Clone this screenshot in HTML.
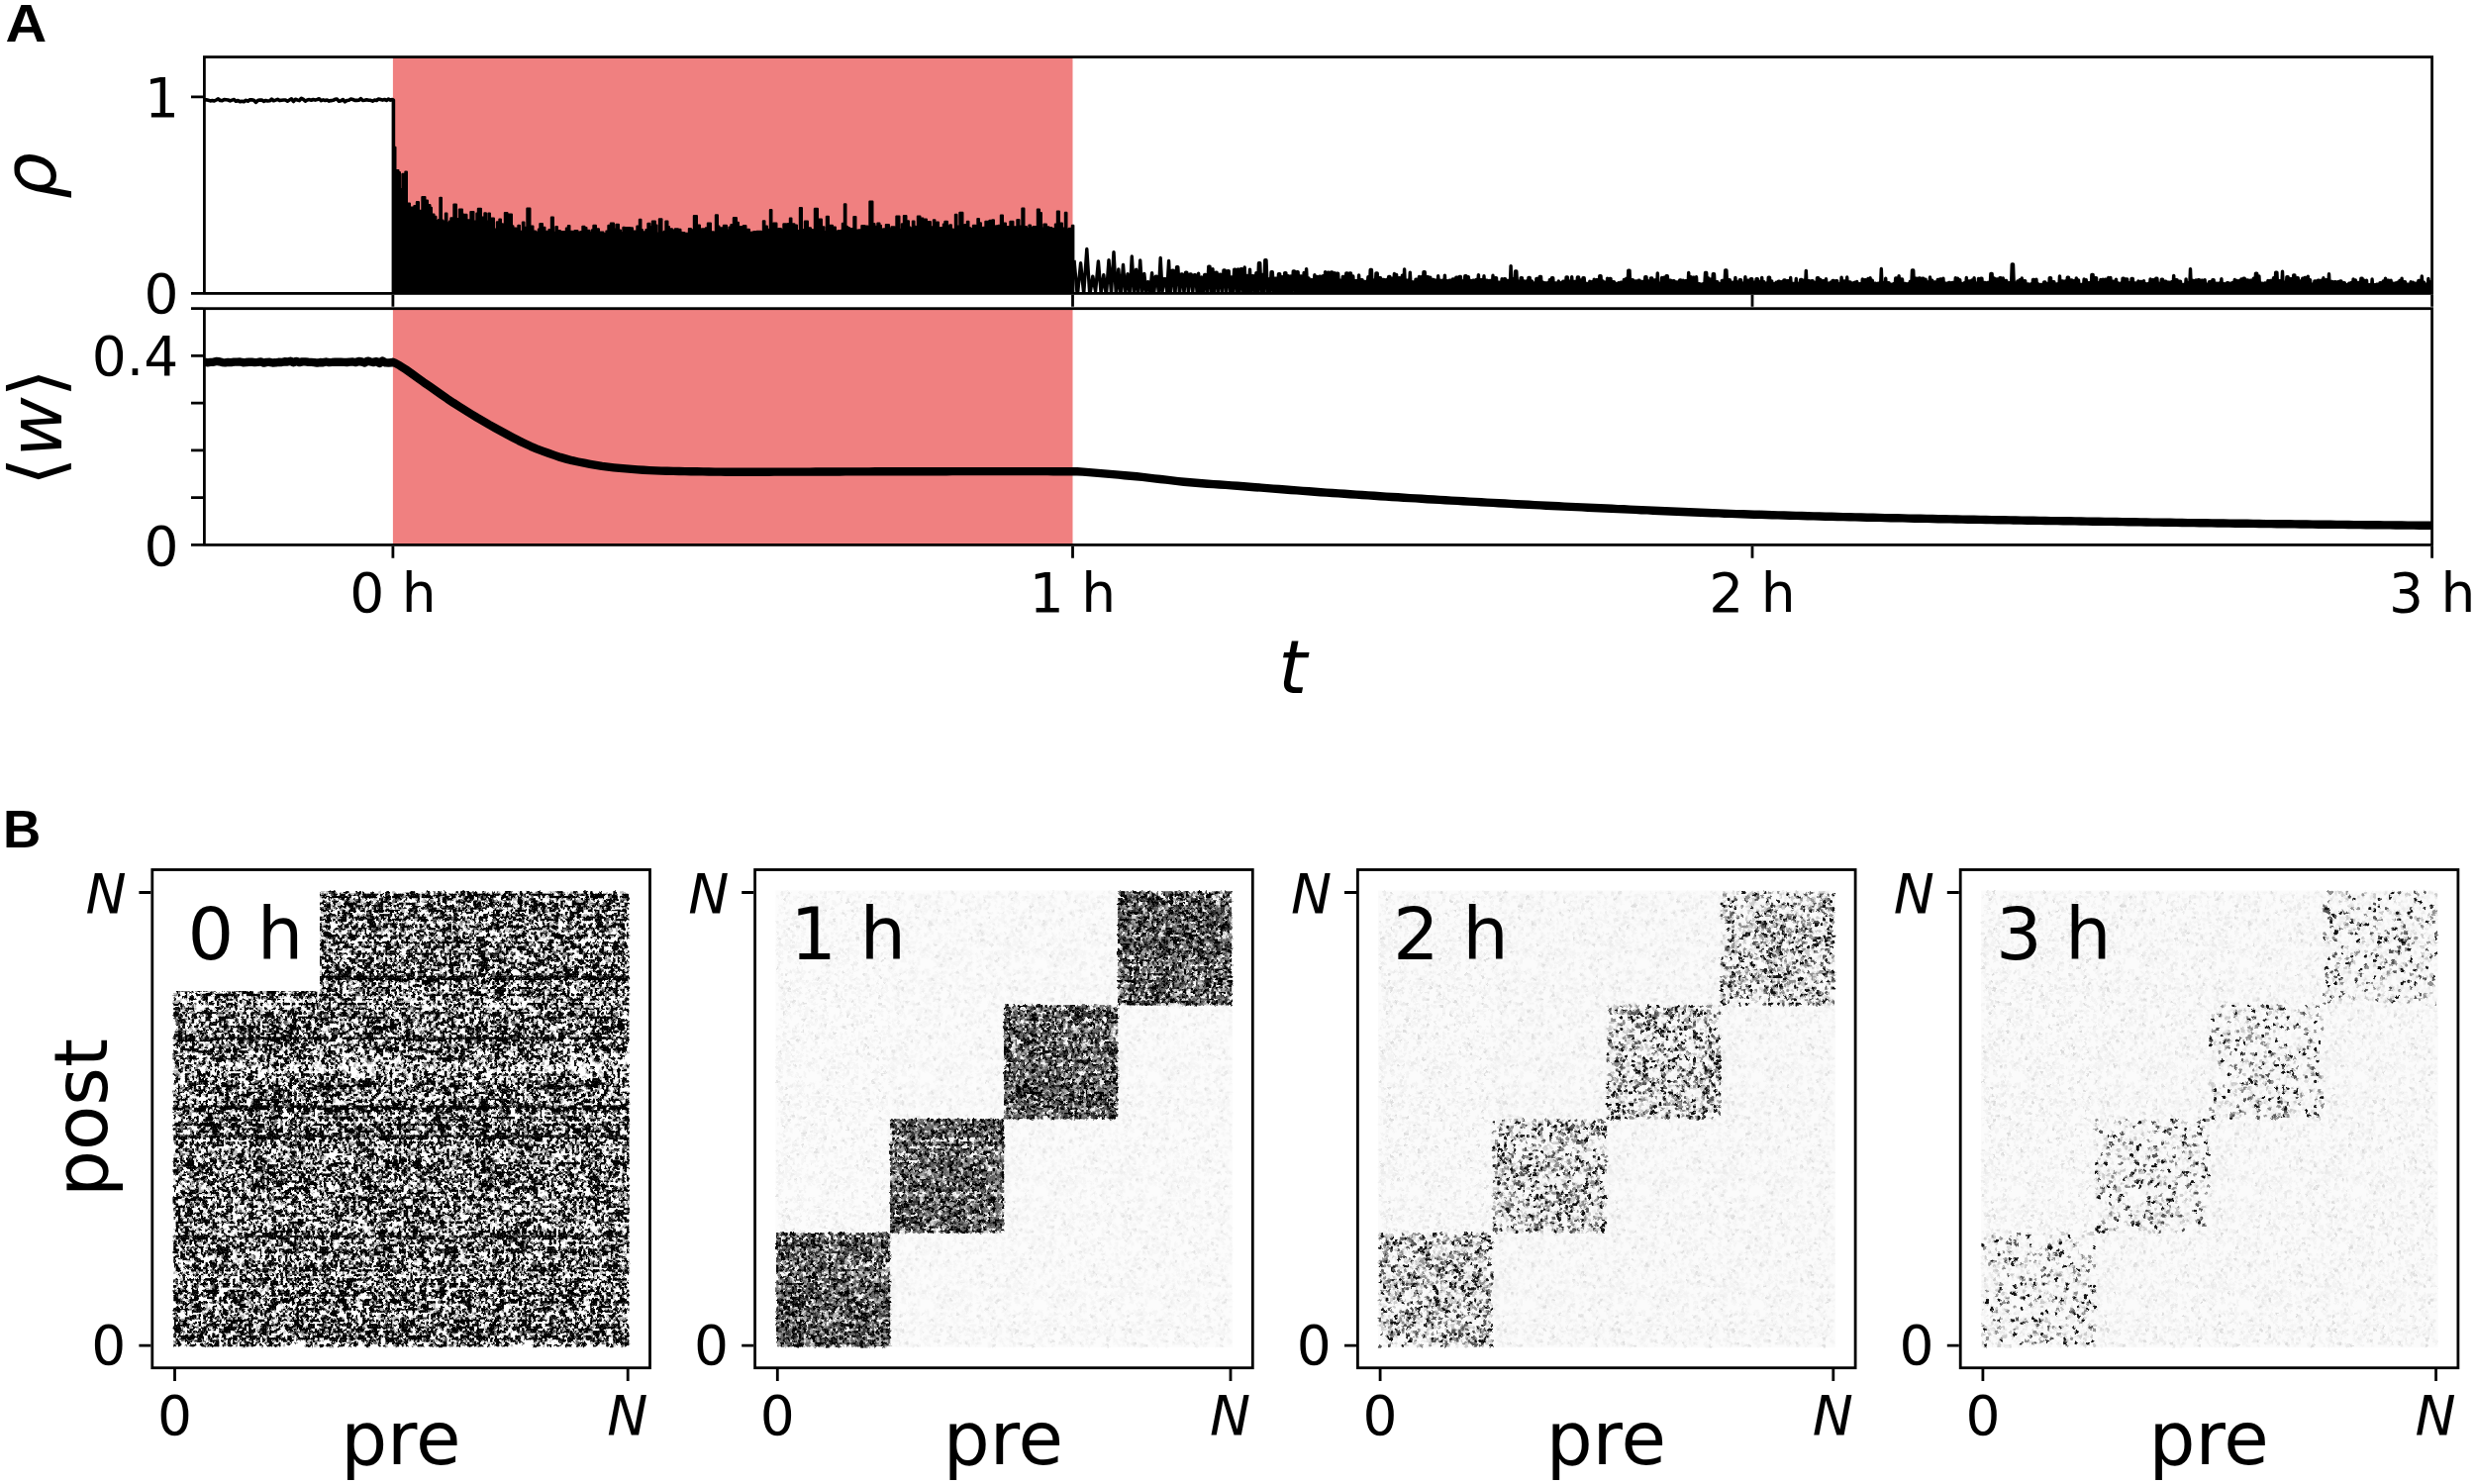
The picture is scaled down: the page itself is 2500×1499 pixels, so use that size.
<!DOCTYPE html><html><head><meta charset="utf-8"><title>Figure</title><style>html,body{margin:0;padding:0;background:#fff}svg{display:block}</style></head><body><svg width="2500" height="1499" viewBox="0 0 2500 1499" font-family="'DejaVu Sans','Liberation Sans',sans-serif" fill="#000">
<rect width="2500" height="1499" fill="#fff"/>
<rect x="396.9" y="57.6" width="686.6" height="238.8" fill="#f08080"/>
<rect x="396.9" y="311.7" width="686.6" height="238.7" fill="#f08080"/>
<clipPath id="c1"><rect x="206.4" y="57.6" width="2250.2" height="238.8"/></clipPath>
<g fill="none" stroke="#000" stroke-linejoin="round" stroke-linecap="butt">
<g clip-path="url(#c1)">
<polyline stroke-width="3.6" points="206.4,101.1 208.4,100.8 210.4,101.3 212.4,101.9 214.4,101.5 216.4,102 218.4,101 220.4,99.9 222.4,101.5 224.4,101.6 226.4,100.6 228.4,100.8 230.4,101 232.4,101.9 234.4,101.1 236.4,100.5 238.4,102.3 240.4,101.5 242.4,102.8 244.4,102.2 246.4,102.7 248.4,101.3 250.4,102.2 252.4,100.8 254.4,100.9 256.4,101.2 258.4,103.3 260.4,101.6 262.4,101.1 264.4,101 266.4,102.4 268.4,101.5 270.4,102 272.4,101.8 274.4,100.1 276.4,101.8 278.4,101.1 280.4,100.3 282.4,101.6 284.4,101.2 286.4,101 288.4,101 290.4,102.2 292.4,101 294.4,99.9 296.4,102.5 298.4,100.3 300.4,101 302.4,101.6 304.4,99.3 306.4,100.4 308.4,102.1 310.4,101 312.4,100.6 314.4,101.2 316.4,100.5 318.4,101.1 320.4,100.5 322.4,99.8 324.4,101.7 326.4,100.9 328.4,101.5 330.4,101 332.4,102.1 334.4,101.6 336.4,101.3 338.4,100.3 340.4,100.1 342.4,102.3 344.4,101.8 346.4,100.5 348.4,102.9 350.4,101.5 352.4,101.2 354.4,100 356.4,100.5 358.4,101.4 360.4,101.4 362.4,101.3 364.4,99.7 366.4,101.5 368.4,101.3 370.4,100.8 372.4,101.2 374.4,101.3 376.4,102.1 378.4,101.1 380.4,101.5 382.4,100 384.4,100.5 386.4,101.1 388.4,100.5 390.4,101.4 392.4,100.1 394.4,101.1 396.4,100.6 397.4,101.1 397.4,296.4"/>
<polygon fill="#000" stroke-width="2.2" points="397.4,296.4 397.4,148.8 399.4,148.8 399.4,172 402.4,172 402.4,174.2 403.9,174.2 403.9,191.2 406.4,191.2 406.4,175.9 409.4,175.9 409.4,173.6 410.9,173.6 410.9,205.6 413.9,205.6 413.9,209.5 416.9,209.5 416.9,210 418.4,210 418.4,208.1 420.9,208.1 420.9,204.2 422.9,204.2 422.9,212.9 424.9,212.9 424.9,213.7 426.4,213.7 426.4,199.1 429.4,199.1 429.4,202.6 431.9,202.6 431.9,207.2 434.4,207.2 434.4,209.8 435.9,209.8 435.9,216.6 438.4,216.6 438.4,218.9 440.4,218.9 440.4,223.2 442.9,223.2 442.9,222.2 444.4,222.2 444.4,199.8 445.9,199.8 445.9,222.7 447.4,222.7 447.4,223.8 449.9,223.8 449.9,215.7 451.4,215.7 451.4,225.4 453.9,225.4 453.9,223.7 455.4,223.7 455.4,220.4 458.4,220.4 458.4,206.6 460.9,206.6 460.9,221.1 463.9,221.1 463.9,211.5 466.9,211.5 466.9,216.6 468.4,216.6 468.4,223.5 469.9,223.5 469.9,216.9 471.4,216.9 471.4,224 472.9,224 472.9,222.4 475.4,222.4 475.4,214 478.4,214 478.4,223.7 481.4,223.7 481.4,215.7 482.9,215.7 482.9,210.8 485.9,210.8 485.9,219.5 487.9,219.5 487.9,222.7 489.4,222.7 489.4,215.4 490.9,215.4 490.9,223.5 493.4,223.5 493.4,215.6 494.9,215.6 494.9,229.9 496.4,229.9 496.4,220.7 498.9,220.7 498.9,231.7 501.9,231.7 501.9,224.4 504.4,224.4 504.4,221.6 505.9,221.6 505.9,226.3 507.9,226.3 507.9,229 509.9,229 509.9,215 512.4,215 512.4,232.9 513.9,232.9 513.9,216.5 516.9,216.5 516.9,228.4 518.4,228.4 518.4,230.5 521.4,230.5 521.4,230.9 523.4,230.9 523.4,227.8 524.9,227.8 524.9,233.9 527.9,233.9 527.9,224.5 529.4,224.5 529.4,229.9 532.4,229.9 532.4,210.7 535.4,210.7 535.4,228.5 538.4,228.5 538.4,233.6 540.9,233.6 540.9,234.6 543.9,234.6 543.9,231.7 545.4,231.7 545.4,226.1 547.9,226.1 547.9,229.8 550.4,229.8 550.4,233.8 552.4,233.8 552.4,234 554.4,234 554.4,232.1 556.9,232.1 556.9,219.7 558.9,219.7 558.9,234.9 561.4,234.9 561.4,229.2 562.9,229.2 562.9,233.2 565.9,233.2 565.9,234.2 568.9,234.2 568.9,234.2 571.9,234.2 571.9,230.7 573.9,230.7 573.9,228 575.4,228 575.4,233.9 578.4,233.9 578.4,235.7 580.4,235.7 580.4,233.2 583.4,233.2 583.4,234.7 586.4,234.7 586.4,234.1 588.4,234.1 588.4,228.8 590.4,228.8 590.4,230 592.4,230 592.4,232.9 595.4,232.9 595.4,235 597.9,235 597.9,232.4 599.4,232.4 599.4,227.9 601.9,227.9 601.9,231.4 604.9,231.4 604.9,234.5 606.9,234.5 606.9,234.5 609.4,234.5 609.4,236 612.4,236 612.4,233.5 614.4,233.5 614.4,227.9 616.9,227.9 616.9,225.5 619.9,225.5 619.9,231.6 622.4,231.6 622.4,226.9 624.9,226.9 624.9,232.6 626.9,232.6 626.9,235.2 629.4,235.2 629.4,229.9 630.9,229.9 630.9,230 633.9,230 633.9,230.1 636.4,230.1 636.4,230.4 638.9,230.4 638.9,233.6 641.9,233.6 641.9,234.6 643.4,234.6 643.4,228.5 645.9,228.5 645.9,221.8 647.4,221.8 647.4,232.2 648.9,232.2 648.9,234.4 650.9,234.4 650.9,235.3 652.4,235.3 652.4,232 654.4,232 654.4,225.9 656.4,225.9 656.4,229 658.9,229 658.9,223.6 661.9,223.6 661.9,227.6 663.4,227.6 663.4,235.5 665.9,235.5 665.9,221.3 668.4,221.3 668.4,234.5 670.9,234.5 670.9,233.8 672.4,233.8 672.4,223.5 674.4,223.5 674.4,229.1 675.9,229.1 675.9,231.3 678.9,231.3 678.9,232.6 681.9,232.6 681.9,231.4 684.9,231.4 684.9,231.8 687.4,231.8 687.4,234.9 688.9,234.9 688.9,235.2 691.4,235.2 691.4,235.8 692.9,235.8 692.9,235.8 695.9,235.8 695.9,231 697.9,231 697.9,232.4 700.9,232.4 700.9,218.1 703.9,218.1 703.9,227.5 706.9,227.5 706.9,231.8 708.9,231.8 708.9,231.4 711.4,231.4 711.4,232.6 712.9,232.6 712.9,230.4 714.9,230.4 714.9,225.6 717.9,225.6 717.9,234.4 720.9,234.4 720.9,234.8 722.9,234.8 722.9,217.3 724.9,217.3 724.9,228.6 726.4,228.6 726.4,231.5 727.9,231.5 727.9,230.3 730.9,230.3 730.9,227.9 733.9,227.9 733.9,232.6 736.4,232.6 736.4,229.5 738.4,229.5 738.4,227.1 740.9,227.1 740.9,220.2 743.9,220.2 743.9,224.9 745.9,224.9 745.9,234.9 747.9,234.9 747.9,229.1 750.9,229.1 750.9,228.2 753.4,228.2 753.4,234.5 754.9,234.5 754.9,231.9 756.9,231.9 756.9,234.9 759.9,234.9 759.9,234.6 761.4,234.6 761.4,234.2 764.4,234.2 764.4,233.8 767.4,233.8 767.4,233.8 768.9,233.8 768.9,234.7 770.9,234.7 770.9,223.3 772.4,223.3 772.4,228.5 774.9,228.5 774.9,232.9 776.4,232.9 776.4,231.9 777.9,231.9 777.9,212.2 779.4,212.2 779.4,232.5 781.4,232.5 781.4,225.7 784.4,225.7 784.4,233.3 786.4,233.3 786.4,231.2 788.9,231.2 788.9,232.4 791.4,232.4 791.4,226.4 794.4,226.4 794.4,229.1 795.9,229.1 795.9,226.1 797.9,226.1 797.9,220.6 799.4,220.6 799.4,226.4 802.4,226.4 802.4,227.6 804.9,227.6 804.9,233.1 807.9,233.1 807.9,210 809.9,210 809.9,232.2 812.9,232.2 812.9,223.7 815.9,223.7 815.9,230.4 818.9,230.4 818.9,232.2 820.9,232.2 820.9,232.4 822.9,232.4 822.9,210.9 825.9,210.9 825.9,232.3 827.4,232.3 827.4,221.7 829.9,221.7 829.9,229.3 832.4,229.3 832.4,234.1 834.9,234.1 834.9,218.8 836.9,218.8 836.9,230.4 838.4,230.4 838.4,227.8 840.9,227.8 840.9,229.7 843.9,229.7 843.9,233.8 846.4,233.8 846.4,233.1 849.4,233.1 849.4,232.9 850.9,232.9 850.9,225.8 852.9,225.8 852.9,206.3 854.4,206.3 854.4,228.8 855.9,228.8 855.9,230.2 857.9,230.2 857.9,231.1 859.9,231.1 859.9,231.2 862.4,231.2 862.4,219.1 864.4,219.1 864.4,232.6 867.4,232.6 867.4,232.3 870.4,232.3 870.4,228.1 873.4,228.1 873.4,228.5 876.4,228.5 876.4,231.2 878.4,231.2 878.4,203.7 881.4,203.7 881.4,226.2 883.4,226.2 883.4,228.9 886.4,228.9 886.4,225.5 888.4,225.5 888.4,227.9 889.9,227.9 889.9,231.5 892.4,231.5 892.4,231.4 894.9,231.4 894.9,227 897.9,227 897.9,231.3 900.4,231.3 900.4,229.4 903.4,229.4 903.4,231.1 905.4,231.1 905.4,218.5 908.4,218.5 908.4,231.8 910.9,231.8 910.9,226.4 912.9,226.4 912.9,218.2 915.4,218.2 915.4,223.4 917.9,223.4 917.9,229.5 919.4,229.5 919.4,230.6 921.9,230.6 921.9,223.6 923.4,223.6 923.4,228.8 924.9,228.8 924.9,231 926.9,231 926.9,218.6 929.4,218.6 929.4,220.7 932.4,220.7 932.4,226.1 934.4,226.1 934.4,221.6 935.9,221.6 935.9,224.4 937.4,224.4 937.4,224.2 939.9,224.2 939.9,229.3 942.9,229.3 942.9,222.4 944.4,222.4 944.4,225.3 946.4,225.3 946.4,224.6 947.9,224.6 947.9,232.2 949.9,232.2 949.9,230.1 952.9,230.1 952.9,226.5 954.4,226.5 954.4,223.8 956.9,223.8 956.9,228.5 959.4,228.5 959.4,227.3 960.9,227.3 960.9,231.7 962.4,231.7 962.4,231.9 964.9,231.9 964.9,216.8 966.4,216.8 966.4,228.6 969.4,228.6 969.4,214.9 972.4,214.9 972.4,228.5 974.4,228.5 974.4,227.1 976.9,227.1 976.9,223.8 978.4,223.8 978.4,230.1 979.9,230.1 979.9,231 982.9,231 982.9,227.9 985.4,227.9 985.4,229.6 987.4,229.6 987.4,221 988.9,221 988.9,225.4 990.9,225.4 990.9,231.8 992.9,231.8 992.9,229.8 995.4,229.8 995.4,223.8 997.4,223.8 997.4,230.7 999.4,230.7 999.4,222.8 1002.4,222.8 1002.4,222.4 1003.9,222.4 1003.9,231.4 1005.9,231.4 1005.9,228.3 1008.4,228.3 1008.4,227.9 1010.9,227.9 1010.9,217.6 1012.9,217.6 1012.9,229.3 1014.4,229.3 1014.4,225.5 1015.9,225.5 1015.9,231.7 1017.4,231.7 1017.4,229.2 1020.4,229.2 1020.4,223.9 1023.4,223.9 1023.4,230.9 1024.9,230.9 1024.9,229.3 1027.4,229.3 1027.4,222 1029.4,222 1029.4,228.7 1032.4,228.7 1032.4,210.7 1034.4,210.7 1034.4,229.2 1036.9,229.2 1036.9,231 1039.4,231 1039.4,227.6 1040.9,227.6 1040.9,230.1 1043.4,230.1 1043.4,229.2 1046.4,229.2 1046.4,231.8 1047.9,231.8 1047.9,211.6 1049.9,211.6 1049.9,215.2 1051.9,215.2 1051.9,230.5 1054.4,230.5 1054.4,226.7 1056.9,226.7 1056.9,229.3 1059.4,229.3 1059.4,230.2 1062.4,230.2 1062.4,231.2 1064.4,231.2 1064.4,231.8 1065.9,231.8 1065.9,226.5 1067.9,226.5 1067.9,213.5 1069.9,213.5 1069.9,225.6 1072.9,225.6 1072.9,230.7 1075.9,230.7 1075.9,214.9 1077.4,214.9 1077.4,231.6 1079.9,231.6 1079.9,230.8 1082.9,230.8 1082.9,227.8 1083.5,227.8 1084.3,227.8 1084.3,296.4"/>
<polyline stroke-width="3.4" points="1085,262.8 1088.3,298.8 1091.6,265.8 1094.7,296.6 1097.8,251.5 1100.8,298.4 1103.8,279.1 1106.6,294.4 1109.4,263.9 1112.1,295.9 1114.8,277.8 1117.4,298.9 1120,262.7 1122.5,296.5 1125,254.6 1127.4,298.6 1129.8,272 1132.1,298.6 1134.5,267.5 1136.7,296.3 1139,276.6 1141.2,298 1143.3,259 1145.5,296.4 1147.6,272.2 1149.7,297.4 1151.7,262.9 1153.8,295.3 1155.8,276.5 1157.7,294.4 1159.7,284.6 1161.6,296.2 1163.6,275.7 1165.5,298.4 1167.3,279.3 1168.5,279.3 1170.4,295.6 1172.2,260.5 1174,295 1175.8,281.8 1177,281.8 1178.8,294.8 1180.6,263.5 1182.3,297.8 1184,273.2 1185.2,273.2 1186.9,298.1 1188.6,269.6 1189.8,269.6 1191.5,298.6 1193.1,276.9 1194.3,276.9 1196,296.1 1197.6,275.1 1198.8,275.1 1200.4,295.8 1202,277 1203.2,277 1204.8,294.8 1206.3,277.7 1207.5,277.7 1209.1,294.9 1210.6,276.1 1212.1,295.8 1213.7,279.9 1215.2,298.4 1216.7,277.5 1217.9,277.5 1219.4,297.9 1220.8,269.2 1222,269.2 1223.5,298.1 1225,271.8 1226.4,298 1227.9,275.1 1229.1,275.1 1230.5,295.1 1231.9,277.1 1233.1,277.1 1234.6,296.3 1236,272.9 1237.2,272.9 1238.6,294.7 1240,273.6 1241.2,273.6 1242.6,295.5 1243.9,280 1245.3,296.5 1246.7,272.2 1247.9,272.2 1249.3,297.4 1250.6,271.9 1252,296.9 1253.3,271.8 1254.5,271.8 1255.8,294.8 1257.2,270 1258.5,297.7 1259.8,278.4 1261.2,295.5 1262.5,272.2 1263.8,298.3 1265.1,278.6 1266.3,278.6 1267.6,295.3 1268.9,275.6 1270.2,297.3 1271.5,265.6 1272.7,265.6 1274,297.8 1275.3,277.4 1276.6,295.8 1277.8,262.8 1279,262.8 1280.3,295.7 1281.6,282 1282.9,295.3 1284.1,274.8 1285.3,274.8 1286.6,295.9 1287.8,281.1 1289,281.1 1290.3,296.4 1291.5,276.7 1292.7,276.7 1294,297.6 1295.2,279.6 1296.5,296.6 1297.7,275.6 1298.9,275.6 1300.1,298 1301.4,278.7 1302.6,298.1 1303.8,279 1305,296.4 1306.3,273.9 1307.5,273.9 1308.7,296.3 1309.9,274.7 1311.1,274.7 1312.3,295.7 1313.5,278.9 1314.7,278.9 1315.9,297.8 1317.1,275.5 1318.4,296.4 1319.6,271.6 1320.8,295.6 1322,280.9 1323.2,296.8 1324.3,282.7 1325.5,282.7 1326.7,297 1327.9,277.7 1329.1,297.7 1330.3,279.4 1331.5,297.9 1332.7,279.1 1333.9,279.1 1335.1,297.4 1336.3,278.7 1337.4,297.9 1338.6,274.6 1339.8,295.6 1341,275.2 1342.2,275.2 1343.3,297 1344.5,275 1345.7,275 1346.9,296.2 1348.1,275.6 1349.2,295.7 1350.4,276.3 1351.6,276.3 1352.8,296.1 1353.9,283.2 1355.1,296.6 1356.3,279.5 1357.5,279.5 1358.6,295.4 1359.8,275.9 1361,275.9 1362.1,297.7 1363.3,276 1364.5,276 1365.7,295.7 1366.8,279 1368,297.9 1369.1,283.8 1370.3,283.8 1371.5,296.8 1372.6,277.9 1373.8,297.9 1374.9,282.6 1376.1,282.6 1377.3,296.7 1378.4,284.4 1379.6,284.4 1380.8,297 1381.9,279.8 1383.1,296.2 1384.2,272.5 1385.4,272.5 1386.5,296.1 1387.7,283.3 1388.8,296.5 1390,275.9 1391.2,275.9 1392.3,296.3 1393.4,280.8 1394.6,280.8 1395.8,296.8 1396.9,282.5 1398.1,282.5 1399.3,296.9 1400.4,282.4 1401.5,297.2 1402.7,279.5 1403.9,279.5 1405,296.7 1406.1,281.2 1407.3,297.6 1408.4,276.5 1409.5,296.5 1410.6,277.4 1411.8,297.4 1412.9,280.7 1414.1,280.7 1415.2,297.8 1416.4,278.2 1417.5,297.2 1418.6,271.9 1419.7,296.9 1420.9,283.3 1422.1,283.3 1423.2,296.3 1424.3,275.1 1425.5,296 1426.6,284.9 1427.8,284.9 1428.9,296.4 1430,282.1 1431.2,282.1 1432.3,296.8 1433.5,279.4 1434.6,297.1 1435.7,279.6 1436.8,296.9 1438,274.7 1439.2,274.7 1440.3,297.7 1441.4,279.8 1442.6,279.8 1443.7,297.7 1444.8,280.2 1446,297.6 1447.1,282.5 1448.3,282.5 1449.4,297.2 1450.5,283.2 1451.6,297.1 1452.7,278.8 1453.9,297 1455,283.2 1456.1,297.6 1457.2,283.2 1458.3,296.6 1459.4,278.2 1460.6,296.6 1461.7,283.8 1462.8,296 1463.9,283.2 1465.1,283.2 1466.2,296.5 1467.3,282 1468.5,282 1469.7,296.6 1470.8,280.1 1472,280.1 1473.1,297.1 1474.2,279.5 1475.4,279.5 1476.5,296.9 1477.6,283.9 1478.7,296 1479.8,278.8 1481,278.8 1482.2,296.3 1483.3,279.8 1484.4,296.3 1485.5,283.4 1486.6,297.2 1487.7,283.2 1488.9,283.2 1490,297.1 1491.1,282.4 1492.2,296.6 1493.4,277.7 1494.5,297.6 1495.6,282.7 1496.8,282.7 1497.9,296.4 1499,278.8 1500.1,297 1501.2,283.1 1502.4,283.1 1503.5,297.2 1504.6,283.5 1505.8,283.5 1506.9,297.4 1508,278.3 1509.2,296.3 1510.3,280.7 1511.5,280.7 1512.6,297.6 1513.7,285.2 1514.9,285.2 1516,296.2 1517.1,281.7 1518.2,297.5 1519.3,281.6 1520.5,281.6 1521.6,296.2 1522.7,283.4 1523.9,283.4 1525,296.7 1526.1,268.6 1527.2,296.9 1528.4,281.8 1529.5,296.1 1530.6,274 1531.8,274 1532.9,297.4 1534,284.2 1535.1,296.4 1536.2,280.6 1537.4,280.6 1538.5,297 1539.6,283.9 1540.7,297.6 1541.8,284 1542.9,296.7 1544,280.4 1545.2,280.4 1546.3,297.2 1547.4,284 1548.5,296.7 1549.6,286 1550.7,296.3 1551.9,281.5 1553.1,281.5 1554.2,296.7 1555.3,279.4 1556.5,279.4 1557.6,297.7 1558.7,285.3 1559.8,296.2 1560.9,285.8 1562,296.7 1563.1,285.8 1564.2,296.7 1565.3,282.8 1566.4,297 1567.5,280.7 1568.7,280.7 1569.8,297.3 1570.9,285.9 1572.1,285.9 1573.2,297.1 1574.3,283.9 1575.4,297.6 1576.5,285.6 1577.6,297 1578.7,284.3 1579.9,284.3 1581,296.5 1582.1,279.9 1583.3,279.9 1584.4,296.4 1585.5,284.1 1586.6,296.6 1587.7,279.7 1588.9,297 1590,284.4 1591.2,284.4 1592.3,296.6 1593.4,280 1594.6,280 1595.7,297.1 1596.8,282.9 1597.9,296.4 1599,280.8 1600.2,280.8 1601.3,297.1 1602.4,286.5 1603.6,286.5 1604.7,297.5 1605.8,284.1 1606.9,297.6 1608,284.8 1609.1,296.8 1610.2,282.2 1611.3,296.6 1612.4,282.6 1613.6,282.6 1614.7,297.1 1615.8,278.7 1617,278.7 1618.1,297.1 1619.2,284 1620.3,297 1621.4,285.1 1622.5,297 1623.6,281.1 1624.7,296.6 1625.8,281.4 1627,281.4 1628.1,296.7 1629.2,284.7 1630.4,284.7 1631.5,297.1 1632.6,286.5 1633.7,296.7 1634.8,285.7 1635.9,297.5 1637,285.2 1638.2,285.2 1639.3,297.4 1640.4,282.5 1641.5,297 1642.6,281.4 1643.7,296.7 1644.8,273.1 1646,273.1 1647.1,297.1 1648.2,282.7 1649.4,282.7 1650.5,297.3 1651.6,283.9 1652.8,283.9 1653.9,297.5 1655,283.3 1656.2,283.3 1657.3,296.5 1658.4,284.5 1659.6,284.5 1660.7,297.5 1661.8,279.8 1663,279.8 1664.1,297.1 1665.2,283.9 1666.3,296.7 1667.5,281 1668.7,281 1669.8,297.3 1670.9,282.9 1672.1,282.9 1673.2,297.1 1674.3,275.9 1675.4,297.3 1676.5,286.5 1677.6,297.4 1678.7,280.4 1679.8,297.4 1680.9,280.1 1682,296.7 1683.1,278.8 1684.3,278.8 1685.4,296.7 1686.5,283.3 1687.7,283.3 1688.8,297.1 1689.9,283.8 1691.1,283.8 1692.2,297.3 1693.3,285 1694.5,285 1695.6,297.3 1696.7,282.9 1697.9,282.9 1699,297.2 1700.1,283.1 1701.2,296.7 1702.3,283.6 1703.5,283.6 1704.6,297.3 1705.7,275.4 1706.8,297.2 1707.9,279.8 1709,297.4 1710.1,280.2 1711.3,280.2 1712.4,296.7 1713.5,279.8 1714.6,297.3 1715.7,286.7 1716.9,286.7 1718,296.6 1719.1,286.9 1720.3,286.9 1721.4,297.5 1722.5,275.5 1723.7,275.5 1724.8,296.7 1725.9,280.9 1727,296.6 1728.1,282.3 1729.2,296.6 1730.3,276.8 1731.5,276.8 1732.6,297 1733.7,284.7 1734.9,284.7 1736,297.3 1737.1,286.7 1738.2,297.3 1739.3,283.5 1740.5,283.5 1741.6,297.2 1742.7,273 1743.9,273 1745,297 1746.1,282.8 1747.3,282.8 1748.4,297.2 1749.5,285.2 1750.7,285.2 1751.8,296.7 1752.9,280.4 1754,297.1 1755.1,284.9 1756.2,297.2 1757.3,282.7 1758.5,282.7 1759.6,296.8 1760.7,286.2 1761.8,296.8 1762.9,279.7 1764,297.2 1765.1,283.1 1766.3,283.1 1767.4,297.1 1768.5,281.7 1769.7,281.7 1770.8,296.7 1771.9,285.2 1773,296.7 1774.1,281.6 1775.3,281.6 1776.4,296.8 1777.5,284.4 1778.6,297.1 1779.7,280.4 1780.8,297 1781.9,284.6 1783,297 1784.1,286.3 1785.2,297.4 1786.3,280.1 1787.5,280.1 1788.6,296.8 1789.7,283.9 1790.8,297 1791.9,286.7 1793,296.8 1794.1,285.1 1795.2,297.2 1796.3,284.1 1797.5,284.1 1798.6,297.3 1799.7,284.7 1800.8,297.1 1801.9,282.9 1803.1,282.9 1804.2,296.9 1805.3,283.6 1806.5,283.6 1807.6,297 1808.7,280.5 1809.8,296.9 1810.9,286.5 1812.1,286.5 1813.2,297.3 1814.3,281.5 1815.4,296.8 1816.5,286.5 1817.6,296.8 1818.7,282.4 1819.9,282.4 1821,297 1822.1,283.1 1823.2,296.9 1824.3,273.4 1825.4,297.2 1826.5,283.7 1827.7,283.7 1828.8,297.2 1829.9,283.6 1831.1,283.6 1832.2,296.9 1833.3,285.4 1834.4,297 1835.5,280.7 1836.7,280.7 1837.8,296.9 1838.9,282.5 1840,296.8 1841.1,283.7 1842.3,283.7 1843.4,297.3 1844.5,281.6 1845.6,297.1 1846.7,286.1 1847.8,297.3 1848.9,285.3 1850,296.9 1851.1,283.5 1852.3,283.5 1853.4,297.3 1854.5,283.6 1855.7,283.6 1856.8,297.2 1857.9,286.8 1859,297 1860.1,280.1 1861.2,296.8 1862.3,284 1863.5,284 1864.6,297.1 1865.7,280 1866.8,296.9 1867.9,284.9 1869.1,284.9 1870.2,297.3 1871.3,285.9 1872.4,297.4 1873.5,285.1 1874.6,296.9 1875.7,284.4 1876.8,297.3 1877.9,286.8 1879.1,286.8 1880.2,296.8 1881.3,281.9 1882.4,297 1883.5,282.7 1884.7,282.7 1885.8,297.3 1886.9,281.5 1888,297.4 1889.1,280.7 1890.2,297 1891.3,283.3 1892.4,297 1893.5,286.1 1894.7,286.1 1895.8,297.3 1896.9,286.3 1898.1,286.3 1899.2,297 1900.3,271.5 1901.4,297.3 1902.5,285.8 1903.6,297.4 1904.7,281.2 1905.8,297.2 1906.9,285.6 1908.1,285.6 1909.2,296.9 1910.3,287.3 1911.4,297.4 1912.5,286.8 1913.6,297.2 1914.7,281 1915.9,281 1917,297.3 1918.1,278.7 1919.2,297 1920.3,282 1921.5,282 1922.6,297 1923.7,286.5 1924.9,286.5 1926,297.3 1927.1,286.6 1928.2,297.2 1929.3,284.5 1930.4,297.1 1931.5,273 1932.7,273 1933.8,297 1934.9,281.3 1936.1,281.3 1937.2,297.1 1938.3,281 1939.5,281 1940.6,297.3 1941.7,281.2 1942.9,281.2 1944,297 1945.1,282.3 1946.2,297 1947.3,284.9 1948.4,297 1949.5,280 1950.6,297 1951.7,283.2 1952.8,297 1953.9,285 1955.1,285 1956.2,297 1957.3,282.4 1958.4,297 1959.5,281.9 1960.7,281.9 1961.8,297.1 1962.9,281.1 1964,297.2 1965.1,286.3 1966.3,286.3 1967.4,297.2 1968.5,285.5 1969.7,285.5 1970.8,297.1 1971.9,285.5 1973.1,285.5 1974.2,297.1 1975.3,280.7 1976.4,297.2 1977.5,281.3 1978.6,296.9 1979.7,282.6 1980.8,297 1981.9,286.5 1983,297.3 1984.1,285.6 1985.2,297.3 1986.3,280.5 1987.4,297 1988.5,283.9 1989.7,283.9 1990.8,297.3 1991.9,282.9 1993,297.2 1994.1,280.7 1995.2,296.9 1996.3,286.3 1997.4,297 1998.5,281.4 1999.6,297.2 2000.7,281.2 2001.9,281.2 2003,297 2004.1,285.4 2005.3,285.4 2006.4,297.1 2007.5,285.4 2008.7,285.4 2009.8,297.2 2010.9,276.4 2012.1,276.4 2013.2,297.2 2014.3,280.9 2015.4,297.3 2016.5,281.9 2017.7,281.9 2018.8,297.1 2019.9,280.8 2021.1,280.8 2022.2,297.3 2023.3,281 2024.4,297.2 2025.5,283.5 2026.7,283.5 2027.8,297.2 2028.9,285.7 2030.1,285.7 2031.2,297.2 2032.3,267 2033.5,267 2034.6,297.1 2035.7,285.9 2036.8,297 2037.9,283.9 2039,297.1 2040.1,282.6 2041.2,297.1 2042.3,281 2043.4,297.3 2044.5,283.7 2045.7,283.7 2046.8,297 2047.9,287 2049.1,287 2050.2,297 2051.3,286.9 2052.4,297.1 2053.5,282.4 2054.7,282.4 2055.8,297.1 2056.9,282.1 2058,297.3 2059.1,286.9 2060.2,297.2 2061.3,287.4 2062.5,287.4 2063.6,297.1 2064.7,285 2065.9,285 2067,297.1 2068.1,286.8 2069.2,297.2 2070.3,280.6 2071.5,280.6 2072.6,297 2073.7,284.8 2074.9,284.8 2076,297 2077.1,287 2078.3,287 2079.4,297.2 2080.5,278.9 2081.6,297.2 2082.7,283.9 2083.9,283.9 2085,297 2086.1,283.9 2087.2,297 2088.3,280.3 2089.5,280.3 2090.6,297 2091.7,283 2092.9,283 2094,297.1 2095.1,283.7 2096.2,297 2097.3,280.9 2098.4,297.2 2099.5,282.9 2100.6,297.3 2101.7,287.4 2102.9,287.4 2104,297.1 2105.1,282 2106.2,297 2107.3,282.8 2108.4,297.3 2109.5,285.6 2110.7,285.6 2111.8,297.2 2112.9,277.4 2114.1,277.4 2115.2,297.2 2116.3,280.6 2117.5,280.6 2118.6,297.3 2119.7,285.6 2120.8,297.3 2121.9,282.5 2123,297.2 2124.1,282.1 2125.2,297.1 2126.3,282.2 2127.5,282.2 2128.6,297 2129.7,280.5 2130.8,297 2131.9,280.5 2133,297.2 2134.1,284.2 2135.3,284.2 2136.4,297.3 2137.5,282.1 2138.6,297.2 2139.7,285.9 2140.8,297.2 2141.9,286.1 2143,297 2144.1,281.2 2145.3,281.2 2146.4,297 2147.5,282 2148.7,282 2149.8,297.2 2150.9,285.8 2152,297.2 2153.1,281.4 2154.3,281.4 2155.4,297.1 2156.5,286 2157.7,286 2158.8,297.2 2159.9,283.9 2161,297.2 2162.1,284.4 2163.3,284.4 2164.4,297.2 2165.5,283.6 2166.6,297.1 2167.7,286.7 2168.8,297.1 2169.9,286.4 2171,297.1 2172.1,281.9 2173.2,297.1 2174.3,282.8 2175.5,282.8 2176.6,297 2177.7,281.3 2178.9,281.3 2180,297.1 2181.1,286.4 2182.2,297.2 2183.3,282.3 2184.5,282.3 2185.6,297.1 2186.7,284.2 2187.9,284.2 2189,297.1 2190.1,285.2 2191.3,285.2 2192.4,297.1 2193.5,284.8 2194.6,297.1 2195.7,278.4 2196.8,297.1 2197.9,282.6 2199.1,282.6 2200.2,297.2 2201.3,284.1 2202.5,284.1 2203.6,297.2 2204.7,287.4 2205.9,287.4 2207,297.1 2208.1,281.9 2209.2,297.1 2210.3,285.8 2211.4,297.1 2212.5,271.6 2213.6,297.1 2214.7,283.4 2215.9,283.4 2217,297.2 2218.1,282.9 2219.2,297.2 2220.3,282.6 2221.5,282.6 2222.6,297.1 2223.7,283.2 2224.9,283.2 2226,297.2 2227.1,282.6 2228.2,297.1 2229.3,287.2 2230.4,297.1 2231.5,284.6 2232.7,284.6 2233.8,297.1 2234.9,282.7 2236.1,282.7 2237.2,297.3 2238.3,286.2 2239.5,286.2 2240.6,297.2 2241.7,285.9 2242.8,297.1 2243.9,281.6 2245,297.2 2246.1,286.6 2247.3,286.6 2248.4,297.1 2249.5,285.8 2250.7,285.8 2251.8,297.2 2252.9,286.1 2254,297.1 2255.1,285.4 2256.2,297.1 2257.3,282.5 2258.4,297.2 2259.5,283.4 2260.6,297.2 2261.7,283.7 2262.8,297.2 2263.9,281.9 2265,297.2 2266.1,281.3 2267.3,281.3 2268.4,297.2 2269.5,283 2270.7,283 2271.8,297.2 2272.9,283.1 2274.1,283.1 2275.2,297.2 2276.3,281.1 2277.4,297.1 2278.5,276.1 2279.7,276.1 2280.8,297.1 2281.9,278.9 2283,297.1 2284.1,286.1 2285.3,286.1 2286.4,297.2 2287.5,286 2288.7,286 2289.8,297.1 2290.9,283.5 2292,297.2 2293.1,283.4 2294.3,283.4 2295.4,297.2 2296.5,280.7 2297.6,297.2 2298.7,275.1 2299.9,275.1 2301,297.2 2302.1,283.8 2303.3,283.8 2304.4,297.2 2305.5,274.3 2306.6,297.2 2307.7,285.1 2308.8,297.2 2309.9,279.7 2311.1,279.7 2312.2,297.2 2313.3,281.8 2314.5,281.8 2315.6,297.2 2316.7,278 2317.9,278 2319,297.1 2320.1,280.8 2321.3,280.8 2322.4,297.2 2323.5,284 2324.6,297.1 2325.7,281.3 2326.8,297.2 2327.9,280.5 2329.1,280.5 2330.2,297.2 2331.3,279.2 2332.4,297.1 2333.5,282.6 2334.6,297.1 2335.7,287.1 2336.8,297.2 2337.9,284 2339.1,284 2340.2,297.1 2341.3,283.1 2342.5,283.1 2343.6,297.1 2344.7,283.1 2345.8,297.1 2346.9,280.8 2348,297.2 2349.1,282.7 2350.3,282.7 2351.4,297.2 2352.5,276.6 2353.6,297.2 2354.7,284.4 2355.9,284.4 2357,297.1 2358.1,284.8 2359.3,284.8 2360.4,297.2 2361.5,284.7 2362.6,297.1 2363.7,284 2364.9,284 2366,297.1 2367.1,285.6 2368.3,285.6 2369.4,297.1 2370.5,287.6 2371.6,297.2 2372.7,286.2 2373.8,297.2 2374.9,285.4 2376,297.2 2377.1,281.9 2378.2,297.2 2379.3,283 2380.4,297.2 2381.5,285.5 2382.7,285.5 2383.8,297.1 2384.9,281.2 2386.1,281.2 2387.2,297.1 2388.3,283.1 2389.4,297.2 2390.5,283.2 2391.6,297.2 2392.7,287.6 2393.9,287.6 2395,297.2 2396.1,282 2397.2,297.1 2398.3,287.7 2399.4,297.1 2400.5,287.1 2401.7,287.1 2402.8,297.2 2403.9,285.8 2405.1,285.8 2406.2,297.2 2407.3,283.9 2408.4,297.2 2409.5,281.1 2410.6,297.2 2411.7,283.1 2412.9,283.1 2414,297.2 2415.1,283.3 2416.2,297.2 2417.3,286.2 2418.4,297.1 2419.5,285.9 2420.6,297.2 2421.7,285.1 2422.8,297.2 2423.9,283.4 2425,297.1 2426.1,281.2 2427.2,297.2 2428.3,284.6 2429.5,284.6 2430.6,297.2 2431.7,287.3 2432.9,287.3 2434,297.2 2435.1,284.8 2436.2,297.2 2437.3,285.1 2438.4,297.2 2439.5,286.2 2440.7,286.2 2441.8,297.2 2442.9,283.4 2444.1,283.4 2445.2,297.2 2446.3,279 2447.4,297.2 2448.5,285.3 2449.6,297.1 2450.7,287.3 2451.8,297.2 2452.9,281.4 2454,297.2 2455.1,284.6 2456.2,297.1"/>
</g>
<polyline stroke-width="8.4" points="206.4,365.5 209.4,366.3 212.4,365.9 215.4,365.8 218.4,364.9 221.4,365.2 224.4,366.1 227.4,366.4 230.4,365.9 233.4,366.1 236.4,365.6 239.4,365.6 242.4,365.5 245.4,366.2 248.4,366 251.4,365.7 254.4,365.7 257.4,366.1 260.4,365.9 263.4,365.4 266.4,366.6 269.4,365.9 272.4,365.8 275.4,366.5 278.4,366.3 281.4,365.8 284.4,366 287.4,365.3 290.4,365.5 293.4,364.8 296.4,366.3 299.4,364.9 302.4,366.1 305.4,365.4 308.4,365.4 311.4,365.7 314.4,365.9 317.4,366.1 320.4,366.6 323.4,366 326.4,366.2 329.4,365.5 332.4,366.1 335.4,365.9 338.4,365.6 341.4,365.8 344.4,365.8 347.4,365.9 350.4,366 353.4,365.6 356.4,365.5 359.4,366.1 362.4,365 365.4,365.5 368.4,366.5 371.4,364.6 374.4,365.5 377.4,366.1 380.4,365.1 383.4,367 386.4,364.6 389.4,366.4 392.4,366.5 395.4,366.2 396.9,365.8 399.4,366.9 404,369.4 410,373.3 416,377.5 422,381.9 428,386.2 434,390.3 440,394.5 446,398.7 452,402.9 458,406.9 464,410.7 470,414.5 476,418.2 482,421.9 488,425.4 494,428.9 500,432.2 506,435.5 512,438.8 518,442 524,445.1 530,448 536,450.8 542,453.3 548,455.6 554,457.8 560,459.9 566,461.9 572,463.6 578,465.2 584,466.5 590,467.7 596,468.8 602,469.8 608,470.8 614,471.6 620,472.3 626,472.9 632,473.4 638,473.9 644,474.4 650,474.8 656,475.1 662,475.4 668,475.6 674,475.7 680,475.9 686,476 692,476.1 698,476.2 704,476.3 710,476.4 716,476.5 722,476.6 728,476.6 734,476.7 740,476.7 746,476.7 752,476.7 758,476.7 764,476.7 770,476.7 776,476.7 782,476.6 788,476.6 794,476.6 800,476.6 806,476.6 812,476.6 818,476.6 824,476.5 830,476.5 836,476.5 842,476.5 848,476.5 854,476.4 860,476.4 866,476.4 872,476.4 878,476.4 884,476.3 890,476.3 896,476.3 902,476.3 908,476.3 914,476.3 920,476.2 926,476.2 932,476.2 938,476.2 944,476.2 950,476.2 956,476.2 962,476.1 968,476.1 974,476.1 980,476.1 986,476.1 992,476.1 998,476.1 1004,476.1 1010,476.1 1016,476.1 1022,476.1 1028,476.1 1034,476.1 1040,476.1 1046,476.1 1052,476.1 1058,476.1 1064,476.2 1070,476.2 1076,476.2 1082,476.2 1088,476.3 1094,476.6 1100,477.1 1106,477.6 1112,478.1 1118,478.6 1124,479.1 1130,479.6 1136,480.2 1142,480.7 1148,481.3 1154,481.9 1160,482.6 1166,483.3 1172,484 1178,484.7 1184,485.4 1190,486.1 1196,486.7 1202,487.3 1208,487.8 1214,488.2 1220,488.7 1226,489.1 1232,489.5 1238,489.9 1244,490.4 1250,490.8 1256,491.3 1262,491.7 1268,492.2 1274,492.6 1280,493.1 1286,493.6 1292,494 1298,494.5 1304,495 1310,495.4 1316,495.9 1322,496.3 1328,496.8 1334,497.2 1340,497.6 1346,498 1352,498.4 1358,498.8 1364,499.2 1370,499.6 1376,500 1382,500.4 1388,500.8 1394,501.2 1400,501.6 1406,502 1412,502.3 1418,502.7 1424,503.1 1430,503.4 1436,503.8 1442,504.2 1448,504.5 1454,504.9 1460,505.2 1466,505.6 1472,505.9 1478,506.3 1484,506.6 1490,506.9 1496,507.3 1502,507.6 1508,507.9 1514,508.2 1520,508.5 1526,508.9 1532,509.2 1538,509.5 1544,509.8 1550,510.1 1556,510.4 1562,510.7 1568,511 1574,511.3 1580,511.6 1586,511.9 1592,512.1 1598,512.4 1604,512.7 1610,513 1616,513.3 1622,513.5 1628,513.8 1634,514.1 1640,514.3 1646,514.6 1652,514.9 1658,515.2 1664,515.4 1670,515.7 1676,516 1682,516.2 1688,516.5 1694,516.7 1700,517 1706,517.2 1712,517.5 1718,517.7 1724,518 1730,518.2 1736,518.4 1742,518.7 1748,518.9 1754,519.1 1760,519.3 1766,519.5 1772,519.7 1778,519.8 1784,520 1790,520.2 1796,520.4 1802,520.5 1808,520.7 1814,520.9 1820,521 1826,521.2 1832,521.4 1838,521.5 1844,521.7 1850,521.8 1856,522 1862,522.1 1868,522.2 1874,522.4 1880,522.5 1886,522.7 1892,522.8 1898,522.9 1904,523.1 1910,523.2 1916,523.3 1922,523.4 1928,523.6 1934,523.7 1940,523.8 1946,523.9 1952,524 1958,524.2 1964,524.3 1970,524.4 1976,524.5 1982,524.6 1988,524.7 1994,524.8 2000,524.9 2006,525 2012,525.1 2018,525.2 2024,525.3 2030,525.4 2036,525.5 2042,525.6 2048,525.7 2054,525.8 2060,525.9 2066,526 2072,526.1 2078,526.1 2084,526.2 2090,526.3 2096,526.4 2102,526.5 2108,526.6 2114,526.7 2120,526.8 2126,526.9 2132,526.9 2138,527 2144,527.1 2150,527.2 2156,527.3 2162,527.4 2168,527.5 2174,527.6 2180,527.6 2186,527.7 2192,527.8 2198,527.9 2204,528 2210,528.1 2216,528.1 2222,528.2 2228,528.3 2234,528.4 2240,528.5 2246,528.5 2252,528.6 2258,528.7 2264,528.8 2270,528.8 2276,528.9 2282,529 2288,529.1 2294,529.1 2300,529.2 2306,529.3 2312,529.3 2318,529.4 2324,529.5 2330,529.5 2336,529.6 2342,529.7 2348,529.7 2354,529.8 2360,529.9 2366,529.9 2372,530 2378,530.1 2384,530.1 2390,530.2 2396,530.2 2402,530.3 2408,530.4 2414,530.4 2420,530.5 2426,530.5 2432,530.6 2438,530.6 2444,530.7 2450,530.7 2456,530.8 2456.6,530.8"/>
</g>
<g fill="none" stroke="#000" stroke-width="2.8">
<rect x="206.4" y="57.6" width="2250.2" height="238.8"/>
<rect x="206.4" y="311.7" width="2250.2" height="238.7"/>
<path d="M205 296.4h-12M205 97.9h-12M205 550.4h-12M205 502.6h-12M205 454.9h-12M205 407.1h-12M205 359.4h-12M205 311.6h-12M396.9 297.8v12M396.9 551.8v12M1083.5 297.8v12M1083.5 551.8v12M1770 297.8v12M1770 551.8v12M2456.6 297.8v12M2456.6 551.8v12"/>
</g>
<g font-size="55">
<text x="181" y="118.1" text-anchor="end">1</text>
<text x="180.6" y="316.2" text-anchor="end">0</text>
<text x="180.2" y="379.2" text-anchor="end">0.4</text>
<text x="180.6" y="570.5" text-anchor="end">0</text>
<text x="396.9" y="617.8" text-anchor="middle">0 h</text>
<text x="1083.5" y="617.8" text-anchor="middle">1 h</text>
<text x="1770" y="617.8" text-anchor="middle">2 h</text>
<text x="2456.6" y="617.8" text-anchor="middle">3 h</text>
</g>
<g font-size="74" font-style="oblique">
<text transform="translate(56.3 177.4) rotate(-90)" text-anchor="middle">ρ</text>
<text transform="translate(62.2 431.6) rotate(-90)" text-anchor="middle"><tspan font-style="normal">⟨</tspan>w<tspan font-style="normal">⟩</tspan></text>
<text x="1305.8" y="700" text-anchor="middle">t</text>
</g>
<g font-family="'Liberation Sans',sans-serif" font-weight="bold" font-size="53">
<text transform="translate(5.6 42) scale(1.07 1)" font-size="54">A</text>
<text x="3" y="856">B</text>
</g>
<defs><g id="t0"><path stroke="#bbb" d="M14 0h0m19 0h0m15 0h0m14 0h0m31 0h0M0-1h0m12 0h0m11 0h0m2 0h0m13 0h0m20 0h0m1 0h0m24 0h0m6 0h0M6-2h0m6 0h0m3 0h0m29 0h0m15 0h0m3 0h0m3 0h0m24 0h0M18-3h0M37-4h0m7 0h0m48 0h0M22-5h0m1 0h0m4 0h0m1 0h0m28 0h0m36 0h0M0-6h0m48 0h0m21 0h0m8 0h0m6 0h0M17-7h0m54 0h0m6 0h0m13 0h0M16-8h0m20 0h0m8 0h0m4 0h0M7-9h0m29 0h0m36 0h0m12 0h0M3-10h0m29 0h0m3 0h0m10 0h0m3 0h0m7 0h0m2 0h0m10 0h0m4 0h0m3 0h0m10 0h0m5 0h0m9 0h0M6-11h0m39 0h0m14 0h0m9 0h0m28 0h0M25-12h0m25 0h0m24 0h0m17 0h0m5 0h0m1 0h0m1 0h0M23-13h0m3 0h0m3 0h0m1 0h0m8 0h0m8 0h0m44 0h0M13-14h0m4 0h0m3 0h0m4 0h0m7 0h0m10 0h0m1 0h0m14 0h0M12-15h0m3 0h0m13 0h0m1 0h0m5 0h0m10 0h0m30 0h0M14-16h0m1 0h0m4 0h0m6 0h0m3 0h0m40 0h0m4 0h0m18 0h0m1 0h0M7-17h0m7 0h0m23 0h0m11 0h0m2 0h0m6 0h0m5 0h0m8 0h0m28 0h0M2-18h0m6 0h0m5 0h0m1 0h0m11 0h0m10 0h0m12 0h0m11 0h0m10 0h0m5 0h0m9 0h0m13 0h0M8-19h0m11 0h0m2 0h0m9 0h0m2 0h0m24 0h0m32 0h0M6-20h0m54 0h0m9 0h0m7 0h0m5 0h0m6 0h0m2 0h0m4 0h0M2-21h0m54 0h0m9 0h0m34 0h0M2-22h0m5 0h0m61 0h0m25 0h0M63-23h0m26 0h0M1-24h0m31 0h0m6 0h0m3 0h0m40 0h0M3-25h0m1 0h0m12 0h0m23 0h0m2 0h0m26 0h0m7 0h0m7 0h0m17 0h0M1-26h0m13 0h0m2 0h0m8 0h0m17 0h0m12 0h0m13 0h0m4 0h0m13 0h0m8 0h0m3 0h0M8-27h0m3 0h0m17 0h0m63 0h0m5 0h0M4-28h0m25 0h0m3 0h0m19 0h0m4 0h0m8 0h0m8 0h0m8 0h0m2 0h0m3 0h0m13 0h0M3-29h0m6 0h0m3 0h0m22 0h0m18 0h0m8 0h0m15 0h0m15 0h0m2 0h0M2-30h0m18 0h0m2 0h0m26 0h0m2 0h0m10 0h0m1 0h0m4 0h0m3 0h0m9 0h0m7 0h0m11 0h0m2 0h0M24-31h0m26 0h0m26 0h0m9 0h0M0-32h0m8 0h0m9 0h0m25 0h0m14 0h0m1 0h0m15 0h0m8 0h0m7 0h0M31-33h0m21 0h0m26 0h0m9 0h0M15-34h0m4 0h0m12 0h0m8 0h0m3 0h0m8 0h0m1 0h0m24 0h0m8 0h0M15-35h0m4 0h0m24 0h0m2 0h0m17 0h0m18 0h0M20-36h0m2 0h0m1 0h0m7 0h0m4 0h0m4 0h0m15 0h0m32 0h0m13 0h0M6-37h0m3 0h0m8 0h0m11 0h0m5 0h0m7 0h0m1 0h0m9 0h0m20 0h0m2 0h0m6 0h0M8-38h0m19 0h0m64 0h0m1 0h0m2 0h0M18-39h0m16 0h0m34 0h0m1 0h0m7 0h0m4 0h0m5 0h0m5 0h0M18-40h0m4 0h0m6 0h0m2 0h0m17 0h0m4 0h0m22 0h0m10 0h0m3 0h0m12 0h0M2-41h0m25 0h0m33 0h0m33 0h0M36-42h0m9 0h0m25 0h0m3 0h0m13 0h0m4 0h0m6 0h0M7-43h0m7 0h0m20 0h0m6 0h0m3 0h0m5 0h0m2 0h0m13 0h0m23 0h0M11-44h0m20 0h0m63 0h0M6-45h0m8 0h0m8 0h0m20 0h0m4 0h0m26 0h0m16 0h0m2 0h0m7 0h0M18-46h0m16 0h0m8 0h0m19 0h0m5 0h0m4 0h0m24 0h0m3 0h0M28-47h0m27 0h0m2 0h0m31 0h0m9 0h0M19-48h0M54-49h0M11-50h0m14 0h0m7 0h0m11 0h0m9 0h0m3 0h0m15 0h0m5 0h0m10 0h0m10 0h0M0-51h0m10 0h0m9 0h0m1 0h0m2 0h0m7 0h0m13 0h0m5 0h0m14 0h0m1 0h0m24 0h0m10 0h0M11-52h0m22 0h0m14 0h0m12 0h0M7-53h0m8 0h0m27 0h0m27 0h0m3 0h0m11 0h0m15 0h0M10-54h0m13 0h0m14 0h0m2 0h0m2 0h0M7-55h0m14 0h0m4 0h0m20 0h0m23 0h0m9 0h0m2 0h0M3-56h0m16 0h0m2 0h0m3 0h0m16 0h0m12 0h0m16 0h0m26 0h0M3-57h0m1 0h0m50 0h0m23 0h0m6 0h0M13-58h0m11 0h0m3 0h0M0-59h0m31 0h0m10 0h0m17 0h0m4 0h0m4 0h0M5-60h0m9 0h0m13 0h0m2 0h0m20 0h0m5 0h0m4 0h0m8 0h0m2 0h0m1 0h0m6 0h0m8 0h0M9-61h0m35 0h0m22 0h0m22 0h0m6 0h0M37-62h0m5 0h0m5 0h0m2 0h0m5 0h0m4 0h0m16 0h0m16 0h0m2 0h0M7-63h0m10 0h0m15 0h0m4 0h0m7 0h0m37 0h0m19 0h0M4-64h0m10 0h0m10 0h0m8 0h0m11 0h0m3 0h0m3 0h0m32 0h0M28-65h0m34 0h0m18 0h0m5 0h0M18-66h0m30 0h0m5 0h0m5 0h0m14 0h0m3 0h0m1 0h0m7 0h0m3 0h0m9 0h0m3 0h0M2-67h0m8 0h0m5 0h0m13 0h0m5 0h0m2 0h0m11 0h0m15 0h0m18 0h0m14 0h0m3 0h0m2 0h0M11-68h0m1 0h0m4 0h0m3 0h0m12 0h0m23 0h0m11 0h0m7 0h0M11-69h0m4 0h0m7 0h0m8 0h0m3 0h0m3 0h0m4 0h0m4 0h0m51 0h0M3-70h0m3 0h0m1 0h0m4 0h0m4 0h0m17 0h0m9 0h0m13 0h0m5 0h0m11 0h0m11 0h0m15 0h0M8-71h0m25 0h0m23 0h0m20 0h0m9 0h0m12 0h0m2 0h0M31-72h0m2 0h0m2 0h0m38 0h0m8 0h0m10 0h0m4 0h0M0-73h0m44 0h0m21 0h0m2 0h0m3 0h0M37-74h0m3 0h0m5 0h0m3 0h0m5 0h0m8 0h0m26 0h0M3-75h0m9 0h0m10 0h0m5 0h0m11 0h0m2 0h0m15 0h0m7 0h0m14 0h0m4 0h0M39-76h0m45 0h0m2 0h0m4 0h0m7 0h0M10-77h0m10 0h0m2 0h0m30 0h0m30 0h0m10 0h0m5 0h0M22-78h0m29 0h0m9 0h0m6 0h0M1-79h0m21 0h0m1 0h0m14 0h0m20 0h0m1 0h0m2 0h0m29 0h0m2 0h0m1 0h0M13-80h0m24 0h0m15 0h0m13 0h0m3 0h0M23-81h0m3 0h0m16 0h0m5 0h0m2 0h0m13 0h0m19 0h0m2 0h0m4 0h0m11 0h0M9-82h0m3 0h0m1 0h0m6 0h0m30 0h0m6 0h0m3 0h0m1 0h0m6 0h0M2-83h0m20 0h0m3 0h0m6 0h0m15 0h0m20 0h0m26 0h0M0-84h0m3 0h0m2 0h0m1 0h0m12 0h0m8 0h0m1 0h0m23 0h0m14 0h0m11 0h0m4 0h0m12 0h0m6 0h0M3-85h0m7 0h0m5 0h0m2 0h0m7 0h0m2 0h0m1 0h0m5 0h0m1 0h0m1 0h0m13 0h0m3 0h0m5 0h0m3 0h0m3 0h0m1 0h0m2 0h0m12 0h0m8 0h0m4 0h0M11-86h0m11 0h0m1 0h0m1 0h0m8 0h0m7 0h0m23 0h0m11 0h0M19-87h0m6 0h0m5 0h0m16 0h0m1 0h0m3 0h0m23 0h0m1 0h0m7 0h0m7 0h0m3 0h0m8 0h0M22-88h0m9 0h0M18-89h0m11 0h0m8 0h0m16 0h0m12 0h0m4 0h0m8 0h0m1 0h0m7 0h0M0-90h0m17 0h0m6 0h0m14 0h0m7 0h0m5 0h0m26 0h0M6-91h0m12 0h0m38 0h0m26 0h0m1 0h0M12-92h0m11 0h0m63 0h0M5-93h0m7 0h0m11 0h0m24 0h0m10 0h0m40 0h0M16-94h0m37 0h0m8 0h0m2 0h0m26 0h0M11-95h0m21 0h0m7 0h0m4 0h0m6 0h0m2 0h0m34 0h0m7 0h0M14-96h0m16 0h0m29 0h0M21-97h0m19 0h0m34 0h0m22 0h0M0-98h0m13 0h0m58 0h0m13 0h0m6 0h0M19-99h0m73 0h0m3 0h0m1 0h0m1 0h0M3-100h0m14 0h0m5 0h0m17 0h0m27 0h0m3 0h0m15 0h0m8 0h0m1 0h0M7-101h0m6 0h0m4 0h0m2 0h0m8 0h0m16 0h0m1 0h0m13 0h0m6 0h0m10 0h0m2 0h0m4 0h0M2-102h0m33 0h0m3 0h0m6 0h0m9 0h0m6 0h0m6 0h0m21 0h0M25-103h0m10 0h0m6 0h0m19 0h0m20 0h0m18 0h0M30-104h0m13 0h0m19 0h0M48-105h0m19 0h0m5 0h0m27 0h0M7-106h0m42 0h0m7 0h0m18 0h0m15 0h0m4 0h0M10-107h0m60 0h0m5 0h0m1 0h0M7-108h0m15 0h0m4 0h0m24 0h0m20 0h0m19 0h0M16-109h0m4 0h0m2 0h0m34 0h0m9 0h0m14 0h0m6 0h0m8 0h0m1 0h0m2 0h0M9-110h0m4 0h0m51 0h0m3 0h0m25 0h0M0-111h0m1 0h0m16 0h0m7 0h0m40 0h0m14 0h0M8-112h0m53 0h0m12 0h0m2 0h0m11 0h0M4-113h0m4 0h0m24 0h0m3 0h0m43 0h0m8 0h0m1 0h0M16-114h0m18 0h0m26 0h0M66-115h0m5 0h0m3 0h0m1 0h0m1 0h0m18 0h0M6-116h0m9 0h0m1 0h0m4 0h0m6 0h0m16 0h0m4 0h0m3 0h0m6 0h0m2 0h0m16 0h0m4 0h0M35-117h0m18 0h0m3 0h0m31 0h0m8 0h0M2-118h0m7 0h0m18 0h0m8 0h0m12 0h0m33 0h0m4 0h0m4 0h0m10 0h0M2-119h0m6 0h0m36 0h0m6 0h0m22 0h0m16 0h0M0-120h0m1 0h0m5 0h0m35 0h0m8 0h0m17 0h0m4 0h0m2 0h0m2 0h0m1 0h0m6 0h0m6 0h0m3 0h0M9-121h0m5 0h0m16 0h0m8 0h0m3 0h0m19 0h0m3 0h0m11 0h0m10 0h0m3 0h0m6 0h0M0-122h0m4 0h0m23 0h0m25 0h0m14 0h0m15 0h0m16 0h0m2 0h0M11-123h0m3 0h0m9 0h0m14 0h0m19 0h0m5 0h0m3 0h0m9 0h0m6 0h0m13 0h0m3 0h0M0-124h0m33 0h0m9 0h0m1 0h0m11 0h0m1 0h0m7 0h0m18 0h0m5 0h0m1 0h0m2 0h0m10 0h0M2-125h0m12 0h0m10 0h0m2 0h0m58 0h0M14-126h0m19 0h0m10 0h0m32 0h0m9 0h0M16-127h0m3 0h0m4 0h0m9 0h0m2 0h0m16 0h0m33 0h0M2-128h0m9 0h0m3 0h0m9 0h0m2 0h0m28 0h0m10 0h0m2 0h0m4 0h0m10 0h0m4 0h0m7 0h0m5 0h0m3 0h0M43-129h0m5 0h0m17 0h0m13 0h0M12-130h0m33 0h0m2 0h0m2 0h0m14 0h0m1 0h0M12-131h0m15 0h0m5 0h0m5 0h0m9 0h0m6 0h0m3 0h0m7 0h0m10 0h0M14-132h0m1 0h0m6 0h0m1 0h0m2 0h0m4 0h0m2 0h0m8 0h0m24 0h0m4 0h0m24 0h0M6-133h0m33 0h0m24 0h0m15 0h0M0-134h0m55 0h0m30 0h0M13-136h0m2 0h0m2 0h0m2 0h0m48 0h0M1-137h0m7 0h0m24 0h0m5 0h0m45 0h0M9-138h0m4 0h0m17 0h0m5 0h0m17 0h0m11 0h0m2 0h0m1 0h0m3 0h0m10 0h0m10 0h0m6 0h0M7-139h0m3 0h0m22 0h0m3 0h0m6 0h0m27 0h0m6 0h0M62-140h0m6 0h0m31 0h0M13-141h0m23 0h0m5 0h0m3 0h0m10 0h0m3 0h0m24 0h0m3 0h0m9 0h0M7-142h0m35 0h0m8 0h0m8 0h0m8 0h0m7 0h0m4 0h0M7-143h0m4 0h0m1 0h0m7 0h0m16 0h0m3 0h0m36 0h0m17 0h0M1-144h0m4 0h0m42 0h0m16 0h0m10 0h0m20 0h0M14-145h0m5 0h0m1 0h0m1 0h0m30 0h0m10 0h0m33 0h0m5 0h0M8-146h0m21 0h0m20 0h0m10 0h0m23 0h0M4-147h0m8 0h0m3 0h0m7 0h0m3 0h0m13 0h0m1 0h0m2 0h0m5 0h0m7 0h0m3 0h0m20 0h0m7 0h0m1 0h0m7 0h0m2 0h0M4-148h0m5 0h0m28 0h0m1 0h0m13 0h0m2 0h0m5 0h0m6 0h0m5 0h0m10 0h0m18 0h0M20-149h0m6 0h0m2 0h0m5 0h0m11 0h0m13 0h0m5 0h0m9 0h0m6 0h0m1 0h0m3 0h0m1 0h0m14 0h0M15-150h0m26 0h0M0-151h0m1 0h0m1 0h0m18 0h0m8 0h0m2 0h0m22 0h0m14 0h0m7 0h0m1 0h0m2 0h0m7 0h0m2 0h0M3-152h0m2 0h0m21 0h0m8 0h0m3 0h0m3 0h0m11 0h0m5 0h0m3 0h0m1 0h0M24-153h0m14 0h0m26 0h0m1 0h0m13 0h0m4 0h0m1 0h0m15 0h0M1-154h0m55 0h0M15-155h0m14 0h0m8 0h0m2 0h0m1 0h0m8 0h0m4 0h0m9 0h0m31 0h0M62-156h0m3 0h0m27 0h0M15-157h0m12 0h0m42 0h0m1 0h0m14 0h0m3 0h0m1 0h0m7 0h0m1 0h0m1 0h0M36-158h0m7 0h0m34 0h0m4 0h0m5 0h0M1-159h0m19 0h0m2 0h0m2 0h0m4 0h0m6 0h0m3 0h0m15 0h0m40 0h0M54-160h0m10 0h0m11 0h0m2 0h0m3 0h0m5 0h0M20-162h0m37 0h0M9-163h0m36 0h0m12 0h0m5 0h0m7 0h0m26 0h0M3-164h0m14 0h0m6 0h0m10 0h0m2 0h0m20 0h0m1 0h0m5 0h0m3 0h0m14 0h0m1 0h0M17-165h0m8 0h0m5 0h0m39 0h0m30 0h0M10-166h0m1 0h0m3 0h0m5 0h0m15 0h0m4 0h0m6 0h0m29 0h0m14 0h0m11 0h0M43-167h0m27 0h0m28 0h0M15-168h0m14 0h0m11 0h0m11 0h0m48 0h0M3-169h0m13 0h0m11 0h0m7 0h0m12 0h0m10 0h0m34 0h0M3-170h0m5 0h0m1 0h0m1 0h0m51 0h0m13 0h0m16 0h0m6 0h0M0-171h0m12 0h0m25 0h0m6 0h0m2 0h0m3 0h0m37 0h0m9 0h0M43-172h0m20 0h0m8 0h0m15 0h0M37-173h0m8 0h0m2 0h0m14 0h0m5 0h0m1 0h0m22 0h0M11-174h0m5 0h0m4 0h0m4 0h0m3 0h0m9 0h0m33 0h0m1 0h0m5 0h0m8 0h0m15 0h0M6-175h0m44 0h0m18 0h0m13 0h0M28-176h0m1 0h0m17 0h0m37 0h0M23-177h0m8 0h0m14 0h0m18 0h0M4-178h0m1 0h0m9 0h0m3 0h0m3 0h0m2 0h0m18 0h0m9 0h0m26 0h0M1-179h0m3 0h0m12 0h0m14 0h0m30 0h0m2 0h0M1-180h0m9 0h0m34 0h0m18 0h0m33 0h0m1 0h0M3-181h0m1 0h0m17 0h0m4 0h0m20 0h0m7 0h0m3 0h0m9 0h0m9 0h0m5 0h0m3 0h0m10 0h0M1-182h0m13 0h0m11 0h0m27 0h0m9 0h0m5 0h0m17 0h0m8 0h0m3 0h0m2 0h0M1-183h0m1 0h0m26 0h0m12 0h0m6 0h0m16 0h0m1 0h0m12 0h0m16 0h0m3 0h0M29-184h0m6 0h0m10 0h0m13 0h0m16 0h0M2-185h0m16 0h0m5 0h0m1 0h0m2 0h0m8 0h0m14 0h0m17 0h0m1 0h0m2 0h0M1-186h0m92 0h0m1 0h0M6-187h0m10 0h0m12 0h0m1 0h0m17 0h0m2 0h0M57-188h0m15 0h0m27 0h0M6-189h0m5 0h0m34 0h0m31 0h0m4 0h0m1 0h0M2-190h0m2 0h0m20 0h0m8 0h0m11 0h0m16 0h0m6 0h0m1 0h0M0-191h0m47 0h0m13 0h0m16 0h0m16 0h0M12-192h0m17 0h0m14 0h0m13 0h0m26 0h0m3 0h0m13 0h0M69-193h0m10 0h0m13 0h0m2 0h0M1-194h0m14 0h0m13 0h0m7 0h0m9 0h0m5 0h0m8 0h0m14 0h0m1 0h0m9 0h0m11 0h0m4 0h0M9-195h0m12 0h0m12 0h0m14 0h0m6 0h0m15 0h0m10 0h0m1 0h0m3 0h0M6-196h0m7 0h0m11 0h0m3 0h0m22 0h0m1 0h0m3 0h0m12 0h0m5 0h0m8 0h0m10 0h0m4 0h0m4 0h0M2-197h0m6 0h0m9 0h0m1 0h0m46 0h0M1-198h0m7 0h0m31 0h0m4 0h0m8 0h0m31 0h0M28-199h0m31 0h0m6 0h0m2 0h0m23 0h0m6 0h0m1 0h0"/><path stroke="#666" d="M5 0h0m17 0h0m5 0h0m70 0h0M31-1h0m22 0h0m20 0h0m3 0h0m1 0h0m11 0h0m5 0h0M0-2h0m9 0h0m19 0h0m49 0h0m8 0h0m13 0h0M10-3h0m9 0h0m68 0h0M47-4h0m5 0h0m6 0h0m18 0h0m4 0h0m15 0h0M34-5h0m27 0h0m11 0h0M4-6h0m7 0h0m27 0h0m3 0h0m11 0h0m2 0h0m1 0h0m1 0h0m11 0h0m15 0h0M21-7h0m16 0h0m56 0h0m2 0h0m1 0h0M10-8h0m28 0h0m3 0h0m24 0h0m18 0h0m11 0h0M8-9h0m36 0h0m6 0h0m16 0h0m26 0h0M16-10h0m27 0h0m50 0h0M13-11h0m53 0h0m5 0h0m5 0h0m4 0h0m13 0h0M1-12h0m9 0h0m9 0h0m5 0h0m20 0h0m43 0h0M49-13h0m4 0h0m2 0h0m10 0h0M32-14h0m7 0h0m47 0h0M37-15h0M7-16h0m2 0h0M24-17h0m34 0h0m7 0h0M27-18h0m7 0h0m28 0h0m1 0h0m6 0h0m1 0h0m18 0h0m5 0h0M16-19h0m17 0h0m14 0h0M3-20h0m14 0h0m11 0h0m11 0h0m1 0h0m5 0h0M13-21h0m20 0h0m57 0h0M25-22h0m60 0h0m12 0h0M7-23h0m28 0h0m58 0h0M47-24h0m23 0h0M10-26h0m7 0h0m27 0h0m43 0h0M29-27h0m6 0h0m3 0h0m8 0h0m26 0h0m13 0h0M1-28h0m10 0h0m10 0h0m15 0h0m2 0h0m21 0h0m36 0h0M0-29h0m36 0h0m20 0h0m27 0h0M9-31h0m14 0h0m3 0h0m30 0h0m26 0h0M10-32h0m17 0h0M16-33h0m1 0h0m10 0h0m11 0h0m26 0h0m18 0h0m15 0h0M23-34h0m17 0h0m12 0h0m44 0h0m2 0h0M21-35h0m10 0h0m10 0h0m23 0h0m12 0h0m20 0h0M26-36h0m31 0h0m1 0h0m20 0h0m5 0h0M23-37h0m61 0h0M34-38h0m31 0h0m11 0h0m10 0h0M21-39h0m14 0h0m30 0h0m22 0h0m9 0h0M1-40h0m41 0h0m6 0h0m18 0h0m21 0h0M15-41h0m1 0h0m2 0h0m7 0h0m21 0h0m8 0h0m43 0h0M27-42h0m62 0h0M32-43h0m22 0h0m18 0h0m3 0h0m16 0h0M3-44h0m84 0h0M27-45h0m27 0h0m6 0h0m19 0h0M0-46h0m10 0h0m2 0h0m23 0h0m13 0h0m7 0h0M2-47h0m21 0h0m8 0h0m9 0h0m28 0h0m15 0h0m7 0h0M0-48h0m7 0h0m14 0h0m1 0h0m7 0h0m6 0h0m1 0h0m13 0h0m1 0h0m23 0h0m5 0h0m3 0h0m5 0h0m8 0h0M10-49h0m3 0h0m3 0h0m35 0h0m7 0h0m21 0h0M63-50h0m20 0h0M8-51h0m9 0h0m61 0h0M32-52h0m34 0h0m5 0h0m26 0h0M51-53h0m14 0h0m9 0h0M89-54h0m2 0h0M8-55h0m4 0h0m29 0h0m37 0h0m6 0h0m3 0h0M15-56h0m57 0h0m20 0h0M36-57h0m10 0h0m32 0h0m14 0h0M42-58h0M29-59h0m8 0h0m1 0h0m5 0h0m41 0h0m15 0h0M4-60h0m11 0h0m42 0h0m21 0h0M27-61h0m5 0h0m10 0h0m19 0h0m15 0h0m5 0h0m18 0h0M8-62h0m4 0h0m12 0h0m42 0h0m29 0h0m2 0h0m2 0h0M24-63h0m4 0h0m6 0h0m4 0h0m44 0h0m15 0h0M1-64h0m9 0h0m19 0h0m37 0h0m1 0h0m2 0h0M5-65h0m32 0h0m5 0h0m9 0h0m12 0h0m27 0h0m4 0h0m1 0h0m4 0h0M26-67h0m62 0h0M4-68h0m35 0h0m24 0h0m26 0h0m8 0h0M5-69h0m38 0h0m23 0h0m7 0h0M8-70h0m70 0h0M3-71h0m9 0h0m41 0h0m37 0h0M5-72h0m3 0h0m2 0h0m4 0h0m18 0h0m7 0h0m9 0h0m3 0h0m8 0h0m17 0h0M11-73h0m14 0h0m4 0h0m34 0h0m15 0h0m12 0h0m6 0h0M2-74h0m7 0h0m38 0h0m43 0h0M0-75h0m7 0h0m14 0h0m3 0h0M6-76h0m2 0h0m11 0h0m18 0h0m11 0h0m25 0h0m6 0h0M2-77h0m10 0h0m27 0h0m1 0h0M2-78h0m9 0h0m13 0h0m15 0h0m6 0h0m27 0h0m4 0h0m10 0h0M90-79h0M29-80h0m53 0h0M20-81h0m21 0h0m10 0h0m1 0h0m5 0h0m16 0h0m11 0h0M30-82h0m10 0h0m21 0h0m26 0h0M47-83h0m5 0h0m6 0h0m7 0h0M4-84h0m33 0h0m19 0h0M16-85h0m47 0h0m14 0h0m14 0h0M64-86h0m6 0h0m12 0h0M5-87h0m92 0h0m1 0h0M49-88h0m7 0h0m1 0h0m17 0h0m4 0h0m14 0h0M0-89h0m25 0h0m22 0h0m51 0h0M40-90h0m16 0h0M29-91h0m58 0h0m8 0h0M13-92h0m14 0h0m8 0h0m14 0h0m1 0h0m22 0h0m10 0h0M14-93h0m5 0h0m50 0h0m14 0h0m6 0h0M7-94h0m3 0h0m13 0h0m31 0h0m1 0h0M3-95h0m3 0h0m1 0h0m31 0h0m32 0h0m2 0h0m15 0h0M3-96h0m51 0h0m3 0h0m22 0h0m6 0h0M3-97h0m5 0h0m14 0h0m22 0h0m3 0h0m4 0h0m7 0h0m31 0h0M6-98h0m1 0h0m2 0h0m22 0h0m13 0h0m3 0h0m32 0h0m10 0h0M7-99h0m13 0h0m12 0h0m1 0h0m11 0h0m1 0h0m43 0h0M57-100h0m1 0h0m10 0h0m4 0h0m11 0h0M31-101h0m25 0h0m11 0h0m4 0h0m1 0h0m11 0h0M1-102h0m6 0h0m17 0h0m12 0h0m27 0h0m16 0h0M8-103h0m35 0h0m51 0h0M5-104h0m1 0h0m1 0h0m53 0h0m19 0h0m5 0h0M20-105h0m8 0h0m15 0h0m7 0h0m15 0h0m3 0h0M34-106h0m16 0h0M19-107h0m7 0h0m8 0h0m14 0h0m12 0h0m5 0h0m18 0h0m8 0h0M1-108h0m23 0h0m10 0h0m23 0h0m39 0h0m3 0h0M30-109h0m3 0h0m15 0h0m49 0h0M2-110h0m46 0h0m7 0h0m20 0h0m8 0h0M7-111h0m30 0h0m44 0h0M41-112h0m12 0h0m16 0h0m2 0h0m8 0h0m12 0h0M3-113h0m3 0h0m20 0h0m11 0h0m8 0h0m18 0h0m18 0h0m13 0h0M35-114h0m36 0h0m9 0h0m18 0h0M0-115h0m6 0h0m6 0h0m28 0h0m15 0h0m8 0h0m9 0h0m7 0h0M24-116h0m12 0h0m8 0h0m16 0h0m14 0h0M21-117h0m34 0h0m4 0h0M6-118h0m17 0h0m64 0h0M1-119h0m53 0h0m11 0h0m3 0h0m9 0h0m15 0h0m6 0h0M55-120h0M1-122h0M10-123h0m23 0h0m1 0h0m64 0h0M31-124h0m4 0h0m35 0h0m21 0h0M28-125h0m57 0h0m2 0h0M6-126h0m16 0h0m7 0h0m10 0h0M0-127h0m27 0h0m9 0h0m3 0h0M4-128h0m56 0h0M6-129h0m2 0h0m1 0h0m10 0h0m3 0h0m71 0h0m1 0h0m5 0h0M15-130h0m14 0h0m4 0h0m51 0h0m2 0h0m1 0h0M18-131h0m4 0h0m48 0h0m9 0h0M4-132h0m14 0h0m5 0h0M32-133h0m8 0h0m14 0h0m22 0h0m16 0h0M26-134h0m5 0h0m1 0h0m4 0h0m24 0h0m7 0h0m27 0h0M4-135h0m2 0h0m6 0h0m1 0h0m2 0h0m20 0h0m14 0h0m1 0h0m5 0h0m3 0h0m23 0h0M31-136h0m34 0h0m12 0h0m2 0h0m5 0h0m14 0h0M4-137h0m5 0h0m40 0h0m22 0h0m5 0h0M4-138h0m4 0h0m24 0h0m11 0h0m15 0h0m13 0h0m12 0h0M2-139h0m13 0h0m8 0h0m5 0h0M7-140h0m7 0h0m6 0h0m4 0h0m16 0h0M2-141h0m44 0h0m3 0h0M1-142h0m4 0h0m18 0h0m25 0h0m1 0h0m29 0h0m4 0h0M1-143h0m4 0h0m32 0h0m9 0h0m23 0h0m12 0h0m11 0h0M8-144h0m60 0h0m8 0h0M2-145h0m10 0h0m12 0h0m3 0h0m9 0h0m2 0h0m28 0h0m1 0h0m5 0h0m12 0h0m4 0h0M7-146h0m2 0h0m10 0h0m1 0h0m26 0h0m14 0h0m3 0h0m14 0h0m6 0h0m11 0h0M1-147h0m7 0h0m15 0h0M3-148h0m2 0h0m68 0h0m4 0h0m14 0h0M4-149h0m4 0h0m76 0h0M9-150h0m5 0h0m17 0h0m35 0h0m29 0h0M71-151h0m17 0h0m10 0h0M12-152h0m50 0h0m11 0h0M69-153h0M0-154h0m12 0h0m15 0h0m15 0h0m38 0h0m1 0h0m11 0h0M17-155h0M3-156h0m13 0h0m37 0h0m11 0h0m13 0h0m4 0h0m1 0h0m6 0h0M13-157h0m16 0h0m7 0h0m45 0h0M3-158h0m8 0h0m2 0h0m34 0h0M3-159h0m56 0h0m2 0h0m4 0h0m2 0h0m11 0h0m13 0h0M6-160h0m23 0h0M9-161h0m20 0h0m3 0h0m14 0h0m6 0h0m22 0h0m2 0h0M31-162h0m9 0h0m6 0h0m16 0h0m23 0h0m2 0h0M7-163h0m1 0h0m7 0h0m3 0h0m22 0h0m1 0h0m22 0h0m8 0h0M88-165h0M3-166h0m14 0h0m13 0h0m40 0h0m5 0h0M0-167h0m10 0h0m20 0h0m12 0h0m3 0h0m1 0h0m2 0h0m10 0h0m6 0h0m8 0h0M1-168h0m32 0h0m51 0h0M5-169h0m1 0h0m85 0h0M25-170h0m21 0h0m6 0h0M9-171h0m8 0h0m10 0h0m14 0h0m21 0h0m9 0h0M8-172h0m22 0h0m44 0h0m5 0h0m8 0h0m10 0h0M2-173h0m16 0h0m24 0h0m35 0h0m15 0h0M26-174h0m16 0h0m6 0h0m18 0h0M0-175h0m19 0h0m35 0h0M7-176h0m4 0h0m5 0h0m27 0h0m11 0h0m3 0h0m31 0h0m8 0h0M33-177h0m2 0h0m7 0h0m14 0h0m41 0h0M18-178h0m28 0h0m2 0h0m16 0h0m7 0h0M8-179h0m1 0h0m32 0h0m6 0h0M58-180h0m7 0h0m33 0h0M1-181h0m21 0h0m2 0h0m26 0h0m26 0h0m12 0h0M20-182h0m14 0h0m13 0h0m16 0h0m9 0h0m18 0h0M4-183h0m4 0h0m2 0h0m6 0h0m15 0h0m1 0h0m40 0h0m16 0h0m4 0h0m7 0h0M40-184h0m25 0h0m25 0h0m5 0h0M10-185h0m23 0h0m4 0h0m17 0h0m36 0h0M26-186h0m3 0h0M0-187h0m14 0h0m8 0h0m18 0h0m13 0h0m25 0h0m12 0h0M6-188h0m16 0h0m43 0h0m4 0h0m2 0h0m8 0h0m6 0h0M3-189h0m10 0h0m70 0h0M85-190h0M5-191h0m6 0h0m13 0h0m39 0h0M0-192h0m10 0h0m25 0h0m11 0h0m34 0h0m7 0h0M24-193h0m2 0h0m50 0h0M6-194h0m19 0h0m58 0h0m1 0h0m4 0h0m1 0h0M10-195h0m3 0h0m21 0h0m3 0h0m4 0h0m14 0h0m22 0h0m19 0h0M40-196h0m33 0h0m9 0h0m15 0h0m1 0h0M0-197h0m1 0h0m24 0h0m2 0h0m7 0h0m2 0h0m18 0h0m3 0h0m34 0h0M53-198h0m16 0h0m9 0h0m2 0h0m14 0h0M14-199h0m17 0h0m11 0h0m6 0h0"/><path stroke="#000" d="M0 0h0m2 0h0m5 0h0m1 0h0m1 0h0m3 0h0m1 0h0m2 0h0m1 0h0m1 0h0m1 0h0m1 0h0m2 0h0m3 0h0m1 0h0m4 0h0m1 0h0m1 0h0m1 0h0m2 0h0m1 0h0m3 0h0m3 0h0m1 0h0m2 0h0m1 0h0m1 0h0m12 0h0m1 0h0m1 0h0m4 0h0m1 0h0m2 0h0m1 0h0m1 0h0m3 0h0m1 0h0m1 0h0m3 0h0m2 0h0m1 0h0m4 0h0m1 0h0m5 0h0m2 0h0m6 0h0M1-1h0m1 0h0m4 0h0m8 0h0m4 0h0m1 0h0m3 0h0m2 0h0m2 0h0m1 0h0m2 0h0m3 0h0m1 0h0m1 0h0m2 0h0m4 0h0m2 0h0m1 0h0m3 0h0m4 0h0m10 0h0m2 0h0m8 0h0m8 0h0m1 0h0m1 0h0m5 0h0m1 0h0m4 0h0m4 0h0m2 0h0m1 0h0m1 0h0m1 0h0M1-2h0m1 0h0m3 0h0m2 0h0m3 0h0m1 0h0m2 0h0m3 0h0m1 0h0m1 0h0m1 0h0m2 0h0m3 0h0m2 0h0m4 0h0m1 0h0m3 0h0m3 0h0m2 0h0m2 0h0m1 0h0m3 0h0m3 0h0m1 0h0m2 0h0m1 0h0m6 0h0m3 0h0m2 0h0m6 0h0m1 0h0m1 0h0m2 0h0m1 0h0m1 0h0m8 0h0m1 0h0m2 0h0m1 0h0m1 0h0m2 0h0m3 0h0m1 0h0m1 0h0m1 0h0m3 0h0M1-3h0m2 0h0m1 0h0m1 0h0m1 0h0m1 0h0m1 0h0m3 0h0m1 0h0m3 0h0m1 0h0m6 0h0m1 0h0m1 0h0m1 0h0m1 0h0m1 0h0m2 0h0m1 0h0m1 0h0m2 0h0m1 0h0m1 0h0m1 0h0m1 0h0m2 0h0m2 0h0m1 0h0m1 0h0m1 0h0m1 0h0m1 0h0m1 0h0m1 0h0m2 0h0m1 0h0m3 0h0m1 0h0m1 0h0m1 0h0m1 0h0m1 0h0m1 0h0m1 0h0m2 0h0m3 0h0m1 0h0m1 0h0m1 0h0m1 0h0m1 0h0m2 0h0m1 0h0m1 0h0m2 0h0m1 0h0m1 0h0m2 0h0m1 0h0m1 0h0m1 0h0m2 0h0m3 0h0m1 0h0m3 0h0m1 0h0m1 0h0m1 0h0m1 0h0m1 0h0M0-4h0m2 0h0m1 0h0m1 0h0m1 0h0m1 0h0m1 0h0m1 0h0m1 0h0m1 0h0m1 0h0m1 0h0m3 0h0m2 0h0m1 0h0m1 0h0m2 0h0m1 0h0m4 0h0m1 0h0m1 0h0m1 0h0m3 0h0m1 0h0m1 0h0m1 0h0m1 0h0m2 0h0m3 0h0m4 0h0m1 0h0m4 0h0m1 0h0m3 0h0m3 0h0m2 0h0m2 0h0m1 0h0m1 0h0m1 0h0m1 0h0m1 0h0m1 0h0m1 0h0m3 0h0m1 0h0m2 0h0m1 0h0m2 0h0m1 0h0m3 0h0m1 0h0m1 0h0m2 0h0m1 0h0m2 0h0m2 0h0m1 0h0m2 0h0m3 0h0m2 0h0m1 0h0M0-5h0m2 0h0m6 0h0m3 0h0m1 0h0m2 0h0m3 0h0m4 0h0m8 0h0m1 0h0m1 0h0m2 0h0m5 0h0m1 0h0m1 0h0m2 0h0m5 0h0m6 0h0m1 0h0m5 0h0m4 0h0m1 0h0m1 0h0m3 0h0m1 0h0m5 0h0m1 0h0m2 0h0m2 0h0m5 0h0m1 0h0m1 0h0m2 0h0m1 0h0m4 0h0m1 0h0m2 0h0m1 0h0m2 0h0M1-6h0m1 0h0m1 0h0m3 0h0m1 0h0m2 0h0m1 0h0m2 0h0m1 0h0m1 0h0m6 0h0m1 0h0m1 0h0m1 0h0m1 0h0m3 0h0m1 0h0m1 0h0m1 0h0m2 0h0m1 0h0m1 0h0m1 0h0m2 0h0m2 0h0m1 0h0m2 0h0m1 0h0m1 0h0m1 0h0m6 0h0m2 0h0m4 0h0m1 0h0m2 0h0m1 0h0m1 0h0m1 0h0m2 0h0m1 0h0m2 0h0m2 0h0m1 0h0m1 0h0m1 0h0m1 0h0m2 0h0m2 0h0m2 0h0m1 0h0m3 0h0m1 0h0m1 0h0m1 0h0m1 0h0m1 0h0m3 0h0m1 0h0m1 0h0m1 0h0m1 0h0m2 0h0M0-7h0m1 0h0m1 0h0m1 0h0m4 0h0m1 0h0m3 0h0m2 0h0m2 0h0m3 0h0m2 0h0m2 0h0m1 0h0m1 0h0m1 0h0m1 0h0m2 0h0m2 0h0m1 0h0m2 0h0m1 0h0m1 0h0m3 0h0m1 0h0m1 0h0m2 0h0m3 0h0m1 0h0m3 0h0m1 0h0m1 0h0m2 0h0m2 0h0m1 0h0m1 0h0m1 0h0m1 0h0m3 0h0m2 0h0m1 0h0m1 0h0m2 0h0m2 0h0m2 0h0m1 0h0m2 0h0m3 0h0m1 0h0m1 0h0m1 0h0m1 0h0m1 0h0m4 0h0m1 0h0m10 0h0M0-8h0m1 0h0m1 0h0m2 0h0m2 0h0m2 0h0m1 0h0m3 0h0m1 0h0m1 0h0m3 0h0m1 0h0m4 0h0m1 0h0m1 0h0m1 0h0m1 0h0m1 0h0m1 0h0m1 0h0m1 0h0m1 0h0m2 0h0m6 0h0m1 0h0m2 0h0m4 0h0m3 0h0m1 0h0m1 0h0m1 0h0m2 0h0m1 0h0m1 0h0m2 0h0m1 0h0m1 0h0m1 0h0m5 0h0m1 0h0m1 0h0m1 0h0m2 0h0m1 0h0m4 0h0m1 0h0m2 0h0m2 0h0m1 0h0m3 0h0m1 0h0m1 0h0m1 0h0m1 0h0m1 0h0m1 0h0m1 0h0m1 0h0m2 0h0m1 0h0m3 0h0M0-9h0m1 0h0m1 0h0m1 0h0m1 0h0m1 0h0m1 0h0m5 0h0m3 0h0m1 0h0m1 0h0m1 0h0m1 0h0m1 0h0m2 0h0m1 0h0m2 0h0m1 0h0m3 0h0m1 0h0m2 0h0m1 0h0m1 0h0m1 0h0m4 0h0m1 0h0m1 0h0m1 0h0m1 0h0m1 0h0m2 0h0m2 0h0m2 0h0m3 0h0m1 0h0m1 0h0m1 0h0m1 0h0m3 0h0m1 0h0m1 0h0m2 0h0m1 0h0m1 0h0m4 0h0m2 0h0m2 0h0m1 0h0m1 0h0m1 0h0m1 0h0m3 0h0m2 0h0m3 0h0m1 0h0m1 0h0m1 0h0m1 0h0m1 0h0m3 0h0m1 0h0m1 0h0m2 0h0m2 0h0M0-10h0m2 0h0m2 0h0m1 0h0m4 0h0m2 0h0m2 0h0m4 0h0m1 0h0m2 0h0m3 0h0m2 0h0m1 0h0m1 0h0m2 0h0m4 0h0m3 0h0m4 0h0m1 0h0m5 0h0m7 0h0m1 0h0m2 0h0m9 0h0m1 0h0m2 0h0m2 0h0m2 0h0m4 0h0m1 0h0m2 0h0m1 0h0m3 0h0m3 0h0m4 0h0m5 0h0M0-11h0m1 0h0m2 0h0m1 0h0m1 0h0m2 0h0m7 0h0m2 0h0m3 0h0m1 0h0m3 0h0m1 0h0m1 0h0m1 0h0m1 0h0m1 0h0m1 0h0m1 0h0m1 0h0m1 0h0m1 0h0m1 0h0m3 0h0m1 0h0m1 0h0m2 0h0m1 0h0m4 0h0m1 0h0m1 0h0m1 0h0m2 0h0m1 0h0m1 0h0m1 0h0m1 0h0m1 0h0m2 0h0m2 0h0m1 0h0m1 0h0m1 0h0m2 0h0m4 0h0m1 0h0m2 0h0m1 0h0m1 0h0m4 0h0m1 0h0m4 0h0m1 0h0m1 0h0m1 0h0m1 0h0m2 0h0m2 0h0m3 0h0m1 0h0m2 0h0m1 0h0M0-12h0m2 0h0m3 0h0m1 0h0m1 0h0m1 0h0m1 0h0m2 0h0m2 0h0m2 0h0m1 0h0m2 0h0m3 0h0m1 0h0m4 0h0m2 0h0m1 0h0m3 0h0m2 0h0m1 0h0m1 0h0m5 0h0m1 0h0m1 0h0m3 0h0m6 0h0m2 0h0m2 0h0m2 0h0m3 0h0m4 0h0m1 0h0m1 0h0m1 0h0m4 0h0m1 0h0m3 0h0m1 0h0m1 0h0m2 0h0m3 0h0m2 0h0m7 0h0m2 0h0M1-13h0m6 0h0m1 0h0m1 0h0m2 0h0m2 0h0m1 0h0m2 0h0m1 0h0m2 0h0m2 0h0m4 0h0m2 0h0m6 0h0m1 0h0m6 0h0m2 0h0m3 0h0m2 0h0m1 0h0m3 0h0m3 0h0m2 0h0m1 0h0m1 0h0m1 0h0m1 0h0m2 0h0m4 0h0m1 0h0m3 0h0m1 0h0m5 0h0m2 0h0m2 0h0m2 0h0m1 0h0m3 0h0m1 0h0m1 0h0m3 0h0m1 0h0m1 0h0m2 0h0m1 0h0M0-14h0m5 0h0m9 0h0m1 0h0m1 0h0m5 0h0m1 0h0m1 0h0m5 0h0m8 0h0m2 0h0m2 0h0m5 0h0m3 0h0m3 0h0m2 0h0m1 0h0m3 0h0m6 0h0m6 0h0m1 0h0m1 0h0m5 0h0m1 0h0m5 0h0m2 0h0m9 0h0m5 0h0M2-15h0m3 0h0m3 0h0m1 0h0m1 0h0m1 0h0m5 0h0m1 0h0m3 0h0m2 0h0m1 0h0m2 0h0m2 0h0m3 0h0m3 0h0m2 0h0m1 0h0m2 0h0m2 0h0m1 0h0m1 0h0m5 0h0m2 0h0m3 0h0m2 0h0m1 0h0m1 0h0m2 0h0m2 0h0m2 0h0m1 0h0m4 0h0m2 0h0m1 0h0m1 0h0m1 0h0m3 0h0m6 0h0m2 0h0m1 0h0m2 0h0m1 0h0m1 0h0m1 0h0m1 0h0m1 0h0m1 0h0m2 0h0m1 0h0m2 0h0m1 0h0M0-16h0m1 0h0m1 0h0m1 0h0m1 0h0m1 0h0m1 0h0m4 0h0m1 0h0m1 0h0m1 0h0m4 0h0m5 0h0m2 0h0m3 0h0m2 0h0m1 0h0m3 0h0m2 0h0m1 0h0m1 0h0m2 0h0m2 0h0m1 0h0m1 0h0m1 0h0m4 0h0m2 0h0m1 0h0m2 0h0m1 0h0m2 0h0m2 0h0m1 0h0m1 0h0m1 0h0m1 0h0m1 0h0m1 0h0m1 0h0m1 0h0m4 0h0m4 0h0m1 0h0m1 0h0m1 0h0m2 0h0m4 0h0m1 0h0m2 0h0m1 0h0m6 0h0m1 0h0m2 0h0m2 0h0m1 0h0M1-17h0m2 0h0m2 0h0m3 0h0m1 0h0m1 0h0m1 0h0m6 0h0m1 0h0m3 0h0m4 0h0m4 0h0m1 0h0m1 0h0m1 0h0m2 0h0m2 0h0m2 0h0m4 0h0m1 0h0m1 0h0m5 0h0m5 0h0m8 0h0m2 0h0m4 0h0m3 0h0m1 0h0m3 0h0m1 0h0m2 0h0m1 0h0m1 0h0m3 0h0m3 0h0m1 0h0m1 0h0m1 0h0m1 0h0m1 0h0m3 0h0M4-18h0m1 0h0m1 0h0m3 0h0m1 0h0m1 0h0m9 0h0m8 0h0m1 0h0m1 0h0m1 0h0m7 0h0m2 0h0m1 0h0m1 0h0m1 0h0m1 0h0m1 0h0m7 0h0m2 0h0m1 0h0m1 0h0m1 0h0m2 0h0m2 0h0m5 0h0m5 0h0m3 0h0m1 0h0m1 0h0m2 0h0m5 0h0m1 0h0m1 0h0m2 0h0m4 0h0m3 0h0m3 0h0m2 0h0M1-19h0m1 0h0m1 0h0m1 0h0m1 0h0m2 0h0m4 0h0m1 0h0m1 0h0m1 0h0m3 0h0m1 0h0m2 0h0m2 0h0m1 0h0m2 0h0m1 0h0m1 0h0m1 0h0m1 0h0m6 0h0m2 0h0m3 0h0m3 0h0m1 0h0m1 0h0m1 0h0m2 0h0m1 0h0m1 0h0m2 0h0m2 0h0m1 0h0m2 0h0m1 0h0m3 0h0m1 0h0m1 0h0m1 0h0m1 0h0m1 0h0m1 0h0m1 0h0m2 0h0m1 0h0m1 0h0m1 0h0m1 0h0m1 0h0m2 0h0m2 0h0m4 0h0m1 0h0m1 0h0m2 0h0m2 0h0m1 0h0m1 0h0m2 0h0m1 0h0m1 0h0m1 0h0m1 0h0m1 0h0m1 0h0M0-20h0m1 0h0m1 0h0m5 0h0m1 0h0m1 0h0m1 0h0m10 0h0m1 0h0m1 0h0m4 0h0m1 0h0m2 0h0m1 0h0m2 0h0m2 0h0m3 0h0m4 0h0m2 0h0m1 0h0m3 0h0m1 0h0m1 0h0m1 0h0m1 0h0m1 0h0m3 0h0m3 0h0m1 0h0m2 0h0m2 0h0m2 0h0m1 0h0m2 0h0m4 0h0m1 0h0m1 0h0m1 0h0m3 0h0m1 0h0m3 0h0m2 0h0m1 0h0m1 0h0m2 0h0m2 0h0m1 0h0m4 0h0m1 0h0m1 0h0m1 0h0M0-21h0m1 0h0m3 0h0m1 0h0m2 0h0m2 0h0m1 0h0m5 0h0m1 0h0m1 0h0m3 0h0m2 0h0m2 0h0m1 0h0m1 0h0m1 0h0m2 0h0m1 0h0m1 0h0m3 0h0m1 0h0m2 0h0m1 0h0m2 0h0m7 0h0m4 0h0m1 0h0m1 0h0m1 0h0m10 0h0m2 0h0m5 0h0m1 0h0m2 0h0m5 0h0m8 0h0m1 0h0m4 0h0m4 0h0M0-22h0m1 0h0m4 0h0m4 0h0m1 0h0m1 0h0m1 0h0m1 0h0m1 0h0m1 0h0m2 0h0m1 0h0m4 0h0m1 0h0m1 0h0m2 0h0m2 0h0m1 0h0m1 0h0m2 0h0m2 0h0m1 0h0m1 0h0m1 0h0m2 0h0m3 0h0m1 0h0m1 0h0m1 0h0m2 0h0m2 0h0m1 0h0m1 0h0m2 0h0m2 0h0m1 0h0m2 0h0m2 0h0m1 0h0m2 0h0m1 0h0m1 0h0m1 0h0m3 0h0m1 0h0m1 0h0m1 0h0m1 0h0m1 0h0m1 0h0m1 0h0m1 0h0m1 0h0m1 0h0m1 0h0m7 0h0m1 0h0m2 0h0m1 0h0m1 0h0m3 0h0m1 0h0m3 0h0M0-23h0m1 0h0m1 0h0m1 0h0m3 0h0m2 0h0m1 0h0m1 0h0m2 0h0m3 0h0m1 0h0m1 0h0m1 0h0m1 0h0m3 0h0m1 0h0m2 0h0m1 0h0m2 0h0m2 0h0m2 0h0m1 0h0m1 0h0m2 0h0m1 0h0m3 0h0m1 0h0m2 0h0m1 0h0m2 0h0m1 0h0m1 0h0m1 0h0m1 0h0m2 0h0m2 0h0m1 0h0m1 0h0m1 0h0m1 0h0m1 0h0m1 0h0m1 0h0m1 0h0m3 0h0m1 0h0m1 0h0m1 0h0m1 0h0m1 0h0m3 0h0m1 0h0m1 0h0m1 0h0m3 0h0m1 0h0m1 0h0m1 0h0m3 0h0m1 0h0m1 0h0m3 0h0m1 0h0m3 0h0m1 0h0m2 0h0m1 0h0M0-24h0m2 0h0m1 0h0m1 0h0m1 0h0m3 0h0m1 0h0m1 0h0m3 0h0m1 0h0m1 0h0m1 0h0m1 0h0m1 0h0m1 0h0m5 0h0m1 0h0m1 0h0m1 0h0m1 0h0m1 0h0m1 0h0m1 0h0m4 0h0m1 0h0m7 0h0m1 0h0m2 0h0m2 0h0m1 0h0m1 0h0m4 0h0m1 0h0m2 0h0m1 0h0m1 0h0m5 0h0m3 0h0m2 0h0m3 0h0m1 0h0m1 0h0m1 0h0m3 0h0m1 0h0m1 0h0m2 0h0m1 0h0m1 0h0m2 0h0m2 0h0m1 0h0m3 0h0m5 0h0m2 0h0M2-25h0m3 0h0m3 0h0m2 0h0m7 0h0m1 0h0m15 0h0m9 0h0m1 0h0m9 0h0m4 0h0m1 0h0m2 0h0m2 0h0m2 0h0m2 0h0m1 0h0m3 0h0m3 0h0m3 0h0m1 0h0m2 0h0m5 0h0m2 0h0m1 0h0m2 0h0m2 0h0m2 0h0m4 0h0m1 0h0M0-26h0m4 0h0m1 0h0m3 0h0m1 0h0m4 0h0m5 0h0m1 0h0m2 0h0m1 0h0m1 0h0m3 0h0m1 0h0m1 0h0m1 0h0m3 0h0m2 0h0m1 0h0m1 0h0m1 0h0m2 0h0m4 0h0m5 0h0m1 0h0m3 0h0m2 0h0m4 0h0m5 0h0m5 0h0m3 0h0m1 0h0m1 0h0m1 0h0m2 0h0m1 0h0m2 0h0m1 0h0m2 0h0m4 0h0m7 0h0m2 0h0m1 0h0m2 0h0M1-27h0m2 0h0m2 0h0m4 0h0m1 0h0m2 0h0m1 0h0m1 0h0m2 0h0m1 0h0m2 0h0m2 0h0m1 0h0m1 0h0m1 0h0m2 0h0m1 0h0m6 0h0m1 0h0m3 0h0m2 0h0m1 0h0m2 0h0m1 0h0m1 0h0m1 0h0m2 0h0m2 0h0m2 0h0m1 0h0m1 0h0m2 0h0m1 0h0m2 0h0m1 0h0m1 0h0m2 0h0m2 0h0m1 0h0m2 0h0m1 0h0m1 0h0m1 0h0m4 0h0m2 0h0m1 0h0m2 0h0m8 0h0m2 0h0m3 0h0m2 0h0m1 0h0m2 0h0m1 0h0M0-28h0m3 0h0m2 0h0m2 0h0m3 0h0m3 0h0m3 0h0m1 0h0m1 0h0m2 0h0m3 0h0m3 0h0m4 0h0m1 0h0m2 0h0m2 0h0m4 0h0m1 0h0m3 0h0m1 0h0m1 0h0m2 0h0m3 0h0m2 0h0m2 0h0m6 0h0m5 0h0m1 0h0m1 0h0m5 0h0m1 0h0m1 0h0m1 0h0m1 0h0m1 0h0m1 0h0m5 0h0m5 0h0m1 0h0m1 0h0m1 0h0m5 0h0m3 0h0M1-29h0m3 0h0m2 0h0m1 0h0m1 0h0m2 0h0m1 0h0m2 0h0m1 0h0m1 0h0m1 0h0m1 0h0m1 0h0m4 0h0m1 0h0m3 0h0m3 0h0m1 0h0m1 0h0m1 0h0m1 0h0m2 0h0m2 0h0m1 0h0m1 0h0m1 0h0m1 0h0m1 0h0m2 0h0m3 0h0m2 0h0m1 0h0m1 0h0m2 0h0m1 0h0m1 0h0m2 0h0m2 0h0m2 0h0m1 0h0m1 0h0m2 0h0m2 0h0m1 0h0m1 0h0m1 0h0m2 0h0m2 0h0m2 0h0m1 0h0m1 0h0m1 0h0m1 0h0m1 0h0m1 0h0m2 0h0m1 0h0m2 0h0m4 0h0m2 0h0m1 0h0m1 0h0m1 0h0m1 0h0m1 0h0M4-30h0m7 0h0m8 0h0m5 0h0m5 0h0m2 0h0m4 0h0m3 0h0m3 0h0m4 0h0m2 0h0m2 0h0m7 0h0m1 0h0m1 0h0m1 0h0m7 0h0m3 0h0m17 0h0m4 0h0m1 0h0m2 0h0M2-31h0m2 0h0m2 0h0m2 0h0m2 0h0m2 0h0m3 0h0m2 0h0m3 0h0m2 0h0m3 0h0m2 0h0m3 0h0m1 0h0m3 0h0m3 0h0m1 0h0m2 0h0m1 0h0m2 0h0m2 0h0m2 0h0m2 0h0m2 0h0m2 0h0m2 0h0m3 0h0m1 0h0m2 0h0m1 0h0m2 0h0m1 0h0m1 0h0m1 0h0m4 0h0m3 0h0m5 0h0m1 0h0m1 0h0m3 0h0m4 0h0m1 0h0m3 0h0m1 0h0m1 0h0m1 0h0m2 0h0M3-32h0m2 0h0m1 0h0m7 0h0m1 0h0m2 0h0m2 0h0m1 0h0m2 0h0m8 0h0m3 0h0m1 0h0m3 0h0m4 0h0m6 0h0m1 0h0m2 0h0m1 0h0m2 0h0m2 0h0m7 0h0m1 0h0m2 0h0m2 0h0m2 0h0m3 0h0m5 0h0m2 0h0m1 0h0m5 0h0m10 0h0m3 0h0m1 0h0m1 0h0M1-33h0m1 0h0m6 0h0m1 0h0m2 0h0m1 0h0m2 0h0m4 0h0m1 0h0m1 0h0m1 0h0m2 0h0m1 0h0m2 0h0m3 0h0m1 0h0m4 0h0m1 0h0m1 0h0m1 0h0m2 0h0m1 0h0m1 0h0m1 0h0m1 0h0m1 0h0m2 0h0m2 0h0m1 0h0m2 0h0m2 0h0m2 0h0m1 0h0m1 0h0m1 0h0m1 0h0m1 0h0m1 0h0m1 0h0m1 0h0m2 0h0m1 0h0m1 0h0m1 0h0m1 0h0m1 0h0m3 0h0m1 0h0m1 0h0m1 0h0m5 0h0m2 0h0m1 0h0m1 0h0m1 0h0m2 0h0m1 0h0m1 0h0m1 0h0m1 0h0m1 0h0m2 0h0m1 0h0m2 0h0m1 0h0M1-34h0m1 0h0m2 0h0m2 0h0m1 0h0m2 0h0m1 0h0m1 0h0m2 0h0m1 0h0m3 0h0m3 0h0m1 0h0m3 0h0m2 0h0m2 0h0m4 0h0m1 0h0m3 0h0m8 0h0m4 0h0m1 0h0m4 0h0m2 0h0m1 0h0m2 0h0m1 0h0m2 0h0m1 0h0m3 0h0m2 0h0m1 0h0m3 0h0m2 0h0m1 0h0m3 0h0m1 0h0m1 0h0m1 0h0m11 0h0m2 0h0m1 0h0m5 0h0M0-35h0m1 0h0m4 0h0m1 0h0m2 0h0m1 0h0m1 0h0m4 0h0m2 0h0m1 0h0m1 0h0m2 0h0m2 0h0m1 0h0m2 0h0m1 0h0m1 0h0m1 0h0m2 0h0m2 0h0m2 0h0m1 0h0m1 0h0m3 0h0m1 0h0m2 0h0m4 0h0m1 0h0m2 0h0m1 0h0m1 0h0m2 0h0m4 0h0m1 0h0m1 0h0m1 0h0m1 0h0m4 0h0m1 0h0m1 0h0m2 0h0m1 0h0m1 0h0m2 0h0m2 0h0m4 0h0m2 0h0m1 0h0m2 0h0m1 0h0m1 0h0m2 0h0m1 0h0m1 0h0m1 0h0m1 0h0m1 0h0m1 0h0m1 0h0m3 0h0M0-36h0m2 0h0m2 0h0m5 0h0m2 0h0m3 0h0m2 0h0m1 0h0m1 0h0m3 0h0m10 0h0m1 0h0m1 0h0m4 0h0m2 0h0m2 0h0m1 0h0m1 0h0m1 0h0m1 0h0m3 0h0m2 0h0m1 0h0m4 0h0m5 0h0m1 0h0m1 0h0m3 0h0m1 0h0m2 0h0m1 0h0m2 0h0m2 0h0m1 0h0m3 0h0m3 0h0m1 0h0m1 0h0m2 0h0m2 0h0m3 0h0m1 0h0m3 0h0m1 0h0m5 0h0M0-37h0m10 0h0m1 0h0m1 0h0m4 0h0m2 0h0m3 0h0m1 0h0m2 0h0m1 0h0m6 0h0m1 0h0m2 0h0m1 0h0m2 0h0m5 0h0m1 0h0m3 0h0m3 0h0m3 0h0m6 0h0m2 0h0m6 0h0m3 0h0m2 0h0m2 0h0m1 0h0m3 0h0m5 0h0m5 0h0m3 0h0m1 0h0m1 0h0m2 0h0m1 0h0m2 0h0m1 0h0m1 0h0M0-38h0m2 0h0m2 0h0m1 0h0m1 0h0m3 0h0m1 0h0m1 0h0m7 0h0m4 0h0m1 0h0m10 0h0m7 0h0m3 0h0m1 0h0m2 0h0m3 0h0m2 0h0m2 0h0m1 0h0m1 0h0m2 0h0m2 0h0m3 0h0m2 0h0m2 0h0m4 0h0m2 0h0m2 0h0m1 0h0m3 0h0m1 0h0m3 0h0m5 0h0m3 0h0m3 0h0m5 0h0M0-39h0m1 0h0m2 0h0m1 0h0m3 0h0m1 0h0m1 0h0m4 0h0m6 0h0m3 0h0m1 0h0m1 0h0m4 0h0m1 0h0m2 0h0m1 0h0m6 0h0m2 0h0m1 0h0m2 0h0m3 0h0m3 0h0m2 0h0m3 0h0m4 0h0m1 0h0m3 0h0m1 0h0m1 0h0m6 0h0m1 0h0m1 0h0m6 0h0m1 0h0m2 0h0m3 0h0m2 0h0m6 0h0m2 0h0m1 0h0m2 0h0M3-40h0m1 0h0m2 0h0m2 0h0m1 0h0m3 0h0m1 0h0m2 0h0m1 0h0m3 0h0m1 0h0m1 0h0m2 0h0m2 0h0m7 0h0m1 0h0m5 0h0m3 0h0m8 0h0m4 0h0m4 0h0m5 0h0m3 0h0m2 0h0m3 0h0m1 0h0m4 0h0m1 0h0m2 0h0m1 0h0m1 0h0m2 0h0m2 0h0m1 0h0m3 0h0m1 0h0m1 0h0m2 0h0m2 0h0M0-41h0m1 0h0m2 0h0m2 0h0m2 0h0m1 0h0m1 0h0m1 0h0m2 0h0m2 0h0m3 0h0m2 0h0m1 0h0m1 0h0m1 0h0m1 0h0m1 0h0m4 0h0m2 0h0m1 0h0m7 0h0m2 0h0m1 0h0m1 0h0m1 0h0m1 0h0m4 0h0m1 0h0m1 0h0m1 0h0m1 0h0m1 0h0m2 0h0m1 0h0m7 0h0m1 0h0m1 0h0m1 0h0m1 0h0m1 0h0m2 0h0m2 0h0m1 0h0m1 0h0m1 0h0m1 0h0m1 0h0m1 0h0m2 0h0m2 0h0m1 0h0m1 0h0m2 0h0m2 0h0m1 0h0m1 0h0m1 0h0m1 0h0m3 0h0m1 0h0m3 0h0M0-42h0m1 0h0m3 0h0m2 0h0m1 0h0m2 0h0m3 0h0m3 0h0m1 0h0m1 0h0m1 0h0m1 0h0m1 0h0m1 0h0m1 0h0m1 0h0m1 0h0m5 0h0m1 0h0m1 0h0m2 0h0m1 0h0m1 0h0m2 0h0m1 0h0m2 0h0m1 0h0m1 0h0m2 0h0m2 0h0m1 0h0m1 0h0m1 0h0m1 0h0m1 0h0m2 0h0m1 0h0m3 0h0m1 0h0m1 0h0m1 0h0m1 0h0m1 0h0m2 0h0m1 0h0m1 0h0m1 0h0m2 0h0m2 0h0m1 0h0m2 0h0m1 0h0m1 0h0m2 0h0m2 0h0m2 0h0m1 0h0m1 0h0m1 0h0m2 0h0m1 0h0m4 0h0m1 0h0m1 0h0m1 0h0m4 0h0M0-43h0m3 0h0m1 0h0m2 0h0m2 0h0m2 0h0m1 0h0m1 0h0m3 0h0m4 0h0m1 0h0m1 0h0m1 0h0m1 0h0m1 0h0m2 0h0m1 0h0m1 0h0m1 0h0m2 0h0m2 0h0m2 0h0m1 0h0m5 0h0m3 0h0m8 0h0m1 0h0m2 0h0m1 0h0m1 0h0m3 0h0m2 0h0m2 0h0m1 0h0m1 0h0m1 0h0m2 0h0m4 0h0m5 0h0m1 0h0m2 0h0m7 0h0m1 0h0m3 0h0m1 0h0m1 0h0m1 0h0M0-44h0m1 0h0m8 0h0m1 0h0m5 0h0m4 0h0m1 0h0m3 0h0m3 0h0m2 0h0m1 0h0m1 0h0m4 0h0m2 0h0m1 0h0m2 0h0m4 0h0m2 0h0m1 0h0m1 0h0m4 0h0m1 0h0m1 0h0m2 0h0m3 0h0m3 0h0m1 0h0m7 0h0m5 0h0m2 0h0m8 0h0m2 0h0m3 0h0m1 0h0m1 0h0m1 0h0m1 0h0m2 0h0m1 0h0m1 0h0m2 0h0M0-45h0m2 0h0m2 0h0m1 0h0m2 0h0m2 0h0m4 0h0m3 0h0m1 0h0m1 0h0m3 0h0m3 0h0m1 0h0m4 0h0m1 0h0m1 0h0m2 0h0m3 0h0m2 0h0m1 0h0m1 0h0m5 0h0m2 0h0m3 0h0m1 0h0m1 0h0m1 0h0m2 0h0m2 0h0m2 0h0m2 0h0m4 0h0m2 0h0m2 0h0m4 0h0m1 0h0m1 0h0m1 0h0m2 0h0m2 0h0m1 0h0m1 0h0m1 0h0m4 0h0m7 0h0m4 0h0m1 0h0M2-46h0m2 0h0m3 0h0m1 0h0m1 0h0m2 0h0m3 0h0m3 0h0m2 0h0m1 0h0m1 0h0m1 0h0m1 0h0m3 0h0m6 0h0m5 0h0m2 0h0m2 0h0m4 0h0m2 0h0m2 0h0m1 0h0m3 0h0m3 0h0m9 0h0m2 0h0m2 0h0m9 0h0m5 0h0m5 0h0m3 0h0m1 0h0m3 0h0m1 0h0M1-47h0m2 0h0m1 0h0m1 0h0m1 0h0m2 0h0m1 0h0m1 0h0m1 0h0m1 0h0m1 0h0m1 0h0m2 0h0m1 0h0m1 0h0m2 0h0m4 0h0m2 0h0m3 0h0m1 0h0m2 0h0m2 0h0m2 0h0m1 0h0m5 0h0m1 0h0m1 0h0m2 0h0m1 0h0m1 0h0m1 0h0m1 0h0m3 0h0m1 0h0m2 0h0m2 0h0m2 0h0m2 0h0m1 0h0m1 0h0m1 0h0m1 0h0m3 0h0m1 0h0m1 0h0m1 0h0m3 0h0m1 0h0m1 0h0m1 0h0m1 0h0m2 0h0m1 0h0m3 0h0m1 0h0m3 0h0m2 0h0m1 0h0m2 0h0m4 0h0m1 0h0M1-48h0m1 0h0m1 0h0m1 0h0m1 0h0m1 0h0m2 0h0m1 0h0m1 0h0m1 0h0m1 0h0m1 0h0m1 0h0m1 0h0m2 0h0m1 0h0m5 0h0m1 0h0m1 0h0m1 0h0m1 0h0m1 0h0m2 0h0m1 0h0m1 0h0m1 0h0m1 0h0m3 0h0m1 0h0m1 0h0m1 0h0m1 0h0m1 0h0m1 0h0m1 0h0m1 0h0m1 0h0m1 0h0m1 0h0m3 0h0m1 0h0m1 0h0m1 0h0m1 0h0m2 0h0m1 0h0m1 0h0m1 0h0m1 0h0m1 0h0m1 0h0m1 0h0m1 0h0m1 0h0m1 0h0m2 0h0m1 0h0m1 0h0m1 0h0m2 0h0m1 0h0m1 0h0m1 0h0m2 0h0m1 0h0m3 0h0m1 0h0m1 0h0m2 0h0m1 0h0m2 0h0m1 0h0m1 0h0m1 0h0m2 0h0m1 0h0m1 0h0m1 0h0m1 0h0M2-49h0m3 0h0m1 0h0m2 0h0m4 0h0m3 0h0m7 0h0m6 0h0m1 0h0m2 0h0m1 0h0m1 0h0m1 0h0m1 0h0m4 0h0m1 0h0m1 0h0m1 0h0m1 0h0m1 0h0m1 0h0m2 0h0m2 0h0m1 0h0m3 0h0m3 0h0m1 0h0m2 0h0m2 0h0m2 0h0m2 0h0m2 0h0m2 0h0m1 0h0m1 0h0m1 0h0m1 0h0m3 0h0m1 0h0m1 0h0m3 0h0m3 0h0m4 0h0m1 0h0m1 0h0m1 0h0m1 0h0m2 0h0m1 0h0m1 0h0m2 0h0m1 0h0M1-50h0m3 0h0m1 0h0m1 0h0m1 0h0m1 0h0m1 0h0m7 0h0m2 0h0m1 0h0m2 0h0m3 0h0m10 0h0m1 0h0m1 0h0m1 0h0m1 0h0m2 0h0m2 0h0m2 0h0m1 0h0m1 0h0m1 0h0m1 0h0m1 0h0m1 0h0m1 0h0m2 0h0m1 0h0m2 0h0m2 0h0m1 0h0m2 0h0m3 0h0m1 0h0m1 0h0m1 0h0m2 0h0m2 0h0m2 0h0m1 0h0m5 0h0m3 0h0m5 0h0m2 0h0m1 0h0m1 0h0m1 0h0m1 0h0m3 0h0m3 0h0M1-51h0m2 0h0m2 0h0m1 0h0m5 0h0m3 0h0m1 0h0m6 0h0m4 0h0m3 0h0m2 0h0m1 0h0m1 0h0m3 0h0m3 0h0m2 0h0m3 0h0m1 0h0m4 0h0m2 0h0m1 0h0m2 0h0m1 0h0m4 0h0m2 0h0m4 0h0m3 0h0m4 0h0m3 0h0m1 0h0m6 0h0m1 0h0m5 0h0m4 0h0m2 0h0m6 0h0M1-52h0m1 0h0m2 0h0m1 0h0m1 0h0m1 0h0m5 0h0m4 0h0m1 0h0m1 0h0m1 0h0m5 0h0m1 0h0m1 0h0m1 0h0m3 0h0m5 0h0m2 0h0m1 0h0m2 0h0m4 0h0m2 0h0m2 0h0m2 0h0m2 0h0m1 0h0m2 0h0m3 0h0m2 0h0m1 0h0m8 0h0m3 0h0m3 0h0m2 0h0m2 0h0m9 0h0m2 0h0m2 0h0m6 0h0m1 0h0M1-53h0m2 0h0m6 0h0m5 0h0m3 0h0m1 0h0m3 0h0m7 0h0m5 0h0m2 0h0m3 0h0m5 0h0m2 0h0m1 0h0m3 0h0m1 0h0m2 0h0m2 0h0m1 0h0m1 0h0m4 0h0m8 0h0m2 0h0m8 0h0m4 0h0m3 0h0m2 0h0m2 0h0m2 0h0m1 0h0m1 0h0m2 0h0M1-54h0m1 0h0m1 0h0m1 0h0m1 0h0m2 0h0m2 0h0m2 0h0m1 0h0m1 0h0m1 0h0m1 0h0m2 0h0m1 0h0m1 0h0m2 0h0m1 0h0m2 0h0m1 0h0m1 0h0m2 0h0m2 0h0m1 0h0m3 0h0m2 0h0m8 0h0m2 0h0m5 0h0m1 0h0m1 0h0m1 0h0m1 0h0m1 0h0m1 0h0m7 0h0m1 0h0m1 0h0m1 0h0m2 0h0m2 0h0m1 0h0m4 0h0m2 0h0m1 0h0m1 0h0m5 0h0m1 0h0m1 0h0m3 0h0M2-55h0m1 0h0m3 0h0m3 0h0m1 0h0m1 0h0m2 0h0m1 0h0m1 0h0m2 0h0m6 0h0m5 0h0m1 0h0m1 0h0m2 0h0m1 0h0m6 0h0m1 0h0m3 0h0m1 0h0m4 0h0m2 0h0m5 0h0m1 0h0m2 0h0m1 0h0m2 0h0m1 0h0m1 0h0m1 0h0m6 0h0m2 0h0m1 0h0m1 0h0m1 0h0m1 0h0m10 0h0m2 0h0m3 0h0m1 0h0m1 0h0m1 0h0m1 0h0m1 0h0m2 0h0m1 0h0M0-56h0m2 0h0m3 0h0m3 0h0m1 0h0m3 0h0m1 0h0m3 0h0m6 0h0m1 0h0m2 0h0m5 0h0m3 0h0m1 0h0m1 0h0m1 0h0m1 0h0m6 0h0m1 0h0m7 0h0m7 0h0m5 0h0m1 0h0m1 0h0m2 0h0m4 0h0m2 0h0m7 0h0m3 0h0m1 0h0m4 0h0m3 0h0m4 0h0m2 0h0m1 0h0M1-57h0m1 0h0m3 0h0m1 0h0m1 0h0m3 0h0m2 0h0m3 0h0m1 0h0m1 0h0m1 0h0m2 0h0m1 0h0m1 0h0m3 0h0m6 0h0m2 0h0m1 0h0m4 0h0m4 0h0m2 0h0m3 0h0m1 0h0m2 0h0m2 0h0m1 0h0m3 0h0m5 0h0m1 0h0m7 0h0m2 0h0m1 0h0m1 0h0m1 0h0m1 0h0m4 0h0m2 0h0m3 0h0m2 0h0m2 0h0m2 0h0m4 0h0m1 0h0m1 0h0M1-58h0m1 0h0m3 0h0m1 0h0m1 0h0m1 0h0m1 0h0m1 0h0m1 0h0m1 0h0m4 0h0m2 0h0m1 0h0m1 0h0m2 0h0m1 0h0m5 0h0m1 0h0m1 0h0m2 0h0m1 0h0m1 0h0m1 0h0m4 0h0m1 0h0m3 0h0m2 0h0m1 0h0m1 0h0m2 0h0m1 0h0m1 0h0m1 0h0m1 0h0m1 0h0m1 0h0m1 0h0m2 0h0m1 0h0m1 0h0m1 0h0m1 0h0m2 0h0m2 0h0m1 0h0m1 0h0m1 0h0m2 0h0m2 0h0m1 0h0m2 0h0m3 0h0m1 0h0m1 0h0m1 0h0m3 0h0m1 0h0m2 0h0m1 0h0m2 0h0m1 0h0m1 0h0m1 0h0m1 0h0m1 0h0m1 0h0m1 0h0m1 0h0M1-59h0m1 0h0m2 0h0m2 0h0m1 0h0m1 0h0m3 0h0m1 0h0m3 0h0m1 0h0m5 0h0m2 0h0m1 0h0m1 0h0m2 0h0m7 0h0m2 0h0m3 0h0m1 0h0m4 0h0m1 0h0m1 0h0m1 0h0m2 0h0m4 0h0m4 0h0m3 0h0m5 0h0m2 0h0m2 0h0m1 0h0m1 0h0m4 0h0m1 0h0m2 0h0m2 0h0m2 0h0m3 0h0m1 0h0m1 0h0m7 0h0m1 0h0m1 0h0m1 0h0M0-60h0m2 0h0m4 0h0m1 0h0m4 0h0m6 0h0m6 0h0m2 0h0m6 0h0m3 0h0m4 0h0m3 0h0m1 0h0m1 0h0m5 0h0m7 0h0m4 0h0m2 0h0m9 0h0m2 0h0m2 0h0m2 0h0m3 0h0m5 0h0m1 0h0m3 0h0m2 0h0m8 0h0m1 0h0M1-61h0m1 0h0m1 0h0m1 0h0m2 0h0m2 0h0m5 0h0m1 0h0m2 0h0m1 0h0m2 0h0m1 0h0m1 0h0m2 0h0m1 0h0m1 0h0m8 0h0m1 0h0m1 0h0m1 0h0m3 0h0m4 0h0m6 0h0m4 0h0m2 0h0m2 0h0m1 0h0m4 0h0m1 0h0m1 0h0m1 0h0m2 0h0m4 0h0m1 0h0m3 0h0m3 0h0m1 0h0m3 0h0m2 0h0m1 0h0m5 0h0m1 0h0m1 0h0m1 0h0m2 0h0m1 0h0m1 0h0M0-62h0m1 0h0m4 0h0m2 0h0m3 0h0m3 0h0m1 0h0m3 0h0m2 0h0m1 0h0m3 0h0m4 0h0m2 0h0m1 0h0m2 0h0m1 0h0m1 0h0m6 0h0m10 0h0m1 0h0m1 0h0m3 0h0m6 0h0m4 0h0m5 0h0m1 0h0m4 0h0m1 0h0m3 0h0m2 0h0m2 0h0m2 0h0m1 0h0m3 0h0m2 0h0m2 0h0m1 0h0M0-63h0m5 0h0m1 0h0m3 0h0m2 0h0m2 0h0m1 0h0m4 0h0m2 0h0m3 0h0m2 0h0m5 0h0m9 0h0m3 0h0m3 0h0m2 0h0m1 0h0m3 0h0m1 0h0m1 0h0m1 0h0m1 0h0m3 0h0m1 0h0m1 0h0m2 0h0m7 0h0m1 0h0m2 0h0m2 0h0m2 0h0m2 0h0m1 0h0m2 0h0m4 0h0m1 0h0m1 0h0m1 0h0m1 0h0m1 0h0m1 0h0m1 0h0m4 0h0M0-64h0m5 0h0m1 0h0m1 0h0m1 0h0m1 0h0m2 0h0m1 0h0m1 0h0m3 0h0m4 0h0m2 0h0m3 0h0m5 0h0m1 0h0m2 0h0m1 0h0m2 0h0m1 0h0m1 0h0m1 0h0m2 0h0m1 0h0m2 0h0m3 0h0m5 0h0m1 0h0m4 0h0m3 0h0m1 0h0m1 0h0m2 0h0m7 0h0m2 0h0m1 0h0m1 0h0m2 0h0m2 0h0m3 0h0m1 0h0m1 0h0m1 0h0m1 0h0m4 0h0m1 0h0m5 0h0m1 0h0m1 0h0m1 0h0M0-65h0m1 0h0m1 0h0m1 0h0m5 0h0m1 0h0m1 0h0m1 0h0m2 0h0m1 0h0m1 0h0m1 0h0m1 0h0m2 0h0m3 0h0m1 0h0m1 0h0m1 0h0m2 0h0m2 0h0m1 0h0m1 0h0m1 0h0m2 0h0m1 0h0m3 0h0m3 0h0m3 0h0m1 0h0m1 0h0m1 0h0m1 0h0m1 0h0m1 0h0m3 0h0m1 0h0m4 0h0m1 0h0m1 0h0m5 0h0m3 0h0m1 0h0m2 0h0m1 0h0m1 0h0m2 0h0m1 0h0m1 0h0m1 0h0m1 0h0m2 0h0m1 0h0m1 0h0m1 0h0m2 0h0m1 0h0m1 0h0m3 0h0m2 0h0m4 0h0M1-66h0m3 0h0m2 0h0m1 0h0m3 0h0m9 0h0m2 0h0m2 0h0m1 0h0m4 0h0m2 0h0m1 0h0m4 0h0m1 0h0m5 0h0m2 0h0m6 0h0m3 0h0m5 0h0m2 0h0m6 0h0m2 0h0m2 0h0m4 0h0m5 0h0m2 0h0m5 0h0m4 0h0m1 0h0m3 0h0m3 0h0m3 0h0M3-67h0m1 0h0m1 0h0m1 0h0m1 0h0m1 0h0m1 0h0m2 0h0m1 0h0m1 0h0m1 0h0m2 0h0m1 0h0m1 0h0m1 0h0m5 0h0m3 0h0m4 0h0m6 0h0m1 0h0m4 0h0m2 0h0m3 0h0m1 0h0m1 0h0m1 0h0m1 0h0m3 0h0m2 0h0m2 0h0m1 0h0m5 0h0m1 0h0m2 0h0m1 0h0m1 0h0m1 0h0m7 0h0m1 0h0m6 0h0m2 0h0m1 0h0m3 0h0m1 0h0m1 0h0m3 0h0m2 0h0M0-68h0m3 0h0m4 0h0m1 0h0m1 0h0m1 0h0m3 0h0m4 0h0m1 0h0m3 0h0m1 0h0m1 0h0m1 0h0m2 0h0m1 0h0m2 0h0m1 0h0m4 0h0m1 0h0m2 0h0m4 0h0m1 0h0m4 0h0m3 0h0m1 0h0m1 0h0m2 0h0m2 0h0m2 0h0m1 0h0m1 0h0m5 0h0m2 0h0m1 0h0m4 0h0m2 0h0m1 0h0m6 0h0m3 0h0m2 0h0m1 0h0m2 0h0m2 0h0m1 0h0m1 0h0m1 0h0m1 0h0m1 0h0m1 0h0m2 0h0m1 0h0M0-69h0m6 0h0m4 0h0m7 0h0m2 0h0m1 0h0m1 0h0m2 0h0m3 0h0m1 0h0m1 0h0m4 0h0m2 0h0m1 0h0m2 0h0m1 0h0m1 0h0m2 0h0m1 0h0m5 0h0m3 0h0m1 0h0m1 0h0m1 0h0m1 0h0m1 0h0m1 0h0m1 0h0m1 0h0m1 0h0m2 0h0m1 0h0m5 0h0m7 0h0m2 0h0m1 0h0m2 0h0m4 0h0m1 0h0m1 0h0m1 0h0m2 0h0m1 0h0m4 0h0m1 0h0m2 0h0m2 0h0M0-70h0m4 0h0m6 0h0m4 0h0m2 0h0m3 0h0m3 0h0m3 0h0m5 0h0m3 0h0m2 0h0m1 0h0m1 0h0m1 0h0m1 0h0m1 0h0m4 0h0m1 0h0m1 0h0m1 0h0m6 0h0m3 0h0m2 0h0m4 0h0m2 0h0m2 0h0m7 0h0m2 0h0m1 0h0m3 0h0m3 0h0m2 0h0m1 0h0m1 0h0m1 0h0m1 0h0m1 0h0m1 0h0m2 0h0m1 0h0m4 0h0m2 0h0M1-71h0m6 0h0m3 0h0m5 0h0m1 0h0m1 0h0m4 0h0m1 0h0m4 0h0m1 0h0m3 0h0m4 0h0m1 0h0m1 0h0m1 0h0m2 0h0m2 0h0m2 0h0m2 0h0m1 0h0m1 0h0m1 0h0m1 0h0m9 0h0m1 0h0m1 0h0m1 0h0m1 0h0m2 0h0m2 0h0m3 0h0m1 0h0m2 0h0m1 0h0m1 0h0m1 0h0m4 0h0m3 0h0m1 0h0m3 0h0m2 0h0M1-72h0m1 0h0m4 0h0m3 0h0m4 0h0m2 0h0m1 0h0m1 0h0m1 0h0m1 0h0m1 0h0m3 0h0m1 0h0m1 0h0m1 0h0m2 0h0m2 0h0m4 0h0m2 0h0m1 0h0m1 0h0m3 0h0m2 0h0m1 0h0m1 0h0m1 0h0m1 0h0m2 0h0m1 0h0m2 0h0m1 0h0m1 0h0m1 0h0m2 0h0m1 0h0m2 0h0m1 0h0m3 0h0m2 0h0m1 0h0m2 0h0m2 0h0m1 0h0m3 0h0m3 0h0m2 0h0m2 0h0m1 0h0m2 0h0m1 0h0m1 0h0m2 0h0m1 0h0m2 0h0m2 0h0m3 0h0M2-73h0m1 0h0m1 0h0m4 0h0m1 0h0m1 0h0m2 0h0m1 0h0m2 0h0m2 0h0m1 0h0m2 0h0m1 0h0m1 0h0m4 0h0m4 0h0m1 0h0m3 0h0m2 0h0m2 0h0m1 0h0m1 0h0m1 0h0m1 0h0m3 0h0m2 0h0m1 0h0m1 0h0m2 0h0m4 0h0m2 0h0m1 0h0m1 0h0m3 0h0m4 0h0m2 0h0m3 0h0m3 0h0m2 0h0m1 0h0m2 0h0m4 0h0m1 0h0m1 0h0m1 0h0m5 0h0m4 0h0m2 0h0m2 0h0M3-74h0m4 0h0m1 0h0m4 0h0m1 0h0m1 0h0m5 0h0m2 0h0m2 0h0m1 0h0m2 0h0m2 0h0m4 0h0m1 0h0m1 0h0m4 0h0m1 0h0m2 0h0m2 0h0m1 0h0m6 0h0m1 0h0m4 0h0m1 0h0m1 0h0m2 0h0m3 0h0m1 0h0m4 0h0m3 0h0m2 0h0m2 0h0m1 0h0m2 0h0m4 0h0m1 0h0m1 0h0m1 0h0m1 0h0m1 0h0m3 0h0m2 0h0m1 0h0m1 0h0m4 0h0m2 0h0M1-75h0m3 0h0m2 0h0m3 0h0m1 0h0m5 0h0m1 0h0m2 0h0m1 0h0m6 0h0m1 0h0m2 0h0m1 0h0m1 0h0m2 0h0m1 0h0m6 0h0m3 0h0m1 0h0m1 0h0m2 0h0m1 0h0m1 0h0m2 0h0m1 0h0m2 0h0m1 0h0m2 0h0m1 0h0m4 0h0m2 0h0m1 0h0m1 0h0m1 0h0m1 0h0m1 0h0m1 0h0m2 0h0m2 0h0m1 0h0m1 0h0m2 0h0m5 0h0m2 0h0m1 0h0m2 0h0m4 0h0m2 0h0m1 0h0m3 0h0m1 0h0M0-76h0m1 0h0m1 0h0m3 0h0m4 0h0m1 0h0m1 0h0m1 0h0m1 0h0m1 0h0m2 0h0m1 0h0m4 0h0m2 0h0m4 0h0m5 0h0m2 0h0m1 0h0m1 0h0m2 0h0m2 0h0m1 0h0m1 0h0m1 0h0m1 0h0m1 0h0m1 0h0m1 0h0m2 0h0m3 0h0m1 0h0m2 0h0m1 0h0m2 0h0m1 0h0m1 0h0m2 0h0m7 0h0m1 0h0m2 0h0m2 0h0m4 0h0m2 0h0m2 0h0m1 0h0m4 0h0m1 0h0m1 0h0m2 0h0m1 0h0m2 0h0m1 0h0M0-77h0m1 0h0m2 0h0m4 0h0m1 0h0m3 0h0m3 0h0m1 0h0m1 0h0m11 0h0m1 0h0m2 0h0m2 0h0m3 0h0m1 0h0m1 0h0m1 0h0m3 0h0m3 0h0m2 0h0m4 0h0m1 0h0m3 0h0m4 0h0m2 0h0m1 0h0m1 0h0m3 0h0m1 0h0m2 0h0m3 0h0m2 0h0m6 0h0m1 0h0m3 0h0m2 0h0m1 0h0m1 0h0m3 0h0m1 0h0m2 0h0m5 0h0M1-78h0m2 0h0m3 0h0m1 0h0m1 0h0m1 0h0m1 0h0m2 0h0m1 0h0m2 0h0m1 0h0m2 0h0m1 0h0m1 0h0m3 0h0m2 0h0m1 0h0m3 0h0m1 0h0m1 0h0m1 0h0m1 0h0m3 0h0m1 0h0m1 0h0m3 0h0m1 0h0m1 0h0m4 0h0m1 0h0m1 0h0m3 0h0m1 0h0m1 0h0m1 0h0m2 0h0m2 0h0m2 0h0m2 0h0m4 0h0m1 0h0m5 0h0m1 0h0m4 0h0m1 0h0m1 0h0m2 0h0m2 0h0m3 0h0m2 0h0m2 0h0m2 0h0m1 0h0m1 0h0m2 0h0m1 0h0m1 0h0M0-79h0m2 0h0m2 0h0m1 0h0m1 0h0m1 0h0m1 0h0m3 0h0m1 0h0m1 0h0m1 0h0m2 0h0m2 0h0m3 0h0m3 0h0m5 0h0m1 0h0m3 0h0m2 0h0m1 0h0m3 0h0m2 0h0m1 0h0m1 0h0m1 0h0m1 0h0m2 0h0m2 0h0m1 0h0m1 0h0m1 0h0m3 0h0m10 0h0m3 0h0m1 0h0m1 0h0m1 0h0m4 0h0m1 0h0m3 0h0m1 0h0m1 0h0m1 0h0m3 0h0m2 0h0m6 0h0m1 0h0m2 0h0m1 0h0m1 0h0M0-80h0m3 0h0m2 0h0m1 0h0m1 0h0m1 0h0m3 0h0m3 0h0m1 0h0m2 0h0m1 0h0m3 0h0m1 0h0m2 0h0m1 0h0m2 0h0m1 0h0m3 0h0m4 0h0m1 0h0m2 0h0m2 0h0m7 0h0m1 0h0m3 0h0m2 0h0m1 0h0m1 0h0m1 0h0m2 0h0m1 0h0m2 0h0m1 0h0m1 0h0m1 0h0m3 0h0m2 0h0m1 0h0m1 0h0m1 0h0m1 0h0m1 0h0m1 0h0m1 0h0m1 0h0m2 0h0m4 0h0m2 0h0m2 0h0m1 0h0m1 0h0m4 0h0m1 0h0m1 0h0m1 0h0m1 0h0m1 0h0m1 0h0M0-81h0m1 0h0m2 0h0m1 0h0m2 0h0m1 0h0m1 0h0m2 0h0m3 0h0m3 0h0m1 0h0m1 0h0m3 0h0m1 0h0m5 0h0m1 0h0m1 0h0m1 0h0m2 0h0m1 0h0m2 0h0m1 0h0m2 0h0m1 0h0m1 0h0m5 0h0m1 0h0m4 0h0m3 0h0m2 0h0m1 0h0m5 0h0m3 0h0m3 0h0m3 0h0m6 0h0m3 0h0m1 0h0m2 0h0m7 0h0m3 0h0m1 0h0m1 0h0m1 0h0m2 0h0m2 0h0M0-82h0m1 0h0m2 0h0m3 0h0m1 0h0m1 0h0m8 0h0m1 0h0m3 0h0m4 0h0m1 0h0m1 0h0m3 0h0m2 0h0m3 0h0m2 0h0m1 0h0m1 0h0m1 0h0m5 0h0m2 0h0m1 0h0m5 0h0m8 0h0m2 0h0m6 0h0m4 0h0m3 0h0m4 0h0m2 0h0m2 0h0m2 0h0m1 0h0m3 0h0m2 0h0m3 0h0m2 0h0m1 0h0m2 0h0M3-83h0m3 0h0m2 0h0m1 0h0m3 0h0m2 0h0m4 0h0m2 0h0m4 0h0m3 0h0m1 0h0m1 0h0m1 0h0m3 0h0m2 0h0m2 0h0m1 0h0m5 0h0m8 0h0m2 0h0m1 0h0m2 0h0m1 0h0m3 0h0m2 0h0m2 0h0m7 0h0m1 0h0m1 0h0m7 0h0m2 0h0m2 0h0m1 0h0m1 0h0m1 0h0m2 0h0m1 0h0m1 0h0m3 0h0m2 0h0m1 0h0m2 0h0M2-84h0m5 0h0m6 0h0m1 0h0m1 0h0m1 0h0m3 0h0m1 0h0m2 0h0m1 0h0m2 0h0m3 0h0m1 0h0m1 0h0m3 0h0m2 0h0m4 0h0m1 0h0m4 0h0m2 0h0m2 0h0m4 0h0m1 0h0m5 0h0m1 0h0m1 0h0m1 0h0m2 0h0m2 0h0m11 0h0m1 0h0m3 0h0m1 0h0m4 0h0m1 0h0m1 0h0m1 0h0m6 0h0m5 0h0M1-85h0m1 0h0m5 0h0m1 0h0m3 0h0m3 0h0m4 0h0m2 0h0m2 0h0m1 0h0m2 0h0m5 0h0m5 0h0m1 0h0m2 0h0m2 0h0m1 0h0m1 0h0m6 0h0m1 0h0m2 0h0m1 0h0m1 0h0m3 0h0m9 0h0m1 0h0m1 0h0m2 0h0m3 0h0m1 0h0m2 0h0m4 0h0m2 0h0m1 0h0m1 0h0m2 0h0m2 0h0m5 0h0m5 0h0m1 0h0M1-86h0m3 0h0m1 0h0m1 0h0m2 0h0m2 0h0m4 0h0m6 0h0m5 0h0m1 0h0m4 0h0m3 0h0m3 0h0m1 0h0m5 0h0m3 0h0m2 0h0m8 0h0m1 0h0m1 0h0m2 0h0m2 0h0m2 0h0m4 0h0m5 0h0m3 0h0m2 0h0m2 0h0m4 0h0m1 0h0m1 0h0m1 0h0m1 0h0m3 0h0m3 0h0m1 0h0m1 0h0m2 0h0m2 0h0M2-87h0m1 0h0m4 0h0m3 0h0m2 0h0m1 0h0m1 0h0m3 0h0m10 0h0m4 0h0m2 0h0m1 0h0m5 0h0m2 0h0m2 0h0m1 0h0m7 0h0m1 0h0m2 0h0m1 0h0m1 0h0m1 0h0m2 0h0m2 0h0m1 0h0m2 0h0m1 0h0m1 0h0m2 0h0m2 0h0m1 0h0m4 0h0m2 0h0m3 0h0m2 0h0m2 0h0M1-88h0m1 0h0m1 0h0m4 0h0m2 0h0m1 0h0m1 0h0m2 0h0m2 0h0m2 0h0m1 0h0m1 0h0m1 0h0m1 0h0m3 0h0m1 0h0m4 0h0m4 0h0m1 0h0m1 0h0m1 0h0m1 0h0m1 0h0m2 0h0m3 0h0m1 0h0m1 0h0m3 0h0m2 0h0m1 0h0m1 0h0m1 0h0m1 0h0m1 0h0m3 0h0m1 0h0m1 0h0m2 0h0m2 0h0m2 0h0m1 0h0m3 0h0m1 0h0m4 0h0m2 0h0m4 0h0m1 0h0m1 0h0m2 0h0m1 0h0m2 0h0m2 0h0m4 0h0m3 0h0m1 0h0m1 0h0M1-89h0m2 0h0m1 0h0m1 0h0m2 0h0m1 0h0m2 0h0m2 0h0m1 0h0m2 0h0m1 0h0m1 0h0m2 0h0m2 0h0m2 0h0m1 0h0m2 0h0m2 0h0m2 0h0m1 0h0m2 0h0m1 0h0m2 0h0m2 0h0m2 0h0m2 0h0m2 0h0m4 0h0m1 0h0m2 0h0m3 0h0m1 0h0m3 0h0m6 0h0m4 0h0m3 0h0m1 0h0m2 0h0m2 0h0m3 0h0m1 0h0m1 0h0m1 0h0m1 0h0m3 0h0m1 0h0m1 0h0m5 0h0m2 0h0m1 0h0m3 0h0M1-90h0m3 0h0m4 0h0m8 0h0m3 0h0m1 0h0m1 0h0m12 0h0m2 0h0m1 0h0m2 0h0m1 0h0m4 0h0m4 0h0m1 0h0m4 0h0m1 0h0m6 0h0m1 0h0m1 0h0m3 0h0m1 0h0m3 0h0m2 0h0m1 0h0m2 0h0m3 0h0m5 0h0m5 0h0m3 0h0m4 0h0m1 0h0m5 0h0M0-91h0m2 0h0m1 0h0m1 0h0m1 0h0m2 0h0m1 0h0m1 0h0m1 0h0m1 0h0m2 0h0m3 0h0m1 0h0m2 0h0m4 0h0m1 0h0m2 0h0m1 0h0m3 0h0m1 0h0m3 0h0m2 0h0m1 0h0m1 0h0m1 0h0m1 0h0m1 0h0m1 0h0m1 0h0m1 0h0m1 0h0m1 0h0m3 0h0m1 0h0m1 0h0m2 0h0m2 0h0m2 0h0m1 0h0m1 0h0m1 0h0m1 0h0m4 0h0m1 0h0m2 0h0m1 0h0m3 0h0m1 0h0m1 0h0m1 0h0m1 0h0m1 0h0m2 0h0m1 0h0m1 0h0m3 0h0m1 0h0m5 0h0m1 0h0m1 0h0m1 0h0m1 0h0m2 0h0m1 0h0m1 0h0m1 0h0M0-92h0m1 0h0m1 0h0m1 0h0m1 0h0m1 0h0m1 0h0m1 0h0m1 0h0m1 0h0m1 0h0m1 0h0m3 0h0m1 0h0m1 0h0m1 0h0m1 0h0m1 0h0m1 0h0m1 0h0m1 0h0m2 0h0m1 0h0m1 0h0m2 0h0m1 0h0m1 0h0m1 0h0m1 0h0m1 0h0m1 0h0m2 0h0m1 0h0m1 0h0m1 0h0m1 0h0m1 0h0m1 0h0m1 0h0m1 0h0m1 0h0m1 0h0m1 0h0m1 0h0m3 0h0m1 0h0m1 0h0m1 0h0m1 0h0m1 0h0m1 0h0m1 0h0m1 0h0m1 0h0m1 0h0m1 0h0m1 0h0m1 0h0m1 0h0m1 0h0m1 0h0m1 0h0m1 0h0m1 0h0m1 0h0m2 0h0m2 0h0m1 0h0m2 0h0m1 0h0m1 0h0m1 0h0m2 0h0m2 0h0m2 0h0m1 0h0m1 0h0m1 0h0m1 0h0m1 0h0m1 0h0m1 0h0m1 0h0m1 0h0m1 0h0m1 0h0M1-93h0m7 0h0m2 0h0m1 0h0m6 0h0m1 0h0m2 0h0m1 0h0m3 0h0m1 0h0m2 0h0m1 0h0m1 0h0m2 0h0m3 0h0m1 0h0m1 0h0m5 0h0m1 0h0m1 0h0m1 0h0m1 0h0m3 0h0m1 0h0m1 0h0m1 0h0m2 0h0m2 0h0m3 0h0m1 0h0m1 0h0m1 0h0m2 0h0m1 0h0m1 0h0m5 0h0m1 0h0m1 0h0m1 0h0m4 0h0m1 0h0m2 0h0m1 0h0m4 0h0m3 0h0m3 0h0m1 0h0m2 0h0m1 0h0m4 0h0M1-94h0m1 0h0m1 0h0m5 0h0m3 0h0m1 0h0m1 0h0m1 0h0m1 0h0m2 0h0m1 0h0m1 0h0m8 0h0m1 0h0m2 0h0m2 0h0m3 0h0m1 0h0m1 0h0m1 0h0m2 0h0m2 0h0m1 0h0m2 0h0m1 0h0m1 0h0m3 0h0m1 0h0m5 0h0m2 0h0m1 0h0m3 0h0m2 0h0m1 0h0m2 0h0m5 0h0m1 0h0m2 0h0m1 0h0m1 0h0m1 0h0m1 0h0m2 0h0m1 0h0m1 0h0m1 0h0m1 0h0m1 0h0m1 0h0m3 0h0m1 0h0m1 0h0m1 0h0m1 0h0m1 0h0m4 0h0M0-95h0m2 0h0m2 0h0m1 0h0m7 0h0m1 0h0m3 0h0m1 0h0m1 0h0m2 0h0m1 0h0m4 0h0m1 0h0m2 0h0m2 0h0m1 0h0m2 0h0m1 0h0m1 0h0m2 0h0m4 0h0m1 0h0m2 0h0m1 0h0m1 0h0m1 0h0m3 0h0m2 0h0m1 0h0m2 0h0m2 0h0m1 0h0m2 0h0m1 0h0m1 0h0m2 0h0m2 0h0m2 0h0m1 0h0m4 0h0m2 0h0m1 0h0m1 0h0m1 0h0m2 0h0m1 0h0m1 0h0m2 0h0m2 0h0m3 0h0m1 0h0m1 0h0m4 0h0m1 0h0m2 0h0m1 0h0M1-96h0m4 0h0m5 0h0m1 0h0m2 0h0m3 0h0m1 0h0m1 0h0m1 0h0m1 0h0m1 0h0m3 0h0m1 0h0m1 0h0m1 0h0m1 0h0m1 0h0m7 0h0m1 0h0m1 0h0m1 0h0m3 0h0m2 0h0m3 0h0m4 0h0m2 0h0m2 0h0m3 0h0m2 0h0m4 0h0m2 0h0m1 0h0m6 0h0m1 0h0m1 0h0m5 0h0m1 0h0m1 0h0m1 0h0m5 0h0m1 0h0m1 0h0m2 0h0m2 0h0m1 0h0m3 0h0m1 0h0M0-97h0m1 0h0m1 0h0m2 0h0m1 0h0m1 0h0m1 0h0m2 0h0m1 0h0m1 0h0m1 0h0m1 0h0m1 0h0m1 0h0m1 0h0m1 0h0m1 0h0m1 0h0m1 0h0m3 0h0m2 0h0m1 0h0m1 0h0m1 0h0m1 0h0m2 0h0m2 0h0m1 0h0m1 0h0m1 0h0m1 0h0m1 0h0m1 0h0m2 0h0m2 0h0m2 0h0m4 0h0m1 0h0m2 0h0m1 0h0m2 0h0m4 0h0m2 0h0m1 0h0m1 0h0m1 0h0m1 0h0m1 0h0m1 0h0m1 0h0m1 0h0m2 0h0m1 0h0m1 0h0m2 0h0m1 0h0m2 0h0m1 0h0m2 0h0m1 0h0m2 0h0m2 0h0m1 0h0m1 0h0m2 0h0m1 0h0m2 0h0m1 0h0m1 0h0m2 0h0m1 0h0m1 0h0M2-98h0m1 0h0m7 0h0m2 0h0m2 0h0m2 0h0m1 0h0m3 0h0m4 0h0m3 0h0m3 0h0m2 0h0m1 0h0m1 0h0m2 0h0m5 0h0m2 0h0m6 0h0m2 0h0m2 0h0m2 0h0m1 0h0m1 0h0m5 0h0m6 0h0m2 0h0m2 0h0m16 0h0m3 0h0m5 0h0m1 0h0m2 0h0M3-99h0m5 0h0m2 0h0m3 0h0m1 0h0m1 0h0m1 0h0m5 0h0m1 0h0m1 0h0m1 0h0m1 0h0m1 0h0m1 0h0m1 0h0m1 0h0m2 0h0m3 0h0m1 0h0m1 0h0m1 0h0m2 0h0m3 0h0m5 0h0m4 0h0m1 0h0m1 0h0m3 0h0m2 0h0m2 0h0m1 0h0m3 0h0m2 0h0m1 0h0m4 0h0m2 0h0m1 0h0m2 0h0m1 0h0m1 0h0m2 0h0m3 0h0m1 0h0m2 0h0m7 0h0m1 0h0m4 0h0m1 0h0M0-100h0m4 0h0m2 0h0m1 0h0m2 0h0m1 0h0m4 0h0m1 0h0m1 0h0m2 0h0m1 0h0m2 0h0m2 0h0m2 0h0m1 0h0m1 0h0m2 0h0m2 0h0m4 0h0m2 0h0m3 0h0m1 0h0m1 0h0m1 0h0m1 0h0m1 0h0m1 0h0m1 0h0m1 0h0m1 0h0m3 0h0m2 0h0m1 0h0m1 0h0m3 0h0m4 0h0m1 0h0m1 0h0m2 0h0m3 0h0m1 0h0m2 0h0m1 0h0m1 0h0m1 0h0m1 0h0m2 0h0m1 0h0m2 0h0m3 0h0m1 0h0m1 0h0m4 0h0m3 0h0m1 0h0m2 0h0m1 0h0m1 0h0M0-101h0m2 0h0m1 0h0m2 0h0m7 0h0m3 0h0m1 0h0m6 0h0m2 0h0m2 0h0m2 0h0m5 0h0m1 0h0m2 0h0m1 0h0m1 0h0m4 0h0m3 0h0m1 0h0m7 0h0m1 0h0m7 0h0m9 0h0m6 0h0m2 0h0m7 0h0m4 0h0m4 0h0M3-102h0m1 0h0m2 0h0m5 0h0m3 0h0m1 0h0m1 0h0m1 0h0m1 0h0m1 0h0m1 0h0m1 0h0m2 0h0m7 0h0m2 0h0m1 0h0m1 0h0m6 0h0m3 0h0m3 0h0m1 0h0m3 0h0m2 0h0m2 0h0m2 0h0m1 0h0m1 0h0m3 0h0m3 0h0m2 0h0m1 0h0m1 0h0m1 0h0m2 0h0m2 0h0m2 0h0m1 0h0m2 0h0m3 0h0m2 0h0m2 0h0m4 0h0m1 0h0m2 0h0m3 0h0m1 0h0m3 0h0M0-103h0m4 0h0m1 0h0m1 0h0m3 0h0m1 0h0m1 0h0m1 0h0m1 0h0m2 0h0m2 0h0m2 0h0m1 0h0m1 0h0m1 0h0m5 0h0m2 0h0m1 0h0m3 0h0m1 0h0m2 0h0m1 0h0m7 0h0m1 0h0m1 0h0m1 0h0m3 0h0m1 0h0m1 0h0m3 0h0m2 0h0m1 0h0m1 0h0m2 0h0m5 0h0m1 0h0m1 0h0m1 0h0m1 0h0m1 0h0m1 0h0m1 0h0m2 0h0m1 0h0m5 0h0m1 0h0m1 0h0m1 0h0m1 0h0m1 0h0m2 0h0m1 0h0m1 0h0m1 0h0m2 0h0m2 0h0m4 0h0M0-104h0m1 0h0m1 0h0m1 0h0m1 0h0m5 0h0m1 0h0m1 0h0m1 0h0m1 0h0m2 0h0m1 0h0m2 0h0m2 0h0m1 0h0m1 0h0m1 0h0m1 0h0m1 0h0m1 0h0m1 0h0m1 0h0m1 0h0m2 0h0m1 0h0m1 0h0m1 0h0m1 0h0m1 0h0m1 0h0m1 0h0m1 0h0m1 0h0m1 0h0m3 0h0m2 0h0m1 0h0m3 0h0m1 0h0m1 0h0m2 0h0m1 0h0m2 0h0m1 0h0m1 0h0m2 0h0m2 0h0m1 0h0m1 0h0m1 0h0m1 0h0m1 0h0m1 0h0m2 0h0m1 0h0m1 0h0m1 0h0m1 0h0m1 0h0m1 0h0m1 0h0m2 0h0m1 0h0m1 0h0m1 0h0m3 0h0m1 0h0m1 0h0m1 0h0m2 0h0m1 0h0m1 0h0m1 0h0m1 0h0m1 0h0m1 0h0m1 0h0m1 0h0M0-105h0m1 0h0m3 0h0m1 0h0m1 0h0m2 0h0m3 0h0m1 0h0m1 0h0m1 0h0m1 0h0m1 0h0m1 0h0m1 0h0m1 0h0m2 0h0m1 0h0m1 0h0m1 0h0m1 0h0m1 0h0m1 0h0m2 0h0m1 0h0m1 0h0m1 0h0m2 0h0m1 0h0m1 0h0m1 0h0m1 0h0m1 0h0m1 0h0m1 0h0m1 0h0m2 0h0m1 0h0m1 0h0m1 0h0m2 0h0m2 0h0m1 0h0m1 0h0m1 0h0m1 0h0m1 0h0m1 0h0m1 0h0m2 0h0m1 0h0m1 0h0m1 0h0m1 0h0m2 0h0m3 0h0m1 0h0m1 0h0m2 0h0m1 0h0m1 0h0m1 0h0m3 0h0m1 0h0m1 0h0m1 0h0m1 0h0m1 0h0m1 0h0m1 0h0m1 0h0m1 0h0m1 0h0m1 0h0m1 0h0m1 0h0m1 0h0m1 0h0m1 0h0m1 0h0m1 0h0m1 0h0M1-106h0m1 0h0m2 0h0m4 0h0m1 0h0m3 0h0m2 0h0m3 0h0m1 0h0m5 0h0m2 0h0m1 0h0m2 0h0m7 0h0m1 0h0m1 0h0m1 0h0m3 0h0m1 0h0m2 0h0m1 0h0m3 0h0m3 0h0m1 0h0m2 0h0m1 0h0m2 0h0m2 0h0m1 0h0m2 0h0m4 0h0m10 0h0m1 0h0m1 0h0m1 0h0m7 0h0m1 0h0m4 0h0m5 0h0m1 0h0m1 0h0m1 0h0M0-107h0m1 0h0m1 0h0m3 0h0m4 0h0m2 0h0m2 0h0m1 0h0m4 0h0m3 0h0m1 0h0m1 0h0m2 0h0m2 0h0m2 0h0m1 0h0m1 0h0m4 0h0m1 0h0m1 0h0m4 0h0m2 0h0m1 0h0m1 0h0m1 0h0m1 0h0m2 0h0m1 0h0m1 0h0m3 0h0m4 0h0m3 0h0m1 0h0m1 0h0m3 0h0m1 0h0m1 0h0m1 0h0m10 0h0m1 0h0m1 0h0m1 0h0m2 0h0m2 0h0m4 0h0m3 0h0m3 0h0m2 0h0m1 0h0M2-108h0m1 0h0m1 0h0m1 0h0m3 0h0m1 0h0m6 0h0m1 0h0m2 0h0m3 0h0m2 0h0m4 0h0m3 0h0m1 0h0m4 0h0m1 0h0m1 0h0m1 0h0m1 0h0m1 0h0m1 0h0m1 0h0m1 0h0m1 0h0m1 0h0m3 0h0m1 0h0m2 0h0m2 0h0m2 0h0m3 0h0m1 0h0m6 0h0m2 0h0m2 0h0m4 0h0m1 0h0m2 0h0m1 0h0m3 0h0m1 0h0m1 0h0m2 0h0m2 0h0m1 0h0m4 0h0m1 0h0m1 0h0m1 0h0m1 0h0m3 0h0M1-109h0m2 0h0m2 0h0m1 0h0m12 0h0m5 0h0m1 0h0m2 0h0m1 0h0m1 0h0m4 0h0m3 0h0m2 0h0m1 0h0m2 0h0m3 0h0m1 0h0m2 0h0m1 0h0m3 0h0m3 0h0m5 0h0m1 0h0m2 0h0m1 0h0m5 0h0m2 0h0m3 0h0m6 0h0m9 0h0m1 0h0m4 0h0M0-110h0m5 0h0m5 0h0m1 0h0m3 0h0m6 0h0m1 0h0m2 0h0m5 0h0m1 0h0m1 0h0m1 0h0m1 0h0m1 0h0m5 0h0m1 0h0m2 0h0m1 0h0m2 0h0m2 0h0m1 0h0m3 0h0m1 0h0m1 0h0m1 0h0m4 0h0m2 0h0m1 0h0m5 0h0m1 0h0m2 0h0m1 0h0m1 0h0m1 0h0m1 0h0m1 0h0m3 0h0m3 0h0m1 0h0m2 0h0m2 0h0m4 0h0m1 0h0m6 0h0m1 0h0m3 0h0M2-111h0m1 0h0m5 0h0m3 0h0m1 0h0m3 0h0m1 0h0m2 0h0m1 0h0m1 0h0m1 0h0m2 0h0m2 0h0m2 0h0m3 0h0m2 0h0m1 0h0m1 0h0m1 0h0m1 0h0m2 0h0m1 0h0m1 0h0m4 0h0m1 0h0m1 0h0m2 0h0m2 0h0m1 0h0m2 0h0m3 0h0m1 0h0m1 0h0m2 0h0m3 0h0m2 0h0m1 0h0m1 0h0m4 0h0m1 0h0m1 0h0m2 0h0m1 0h0m1 0h0m5 0h0m2 0h0m2 0h0m3 0h0m1 0h0m3 0h0m1 0h0m1 0h0m2 0h0m1 0h0m1 0h0M0-112h0m2 0h0m2 0h0m1 0h0m1 0h0m3 0h0m1 0h0m1 0h0m1 0h0m1 0h0m3 0h0m1 0h0m2 0h0m1 0h0m3 0h0m1 0h0m8 0h0m5 0h0m2 0h0m1 0h0m3 0h0m1 0h0m1 0h0m1 0h0m1 0h0m1 0h0m1 0h0m1 0h0m5 0h0m2 0h0m2 0h0m4 0h0m1 0h0m3 0h0m1 0h0m6 0h0m3 0h0m1 0h0m5 0h0m2 0h0m4 0h0m1 0h0m3 0h0m2 0h0M1-113h0m1 0h0m3 0h0m2 0h0m2 0h0m2 0h0m2 0h0m2 0h0m2 0h0m1 0h0m1 0h0m1 0h0m3 0h0m1 0h0m1 0h0m2 0h0m1 0h0m2 0h0m1 0h0m2 0h0m3 0h0m2 0h0m4 0h0m1 0h0m3 0h0m1 0h0m2 0h0m2 0h0m3 0h0m1 0h0m1 0h0m2 0h0m1 0h0m1 0h0m1 0h0m1 0h0m2 0h0m1 0h0m1 0h0m1 0h0m1 0h0m1 0h0m1 0h0m1 0h0m2 0h0m1 0h0m1 0h0m2 0h0m5 0h0m1 0h0m5 0h0m2 0h0m5 0h0M2-114h0m2 0h0m2 0h0m1 0h0m1 0h0m1 0h0m5 0h0m4 0h0m1 0h0m2 0h0m1 0h0m1 0h0m1 0h0m1 0h0m1 0h0m1 0h0m3 0h0m7 0h0m1 0h0m1 0h0m3 0h0m1 0h0m1 0h0m1 0h0m1 0h0m2 0h0m3 0h0m4 0h0m1 0h0m1 0h0m4 0h0m1 0h0m1 0h0m1 0h0m1 0h0m1 0h0m1 0h0m1 0h0m1 0h0m3 0h0m1 0h0m1 0h0m1 0h0m1 0h0m1 0h0m1 0h0m1 0h0m2 0h0m1 0h0m1 0h0m1 0h0m1 0h0m1 0h0m2 0h0m2 0h0m1 0h0m2 0h0m1 0h0m1 0h0m2 0h0m2 0h0M7-115h0m1 0h0m1 0h0m1 0h0m1 0h0m2 0h0m1 0h0m2 0h0m1 0h0m4 0h0m1 0h0m1 0h0m2 0h0m2 0h0m1 0h0m2 0h0m3 0h0m1 0h0m1 0h0m1 0h0m2 0h0m3 0h0m2 0h0m2 0h0m5 0h0m1 0h0m1 0h0m1 0h0m4 0h0m2 0h0m1 0h0m4 0h0m1 0h0m2 0h0m1 0h0m5 0h0m7 0h0m1 0h0m2 0h0m1 0h0m1 0h0m1 0h0m1 0h0m1 0h0m1 0h0m2 0h0m1 0h0m3 0h0m2 0h0M0-116h0m1 0h0m4 0h0m2 0h0m2 0h0m2 0h0m1 0h0m1 0h0m1 0h0m3 0h0m1 0h0m5 0h0m2 0h0m3 0h0m5 0h0m4 0h0m1 0h0m3 0h0m4 0h0m3 0h0m3 0h0m2 0h0m1 0h0m2 0h0m2 0h0m1 0h0m2 0h0m3 0h0m2 0h0m2 0h0m1 0h0m1 0h0m2 0h0m4 0h0m2 0h0m1 0h0m2 0h0m1 0h0m1 0h0m1 0h0m1 0h0m1 0h0m1 0h0m3 0h0m2 0h0m3 0h0m2 0h0m1 0h0m1 0h0M1-117h0m1 0h0m3 0h0m1 0h0m2 0h0m3 0h0m1 0h0m2 0h0m4 0h0m2 0h0m2 0h0m5 0h0m5 0h0m1 0h0m1 0h0m5 0h0m2 0h0m4 0h0m2 0h0m4 0h0m1 0h0m2 0h0m8 0h0m2 0h0m1 0h0m2 0h0m2 0h0m1 0h0m2 0h0m1 0h0m5 0h0m4 0h0m2 0h0m1 0h0m1 0h0m3 0h0m1 0h0m2 0h0m1 0h0m4 0h0m1 0h0M1-118h0m4 0h0m3 0h0m2 0h0m1 0h0m2 0h0m3 0h0m1 0h0m1 0h0m1 0h0m2 0h0m1 0h0m3 0h0m1 0h0m2 0h0m2 0h0m2 0h0m1 0h0m1 0h0m2 0h0m4 0h0m2 0h0m8 0h0m2 0h0m4 0h0m1 0h0m3 0h0m2 0h0m2 0h0m1 0h0m4 0h0m1 0h0m1 0h0m4 0h0m1 0h0m1 0h0m12 0h0m1 0h0m1 0h0m2 0h0m2 0h0M0-119h0m5 0h0m1 0h0m4 0h0m1 0h0m1 0h0m1 0h0m1 0h0m1 0h0m4 0h0m2 0h0m3 0h0m1 0h0m1 0h0m1 0h0m1 0h0m3 0h0m2 0h0m1 0h0m6 0h0m1 0h0m2 0h0m2 0h0m1 0h0m2 0h0m1 0h0m2 0h0m2 0h0m3 0h0m1 0h0m1 0h0m1 0h0m2 0h0m2 0h0m1 0h0m2 0h0m1 0h0m3 0h0m1 0h0m2 0h0m1 0h0m2 0h0m8 0h0m1 0h0m4 0h0m1 0h0m3 0h0m2 0h0m4 0h0M3-120h0m5 0h0m2 0h0m1 0h0m3 0h0m1 0h0m4 0h0m3 0h0m8 0h0m4 0h0m1 0h0m1 0h0m14 0h0m2 0h0m4 0h0m11 0h0m4 0h0m2 0h0m9 0h0m2 0h0m5 0h0m3 0h0m3 0h0M2-121h0m1 0h0m2 0h0m2 0h0m3 0h0m6 0h0m2 0h0m3 0h0m2 0h0m2 0h0m2 0h0m1 0h0m1 0h0m7 0h0m8 0h0m1 0h0m2 0h0m8 0h0m2 0h0m1 0h0m3 0h0m11 0h0m5 0h0m4 0h0m10 0h0m1 0h0m3 0h0m2 0h0m1 0h0M3-122h0m2 0h0m1 0h0m3 0h0m6 0h0m6 0h0m1 0h0m3 0h0m6 0h0m2 0h0m3 0h0m3 0h0m1 0h0m1 0h0m3 0h0m3 0h0m3 0h0m5 0h0m3 0h0m3 0h0m6 0h0m2 0h0m2 0h0m6 0h0m6 0h0m1 0h0m4 0h0m2 0h0m2 0h0M1-123h0m4 0h0m1 0h0m1 0h0m5 0h0m4 0h0m2 0h0m1 0h0m3 0h0m4 0h0m6 0h0m7 0h0m2 0h0m2 0h0m1 0h0m1 0h0m2 0h0m1 0h0m10 0h0m9 0h0m4 0h0m5 0h0m14 0h0m6 0h0m3 0h0M1-124h0m2 0h0m1 0h0m5 0h0m2 0h0m1 0h0m1 0h0m2 0h0m1 0h0m3 0h0m7 0h0m4 0h0m2 0h0m2 0h0m3 0h0m4 0h0m3 0h0m1 0h0m2 0h0m2 0h0m1 0h0m3 0h0m3 0h0m1 0h0m2 0h0m1 0h0m5 0h0m1 0h0m1 0h0m2 0h0m3 0h0m4 0h0m6 0h0m7 0h0m4 0h0m1 0h0M1-125h0m3 0h0m3 0h0m6 0h0m5 0h0m1 0h0m1 0h0m1 0h0m1 0h0m3 0h0m2 0h0m5 0h0m6 0h0m1 0h0m2 0h0m4 0h0m4 0h0m2 0h0m4 0h0m6 0h0m4 0h0m3 0h0m3 0h0m2 0h0m3 0h0m3 0h0m2 0h0m5 0h0m4 0h0M0-126h0m3 0h0m1 0h0m1 0h0m2 0h0m1 0h0m1 0h0m1 0h0m3 0h0m3 0h0m1 0h0m1 0h0m1 0h0m1 0h0m1 0h0m2 0h0m1 0h0m1 0h0m1 0h0m1 0h0m3 0h0m1 0h0m3 0h0m3 0h0m1 0h0m3 0h0m1 0h0m4 0h0m2 0h0m1 0h0m1 0h0m2 0h0m2 0h0m1 0h0m1 0h0m1 0h0m2 0h0m1 0h0m1 0h0m2 0h0m2 0h0m1 0h0m3 0h0m1 0h0m3 0h0m4 0h0m1 0h0m1 0h0m2 0h0m4 0h0m1 0h0m6 0h0m1 0h0m2 0h0m1 0h0M1-127h0m1 0h0m1 0h0m3 0h0m1 0h0m1 0h0m1 0h0m8 0h0m3 0h0m1 0h0m1 0h0m3 0h0m1 0h0m2 0h0m1 0h0m2 0h0m4 0h0m3 0h0m3 0h0m1 0h0m2 0h0m1 0h0m1 0h0m1 0h0m4 0h0m2 0h0m1 0h0m1 0h0m2 0h0m1 0h0m1 0h0m1 0h0m2 0h0m1 0h0m3 0h0m1 0h0m1 0h0m3 0h0m1 0h0m1 0h0m9 0h0m3 0h0m1 0h0m2 0h0m3 0h0m5 0h0m1 0h0M0-128h0m13 0h0m2 0h0m1 0h0m2 0h0m1 0h0m2 0h0m5 0h0m1 0h0m3 0h0m11 0h0m1 0h0m2 0h0m5 0h0m2 0h0m1 0h0m2 0h0m1 0h0m2 0h0m9 0h0m1 0h0m1 0h0m2 0h0m2 0h0m8 0h0m1 0h0m3 0h0m4 0h0m3 0h0m5 0h0M0-129h0m1 0h0m2 0h0m7 0h0m1 0h0m1 0h0m1 0h0m1 0h0m1 0h0m1 0h0m1 0h0m3 0h0m3 0h0m1 0h0m2 0h0m1 0h0m2 0h0m1 0h0m1 0h0m1 0h0m4 0h0m3 0h0m1 0h0m2 0h0m2 0h0m1 0h0m4 0h0m3 0h0m1 0h0m2 0h0m1 0h0m3 0h0m4 0h0m3 0h0m2 0h0m1 0h0m1 0h0m3 0h0m2 0h0m1 0h0m1 0h0m2 0h0m5 0h0m1 0h0m4 0h0m1 0h0m1 0h0m4 0h0m2 0h0M3-130h0m1 0h0m1 0h0m1 0h0m1 0h0m1 0h0m1 0h0m1 0h0m6 0h0m1 0h0m3 0h0m1 0h0m2 0h0m1 0h0m2 0h0m1 0h0m1 0h0m7 0h0m1 0h0m2 0h0m2 0h0m1 0h0m1 0h0m1 0h0m1 0h0m2 0h0m5 0h0m1 0h0m1 0h0m1 0h0m3 0h0m1 0h0m1 0h0m1 0h0m1 0h0m5 0h0m2 0h0m5 0h0m3 0h0m1 0h0m1 0h0m2 0h0m8 0h0m1 0h0m1 0h0m1 0h0m2 0h0m1 0h0m1 0h0m1 0h0m1 0h0m1 0h0M1-131h0m2 0h0m1 0h0m3 0h0m1 0h0m3 0h0m3 0h0m3 0h0m2 0h0m1 0h0m1 0h0m3 0h0m2 0h0m3 0h0m1 0h0m1 0h0m3 0h0m2 0h0m3 0h0m1 0h0m2 0h0m3 0h0m2 0h0m4 0h0m2 0h0m1 0h0m2 0h0m1 0h0m7 0h0m2 0h0m2 0h0m3 0h0m5 0h0m2 0h0m5 0h0m1 0h0m1 0h0m2 0h0m1 0h0m1 0h0m1 0h0m2 0h0m2 0h0m1 0h0m2 0h0m1 0h0M0-132h0m1 0h0m1 0h0m3 0h0m3 0h0m1 0h0m2 0h0m1 0h0m5 0h0m3 0h0m5 0h0m1 0h0m3 0h0m2 0h0m2 0h0m3 0h0m1 0h0m2 0h0m1 0h0m1 0h0m1 0h0m1 0h0m4 0h0m2 0h0m2 0h0m1 0h0m4 0h0m1 0h0m1 0h0m3 0h0m4 0h0m4 0h0m1 0h0m1 0h0m1 0h0m1 0h0m2 0h0m1 0h0m1 0h0m2 0h0m1 0h0m1 0h0m2 0h0m1 0h0m2 0h0m2 0h0m1 0h0m2 0h0m1 0h0m1 0h0m2 0h0m1 0h0m1 0h0M1-133h0m2 0h0m5 0h0m2 0h0m6 0h0m3 0h0m2 0h0m3 0h0m4 0h0m1 0h0m1 0h0m3 0h0m1 0h0m2 0h0m5 0h0m3 0h0m1 0h0m1 0h0m1 0h0m2 0h0m1 0h0m2 0h0m1 0h0m2 0h0m2 0h0m2 0h0m1 0h0m2 0h0m2 0h0m3 0h0m7 0h0m7 0h0m2 0h0m2 0h0m1 0h0m2 0h0m5 0h0m1 0h0m3 0h0m1 0h0M1-134h0m1 0h0m1 0h0m1 0h0m1 0h0m1 0h0m1 0h0m1 0h0m1 0h0m2 0h0m1 0h0m1 0h0m1 0h0m1 0h0m1 0h0m1 0h0m1 0h0m1 0h0m2 0h0m2 0h0m2 0h0m3 0h0m1 0h0m1 0h0m3 0h0m1 0h0m1 0h0m4 0h0m2 0h0m1 0h0m1 0h0m1 0h0m1 0h0m1 0h0m2 0h0m1 0h0m1 0h0m1 0h0m2 0h0m1 0h0m3 0h0m1 0h0m4 0h0m1 0h0m1 0h0m2 0h0m2 0h0m1 0h0m1 0h0m6 0h0m1 0h0m4 0h0m1 0h0m1 0h0m3 0h0m1 0h0m6 0h0m4 0h0m2 0h0M0-135h0m2 0h0m1 0h0m2 0h0m2 0h0m1 0h0m1 0h0m2 0h0m3 0h0m2 0h0m1 0h0m1 0h0m1 0h0m1 0h0m1 0h0m1 0h0m1 0h0m1 0h0m1 0h0m1 0h0m1 0h0m1 0h0m1 0h0m1 0h0m1 0h0m1 0h0m1 0h0m1 0h0m2 0h0m1 0h0m1 0h0m1 0h0m1 0h0m1 0h0m1 0h0m1 0h0m1 0h0m1 0h0m1 0h0m1 0h0m1 0h0m3 0h0m1 0h0m1 0h0m1 0h0m2 0h0m1 0h0m2 0h0m1 0h0m1 0h0m1 0h0m1 0h0m1 0h0m1 0h0m1 0h0m1 0h0m2 0h0m1 0h0m1 0h0m3 0h0m1 0h0m1 0h0m1 0h0m1 0h0m1 0h0m1 0h0m2 0h0m1 0h0m1 0h0m1 0h0m1 0h0m1 0h0m1 0h0m1 0h0m1 0h0m1 0h0m1 0h0m2 0h0m1 0h0m1 0h0m1 0h0m1 0h0m1 0h0M0-136h0m1 0h0m1 0h0m1 0h0m2 0h0m1 0h0m1 0h0m1 0h0m2 0h0m2 0h0m2 0h0m4 0h0m3 0h0m3 0h0m1 0h0m1 0h0m2 0h0m2 0h0m3 0h0m1 0h0m2 0h0m1 0h0m4 0h0m1 0h0m2 0h0m3 0h0m1 0h0m1 0h0m1 0h0m1 0h0m2 0h0m2 0h0m4 0h0m2 0h0m2 0h0m1 0h0m2 0h0m3 0h0m1 0h0m1 0h0m2 0h0m8 0h0m1 0h0m3 0h0m1 0h0m1 0h0m4 0h0m2 0h0M2-137h0m1 0h0m2 0h0m6 0h0m1 0h0m1 0h0m4 0h0m1 0h0m4 0h0m1 0h0m1 0h0m5 0h0m1 0h0m1 0h0m2 0h0m2 0h0m3 0h0m1 0h0m4 0h0m1 0h0m1 0h0m1 0h0m1 0h0m3 0h0m1 0h0m1 0h0m2 0h0m3 0h0m1 0h0m1 0h0m2 0h0m1 0h0m4 0h0m3 0h0m1 0h0m2 0h0m1 0h0m1 0h0m1 0h0m4 0h0m1 0h0m1 0h0m2 0h0m1 0h0m1 0h0m1 0h0m1 0h0m1 0h0m1 0h0m1 0h0m2 0h0m4 0h0m1 0h0m2 0h0M1-138h0m1 0h0m1 0h0m2 0h0m5 0h0m1 0h0m1 0h0m2 0h0m3 0h0m1 0h0m1 0h0m1 0h0m1 0h0m3 0h0m1 0h0m3 0h0m1 0h0m2 0h0m2 0h0m1 0h0m3 0h0m2 0h0m1 0h0m1 0h0m1 0h0m2 0h0m1 0h0m3 0h0m1 0h0m1 0h0m1 0h0m3 0h0m2 0h0m4 0h0m1 0h0m1 0h0m2 0h0m4 0h0m2 0h0m2 0h0m2 0h0m1 0h0m1 0h0m8 0h0m2 0h0m2 0h0m2 0h0m1 0h0m2 0h0m1 0h0m2 0h0m2 0h0M3-139h0m10 0h0m3 0h0m3 0h0m3 0h0m3 0h0m4 0h0m1 0h0m1 0h0m2 0h0m1 0h0m2 0h0m1 0h0m5 0h0m1 0h0m2 0h0m1 0h0m1 0h0m2 0h0m2 0h0m1 0h0m1 0h0m1 0h0m1 0h0m3 0h0m1 0h0m3 0h0m1 0h0m6 0h0m1 0h0m1 0h0m2 0h0m4 0h0m1 0h0m2 0h0m4 0h0m3 0h0m1 0h0m1 0h0m1 0h0m1 0h0m1 0h0m1 0h0m2 0h0m1 0h0m1 0h0m2 0h0M2-140h0m2 0h0m2 0h0m3 0h0m1 0h0m2 0h0m3 0h0m6 0h0m1 0h0m1 0h0m2 0h0m1 0h0m1 0h0m1 0h0m1 0h0m1 0h0m2 0h0m1 0h0m1 0h0m1 0h0m1 0h0m1 0h0m2 0h0m2 0h0m2 0h0m1 0h0m1 0h0m1 0h0m4 0h0m1 0h0m1 0h0m1 0h0m2 0h0m2 0h0m1 0h0m1 0h0m1 0h0m4 0h0m9 0h0m1 0h0m3 0h0m2 0h0m1 0h0m1 0h0m2 0h0m1 0h0m1 0h0m1 0h0m2 0h0m1 0h0m1 0h0m2 0h0m1 0h0m1 0h0m1 0h0m1 0h0m1 0h0M1-141h0m3 0h0m3 0h0m3 0h0m2 0h0m3 0h0m1 0h0m1 0h0m1 0h0m2 0h0m2 0h0m1 0h0m5 0h0m3 0h0m2 0h0m2 0h0m2 0h0m5 0h0m1 0h0m7 0h0m1 0h0m2 0h0m5 0h0m1 0h0m4 0h0m1 0h0m2 0h0m1 0h0m6 0h0m1 0h0m2 0h0m1 0h0m2 0h0m3 0h0m3 0h0m2 0h0m5 0h0m3 0h0m1 0h0m1 0h0m1 0h0m1 0h0M2-142h0m1 0h0m1 0h0m4 0h0m3 0h0m1 0h0m1 0h0m3 0h0m1 0h0m1 0h0m1 0h0m1 0h0m2 0h0m4 0h0m1 0h0m3 0h0m1 0h0m3 0h0m1 0h0m2 0h0m2 0h0m1 0h0m1 0h0m2 0h0m2 0h0m1 0h0m6 0h0m1 0h0m3 0h0m1 0h0m2 0h0m3 0h0m3 0h0m2 0h0m1 0h0m1 0h0m1 0h0m1 0h0m10 0h0m4 0h0m1 0h0m1 0h0m1 0h0m1 0h0m1 0h0m3 0h0m2 0h0m1 0h0m3 0h0M2-143h0m1 0h0m1 0h0m4 0h0m6 0h0m1 0h0m3 0h0m2 0h0m1 0h0m1 0h0m5 0h0m3 0h0m1 0h0m3 0h0m6 0h0m2 0h0m2 0h0m1 0h0m3 0h0m1 0h0m3 0h0m1 0h0m1 0h0m1 0h0m2 0h0m5 0h0m1 0h0m1 0h0m1 0h0m1 0h0m1 0h0m6 0h0m2 0h0m2 0h0m6 0h0m2 0h0m2 0h0m2 0h0m1 0h0m3 0h0m2 0h0m1 0h0m1 0h0m1 0h0M0-144h0m2 0h0m1 0h0m3 0h0m3 0h0m2 0h0m3 0h0m1 0h0m1 0h0m4 0h0m1 0h0m1 0h0m1 0h0m1 0h0m1 0h0m1 0h0m4 0h0m2 0h0m2 0h0m1 0h0m3 0h0m2 0h0m3 0h0m2 0h0m1 0h0m3 0h0m2 0h0m2 0h0m2 0h0m1 0h0m1 0h0m1 0h0m1 0h0m1 0h0m1 0h0m1 0h0m2 0h0m1 0h0m1 0h0m1 0h0m2 0h0m1 0h0m1 0h0m6 0h0m1 0h0m1 0h0m2 0h0m2 0h0m1 0h0m1 0h0m1 0h0m1 0h0m1 0h0m1 0h0m1 0h0m1 0h0m1 0h0m2 0h0M0-145h0m1 0h0m2 0h0m2 0h0m3 0h0m1 0h0m6 0h0m1 0h0m7 0h0m2 0h0m1 0h0m2 0h0m4 0h0m2 0h0m5 0h0m1 0h0m1 0h0m1 0h0m1 0h0m2 0h0m2 0h0m3 0h0m2 0h0m1 0h0m6 0h0m1 0h0m3 0h0m1 0h0m5 0h0m1 0h0m3 0h0m1 0h0m1 0h0m1 0h0m2 0h0m1 0h0m1 0h0m2 0h0m1 0h0m3 0h0m6 0h0m1 0h0m3 0h0M0-146h0m1 0h0m3 0h0m2 0h0m4 0h0m1 0h0m1 0h0m1 0h0m1 0h0m1 0h0m1 0h0m1 0h0m1 0h0m3 0h0m1 0h0m2 0h0m2 0h0m2 0h0m2 0h0m1 0h0m3 0h0m1 0h0m1 0h0m1 0h0m3 0h0m1 0h0m1 0h0m1 0h0m5 0h0m2 0h0m1 0h0m1 0h0m1 0h0m1 0h0m1 0h0m2 0h0m4 0h0m3 0h0m1 0h0m1 0h0m1 0h0m2 0h0m1 0h0m3 0h0m1 0h0m1 0h0m4 0h0m1 0h0m1 0h0m3 0h0m2 0h0m2 0h0m2 0h0m1 0h0m1 0h0m4 0h0m3 0h0M2-147h0m3 0h0m8 0h0m1 0h0m2 0h0m3 0h0m2 0h0m10 0h0m4 0h0m2 0h0m5 0h0m5 0h0m1 0h0m1 0h0m2 0h0m1 0h0m3 0h0m6 0h0m7 0h0m1 0h0m5 0h0m1 0h0m3 0h0m3 0h0m5 0h0m1 0h0m5 0h0m5 0h0m2 0h0M0-148h0m1 0h0m1 0h0m4 0h0m1 0h0m1 0h0m6 0h0m1 0h0m3 0h0m1 0h0m1 0h0m2 0h0m2 0h0m3 0h0m2 0h0m2 0h0m1 0h0m1 0h0m1 0h0m2 0h0m4 0h0m3 0h0m1 0h0m2 0h0m1 0h0m5 0h0m2 0h0m1 0h0m4 0h0m2 0h0m2 0h0m3 0h0m1 0h0m1 0h0m2 0h0m1 0h0m1 0h0m2 0h0m2 0h0m2 0h0m2 0h0m1 0h0m1 0h0m1 0h0m1 0h0m1 0h0m1 0h0m2 0h0m2 0h0m2 0h0m1 0h0m1 0h0m2 0h0m2 0h0M3-149h0m18 0h0m2 0h0m2 0h0m2 0h0m4 0h0m4 0h0m11 0h0m12 0h0m2 0h0m1 0h0m2 0h0m2 0h0m3 0h0m4 0h0m3 0h0m4 0h0m9 0h0m4 0h0m3 0h0M0-150h0m1 0h0m1 0h0m1 0h0m3 0h0m1 0h0m5 0h0m4 0h0m1 0h0m2 0h0m4 0h0m1 0h0m1 0h0m1 0h0m1 0h0m5 0h0m1 0h0m2 0h0m1 0h0m2 0h0m5 0h0m2 0h0m1 0h0m2 0h0m1 0h0m1 0h0m2 0h0m3 0h0m1 0h0m1 0h0m1 0h0m1 0h0m1 0h0m1 0h0m1 0h0m1 0h0m4 0h0m1 0h0m4 0h0m1 0h0m1 0h0m1 0h0m1 0h0m1 0h0m1 0h0m1 0h0m2 0h0m1 0h0m1 0h0m1 0h0m2 0h0m3 0h0m2 0h0m3 0h0m3 0h0m1 0h0m1 0h0M11-151h0m3 0h0m2 0h0m3 0h0m2 0h0m1 0h0m7 0h0m3 0h0m1 0h0m2 0h0m5 0h0m4 0h0m4 0h0m10 0h0m4 0h0m2 0h0m4 0h0m2 0h0m5 0h0m3 0h0m11 0h0m4 0h0m2 0h0m2 0h0M0-152h0m7 0h0m1 0h0m1 0h0m4 0h0m1 0h0m4 0h0m2 0h0m3 0h0m1 0h0m1 0h0m2 0h0m3 0h0m1 0h0m2 0h0m2 0h0m6 0h0m1 0h0m1 0h0m1 0h0m2 0h0m2 0h0m6 0h0m10 0h0m1 0h0m1 0h0m2 0h0m1 0h0m1 0h0m4 0h0m1 0h0m1 0h0m1 0h0m1 0h0m1 0h0m4 0h0m1 0h0m1 0h0m1 0h0m2 0h0m2 0h0m1 0h0m7 0h0m1 0h0M4-153h0m1 0h0m2 0h0m1 0h0m4 0h0m1 0h0m1 0h0m4 0h0m1 0h0m3 0h0m1 0h0m3 0h0m1 0h0m8 0h0m2 0h0m2 0h0m1 0h0m2 0h0m1 0h0m2 0h0m8 0h0m2 0h0m1 0h0m2 0h0m1 0h0m1 0h0m2 0h0m4 0h0m1 0h0m5 0h0m1 0h0m6 0h0m5 0h0m6 0h0m4 0h0m2 0h0M2-154h0m3 0h0m5 0h0m1 0h0m2 0h0m1 0h0m1 0h0m1 0h0m2 0h0m1 0h0m1 0h0m1 0h0m1 0h0m1 0h0m1 0h0m1 0h0m1 0h0m2 0h0m2 0h0m2 0h0m1 0h0m1 0h0m1 0h0m1 0h0m1 0h0m4 0h0m2 0h0m1 0h0m2 0h0m1 0h0m1 0h0m1 0h0m2 0h0m1 0h0m1 0h0m1 0h0m1 0h0m2 0h0m2 0h0m1 0h0m1 0h0m1 0h0m2 0h0m1 0h0m1 0h0m1 0h0m1 0h0m2 0h0m1 0h0m1 0h0m1 0h0m2 0h0m2 0h0m1 0h0m1 0h0m4 0h0m2 0h0m1 0h0m1 0h0m1 0h0m1 0h0m2 0h0m3 0h0m1 0h0m2 0h0m2 0h0M1-155h0m4 0h0m2 0h0m9 0h0m8 0h0m2 0h0m4 0h0m1 0h0m1 0h0m1 0h0m1 0h0m4 0h0m3 0h0m1 0h0m1 0h0m1 0h0m3 0h0m6 0h0m2 0h0m1 0h0m1 0h0m1 0h0m2 0h0m2 0h0m3 0h0m6 0h0m2 0h0m7 0h0m1 0h0m2 0h0m2 0h0m2 0h0m1 0h0m2 0h0m3 0h0m1 0h0m3 0h0M1-156h0m1 0h0m2 0h0m2 0h0m2 0h0m2 0h0m1 0h0m2 0h0m1 0h0m4 0h0m3 0h0m1 0h0m1 0h0m2 0h0m2 0h0m1 0h0m1 0h0m1 0h0m1 0h0m2 0h0m5 0h0m3 0h0m1 0h0m1 0h0m1 0h0m1 0h0m2 0h0m1 0h0m2 0h0m1 0h0m3 0h0m2 0h0m2 0h0m1 0h0m1 0h0m1 0h0m6 0h0m1 0h0m1 0h0m1 0h0m1 0h0m2 0h0m6 0h0m4 0h0m2 0h0m4 0h0m2 0h0m2 0h0m1 0h0m2 0h0m1 0h0m2 0h0M3-157h0m1 0h0m6 0h0m1 0h0m3 0h0m2 0h0m5 0h0m4 0h0m5 0h0m1 0h0m2 0h0m1 0h0m3 0h0m2 0h0m1 0h0m2 0h0m1 0h0m1 0h0m5 0h0m2 0h0m1 0h0m1 0h0m1 0h0m1 0h0m1 0h0m1 0h0m2 0h0m3 0h0m1 0h0m2 0h0m1 0h0m1 0h0m1 0h0m3 0h0m2 0h0m3 0h0m2 0h0m2 0h0m2 0h0m3 0h0m1 0h0m3 0h0m1 0h0m1 0h0m1 0h0m1 0h0m1 0h0m4 0h0m1 0h0M5-158h0m1 0h0m1 0h0m1 0h0m4 0h0m4 0h0m5 0h0m2 0h0m1 0h0m2 0h0m3 0h0m3 0h0m3 0h0m5 0h0m1 0h0m3 0h0m1 0h0m6 0h0m4 0h0m5 0h0m5 0h0m3 0h0m1 0h0m4 0h0m3 0h0m7 0h0m1 0h0m3 0h0m3 0h0m4 0h0m1 0h0m4 0h0M9-159h0m1 0h0m1 0h0m1 0h0m2 0h0m2 0h0m1 0h0m1 0h0m1 0h0m2 0h0m4 0h0m4 0h0m2 0h0m2 0h0m2 0h0m1 0h0m2 0h0m2 0h0m2 0h0m3 0h0m1 0h0m2 0h0m6 0h0m1 0h0m2 0h0m3 0h0m2 0h0m2 0h0m6 0h0m2 0h0m1 0h0m1 0h0m5 0h0m4 0h0m2 0h0m2 0h0m1 0h0m2 0h0m4 0h0m3 0h0M0-160h0m1 0h0m1 0h0m1 0h0m4 0h0m2 0h0m1 0h0m1 0h0m1 0h0m1 0h0m1 0h0m1 0h0m1 0h0m3 0h0m2 0h0m3 0h0m1 0h0m1 0h0m5 0h0m2 0h0m2 0h0m1 0h0m1 0h0m1 0h0m3 0h0m1 0h0m2 0h0m1 0h0m2 0h0m2 0h0m3 0h0m4 0h0m1 0h0m1 0h0m3 0h0m2 0h0m2 0h0m4 0h0m1 0h0m2 0h0m4 0h0m6 0h0m2 0h0m2 0h0m1 0h0m4 0h0m1 0h0m2 0h0m1 0h0m2 0h0m1 0h0m1 0h0M0-161h0m1 0h0m1 0h0m1 0h0m1 0h0m1 0h0m1 0h0m1 0h0m1 0h0m3 0h0m1 0h0m1 0h0m1 0h0m1 0h0m1 0h0m1 0h0m1 0h0m1 0h0m1 0h0m1 0h0m1 0h0m1 0h0m1 0h0m1 0h0m1 0h0m1 0h0m1 0h0m2 0h0m1 0h0m2 0h0m3 0h0m2 0h0m1 0h0m1 0h0m1 0h0m1 0h0m1 0h0m1 0h0m1 0h0m2 0h0m1 0h0m2 0h0m1 0h0m2 0h0m1 0h0m1 0h0m1 0h0m1 0h0m1 0h0m1 0h0m1 0h0m1 0h0m1 0h0m1 0h0m1 0h0m1 0h0m2 0h0m1 0h0m1 0h0m2 0h0m1 0h0m1 0h0m2 0h0m2 0h0m1 0h0m1 0h0m1 0h0m1 0h0m1 0h0m1 0h0m1 0h0m1 0h0m1 0h0m1 0h0m1 0h0m1 0h0m1 0h0m1 0h0m2 0h0m1 0h0m1 0h0m1 0h0m1 0h0m1 0h0m1 0h0M0-162h0m2 0h0m1 0h0m1 0h0m1 0h0m2 0h0m1 0h0m1 0h0m1 0h0m1 0h0m1 0h0m1 0h0m1 0h0m2 0h0m1 0h0m1 0h0m1 0h0m2 0h0m1 0h0m1 0h0m1 0h0m1 0h0m1 0h0m1 0h0m1 0h0m1 0h0m1 0h0m2 0h0m1 0h0m1 0h0m1 0h0m1 0h0m3 0h0m2 0h0m1 0h0m1 0h0m1 0h0m1 0h0m2 0h0m1 0h0m1 0h0m1 0h0m1 0h0m1 0h0m1 0h0m1 0h0m1 0h0m1 0h0m2 0h0m1 0h0m1 0h0m1 0h0m2 0h0m1 0h0m1 0h0m1 0h0m1 0h0m1 0h0m1 0h0m1 0h0m1 0h0m1 0h0m1 0h0m1 0h0m1 0h0m1 0h0m1 0h0m2 0h0m1 0h0m1 0h0m1 0h0m1 0h0m1 0h0m2 0h0m2 0h0m1 0h0m1 0h0m1 0h0m1 0h0m1 0h0m1 0h0m1 0h0m1 0h0m1 0h0m1 0h0m1 0h0M1-163h0m1 0h0m1 0h0m1 0h0m1 0h0m5 0h0m3 0h0m3 0h0m3 0h0m3 0h0m4 0h0m1 0h0m3 0h0m2 0h0m2 0h0m1 0h0m1 0h0m2 0h0m1 0h0m3 0h0m1 0h0m3 0h0m2 0h0m6 0h0m1 0h0m3 0h0m1 0h0m1 0h0m1 0h0m4 0h0m1 0h0m2 0h0m4 0h0m1 0h0m1 0h0m1 0h0m1 0h0m1 0h0m3 0h0m1 0h0m1 0h0m1 0h0m3 0h0m1 0h0m2 0h0m1 0h0m2 0h0m1 0h0m4 0h0M0-164h0m1 0h0m3 0h0m1 0h0m2 0h0m1 0h0m1 0h0m1 0h0m3 0h0m6 0h0m2 0h0m1 0h0m2 0h0m2 0h0m2 0h0m1 0h0m1 0h0m2 0h0m2 0h0m3 0h0m3 0h0m2 0h0m2 0h0m1 0h0m1 0h0m1 0h0m5 0h0m1 0h0m1 0h0m5 0h0m3 0h0m4 0h0m1 0h0m1 0h0m1 0h0m1 0h0m2 0h0m1 0h0m2 0h0m1 0h0m1 0h0m4 0h0m2 0h0m2 0h0m1 0h0m1 0h0m2 0h0m2 0h0m1 0h0m2 0h0m3 0h0m1 0h0m1 0h0M1-165h0m3 0h0m4 0h0m2 0h0m1 0h0m2 0h0m1 0h0m1 0h0m1 0h0m5 0h0m1 0h0m2 0h0m10 0h0m1 0h0m2 0h0m1 0h0m6 0h0m2 0h0m1 0h0m4 0h0m1 0h0m3 0h0m1 0h0m1 0h0m1 0h0m5 0h0m4 0h0m4 0h0m1 0h0m1 0h0m1 0h0m2 0h0m1 0h0m2 0h0m5 0h0m3 0h0m5 0h0m1 0h0m2 0h0m1 0h0m1 0h0M2-166h0m3 0h0m2 0h0m1 0h0m1 0h0m3 0h0m4 0h0m5 0h0m1 0h0m3 0h0m3 0h0m3 0h0m2 0h0m2 0h0m1 0h0m1 0h0m2 0h0m1 0h0m2 0h0m1 0h0m5 0h0m1 0h0m1 0h0m3 0h0m1 0h0m2 0h0m2 0h0m2 0h0m5 0h0m1 0h0m1 0h0m1 0h0m3 0h0m1 0h0m4 0h0m1 0h0m1 0h0m1 0h0m2 0h0m1 0h0m1 0h0m1 0h0m1 0h0m1 0h0m3 0h0m1 0h0m1 0h0m1 0h0m2 0h0m1 0h0m4 0h0M1-167h0m2 0h0m5 0h0m4 0h0m2 0h0m1 0h0m1 0h0m1 0h0m1 0h0m1 0h0m1 0h0m1 0h0m1 0h0m1 0h0m1 0h0m1 0h0m2 0h0m4 0h0m1 0h0m1 0h0m1 0h0m1 0h0m1 0h0m1 0h0m1 0h0m2 0h0m9 0h0m2 0h0m1 0h0m1 0h0m1 0h0m3 0h0m2 0h0m1 0h0m2 0h0m1 0h0m2 0h0m2 0h0m2 0h0m2 0h0m3 0h0m2 0h0m5 0h0m1 0h0m2 0h0m1 0h0m1 0h0m2 0h0m1 0h0m1 0h0m2 0h0m1 0h0m1 0h0m2 0h0m1 0h0M0-168h0m2 0h0m3 0h0m2 0h0m1 0h0m1 0h0m2 0h0m3 0h0m2 0h0m1 0h0m1 0h0m1 0h0m2 0h0m1 0h0m1 0h0m1 0h0m1 0h0m2 0h0m7 0h0m1 0h0m1 0h0m1 0h0m6 0h0m1 0h0m1 0h0m2 0h0m1 0h0m1 0h0m3 0h0m3 0h0m1 0h0m1 0h0m1 0h0m1 0h0m1 0h0m1 0h0m1 0h0m2 0h0m6 0h0m2 0h0m3 0h0m3 0h0m1 0h0m1 0h0m3 0h0m2 0h0m1 0h0m4 0h0m2 0h0m1 0h0m3 0h0m2 0h0M1-169h0m1 0h0m2 0h0m3 0h0m2 0h0m1 0h0m2 0h0m1 0h0m2 0h0m4 0h0m2 0h0m4 0h0m1 0h0m3 0h0m2 0h0m1 0h0m1 0h0m3 0h0m1 0h0m1 0h0m2 0h0m1 0h0m1 0h0m1 0h0m1 0h0m1 0h0m5 0h0m5 0h0m5 0h0m1 0h0m1 0h0m2 0h0m2 0h0m1 0h0m1 0h0m1 0h0m4 0h0m4 0h0m1 0h0m1 0h0m2 0h0m1 0h0m1 0h0m1 0h0m2 0h0m1 0h0m6 0h0m2 0h0m2 0h0m2 0h0M0-170h0m2 0h0m3 0h0m1 0h0m5 0h0m2 0h0m2 0h0m3 0h0m1 0h0m2 0h0m1 0h0m2 0h0m5 0h0m6 0h0m1 0h0m1 0h0m2 0h0m3 0h0m1 0h0m2 0h0m3 0h0m5 0h0m6 0h0m4 0h0m1 0h0m1 0h0m1 0h0m2 0h0m1 0h0m2 0h0m2 0h0m3 0h0m1 0h0m3 0h0m5 0h0m1 0h0m1 0h0m2 0h0m4 0h0m2 0h0m2 0h0M3-171h0m1 0h0m1 0h0m5 0h0m1 0h0m3 0h0m1 0h0m4 0h0m2 0h0m2 0h0m1 0h0m1 0h0m4 0h0m1 0h0m4 0h0m1 0h0m1 0h0m3 0h0m1 0h0m2 0h0m14 0h0m2 0h0m1 0h0m1 0h0m4 0h0m1 0h0m2 0h0m1 0h0m5 0h0m7 0h0m1 0h0m2 0h0m3 0h0m3 0h0m2 0h0m6 0h0m2 0h0M2-172h0m1 0h0m1 0h0m2 0h0m1 0h0m2 0h0m1 0h0m1 0h0m1 0h0m1 0h0m1 0h0m3 0h0m2 0h0m1 0h0m1 0h0m2 0h0m2 0h0m1 0h0m1 0h0m1 0h0m1 0h0m2 0h0m1 0h0m1 0h0m1 0h0m1 0h0m1 0h0m2 0h0m1 0h0m1 0h0m1 0h0m1 0h0m2 0h0m1 0h0m1 0h0m2 0h0m1 0h0m5 0h0m1 0h0m1 0h0m1 0h0m1 0h0m1 0h0m3 0h0m4 0h0m1 0h0m3 0h0m2 0h0m1 0h0m2 0h0m3 0h0m2 0h0m1 0h0m1 0h0m1 0h0m1 0h0m1 0h0m3 0h0m1 0h0m1 0h0m1 0h0m2 0h0m1 0h0m1 0h0m1 0h0m2 0h0M3-173h0m2 0h0m1 0h0m2 0h0m3 0h0m2 0h0m4 0h0m4 0h0m2 0h0m1 0h0m4 0h0m3 0h0m3 0h0m1 0h0m1 0h0m7 0h0m1 0h0m2 0h0m6 0h0m3 0h0m1 0h0m1 0h0m3 0h0m2 0h0m3 0h0m3 0h0m1 0h0m2 0h0m7 0h0m1 0h0m2 0h0m3 0h0m3 0h0m1 0h0m2 0h0m3 0h0m2 0h0m1 0h0m1 0h0m2 0h0M3-174h0m1 0h0m2 0h0m2 0h0m5 0h0m1 0h0m4 0h0m3 0h0m1 0h0m7 0h0m3 0h0m1 0h0m1 0h0m3 0h0m4 0h0m2 0h0m3 0h0m1 0h0m4 0h0m1 0h0m1 0h0m1 0h0m1 0h0m2 0h0m3 0h0m2 0h0m1 0h0m1 0h0m1 0h0m3 0h0m3 0h0m1 0h0m1 0h0m5 0h0m1 0h0m8 0h0m1 0h0m5 0h0m1 0h0m3 0h0M5-175h0m2 0h0m3 0h0m1 0h0m1 0h0m2 0h0m1 0h0m1 0h0m1 0h0m1 0h0m4 0h0m1 0h0m1 0h0m1 0h0m3 0h0m1 0h0m1 0h0m1 0h0m2 0h0m1 0h0m1 0h0m1 0h0m3 0h0m1 0h0m2 0h0m1 0h0m2 0h0m1 0h0m1 0h0m1 0h0m1 0h0m2 0h0m1 0h0m1 0h0m3 0h0m5 0h0m2 0h0m2 0h0m1 0h0m6 0h0m2 0h0m1 0h0m1 0h0m1 0h0m1 0h0m2 0h0m3 0h0m1 0h0m1 0h0m1 0h0m2 0h0m4 0h0m1 0h0m1 0h0m1 0h0m1 0h0m2 0h0m1 0h0M2-176h0m4 0h0m3 0h0m1 0h0m2 0h0m3 0h0m3 0h0m2 0h0m4 0h0m1 0h0m8 0h0m2 0h0m1 0h0m1 0h0m2 0h0m3 0h0m3 0h0m3 0h0m7 0h0m3 0h0m3 0h0m3 0h0m1 0h0m4 0h0m1 0h0m1 0h0m4 0h0m1 0h0m2 0h0m3 0h0m1 0h0m3 0h0m4 0h0m1 0h0m3 0h0m1 0h0m3 0h0m1 0h0M0-177h0m1 0h0m1 0h0m1 0h0m1 0h0m1 0h0m1 0h0m1 0h0m2 0h0m1 0h0m1 0h0m1 0h0m1 0h0m1 0h0m2 0h0m1 0h0m1 0h0m1 0h0m1 0h0m1 0h0m1 0h0m2 0h0m1 0h0m1 0h0m1 0h0m1 0h0m1 0h0m1 0h0m2 0h0m2 0h0m2 0h0m1 0h0m1 0h0m1 0h0m2 0h0m2 0h0m1 0h0m3 0h0m2 0h0m1 0h0m1 0h0m1 0h0m1 0h0m1 0h0m1 0h0m3 0h0m2 0h0m1 0h0m1 0h0m3 0h0m1 0h0m2 0h0m2 0h0m1 0h0m1 0h0m1 0h0m1 0h0m1 0h0m6 0h0m1 0h0m2 0h0m2 0h0m2 0h0m1 0h0m1 0h0m1 0h0m1 0h0m1 0h0m1 0h0m1 0h0m3 0h0M0-178h0m2 0h0m6 0h0m5 0h0m2 0h0m4 0h0m4 0h0m1 0h0m2 0h0m4 0h0m3 0h0m1 0h0m1 0h0m1 0h0m8 0h0m1 0h0m5 0h0m4 0h0m5 0h0m6 0h0m1 0h0m4 0h0m3 0h0m5 0h0m7 0h0m3 0h0m7 0h0M2-179h0m1 0h0m4 0h0m5 0h0m2 0h0m5 0h0m1 0h0m1 0h0m2 0h0m1 0h0m1 0h0m2 0h0m1 0h0m1 0h0m2 0h0m2 0h0m1 0h0m1 0h0m1 0h0m3 0h0m1 0h0m6 0h0m2 0h0m2 0h0m1 0h0m2 0h0m3 0h0m3 0h0m8 0h0m1 0h0m1 0h0m1 0h0m2 0h0m1 0h0m1 0h0m2 0h0m1 0h0m1 0h0m1 0h0m4 0h0m3 0h0m1 0h0m3 0h0m1 0h0m4 0h0m1 0h0m1 0h0m2 0h0M0-180h0m3 0h0m1 0h0m2 0h0m2 0h0m1 0h0m4 0h0m2 0h0m3 0h0m2 0h0m1 0h0m3 0h0m3 0h0m3 0h0m2 0h0m5 0h0m1 0h0m2 0h0m3 0h0m2 0h0m2 0h0m1 0h0m1 0h0m1 0h0m1 0h0m1 0h0m1 0h0m1 0h0m5 0h0m2 0h0m2 0h0m3 0h0m1 0h0m1 0h0m1 0h0m1 0h0m1 0h0m3 0h0m1 0h0m2 0h0m1 0h0m1 0h0m1 0h0m1 0h0m3 0h0m1 0h0m1 0h0m2 0h0m1 0h0m1 0h0m1 0h0m1 0h0m1 0h0m4 0h0m2 0h0M6-181h0m1 0h0m3 0h0m2 0h0m1 0h0m1 0h0m4 0h0m1 0h0m4 0h0m4 0h0m1 0h0m3 0h0m2 0h0m5 0h0m5 0h0m10 0h0m1 0h0m3 0h0m1 0h0m3 0h0m1 0h0m1 0h0m3 0h0m1 0h0m1 0h0m9 0h0m3 0h0m4 0h0m2 0h0m10 0h0m1 0h0m2 0h0M0-182h0m6 0h0m1 0h0m1 0h0m1 0h0m6 0h0m1 0h0m1 0h0m1 0h0m1 0h0m2 0h0m3 0h0m7 0h0m6 0h0m1 0h0m4 0h0m3 0h0m4 0h0m4 0h0m2 0h0m10 0h0m5 0h0m3 0h0m4 0h0m3 0h0m1 0h0m3 0h0m3 0h0m1 0h0m1 0h0m6 0h0M0-183h0m3 0h0m9 0h0m1 0h0m1 0h0m3 0h0m1 0h0m1 0h0m1 0h0m1 0h0m2 0h0m1 0h0m1 0h0m1 0h0m3 0h0m4 0h0m2 0h0m1 0h0m1 0h0m1 0h0m1 0h0m2 0h0m1 0h0m6 0h0m2 0h0m1 0h0m3 0h0m2 0h0m1 0h0m1 0h0m1 0h0m1 0h0m1 0h0m3 0h0m3 0h0m1 0h0m3 0h0m2 0h0m1 0h0m4 0h0m1 0h0m2 0h0m1 0h0m1 0h0m1 0h0m2 0h0m3 0h0m1 0h0m7 0h0M0-184h0m1 0h0m1 0h0m1 0h0m1 0h0m2 0h0m2 0h0m1 0h0m2 0h0m1 0h0m3 0h0m1 0h0m2 0h0m2 0h0m1 0h0m2 0h0m2 0h0m3 0h0m2 0h0m1 0h0m1 0h0m1 0h0m1 0h0m4 0h0m1 0h0m2 0h0m1 0h0m1 0h0m1 0h0m2 0h0m1 0h0m1 0h0m1 0h0m1 0h0m1 0h0m1 0h0m1 0h0m4 0h0m3 0h0m2 0h0m1 0h0m1 0h0m2 0h0m1 0h0m1 0h0m4 0h0m1 0h0m2 0h0m1 0h0m2 0h0m1 0h0m1 0h0m2 0h0m1 0h0m2 0h0m1 0h0m1 0h0m1 0h0m1 0h0m2 0h0m1 0h0m1 0h0m3 0h0m1 0h0M0-185h0m1 0h0m4 0h0m3 0h0m4 0h0m3 0h0m5 0h0m1 0h0m14 0h0m4 0h0m1 0h0m1 0h0m1 0h0m3 0h0m2 0h0m4 0h0m4 0h0m4 0h0m3 0h0m2 0h0m10 0h0m2 0h0m1 0h0m3 0h0m3 0h0m3 0h0m1 0h0m1 0h0m4 0h0m1 0h0m1 0h0m1 0h0m1 0h0m1 0h0m2 0h0M10-186h0m4 0h0m9 0h0m5 0h0m4 0h0m2 0h0m6 0h0m2 0h0m1 0h0m1 0h0m3 0h0m1 0h0m5 0h0m3 0h0m1 0h0m5 0h0m5 0h0m1 0h0m3 0h0m2 0h0m4 0h0m1 0h0m7 0h0m1 0h0m1 0h0m3 0h0m6 0h0M1-187h0m1 0h0m2 0h0m3 0h0m1 0h0m1 0h0m1 0h0m1 0h0m2 0h0m2 0h0m3 0h0m1 0h0m1 0h0m1 0h0m2 0h0m1 0h0m1 0h0m2 0h0m4 0h0m1 0h0m2 0h0m1 0h0m2 0h0m4 0h0m1 0h0m3 0h0m4 0h0m1 0h0m1 0h0m1 0h0m3 0h0m2 0h0m2 0h0m2 0h0m1 0h0m1 0h0m1 0h0m1 0h0m1 0h0m1 0h0m1 0h0m2 0h0m2 0h0m1 0h0m1 0h0m1 0h0m5 0h0m1 0h0m1 0h0m1 0h0m2 0h0m1 0h0m1 0h0m2 0h0m3 0h0m2 0h0m1 0h0m1 0h0m1 0h0m1 0h0m1 0h0M1-188h0m1 0h0m1 0h0m2 0h0m2 0h0m1 0h0m1 0h0m1 0h0m4 0h0m1 0h0m1 0h0m1 0h0m1 0h0m2 0h0m1 0h0m2 0h0m1 0h0m2 0h0m1 0h0m2 0h0m1 0h0m2 0h0m2 0h0m1 0h0m1 0h0m1 0h0m3 0h0m1 0h0m2 0h0m1 0h0m1 0h0m1 0h0m1 0h0m1 0h0m1 0h0m4 0h0m2 0h0m3 0h0m1 0h0m2 0h0m2 0h0m1 0h0m3 0h0m1 0h0m5 0h0m1 0h0m1 0h0m2 0h0m1 0h0m2 0h0m1 0h0m1 0h0m1 0h0m1 0h0m2 0h0m1 0h0m1 0h0m1 0h0m2 0h0m1 0h0m2 0h0m3 0h0m1 0h0M0-189h0m4 0h0m1 0h0m2 0h0m2 0h0m3 0h0m5 0h0m1 0h0m1 0h0m2 0h0m2 0h0m1 0h0m8 0h0m4 0h0m1 0h0m2 0h0m1 0h0m1 0h0m1 0h0m2 0h0m2 0h0m2 0h0m2 0h0m1 0h0m1 0h0m1 0h0m1 0h0m6 0h0m1 0h0m2 0h0m3 0h0m1 0h0m1 0h0m1 0h0m1 0h0m2 0h0m2 0h0m1 0h0m2 0h0m1 0h0m7 0h0m1 0h0m1 0h0m3 0h0m1 0h0m1 0h0m1 0h0m1 0h0m1 0h0m2 0h0m2 0h0M0-190h0m3 0h0m3 0h0m7 0h0m2 0h0m2 0h0m1 0h0m5 0h0m3 0h0m3 0h0m1 0h0m3 0h0m5 0h0m2 0h0m2 0h0m4 0h0m3 0h0m2 0h0m5 0h0m2 0h0m2 0h0m2 0h0m6 0h0m4 0h0m2 0h0m1 0h0m1 0h0m1 0h0m9 0h0m3 0h0m6 0h0m3 0h0M3-191h0m1 0h0m2 0h0m2 0h0m4 0h0m1 0h0m1 0h0m1 0h0m1 0h0m1 0h0m2 0h0m2 0h0m2 0h0m2 0h0m1 0h0m2 0h0m2 0h0m1 0h0m3 0h0m1 0h0m5 0h0m1 0h0m1 0h0m1 0h0m1 0h0m4 0h0m2 0h0m1 0h0m1 0h0m1 0h0m1 0h0m2 0h0m1 0h0m1 0h0m1 0h0m3 0h0m3 0h0m1 0h0m1 0h0m2 0h0m5 0h0m3 0h0m1 0h0m1 0h0m3 0h0m1 0h0m2 0h0m1 0h0m2 0h0m1 0h0m1 0h0m1 0h0m2 0h0m1 0h0m1 0h0m1 0h0m1 0h0m1 0h0M1-192h0m3 0h0m1 0h0m1 0h0m3 0h0m2 0h0m2 0h0m1 0h0m4 0h0m1 0h0m1 0h0m1 0h0m1 0h0m1 0h0m2 0h0m2 0h0m1 0h0m2 0h0m1 0h0m1 0h0m1 0h0m1 0h0m2 0h0m1 0h0m4 0h0m8 0h0m2 0h0m1 0h0m5 0h0m1 0h0m1 0h0m2 0h0m1 0h0m2 0h0m1 0h0m2 0h0m1 0h0m3 0h0m2 0h0m4 0h0m1 0h0m1 0h0m2 0h0m2 0h0m5 0h0m2 0h0m1 0h0m8 0h0M0-193h0m5 0h0m1 0h0m1 0h0m3 0h0m1 0h0m1 0h0m1 0h0m4 0h0m2 0h0m1 0h0m1 0h0m1 0h0m6 0h0m1 0h0m3 0h0m1 0h0m1 0h0m1 0h0m2 0h0m1 0h0m1 0h0m1 0h0m2 0h0m1 0h0m2 0h0m1 0h0m1 0h0m1 0h0m4 0h0m2 0h0m2 0h0m1 0h0m1 0h0m1 0h0m1 0h0m2 0h0m1 0h0m3 0h0m1 0h0m1 0h0m2 0h0m2 0h0m1 0h0m1 0h0m1 0h0m2 0h0m1 0h0m2 0h0m1 0h0m1 0h0m2 0h0m1 0h0m2 0h0m1 0h0m1 0h0m1 0h0m1 0h0m2 0h0m2 0h0m2 0h0m1 0h0M0-194h0m2 0h0m1 0h0m1 0h0m1 0h0m6 0h0m1 0h0m2 0h0m2 0h0m3 0h0m8 0h0m5 0h0m1 0h0m1 0h0m2 0h0m2 0h0m1 0h0m2 0h0m2 0h0m2 0h0m1 0h0m1 0h0m4 0h0m1 0h0m2 0h0m1 0h0m3 0h0m1 0h0m1 0h0m1 0h0m1 0h0m2 0h0m1 0h0m2 0h0m1 0h0m2 0h0m5 0h0m1 0h0m1 0h0m1 0h0m1 0h0m1 0h0m5 0h0m1 0h0m4 0h0m1 0h0m3 0h0m1 0h0m3 0h0m1 0h0M1-195h0m6 0h0m4 0h0m5 0h0m2 0h0m1 0h0m5 0h0m1 0h0m1 0h0m1 0h0m1 0h0m1 0h0m1 0h0m2 0h0m7 0h0m1 0h0m2 0h0m3 0h0m6 0h0m1 0h0m2 0h0m3 0h0m1 0h0m1 0h0m6 0h0m1 0h0m4 0h0m1 0h0m4 0h0m1 0h0m4 0h0m1 0h0m5 0h0m3 0h0m2 0h0m1 0h0m1 0h0m4 0h0M2-196h0m5 0h0m5 0h0m4 0h0m2 0h0m1 0h0m1 0h0m1 0h0m1 0h0m6 0h0m2 0h0m1 0h0m2 0h0m2 0h0m1 0h0m2 0h0m1 0h0m5 0h0m2 0h0m1 0h0m1 0h0m3 0h0m1 0h0m4 0h0m1 0h0m1 0h0m3 0h0m7 0h0m6 0h0m2 0h0m3 0h0m2 0h0m3 0h0m6 0h0m1 0h0m2 0h0m1 0h0m5 0h0M3-197h0m1 0h0m1 0h0m1 0h0m1 0h0m2 0h0m1 0h0m1 0h0m1 0h0m1 0h0m2 0h0m1 0h0m3 0h0m1 0h0m2 0h0m1 0h0m5 0h0m1 0h0m1 0h0m1 0h0m2 0h0m2 0h0m2 0h0m2 0h0m1 0h0m4 0h0m1 0h0m1 0h0m2 0h0m1 0h0m2 0h0m1 0h0m3 0h0m5 0h0m2 0h0m3 0h0m1 0h0m1 0h0m1 0h0m1 0h0m1 0h0m1 0h0m1 0h0m1 0h0m1 0h0m1 0h0m1 0h0m1 0h0m4 0h0m2 0h0m1 0h0m1 0h0m1 0h0m1 0h0m1 0h0m4 0h0m1 0h0m1 0h0m2 0h0m1 0h0m1 0h0m1 0h0M0-198h0m2 0h0m1 0h0m1 0h0m1 0h0m1 0h0m1 0h0m2 0h0m1 0h0m1 0h0m1 0h0m2 0h0m1 0h0m1 0h0m1 0h0m1 0h0m1 0h0m2 0h0m1 0h0m1 0h0m2 0h0m1 0h0m1 0h0m2 0h0m1 0h0m2 0h0m1 0h0m1 0h0m1 0h0m1 0h0m1 0h0m1 0h0m2 0h0m1 0h0m1 0h0m3 0h0m2 0h0m1 0h0m1 0h0m1 0h0m2 0h0m2 0h0m2 0h0m1 0h0m1 0h0m1 0h0m1 0h0m1 0h0m1 0h0m1 0h0m1 0h0m1 0h0m1 0h0m4 0h0m1 0h0m2 0h0m1 0h0m3 0h0m2 0h0m2 0h0m2 0h0m1 0h0m1 0h0m1 0h0m1 0h0m1 0h0m1 0h0m2 0h0m2 0h0m4 0h0m1 0h0m1 0h0M4-199h0m1 0h0m6 0h0m5 0h0m3 0h0m5 0h0m2 0h0m1 0h0m2 0h0m1 0h0m2 0h0m4 0h0m4 0h0m5 0h0m1 0h0m1 0h0m5 0h0m3 0h0m1 0h0m4 0h0m1 0h0m7 0h0m1 0h0m1 0h0m5 0h0m1 0h0m4 0h0m1 0h0m2 0h0m4 0h0m6 0h0m1 0h0"/></g></defs>
<clipPath id="c0"><rect x="174.3" y="899.3" width="462.1" height="462.1"/></clipPath>
<filter id="bl" x="-3%" y="-3%" width="106%" height="106%" color-interpolation-filters="sRGB"><feTurbulence type="fractalNoise" baseFrequency="0.3" numOctaves="2" seed="3" result="t"/><feDisplacementMap in="SourceGraphic" in2="t" scale="4" xChannelSelector="R" yChannelSelector="G"/><feGaussianBlur stdDeviation="0.65"/></filter>
<g clip-path="url(#c0)" filter="url(#bl)"><g transform="translate(176.5 1359.2) scale(2.3000)" fill="none" stroke-linecap="round" stroke-width="1.217">
<use href="#t0"/><use href="#t0" x="100"/>
</g></g>
<rect x="170.8" y="890.5" width="152.2" height="110.5" fill="#fff"/>
<rect x="153.8" y="878.5" width="502.7" height="503.2" fill="none" stroke="#000" stroke-width="2.8"/>
<path fill="none" stroke="#000" stroke-width="2.8" d="M176.5 1383.1v12M634.2 1383.1v12M152.4 1359.2h-12M152.4 901.5h-12"/>
<g font-size="55">
<text x="176.5" y="1448.7" text-anchor="middle">0</text>
<text x="633.8" y="1448.7" text-anchor="middle" font-style="oblique">N</text>
<text x="127.2" y="1378.1" text-anchor="end">0</text>
<text x="127.6" y="922.3" text-anchor="end" font-style="oblique">N</text>
</g>
<g font-size="73.5">
<text x="189.5" y="969.4">0 h</text>
<text x="404.8" y="1479.4" text-anchor="middle" font-size="74">pre</text>
<text transform="translate(108.2 1129) rotate(-90)" text-anchor="middle" font-size="74">post</text>
</g>
<defs><g id="tb"><path stroke="#f0f0f0" d="M0 0h0m2 0h0m2 0h0m3 0h0m2 0h0m7 0h0m1 0h0m4 0h0m8 0h0m8 0h0m6 0h0m1 0h0M9-1h0m6 0h0m10 0h0m1 0h0m1 0h0m9 0h0m3 0h0m4 0h0m6 0h0M2-2h0m12 0h0m2 0h0m10 0h0m6 0h0m2 0h0m2 0h0m9 0h0m3 0h0m1 0h0M1-3h0m1 0h0m4 0h0m1 0h0m6 0h0m3 0h0m3 0h0m19 0h0m10 0h0M5-4h0m4 0h0m6 0h0m1 0h0m1 0h0m11 0h0m2 0h0m5 0h0M6-5h0m2 0h0m5 0h0m15 0h0m5 0h0m1 0h0m2 0h0m6 0h0m4 0h0m1 0h0M1-6h0m2 0h0m4 0h0m24 0h0m5 0h0m2 0h0m2 0h0m3 0h0m2 0h0m1 0h0m2 0h0M3-7h0m10 0h0m6 0h0m7 0h0m3 0h0m4 0h0m2 0h0m1 0h0m3 0h0m2 0h0m3 0h0m4 0h0M2-8h0m5 0h0m7 0h0m2 0h0m3 0h0m5 0h0m1 0h0m17 0h0m4 0h0m2 0h0M0-9h0m7 0h0m5 0h0m3 0h0m1 0h0m1 0h0m1 0h0m2 0h0m1 0h0m1 0h0m7 0h0m6 0h0m1 0h0m1 0h0M6-10h0m2 0h0m3 0h0m9 0h0m4 0h0m4 0h0m5 0h0m6 0h0m5 0h0m3 0h0M2-11h0m7 0h0m7 0h0m3 0h0m8 0h0m2 0h0m3 0h0m1 0h0m2 0h0m1 0h0m3 0h0m3 0h0m5 0h0m2 0h0M1-12h0m9 0h0m1 0h0m7 0h0m1 0h0m1 0h0m3 0h0m4 0h0m2 0h0m3 0h0m7 0h0m1 0h0M1-13h0m7 0h0m3 0h0m5 0h0m5 0h0m9 0h0m1 0h0m2 0h0m11 0h0m2 0h0M0-14h0m5 0h0m3 0h0m4 0h0m4 0h0m4 0h0m3 0h0m1 0h0m3 0h0m5 0h0m11 0h0m1 0h0M1-15h0m3 0h0m3 0h0m2 0h0m2 0h0m4 0h0m1 0h0m15 0h0m4 0h0m5 0h0m3 0h0m6 0h0M11-16h0m8 0h0m3 0h0m3 0h0m2 0h0m11 0h0M1-17h0m19 0h0m1 0h0m2 0h0m2 0h0m4 0h0m6 0h0m9 0h0m3 0h0m2 0h0M2-18h0m6 0h0m4 0h0m8 0h0m1 0h0m1 0h0m2 0h0m3 0h0m1 0h0m2 0h0m13 0h0M0-19h0m5 0h0m1 0h0m3 0h0m3 0h0m7 0h0m5 0h0m2 0h0m3 0h0m1 0h0m1 0h0m7 0h0m1 0h0m5 0h0M2-20h0m3 0h0m1 0h0m6 0h0m6 0h0m3 0h0m3 0h0m11 0h0m6 0h0m2 0h0m5 0h0m1 0h0M14-21h0m2 0h0m5 0h0m2 0h0m5 0h0m1 0h0m2 0h0m3 0h0m4 0h0m7 0h0M1-22h0m1 0h0m6 0h0m2 0h0m3 0h0m2 0h0m3 0h0m8 0h0m6 0h0m1 0h0m2 0h0m2 0h0m3 0h0m4 0h0m4 0h0M1-23h0m1 0h0m11 0h0m4 0h0m1 0h0m3 0h0m4 0h0m2 0h0m4 0h0m3 0h0m1 0h0m9 0h0m3 0h0m2 0h0M0-24h0m3 0h0m1 0h0m2 0h0m6 0h0m4 0h0m6 0h0m2 0h0m3 0h0m5 0h0m1 0h0M1-25h0m1 0h0m1 0h0m5 0h0m1 0h0m1 0h0m3 0h0m3 0h0m1 0h0m15 0h0m6 0h0m3 0h0M0-26h0m4 0h0m1 0h0m3 0h0m12 0h0m12 0h0m1 0h0m2 0h0m4 0h0m1 0h0m1 0h0m7 0h0M4-27h0m1 0h0m4 0h0m1 0h0m3 0h0m6 0h0m2 0h0m3 0h0m3 0h0m2 0h0m10 0h0m2 0h0m2 0h0m5 0h0M0-28h0m1 0h0m3 0h0m7 0h0m8 0h0m1 0h0m2 0h0m8 0h0m2 0h0m1 0h0m3 0h0m2 0h0m3 0h0m4 0h0m2 0h0M2-29h0m3 0h0m4 0h0m4 0h0m4 0h0m7 0h0m8 0h0m15 0h0M2-30h0m1 0h0m8 0h0m10 0h0m1 0h0m5 0h0m2 0h0m14 0h0m4 0h0M3-31h0m4 0h0m4 0h0m1 0h0m3 0h0m1 0h0m2 0h0m3 0h0m3 0h0m2 0h0m2 0h0m2 0h0m12 0h0m3 0h0m3 0h0M7-32h0m4 0h0m6 0h0m15 0h0m1 0h0m4 0h0m1 0h0m3 0h0M9-33h0m16 0h0m1 0h0m2 0h0m12 0h0M0-34h0m2 0h0m1 0h0m1 0h0m7 0h0m5 0h0m1 0h0m5 0h0m4 0h0m7 0h0m1 0h0m5 0h0m1 0h0m2 0h0m1 0h0m4 0h0M1-35h0m9 0h0m3 0h0m2 0h0m6 0h0m1 0h0m3 0h0m3 0h0m3 0h0m5 0h0m1 0h0m1 0h0m3 0h0m6 0h0M3-36h0m4 0h0m2 0h0m5 0h0m4 0h0m2 0h0m4 0h0m2 0h0m2 0h0m5 0h0m3 0h0m5 0h0m2 0h0m1 0h0m5 0h0M7-37h0m5 0h0m6 0h0m1 0h0m4 0h0m5 0h0m2 0h0m6 0h0m1 0h0m8 0h0m2 0h0m1 0h0m1 0h0M5-38h0m4 0h0m5 0h0m6 0h0m20 0h0m2 0h0m4 0h0m3 0h0M0-39h0m7 0h0m11 0h0m6 0h0m2 0h0m23 0h0M2-40h0m3 0h0m6 0h0m3 0h0m5 0h0m1 0h0m1 0h0m3 0h0m1 0h0m3 0h0m16 0h0m3 0h0M1-41h0m4 0h0m4 0h0m6 0h0m1 0h0m13 0h0m2 0h0m1 0h0m4 0h0M14-42h0m1 0h0m2 0h0m4 0h0m13 0h0m7 0h0m8 0h0M1-43h0m1 0h0m18 0h0m1 0h0m1 0h0m4 0h0m8 0h0m3 0h0m9 0h0m2 0h0M3-44h0m3 0h0m10 0h0m2 0h0m1 0h0m6 0h0m2 0h0m13 0h0m9 0h0M4-45h0m2 0h0m4 0h0m2 0h0m1 0h0m4 0h0m2 0h0m3 0h0m3 0h0m3 0h0m7 0h0m1 0h0m2 0h0m8 0h0m3 0h0M5-46h0m3 0h0m4 0h0m1 0h0m2 0h0m1 0h0m6 0h0m16 0h0m1 0h0m6 0h0M0-47h0m8 0h0m2 0h0m3 0h0m7 0h0m8 0h0m3 0h0m1 0h0m10 0h0m2 0h0m1 0h0m1 0h0M5-48h0m7 0h0m1 0h0m1 0h0m2 0h0m5 0h0m7 0h0m4 0h0m1 0h0m1 0h0m2 0h0m12 0h0M3-49h0m7 0h0m9 0h0m4 0h0m1 0h0m2 0h0m3 0h0m6 0h0m3 0h0m5 0h0"/><path stroke="#e4e4e4" d="M10 0h0m1 0h0m23 0h0M4-1h0m2 0h0m18 0h0m6 0h0m8 0h0M3-2h0m16 0h0m1 0h0m7 0h0m2 0h0M15-3h0m10 0h0m3 0h0m8 0h0m3 0h0M3-4h0m38 0h0m5 0h0M3-5h0m7 0h0m8 0h0m2 0h0m1 0h0m5 0h0m18 0h0M8-6h0m1 0h0m5 0h0m3 0h0m8 0h0m5 0h0m7 0h0m4 0h0M4-7h0m6 0h0m8 0h0m14 0h0m2 0h0m12 0h0M1-8h0m29 0h0m2 0h0m7 0h0M3-9h0m3 0h0m13 0h0m4 0h0m21 0h0M9-10h0m4 0h0M10-11h0m7 0h0m5 0h0m12 0h0m6 0h0m8 0h0M2-13h0m24 0h0m13 0h0M6-14h0m3 0h0m1 0h0m4 0h0m8 0h0M33-15h0m12 0h0M9-16h0m24 0h0M33-17h0m6 0h0m4 0h0M1-18h0m9 0h0m24 0h0m1 0h0M23-19h0M23-20h0m8 0h0m11 0h0m2 0h0M1-21h0m4 0h0m38 0h0M0-22h0m21 0h0m3 0h0m1 0h0m2 0h0m3 0h0m16 0h0M5-23h0m5 0h0m4 0h0m15 0h0m11 0h0M14-24h0m1 0h0m13 0h0m3 0h0M6-25h0m1 0h0m16 0h0m2 0h0M1-26h0m1 0h0m14 0h0m8 0h0m23 0h0m2 0h0M1-27h0m6 0h0m30 0h0m5 0h0M6-28h0m20 0h0m3 0h0m2 0h0m4 0h0M21-29h0M4-30h0m3 0h0m8 0h0m15 0h0m8 0h0m8 0h0M0-31h0m4 0h0m31 0h0m3 0h0m6 0h0M3-32h0m3 0h0m24 0h0M12-33h0m5 0h0m3 0h0m12 0h0m5 0h0m8 0h0M6-35h0m1 0h0m11 0h0m6 0h0m21 0h0M0-36h0m8 0h0m15 0h0M3-37h0m1 0h0m11 0h0m5 0h0M7-38h0m1 0h0m25 0h0M30-39h0m4 0h0M4-40h0m4 0h0m30 0h0m5 0h0m6 0h0M11-41h0m2 0h0m6 0h0m16 0h0M3-42h0m21 0h0m11 0h0m2 0h0m2 0h0m3 0h0M17-43h0m22 0h0M12-44h0m3 0h0m5 0h0m13 0h0m6 0h0m4 0h0M20-45h0m14 0h0M28-46h0m3 0h0M4-47h0m5 0h0m8 0h0m4 0h0m15 0h0m5 0h0m2 0h0m6 0h0M2-48h0M2-49h0m19 0h0m25 0h0m1 0h0"/><path stroke="#d0d0d0" d="M12 0h0m33 0h0M7-1h0m26 0h0M21-2h0M45-3h0M26-4h0M5-6h0M2-7h0m3 0h0m17 0h0M26-8h0m14 0h0M47-9h0M4-10h0M18-11h0M45-12h0M4-13h0m34 0h0M29-14h0M0-16h0m42 0h0M22-17h0M46-19h0M26-20h0m21 0h0M20-21h0M8-23h0M19-26h0m25 0h0M40-28h0M1-29h0m34 0h0m11 0h0M40-31h0M39-32h0M5-33h0M9-34h0M17-35h0m22 0h0M17-36h0M25-37h0M11-38h0m32 0h0M29-40h0M21-41h0m12 0h0M11-43h0m1 0h0M31-45h0m10 0h0M3-46h0M15-47h0M5-49h0m22 0h0"/></g></defs>
<rect x="783.3" y="899.5" width="461.7" height="461.7" fill="#fcfcfc"/>
<clipPath id="cb1"><rect x="783.1" y="899.3" width="462.1" height="462.1"/></clipPath>
<g clip-path="url(#cb1)" filter="url(#bl)" opacity="0.6"><g transform="translate(785.3 1359.2) scale(2.3000)" fill="none" stroke-linecap="round" stroke-width="1.304">
<use href="#tb" x="0" y="0"/><use href="#tb" x="0" y="-50"/><use href="#tb" x="0" y="-100"/><use href="#tb" x="0" y="-150"/><use href="#tb" x="50" y="0"/><use href="#tb" x="50" y="-50"/><use href="#tb" x="50" y="-100"/><use href="#tb" x="50" y="-150"/><use href="#tb" x="100" y="0"/><use href="#tb" x="100" y="-50"/><use href="#tb" x="100" y="-100"/><use href="#tb" x="100" y="-150"/><use href="#tb" x="150" y="0"/><use href="#tb" x="150" y="-50"/><use href="#tb" x="150" y="-100"/><use href="#tb" x="150" y="-150"/>
</g></g>
<g filter="url(#bl)"><g transform="translate(785.3 1359.2) scale(2.3000)" fill="none" stroke-linecap="round" stroke-width="1.261">
<path stroke="#d0d0d0" d="M15 0h0m6 0h0m4 0h0m4 0h0M3-1h0m4 0h0m8 0h0m24 0h0m6 0h0M11-2h0m17 0h0m4 0h0m16 0h0M27-3h0m4 0h0m10 0h0m1 0h0m3 0h0M0-4h0m4 0h0m40 0h0M9-5h0m19 0h0m11 0h0m4 0h0m2 0h0M8-6h0m11 0h0m17 0h0M10-7h0m3 0h0m20 0h0M5-8h0m29 0h0m6 0h0M45-9h0M15-10h0m23 0h0M2-11h0m10 0h0m34 0h0M9-12h0m2 0h0m35 0h0m2 0h0M2-13h0m4 0h0m15 0h0m1 0h0m3 0h0m4 0h0m4 0h0m9 0h0M1-14h0m18 0h0m2 0h0m5 0h0m9 0h0m13 0h0M20-15h0m8 0h0M8-16h0m1 0h0m2 0h0m15 0h0m15 0h0M2-17h0m10 0h0m24 0h0m5 0h0M19-18h0M3-19h0m21 0h0m20 0h0M5-20h0m20 0h0m10 0h0m1 0h0M20-21h0m12 0h0m13 0h0m1 0h0M34-22h0m15 0h0M45-23h0m4 0h0M17-24h0m2 0h0m1 0h0m4 0h0m1 0h0m9 0h0M1-25h0m40 0h0M3-26h0m18 0h0M35-27h0m14 0h0M7-28h0m37 0h0M1-29h0m18 0h0m13 0h0m11 0h0M28-30h0m2 0h0m5 0h0m6 0h0M4-31h0m9 0h0m2 0h0m18 0h0m11 0h0M11-32h0m4 0h0m7 0h0m10 0h0m5 0h0m5 0h0m4 0h0M3-33h0m4 0h0m9 0h0m33 0h0M13-34h0m3 0h0m15 0h0m16 0h0M25-35h0M0-36h0m22 0h0m14 0h0m6 0h0M18-37h0M10-38h0m8 0h0m3 0h0m12 0h0m4 0h0M10-39h0m21 0h0M13-40h0m8 0h0m11 0h0M3-41h0m4 0h0m13 0h0m17 0h0M0-42h0m6 0h0m9 0h0m30 0h0M8-43h0m1 0h0m11 0h0m1 0h0m17 0h0m11 0h0M21-44h0m1 0h0M5-45h0m4 0h0m5 0h0m3 0h0m2 0h0m6 0h0m1 0h0m6 0h0M2-46h0m21 0h0m9 0h0m17 0h0M3-47h0m3 0h0m33 0h0M2-48h0m3 0h0m5 0h0M9-49h0m35 0h0m5 0h0M91-50h0m1 0h0M55-51h0m7 0h0m7 0h0m18 0h0m6 0h0m1 0h0M66-52h0m19 0h0M54-53h0M50-54h0m15 0h0m3 0h0M64-55h0m4 0h0m2 0h0M65-56h0m4 0h0m20 0h0m3 0h0m7 0h0M92-58h0m4 0h0M69-59h0m2 0h0M74-60h0m5 0h0m10 0h0m10 0h0M59-61h0m1 0h0m1 0h0m28 0h0M68-62h0m7 0h0m8 0h0m8 0h0M70-63h0m9 0h0M59-64h0m4 0h0m3 0h0m3 0h0m7 0h0m8 0h0M50-65h0m7 0h0m6 0h0m6 0h0m9 0h0m3 0h0M51-66h0m13 0h0m6 0h0m7 0h0M57-67h0m28 0h0m3 0h0m8 0h0M63-68h0m6 0h0m16 0h0m12 0h0M83-69h0M52-70h0m1 0h0m4 0h0m22 0h0m20 0h0M51-71h0m7 0h0m35 0h0M85-72h0M50-73h0m3 0h0m2 0h0m6 0h0m1 0h0m9 0h0m2 0h0M52-74h0m8 0h0m3 0h0m14 0h0M52-75h0m10 0h0m18 0h0m1 0h0m6 0h0m2 0h0m5 0h0M53-76h0m12 0h0m1 0h0m1 0h0m4 0h0M60-77h0m3 0h0m23 0h0m11 0h0M53-78h0m5 0h0m17 0h0m5 0h0m6 0h0m2 0h0m7 0h0M51-79h0m18 0h0m23 0h0M85-80h0m6 0h0m1 0h0M55-81h0m2 0h0m9 0h0M52-82h0m20 0h0m10 0h0M84-83h0M73-85h0m4 0h0m20 0h0m1 0h0M68-86h0m18 0h0m2 0h0M61-87h0m10 0h0m2 0h0m2 0h0m16 0h0m7 0h0M76-89h0m4 0h0m6 0h0m4 0h0M57-90h0m1 0h0m13 0h0M56-91h0m42 0h0M52-92h0m2 0h0m10 0h0m17 0h0m16 0h0M73-93h0m2 0h0m2 0h0m19 0h0M87-94h0m4 0h0m3 0h0M51-95h0m3 0h0m16 0h0m17 0h0M53-96h0m23 0h0m6 0h0M53-97h0m4 0h0m31 0h0m8 0h0M68-98h0M83-99h0M113-100h0m6 0h0M103-101h0m21 0h0M102-102h0m7 0h0m3 0h0M103-103h0M122-104h0m2 0h0m14 0h0M101-105h0M130-106h0m5 0h0m11 0h0M113-107h0m13 0h0m23 0h0M125-108h0m14 0h0m9 0h0M118-109h0m7 0h0m15 0h0M104-110h0m6 0h0m39 0h0M102-111h0m22 0h0m7 0h0m2 0h0m2 0h0M102-112h0m1 0h0m1 0h0m15 0h0m12 0h0m2 0h0m2 0h0m2 0h0m3 0h0m6 0h0M103-113h0m13 0h0m21 0h0M107-114h0m6 0h0m18 0h0m2 0h0m9 0h0m7 0h0M125-115h0m7 0h0m15 0h0M111-116h0m1 0h0m16 0h0m4 0h0m1 0h0M102-117h0m6 0h0m24 0h0M133-118h0m12 0h0M125-119h0m19 0h0M122-120h0m10 0h0M103-121h0m6 0h0m6 0h0M117-123h0m19 0h0m13 0h0M118-124h0m3 0h0m17 0h0M117-125h0m9 0h0M116-126h0m9 0h0m3 0h0m7 0h0m11 0h0m1 0h0M107-127h0m31 0h0M128-128h0M104-129h0m3 0h0m6 0h0m1 0h0m2 0h0m21 0h0M102-130h0m2 0h0m12 0h0m7 0h0m5 0h0m6 0h0m2 0h0M103-131h0m1 0h0m1 0h0m8 0h0m13 0h0m8 0h0m8 0h0m5 0h0M115-132h0m8 0h0m11 0h0m2 0h0m3 0h0m4 0h0M108-133h0M103-134h0m18 0h0m8 0h0M119-135h0m1 0h0M104-136h0m6 0h0m26 0h0m13 0h0M132-137h0m16 0h0M124-138h0m7 0h0M138-139h0m9 0h0m1 0h0M133-140h0M111-141h0M116-142h0m23 0h0M108-143h0m33 0h0M102-144h0m7 0h0M116-145h0M100-147h0m3 0h0m1 0h0m2 0h0m6 0h0m1 0h0m29 0h0M147-148h0M131-149h0M170-150h0m2 0h0m1 0h0m1 0h0m2 0h0m13 0h0m7 0h0M164-151h0m21 0h0m3 0h0m2 0h0M162-152h0m31 0h0M156-153h0m43 0h0M161-154h0m14 0h0m1 0h0m5 0h0M150-155h0m36 0h0M151-156h0m23 0h0m1 0h0m5 0h0m12 0h0M178-157h0m5 0h0M196-158h0m1 0h0M186-159h0M177-160h0m16 0h0m3 0h0m1 0h0M191-161h0M159-162h0m8 0h0m13 0h0M151-163h0m24 0h0m8 0h0m8 0h0M153-164h0m14 0h0m24 0h0M153-165h0m1 0h0m23 0h0m3 0h0M165-166h0m19 0h0M164-167h0m8 0h0m16 0h0M151-168h0m10 0h0m7 0h0m11 0h0m8 0h0m6 0h0m6 0h0M192-169h0M154-170h0m25 0h0m2 0h0m2 0h0m8 0h0M159-171h0m29 0h0M157-172h0M164-173h0m4 0h0m14 0h0m13 0h0M151-174h0m15 0h0m13 0h0m1 0h0m8 0h0M159-175h0m15 0h0m4 0h0m18 0h0M190-176h0M183-179h0m3 0h0m1 0h0M158-180h0m4 0h0m6 0h0m2 0h0m19 0h0m1 0h0M169-181h0m14 0h0m13 0h0M181-182h0M157-183h0m13 0h0m6 0h0M155-184h0M174-185h0m5 0h0M151-186h0m13 0h0m16 0h0m4 0h0m3 0h0m12 0h0M174-187h0m18 0h0M156-188h0m1 0h0m7 0h0m4 0h0m7 0h0M156-189h0m2 0h0m1 0h0m1 0h0m2 0h0m4 0h0m7 0h0m23 0h0M161-190h0m6 0h0m3 0h0m1 0h0m18 0h0m8 0h0M161-191h0m1 0h0m3 0h0m19 0h0M168-192h0m12 0h0m3 0h0m15 0h0M183-193h0m1 0h0m10 0h0M175-194h0m1 0h0m11 0h0M194-195h0M170-196h0m11 0h0M152-197h0m7 0h0M181-198h0m2 0h0m14 0h0M156-199h0m28 0h0"/><path stroke="#a0a0a0" d="M1 0h0m2 0h0m1 0h0m12 0h0m8 0h0m9 0h0m8 0h0m1 0h0m2 0h0m4 0h0M0-1h0m1 0h0m7 0h0m4 0h0m4 0h0m6 0h0m5 0h0m2 0h0M9-2h0m4 0h0m5 0h0m9 0h0m8 0h0m3 0h0m7 0h0m2 0h0M9-3h0m3 0h0m1 0h0m2 0h0m2 0h0m1 0h0m14 0h0M1-4h0m8 0h0m11 0h0m3 0h0m1 0h0m1 0h0m4 0h0m10 0h0M1-5h0m5 0h0m6 0h0m3 0h0m8 0h0m6 0h0m2 0h0m15 0h0m1 0h0m1 0h0M0-6h0m2 0h0m1 0h0m12 0h0m5 0h0m3 0h0m6 0h0m14 0h0M5-7h0m10 0h0m2 0h0m2 0h0m4 0h0m9 0h0m5 0h0m7 0h0m1 0h0M6-8h0m5 0h0m2 0h0m8 0h0m4 0h0m1 0h0m21 0h0m1 0h0M0-9h0m4 0h0m3 0h0m1 0h0m29 0h0m9 0h0M5-10h0m3 0h0m12 0h0m1 0h0m2 0h0m1 0h0m5 0h0m2 0h0m2 0h0m4 0h0m5 0h0M0-11h0m1 0h0m18 0h0m5 0h0m2 0h0m1 0h0m1 0h0m9 0h0M5-12h0m5 0h0m2 0h0m7 0h0m6 0h0m6 0h0m9 0h0m4 0h0m5 0h0M15-13h0m9 0h0m2 0h0M8-14h0m1 0h0m3 0h0m2 0h0m8 0h0m3 0h0m8 0h0m3 0h0M0-15h0m4 0h0m7 0h0m4 0h0m2 0h0m5 0h0m5 0h0m4 0h0m8 0h0m7 0h0M6-16h0m11 0h0m16 0h0m1 0h0m12 0h0m1 0h0M0-17h0m14 0h0m1 0h0m8 0h0m6 0h0m4 0h0m10 0h0M17-18h0m1 0h0m10 0h0m4 0h0m15 0h0M16-19h0m7 0h0m4 0h0m2 0h0m14 0h0m2 0h0M6-20h0m5 0h0m5 0h0m12 0h0m11 0h0m4 0h0m2 0h0m1 0h0m3 0h0M0-21h0m3 0h0m1 0h0m19 0h0m1 0h0m6 0h0m3 0h0m7 0h0M0-22h0m1 0h0m7 0h0m16 0h0m3 0h0m5 0h0M9-23h0m6 0h0m8 0h0m1 0h0m8 0h0m3 0h0m1 0h0m3 0h0m1 0h0m6 0h0M11-24h0m18 0h0m11 0h0m1 0h0m7 0h0M4-25h0m20 0h0m3 0h0m3 0h0m9 0h0m7 0h0M0-26h0m9 0h0m18 0h0m5 0h0m2 0h0m14 0h0M12-27h0m15 0h0m4 0h0m6 0h0m3 0h0m2 0h0m4 0h0m2 0h0M1-28h0m12 0h0m12 0h0m6 0h0m12 0h0M6-29h0m6 0h0m1 0h0m21 0h0m10 0h0m4 0h0M4-30h0m28 0h0M0-31h0m7 0h0m3 0h0m4 0h0m4 0h0m4 0h0m4 0h0m5 0h0m3 0h0m3 0h0m1 0h0m1 0h0M1-32h0m2 0h0m5 0h0m6 0h0m11 0h0m6 0h0m3 0h0m5 0h0m1 0h0M5-33h0m16 0h0m1 0h0m15 0h0m8 0h0m3 0h0M49-34h0M8-35h0m3 0h0m3 0h0m15 0h0m3 0h0M3-36h0m4 0h0m3 0h0m7 0h0m8 0h0m5 0h0m1 0h0m7 0h0M3-37h0m2 0h0m2 0h0m1 0h0m4 0h0m8 0h0m5 0h0m5 0h0m4 0h0M4-38h0m2 0h0m8 0h0m2 0h0m1 0h0m18 0h0m10 0h0M12-39h0m3 0h0m12 0h0m2 0h0m4 0h0M9-40h0m7 0h0m2 0h0m8 0h0m14 0h0m2 0h0m6 0h0M8-41h0m4 0h0m7 0h0m13 0h0m12 0h0M8-42h0m1 0h0m2 0h0m5 0h0m9 0h0m4 0h0m11 0h0m2 0h0m4 0h0M17-43h0m8 0h0m5 0h0m6 0h0M15-44h0m5 0h0m13 0h0m11 0h0m4 0h0M23-45h0m12 0h0m7 0h0M0-46h0m12 0h0m2 0h0m12 0h0m5 0h0m5 0h0m3 0h0m4 0h0M17-47h0m2 0h0m1 0h0m13 0h0m9 0h0m4 0h0m3 0h0M3-48h0m4 0h0m1 0h0m17 0h0m14 0h0M1-49h0m25 0h0m21 0h0M57-50h0m12 0h0m8 0h0m8 0h0m11 0h0M52-51h0m2 0h0m12 0h0m6 0h0m3 0h0m9 0h0M53-52h0m9 0h0m2 0h0m10 0h0m7 0h0M67-53h0m2 0h0m4 0h0m17 0h0m7 0h0M67-54h0m2 0h0m14 0h0m1 0h0m3 0h0m1 0h0m2 0h0M51-55h0m3 0h0m25 0h0m2 0h0m6 0h0m8 0h0M56-56h0m32 0h0m2 0h0m1 0h0M63-57h0m3 0h0m17 0h0m2 0h0m2 0h0m7 0h0M57-58h0m9 0h0m6 0h0m27 0h0M65-59h0m33 0h0M56-60h0m4 0h0m10 0h0m3 0h0m5 0h0m5 0h0m9 0h0m5 0h0M52-61h0m12 0h0m17 0h0m1 0h0m1 0h0m3 0h0m5 0h0m3 0h0m4 0h0M53-62h0m23 0h0m1 0h0m9 0h0m2 0h0m11 0h0M51-63h0m30 0h0m9 0h0m7 0h0M53-64h0m2 0h0m15 0h0m7 0h0m11 0h0m8 0h0M60-65h0m4 0h0m3 0h0m6 0h0m14 0h0m3 0h0m7 0h0M58-66h0m1 0h0m7 0h0m9 0h0m7 0h0m8 0h0m5 0h0M66-67h0m13 0h0m1 0h0m11 0h0m6 0h0M53-68h0m2 0h0m9 0h0m3 0h0m12 0h0m3 0h0m7 0h0m3 0h0M53-69h0m4 0h0m3 0h0m1 0h0m2 0h0m4 0h0m2 0h0m4 0h0m21 0h0m2 0h0M54-70h0m11 0h0m2 0h0m10 0h0m6 0h0m1 0h0m2 0h0m2 0h0m6 0h0M52-71h0m17 0h0m12 0h0m15 0h0m1 0h0M51-72h0m8 0h0m4 0h0m10 0h0m8 0h0m8 0h0m2 0h0m5 0h0m1 0h0M51-73h0m3 0h0m6 0h0m9 0h0m3 0h0m7 0h0m4 0h0m15 0h0M51-74h0m7 0h0m7 0h0m11 0h0m4 0h0m8 0h0m3 0h0m2 0h0m3 0h0M58-75h0m2 0h0m3 0h0m1 0h0m2 0h0m2 0h0m2 0h0m5 0h0m10 0h0m10 0h0M56-76h0m3 0h0m2 0h0m3 0h0m24 0h0m7 0h0m2 0h0M53-77h0m3 0h0m1 0h0m8 0h0m10 0h0m5 0h0m3 0h0m13 0h0m2 0h0m1 0h0M61-78h0m6 0h0m11 0h0m14 0h0M52-79h0m25 0h0m2 0h0m3 0h0m1 0h0m1 0h0m10 0h0m1 0h0m1 0h0m2 0h0M60-80h0m6 0h0m4 0h0m3 0h0m5 0h0m4 0h0m14 0h0m2 0h0M65-81h0m2 0h0m2 0h0m2 0h0m14 0h0m3 0h0M58-82h0m4 0h0m8 0h0m19 0h0m4 0h0m2 0h0m1 0h0m1 0h0M50-83h0m10 0h0m4 0h0m1 0h0m8 0h0m20 0h0m6 0h0M72-84h0m4 0h0m13 0h0m8 0h0M53-85h0m31 0h0m5 0h0m5 0h0M50-86h0m4 0h0m1 0h0m8 0h0m11 0h0m1 0h0m5 0h0m9 0h0m1 0h0m1 0h0m1 0h0m1 0h0m5 0h0M55-87h0m9 0h0m28 0h0M55-88h0m11 0h0m3 0h0m18 0h0m11 0h0M50-89h0m1 0h0m6 0h0m5 0h0m7 0h0m6 0h0M51-90h0m2 0h0m1 0h0m7 0h0m1 0h0m7 0h0m18 0h0m1 0h0m2 0h0m2 0h0m4 0h0m1 0h0m2 0h0M70-91h0m18 0h0m6 0h0M56-92h0m5 0h0m12 0h0m4 0h0M50-93h0m5 0h0m3 0h0m3 0h0m2 0h0m4 0h0m17 0h0m8 0h0M60-94h0m6 0h0m1 0h0m4 0h0m5 0h0m8 0h0m5 0h0m3 0h0m1 0h0M55-95h0m2 0h0m2 0h0m31 0h0m4 0h0m2 0h0M54-96h0m3 0h0m5 0h0m7 0h0m1 0h0m2 0h0m7 0h0m1 0h0m4 0h0m1 0h0m8 0h0M54-97h0m6 0h0m6 0h0m2 0h0m10 0h0m12 0h0m1 0h0M50-98h0m11 0h0m12 0h0m2 0h0m9 0h0m5 0h0M62-99h0m2 0h0m1 0h0m4 0h0m25 0h0m2 0h0M109-100h0m11 0h0M100-101h0m7 0h0m2 0h0m6 0h0m5 0h0m8 0h0m4 0h0m3 0h0m10 0h0M104-102h0m4 0h0m8 0h0m4 0h0m14 0h0m7 0h0m3 0h0m4 0h0M100-103h0m2 0h0m12 0h0m1 0h0m24 0h0M109-104h0m3 0h0m1 0h0m4 0h0m1 0h0m17 0h0m5 0h0m7 0h0M102-105h0m1 0h0m6 0h0m2 0h0m4 0h0m7 0h0m6 0h0m3 0h0m2 0h0m2 0h0M108-106h0m26 0h0m7 0h0M111-107h0m6 0h0m1 0h0m12 0h0m5 0h0m6 0h0m6 0h0M102-108h0m3 0h0m3 0h0m3 0h0m16 0h0M108-109h0m14 0h0m15 0h0M120-110h0m5 0h0m1 0h0m5 0h0m9 0h0m6 0h0M122-111h0m4 0h0m18 0h0m3 0h0M100-112h0m1 0h0m14 0h0m3 0h0m8 0h0m1 0h0m12 0h0m5 0h0M112-113h0m3 0h0m8 0h0m6 0h0m1 0h0m4 0h0m13 0h0M104-114h0m2 0h0m5 0h0m3 0h0m5 0h0m11 0h0m8 0h0m2 0h0m1 0h0m3 0h0m1 0h0m3 0h0M103-115h0m2 0h0m2 0h0m4 0h0m12 0h0m1 0h0m3 0h0m13 0h0M100-116h0m2 0h0m2 0h0m3 0h0m1 0h0m16 0h0m3 0h0m19 0h0M103-117h0m13 0h0m5 0h0m5 0h0m5 0h0m2 0h0m3 0h0m11 0h0M105-118h0m4 0h0m1 0h0m1 0h0m14 0h0m2 0h0m3 0h0m1 0h0m8 0h0m1 0h0m1 0h0m2 0h0M101-119h0m11 0h0m24 0h0m7 0h0m3 0h0m1 0h0M110-120h0m4 0h0m15 0h0m2 0h0m18 0h0M105-121h0m11 0h0m6 0h0m4 0h0m6 0h0m2 0h0m1 0h0m3 0h0m6 0h0M107-122h0m3 0h0m2 0h0m3 0h0m2 0h0m4 0h0m6 0h0m6 0h0M103-123h0m15 0h0m2 0h0m14 0h0m9 0h0m3 0h0M122-124h0m2 0h0m2 0h0m6 0h0m8 0h0m1 0h0M109-125h0m1 0h0m6 0h0m25 0h0m1 0h0m1 0h0m5 0h0M109-126h0m4 0h0m19 0h0m7 0h0m1 0h0M109-127h0m5 0h0m5 0h0m18 0h0m3 0h0m4 0h0m5 0h0M106-128h0m2 0h0m10 0h0m15 0h0m4 0h0m7 0h0m1 0h0m4 0h0M103-129h0m3 0h0m3 0h0m1 0h0m18 0h0m3 0h0M109-130h0m2 0h0m1 0h0m14 0h0m7 0h0m6 0h0m1 0h0M124-131h0m11 0h0m4 0h0M112-132h0m2 0h0m17 0h0M123-133h0m1 0h0m10 0h0m1 0h0m2 0h0M104-134h0m11 0h0m4 0h0m27 0h0M100-135h0m12 0h0m2 0h0m2 0h0m6 0h0m7 0h0m6 0h0m7 0h0m4 0h0m1 0h0M103-136h0m26 0h0m9 0h0m4 0h0m2 0h0M110-137h0m5 0h0m10 0h0m5 0h0m1 0h0m14 0h0m2 0h0M102-138h0m12 0h0m18 0h0m3 0h0m1 0h0m6 0h0m3 0h0M105-139h0m1 0h0m1 0h0m22 0h0m3 0h0m3 0h0m1 0h0m7 0h0m6 0h0M126-140h0m5 0h0m15 0h0M105-141h0m1 0h0m8 0h0m9 0h0m3 0h0m7 0h0m8 0h0m5 0h0m2 0h0m1 0h0M106-142h0m12 0h0m9 0h0M104-143h0m2 0h0m9 0h0m8 0h0m24 0h0m2 0h0M106-144h0m4 0h0m16 0h0m2 0h0m7 0h0m7 0h0M103-145h0m5 0h0m2 0h0m12 0h0m1 0h0m6 0h0m1 0h0m9 0h0m7 0h0M108-146h0m3 0h0m1 0h0m2 0h0m6 0h0m9 0h0m11 0h0m3 0h0m5 0h0M101-147h0m8 0h0m5 0h0m3 0h0m8 0h0m3 0h0m7 0h0m13 0h0M103-148h0m1 0h0m1 0h0m5 0h0m5 0h0m3 0h0m3 0h0m3 0h0m6 0h0m7 0h0m5 0h0M111-149h0m10 0h0m1 0h0m18 0h0m5 0h0M153-150h0m25 0h0m4 0h0m6 0h0M184-151h0M154-152h0m3 0h0m7 0h0m18 0h0m3 0h0m11 0h0M150-153h0m8 0h0m7 0h0m9 0h0m1 0h0m8 0h0M174-154h0m13 0h0m4 0h0m7 0h0M151-155h0m7 0h0m26 0h0m5 0h0m1 0h0m9 0h0M153-156h0m10 0h0m4 0h0m20 0h0m8 0h0m1 0h0M162-157h0m24 0h0m3 0h0M153-158h0m1 0h0m6 0h0m3 0h0m16 0h0m7 0h0M176-159h0m11 0h0m11 0h0M162-160h0m14 0h0m3 0h0m2 0h0m4 0h0m1 0h0M151-161h0m24 0h0m4 0h0m1 0h0m5 0h0M164-162h0m5 0h0m2 0h0m6 0h0m2 0h0m2 0h0M150-163h0m27 0h0m2 0h0m8 0h0m1 0h0m4 0h0m4 0h0M150-164h0m18 0h0m10 0h0m5 0h0m6 0h0m5 0h0M152-165h0m4 0h0m6 0h0m2 0h0m1 0h0m10 0h0m21 0h0M151-166h0m30 0h0m17 0h0M154-167h0m8 0h0m6 0h0m3 0h0m8 0h0m6 0h0m6 0h0m3 0h0M164-168h0m2 0h0m7 0h0m5 0h0m3 0h0m1 0h0m4 0h0m9 0h0M173-169h0m11 0h0m6 0h0M174-170h0m3 0h0m3 0h0m5 0h0m12 0h0M163-171h0m2 0h0m6 0h0m2 0h0m18 0h0m3 0h0m4 0h0M152-172h0m2 0h0m6 0h0m1 0h0m5 0h0m9 0h0m2 0h0m7 0h0M152-173h0m5 0h0m3 0h0m1 0h0m1 0h0m1 0h0m10 0h0m2 0h0m3 0h0m11 0h0m3 0h0m4 0h0M156-174h0m5 0h0m4 0h0m4 0h0m23 0h0M155-175h0m1 0h0m11 0h0m5 0h0m1 0h0m7 0h0m8 0h0m3 0h0M161-176h0m3 0h0m8 0h0m1 0h0m11 0h0m7 0h0m4 0h0m3 0h0M159-177h0m1 0h0m13 0h0m5 0h0m1 0h0m4 0h0m5 0h0m1 0h0m7 0h0M163-178h0m5 0h0m13 0h0m13 0h0m5 0h0M154-179h0m13 0h0m1 0h0m4 0h0m8 0h0m17 0h0M153-180h0m1 0h0m20 0h0m3 0h0m9 0h0m2 0h0m9 0h0m2 0h0M153-181h0m7 0h0m6 0h0m32 0h0M151-182h0m4 0h0m14 0h0m11 0h0m7 0h0m6 0h0m4 0h0M167-183h0m10 0h0m4 0h0m6 0h0m5 0h0M154-184h0m9 0h0m5 0h0m1 0h0m3 0h0m9 0h0m1 0h0m10 0h0m1 0h0M157-185h0m1 0h0m6 0h0m9 0h0m2 0h0m1 0h0m5 0h0M156-186h0m1 0h0m16 0h0m6 0h0m17 0h0M158-187h0m1 0h0m5 0h0m4 0h0m10 0h0m16 0h0m5 0h0M167-188h0m18 0h0m2 0h0m1 0h0m2 0h0m2 0h0m4 0h0m3 0h0M152-189h0m13 0h0m18 0h0m2 0h0M179-190h0m6 0h0M167-191h0m10 0h0m5 0h0M154-192h0m17 0h0m7 0h0m9 0h0m4 0h0m6 0h0M150-193h0m2 0h0m1 0h0m2 0h0m6 0h0m2 0h0m8 0h0m2 0h0m6 0h0m3 0h0m5 0h0m6 0h0m4 0h0M155-194h0m27 0h0m7 0h0m3 0h0m4 0h0M150-195h0m9 0h0m18 0h0m12 0h0m9 0h0M156-196h0m18 0h0m1 0h0m5 0h0m10 0h0m7 0h0m2 0h0M166-197h0m11 0h0m2 0h0m14 0h0m6 0h0M153-198h0m3 0h0m1 0h0m3 0h0m4 0h0m7 0h0m8 0h0m5 0h0m9 0h0M153-199h0m11 0h0m1 0h0m11 0h0m2 0h0m13 0h0m4 0h0"/><path stroke="#666" d="M0 0h0m6 0h0m7 0h0m1 0h0m5 0h0m1 0h0m3 0h0m8 0h0m3 0h0m4 0h0m2 0h0m5 0h0m2 0h0m2 0h0M5-1h0m8 0h0m1 0h0m9 0h0m7 0h0m2 0h0m4 0h0m4 0h0m4 0h0m5 0h0M1-2h0m1 0h0m2 0h0m10 0h0m6 0h0m11 0h0m2 0h0m1 0h0m2 0h0m7 0h0m6 0h0M2-3h0m4 0h0m2 0h0m15 0h0m6 0h0m4 0h0m3 0h0m1 0h0m2 0h0m4 0h0m3 0h0M2-4h0m1 0h0m2 0h0m1 0h0m5 0h0m16 0h0m14 0h0m2 0h0m2 0h0m2 0h0m1 0h0M0-5h0m2 0h0m14 0h0m3 0h0m1 0h0m1 0h0m4 0h0m7 0h0m1 0h0m1 0h0m1 0h0m2 0h0M6-6h0m5 0h0m5 0h0m8 0h0m1 0h0m2 0h0m14 0h0m4 0h0m2 0h0M1-7h0m1 0h0m1 0h0m3 0h0m5 0h0m7 0h0m16 0h0m5 0h0m3 0h0M2-8h0m1 0h0m6 0h0m9 0h0m4 0h0m5 0h0m1 0h0m10 0h0m4 0h0m1 0h0M9-9h0m7 0h0m2 0h0m1 0h0m2 0h0m2 0h0m1 0h0m3 0h0m7 0h0m6 0h0m2 0h0M1-10h0m2 0h0m3 0h0m12 0h0m17 0h0m1 0h0m4 0h0m1 0h0m3 0h0M6-11h0m10 0h0m6 0h0m9 0h0m16 0h0m2 0h0M3-12h0m4 0h0m1 0h0m5 0h0m20 0h0m8 0h0m4 0h0M1-13h0m3 0h0m1 0h0m4 0h0m3 0h0m4 0h0m2 0h0m1 0h0m4 0h0m7 0h0m2 0h0m4 0h0m9 0h0M0-14h0m3 0h0m10 0h0m4 0h0m1 0h0m11 0h0m1 0h0m1 0h0m3 0h0m7 0h0m5 0h0m1 0h0M6-15h0m7 0h0m3 0h0m14 0h0m7 0h0m1 0h0m3 0h0m4 0h0m3 0h0m1 0h0M1-16h0m1 0h0m5 0h0m12 0h0m16 0h0m5 0h0m4 0h0m1 0h0M1-17h0m19 0h0m2 0h0m2 0h0m3 0h0m3 0h0m10 0h0m5 0h0M6-18h0m9 0h0m5 0h0m5 0h0m1 0h0m1 0h0m12 0h0m2 0h0m3 0h0m2 0h0m2 0h0M10-19h0m7 0h0m1 0h0m1 0h0m2 0h0m4 0h0m8 0h0m1 0h0m7 0h0M3-20h0m9 0h0m2 0h0m4 0h0m3 0h0m2 0h0m1 0h0m6 0h0m8 0h0m6 0h0m3 0h0M2-21h0m19 0h0m7 0h0m1 0h0m2 0h0m10 0h0m1 0h0m1 0h0m5 0h0M2-22h0m3 0h0m12 0h0m4 0h0m1 0h0m17 0h0m1 0h0m2 0h0m2 0h0m2 0h0M1-23h0m3 0h0m9 0h0m5 0h0m1 0h0m3 0h0m4 0h0m3 0h0m13 0h0M0-24h0m1 0h0m4 0h0m1 0h0m2 0h0m5 0h0m1 0h0m12 0h0m6 0h0m4 0h0m1 0h0M0-25h0m2 0h0m4 0h0m7 0h0m3 0h0m10 0h0m2 0h0m5 0h0m4 0h0m1 0h0m4 0h0m5 0h0M2-26h0m3 0h0m1 0h0m7 0h0m1 0h0m6 0h0m9 0h0m1 0h0m6 0h0m3 0h0m3 0h0m4 0h0m1 0h0M0-27h0m3 0h0m11 0h0m2 0h0m4 0h0m1 0h0m3 0h0m5 0h0m1 0h0m2 0h0m2 0h0M2-28h0m2 0h0m2 0h0m5 0h0m1 0h0m5 0h0m17 0h0m1 0h0m3 0h0m4 0h0m3 0h0m2 0h0m1 0h0M2-29h0m3 0h0m13 0h0m3 0h0m1 0h0m7 0h0m10 0h0m1 0h0m5 0h0m4 0h0M1-30h0m9 0h0m2 0h0m7 0h0m2 0h0m4 0h0m1 0h0m8 0h0m2 0h0m1 0h0m1 0h0m8 0h0m2 0h0m1 0h0M8-31h0m3 0h0m9 0h0m3 0h0m1 0h0m4 0h0m8 0h0M9-32h0m1 0h0m8 0h0m26 0h0M13-33h0m2 0h0m2 0h0m7 0h0m1 0h0m1 0h0m6 0h0m4 0h0m2 0h0m3 0h0m1 0h0m2 0h0m2 0h0m1 0h0M1-34h0m1 0h0m8 0h0m1 0h0m4 0h0m4 0h0m2 0h0m1 0h0m4 0h0m3 0h0m3 0h0m4 0h0m1 0h0m1 0h0m2 0h0m1 0h0m1 0h0M18-35h0m8 0h0m11 0h0M1-36h0m12 0h0m1 0h0m5 0h0m7 0h0m1 0h0m6 0h0m1 0h0m11 0h0M1-37h0m9 0h0m7 0h0M13-38h0m7 0h0m5 0h0m11 0h0m3 0h0m4 0h0M6-39h0m7 0h0m3 0h0m1 0h0m7 0h0m4 0h0m16 0h0m3 0h0m2 0h0M0-40h0m6 0h0m13 0h0m1 0h0m3 0h0m12 0h0m1 0h0m8 0h0m1 0h0M2-41h0m9 0h0m10 0h0m2 0h0m5 0h0m2 0h0m1 0h0m3 0h0m1 0h0m11 0h0m1 0h0M1-42h0m3 0h0m10 0h0m4 0h0m10 0h0m5 0h0m11 0h0M2-43h0m3 0h0m8 0h0m1 0h0m1 0h0m13 0h0m4 0h0m2 0h0m8 0h0m1 0h0m2 0h0M2-44h0m6 0h0m4 0h0m12 0h0m1 0h0m1 0h0m5 0h0m5 0h0m1 0h0m1 0h0m5 0h0m2 0h0M3-45h0m3 0h0m12 0h0m12 0h0m3 0h0m3 0h0m7 0h0m1 0h0m1 0h0m2 0h0m2 0h0M17-46h0m2 0h0m1 0h0m4 0h0m3 0h0m1 0h0m2 0h0m3 0h0m11 0h0m3 0h0m1 0h0M8-47h0m19 0h0m14 0h0m2 0h0M13-48h0m6 0h0m1 0h0m1 0h0m6 0h0m6 0h0m7 0h0m1 0h0m6 0h0m1 0h0M11-49h0m3 0h0m10 0h0m6 0h0m7 0h0m4 0h0m2 0h0M52-50h0m4 0h0m4 0h0m1 0h0m1 0h0m1 0h0m21 0h0m6 0h0m8 0h0M50-51h0m11 0h0m2 0h0m18 0h0m1 0h0m10 0h0m5 0h0M58-52h0m2 0h0m1 0h0m19 0h0m6 0h0m2 0h0m1 0h0m3 0h0m1 0h0m1 0h0m1 0h0m1 0h0M51-53h0m1 0h0m1 0h0m2 0h0m6 0h0m10 0h0m6 0h0m2 0h0m3 0h0m1 0h0m4 0h0m5 0h0m1 0h0m2 0h0m4 0h0M58-54h0m5 0h0m1 0h0m2 0h0m5 0h0m1 0h0m3 0h0m1 0h0m3 0h0m1 0h0m1 0h0m1 0h0m4 0h0m6 0h0m6 0h0m1 0h0M50-55h0m3 0h0m7 0h0m1 0h0m11 0h0m3 0h0m1 0h0m2 0h0m16 0h0M58-56h0m4 0h0m4 0h0m2 0h0m3 0h0m3 0h0m3 0h0m18 0h0m1 0h0m1 0h0M50-57h0m6 0h0m2 0h0m6 0h0m1 0h0m2 0h0m1 0h0m3 0h0m2 0h0m3 0h0m12 0h0m1 0h0m1 0h0m6 0h0m1 0h0M58-58h0m5 0h0m2 0h0m2 0h0m2 0h0m4 0h0m1 0h0m1 0h0m7 0h0m1 0h0m1 0h0m10 0h0m3 0h0M51-59h0m2 0h0m2 0h0m1 0h0m1 0h0m9 0h0m1 0h0m7 0h0m4 0h0m3 0h0m3 0h0m7 0h0m1 0h0m1 0h0m3 0h0m1 0h0M53-60h0m9 0h0m15 0h0m7 0h0m2 0h0m2 0h0m3 0h0m3 0h0m2 0h0m2 0h0M51-61h0m7 0h0m4 0h0m3 0h0m1 0h0m2 0h0m1 0h0m1 0h0m6 0h0m1 0h0m2 0h0m5 0h0m3 0h0m1 0h0m8 0h0m1 0h0M58-62h0m3 0h0m2 0h0m2 0h0m5 0h0m4 0h0m4 0h0m9 0h0m5 0h0m4 0h0m1 0h0m1 0h0M50-63h0m5 0h0m10 0h0m3 0h0m1 0h0m2 0h0m4 0h0m1 0h0m9 0h0m1 0h0m6 0h0M50-64h0m6 0h0m4 0h0m2 0h0m11 0h0m5 0h0m4 0h0m8 0h0M53-65h0m2 0h0m1 0h0m2 0h0m12 0h0m2 0h0m4 0h0m12 0h0m4 0h0m1 0h0m3 0h0M52-66h0m4 0h0m6 0h0m3 0h0m7 0h0m2 0h0m7 0h0m11 0h0m2 0h0m3 0h0m1 0h0M53-67h0m5 0h0m1 0h0m3 0h0M51-68h0m6 0h0m2 0h0m3 0h0m3 0h0m1 0h0m12 0h0m6 0h0m6 0h0m3 0h0m5 0h0m1 0h0M50-69h0m1 0h0m5 0h0m3 0h0m7 0h0m4 0h0m4 0h0m2 0h0m3 0h0m3 0h0m5 0h0m1 0h0m1 0h0m2 0h0m6 0h0m2 0h0M68-70h0m1 0h0m3 0h0m9 0h0m8 0h0m6 0h0m1 0h0m2 0h0M60-71h0m2 0h0m6 0h0m4 0h0m1 0h0m7 0h0m2 0h0M50-72h0m7 0h0m1 0h0m3 0h0m5 0h0m6 0h0m4 0h0m1 0h0m1 0h0m10 0h0m5 0h0M52-73h0m16 0h0m2 0h0m5 0h0m1 0h0m4 0h0m6 0h0m1 0h0m5 0h0m1 0h0m1 0h0m1 0h0m2 0h0m2 0h0M66-74h0m3 0h0m1 0h0m1 0h0m11 0h0m3 0h0m7 0h0m2 0h0m1 0h0m2 0h0M51-75h0m14 0h0m4 0h0m2 0h0m2 0h0m1 0h0m3 0h0m7 0h0m6 0h0m1 0h0m2 0h0m4 0h0M52-76h0m2 0h0m3 0h0m1 0h0m2 0h0m8 0h0m1 0h0m4 0h0m1 0h0m1 0h0m2 0h0m5 0h0m2 0h0m1 0h0m6 0h0m1 0h0m1 0h0m3 0h0M54-77h0m10 0h0m2 0h0m7 0h0m1 0h0m8 0h0M50-78h0m2 0h0m2 0h0m5 0h0m1 0h0m2 0h0m6 0h0m1 0h0m5 0h0m3 0h0m2 0h0m2 0h0M50-79h0m5 0h0m7 0h0m6 0h0m6 0h0m15 0h0M50-80h0m12 0h0m2 0h0m1 0h0m3 0h0m6 0h0m6 0h0m3 0h0m1 0h0m15 0h0M63-81h0m7 0h0m5 0h0m3 0h0m1 0h0m3 0h0m2 0h0m2 0h0m5 0h0m3 0h0m3 0h0m2 0h0M54-82h0m6 0h0m4 0h0m1 0h0m10 0h0m4 0h0m1 0h0m1 0h0m3 0h0m1 0h0m1 0h0m12 0h0m1 0h0M53-83h0m10 0h0m11 0h0m1 0h0m3 0h0m10 0h0m8 0h0m2 0h0M56-84h0m3 0h0m5 0h0m4 0h0m13 0h0m2 0h0m1 0h0m11 0h0M52-85h0m2 0h0m7 0h0m5 0h0m4 0h0m1 0h0m5 0h0m5 0h0m2 0h0m5 0h0M51-86h0m2 0h0m5 0h0m2 0h0m4 0h0m1 0h0m5 0h0m8 0h0m17 0h0m2 0h0m2 0h0M52-87h0m4 0h0m7 0h0m9 0h0m7 0h0m1 0h0m8 0h0M52-88h0m1 0h0m1 0h0m4 0h0m2 0h0m2 0h0m1 0h0m5 0h0m4 0h0m1 0h0m3 0h0m6 0h0m3 0h0m3 0h0m3 0h0m4 0h0m2 0h0M54-89h0m4 0h0m1 0h0m5 0h0m1 0h0m5 0h0m1 0h0m1 0h0m2 0h0m3 0h0m1 0h0m3 0h0m6 0h0m10 0h0M52-90h0m8 0h0m18 0h0m6 0h0m5 0h0M57-91h0m1 0h0m5 0h0m27 0h0m6 0h0m1 0h0M58-92h0m7 0h0m11 0h0m4 0h0m3 0h0m4 0h0m8 0h0m1 0h0m2 0h0M52-93h0m5 0h0m8 0h0m1 0h0m4 0h0m6 0h0m2 0h0m1 0h0m2 0h0m1 0h0m8 0h0M55-94h0m4 0h0m2 0h0m1 0h0m2 0h0m8 0h0m3 0h0m2 0h0m3 0h0m1 0h0m4 0h0m5 0h0m5 0h0m4 0h0M58-95h0m2 0h0m2 0h0m3 0h0m1 0h0m1 0h0m6 0h0m1 0h0m19 0h0m2 0h0M65-96h0m1 0h0m1 0h0m1 0h0m6 0h0m3 0h0m1 0h0m9 0h0m2 0h0m3 0h0m4 0h0M64-97h0m3 0h0m2 0h0m1 0h0m1 0h0m2 0h0m2 0h0m4 0h0m2 0h0m3 0h0m3 0h0m5 0h0m3 0h0m2 0h0m2 0h0M53-98h0m3 0h0m6 0h0m1 0h0m3 0h0m1 0h0m11 0h0m2 0h0m1 0h0m2 0h0m4 0h0m5 0h0m1 0h0m1 0h0m2 0h0M53-99h0m1 0h0m1 0h0m3 0h0m2 0h0m3 0h0m12 0h0m3 0h0m2 0h0m2 0h0m10 0h0m6 0h0M100-100h0m1 0h0m2 0h0m2 0h0m3 0h0m7 0h0m7 0h0m1 0h0m2 0h0m4 0h0m5 0h0m1 0h0m1 0h0m2 0h0m7 0h0M102-101h0m2 0h0m1 0h0m1 0h0m10 0h0m1 0h0m5 0h0m1 0h0m2 0h0m9 0h0m9 0h0M100-102h0m5 0h0m1 0h0m4 0h0m1 0h0m11 0h0m2 0h0m2 0h0m7 0h0m12 0h0m2 0h0M110-103h0m1 0h0m5 0h0m1 0h0m1 0h0m7 0h0m1 0h0m1 0h0m10 0h0m3 0h0m1 0h0m4 0h0m1 0h0M106-104h0m13 0h0m7 0h0m4 0h0m2 0h0m1 0h0m9 0h0m2 0h0M104-105h0m1 0h0m2 0h0m7 0h0m18 0h0m6 0h0m1 0h0m5 0h0m2 0h0M105-106h0m2 0h0m3 0h0m1 0h0m1 0h0m9 0h0m1 0h0m6 0h0m1 0h0m9 0h0m5 0h0m6 0h0M101-107h0m1 0h0m4 0h0m9 0h0m5 0h0m1 0h0m2 0h0m9 0h0m6 0h0m1 0h0m3 0h0m4 0h0M106-108h0m1 0h0m5 0h0m5 0h0m16 0h0m1 0h0m1 0h0M100-109h0m1 0h0m2 0h0m13 0h0m5 0h0m5 0h0m1 0h0m1 0h0m1 0h0m15 0h0M100-110h0m1 0h0m12 0h0m4 0h0m1 0h0m16 0h0m7 0h0m4 0h0m3 0h0M101-111h0m4 0h0m3 0h0m11 0h0m1 0h0m3 0h0m2 0h0m7 0h0m13 0h0m3 0h0M113-112h0m4 0h0m4 0h0m1 0h0m3 0h0m5 0h0m2 0h0m6 0h0m4 0h0m1 0h0m2 0h0m3 0h0M102-113h0m2 0h0m5 0h0m9 0h0m1 0h0m2 0h0m3 0h0m2 0h0m5 0h0m5 0h0m5 0h0m1 0h0m3 0h0m1 0h0M100-114h0m1 0h0m15 0h0m4 0h0m8 0h0m4 0h0m5 0h0m6 0h0m3 0h0m1 0h0M106-115h0m7 0h0m2 0h0m2 0h0m4 0h0m20 0h0M105-116h0m11 0h0m5 0h0m2 0h0m3 0h0m13 0h0M106-117h0m1 0h0m5 0h0m3 0h0m7 0h0m12 0h0m3 0h0m3 0h0m1 0h0m3 0h0M114-118h0m3 0h0m3 0h0m3 0h0m5 0h0m8 0h0m2 0h0m4 0h0m5 0h0m1 0h0M107-119h0m4 0h0m4 0h0m1 0h0m7 0h0m3 0h0m2 0h0m2 0h0m5 0h0m6 0h0M104-120h0m5 0h0m6 0h0m6 0h0m4 0h0m17 0h0m2 0h0m2 0h0M104-121h0m4 0h0m3 0h0m6 0h0m1 0h0m3 0h0m3 0h0m9 0h0m3 0h0m1 0h0m4 0h0m8 0h0M105-122h0m1 0h0m5 0h0m3 0h0m4 0h0m7 0h0m5 0h0m8 0h0m1 0h0m4 0h0m1 0h0m2 0h0M104-123h0m1 0h0m2 0h0m2 0h0m1 0h0m5 0h0m1 0h0m11 0h0m3 0h0m1 0h0m1 0h0m3 0h0m2 0h0m1 0h0m7 0h0m2 0h0M106-124h0m5 0h0m1 0h0m3 0h0m33 0h0M101-125h0m7 0h0m4 0h0m6 0h0m1 0h0m4 0h0m1 0h0m3 0h0m3 0h0m16 0h0M101-126h0m2 0h0m3 0h0m4 0h0m1 0h0m1 0h0m11 0h0m3 0h0m3 0h0m2 0h0m3 0h0m7 0h0m4 0h0m4 0h0M100-127h0m6 0h0m7 0h0m2 0h0m3 0h0m2 0h0m5 0h0m5 0h0m3 0h0m6 0h0m4 0h0m3 0h0M101-128h0m1 0h0m5 0h0m2 0h0m6 0h0m16 0h0m1 0h0m8 0h0m8 0h0M121-129h0m1 0h0m2 0h0m1 0h0m4 0h0m5 0h0m5 0h0m1 0h0m5 0h0M125-130h0m4 0h0m6 0h0m9 0h0m2 0h0M106-131h0m3 0h0m1 0h0m5 0h0m7 0h0m6 0h0m4 0h0m1 0h0m4 0h0m6 0h0m5 0h0m1 0h0M105-132h0m1 0h0m5 0h0m7 0h0m8 0h0m18 0h0M100-133h0m5 0h0m8 0h0m2 0h0m2 0h0m3 0h0m5 0h0m6 0h0m8 0h0m2 0h0m6 0h0m1 0h0m1 0h0M105-134h0m5 0h0m7 0h0m1 0h0m4 0h0m3 0h0m1 0h0m6 0h0m4 0h0m6 0h0m6 0h0M107-135h0m2 0h0m4 0h0m4 0h0m7 0h0m12 0h0M100-136h0m7 0h0m2 0h0m10 0h0m4 0h0m3 0h0m1 0h0m1 0h0M100-137h0m2 0h0m1 0h0m2 0h0m3 0h0m5 0h0m1 0h0m3 0h0m1 0h0m2 0h0m2 0h0m7 0h0m4 0h0m1 0h0m2 0h0m1 0h0m6 0h0M103-138h0m6 0h0m2 0h0m4 0h0m5 0h0m3 0h0m7 0h0m7 0h0m2 0h0m1 0h0m1 0h0m2 0h0m6 0h0M111-139h0m1 0h0m2 0h0m6 0h0m1 0h0m4 0h0m3 0h0m6 0h0m5 0h0m1 0h0m4 0h0m2 0h0M102-140h0m4 0h0m6 0h0m9 0h0m13 0h0m7 0h0m1 0h0m5 0h0M100-141h0m3 0h0m4 0h0m1 0h0m1 0h0m9 0h0m10 0h0m8 0h0m7 0h0m2 0h0m2 0h0M126-142h0m5 0h0m1 0h0m4 0h0m4 0h0M100-143h0m9 0h0m7 0h0m1 0h0m8 0h0m7 0h0m14 0h0M105-144h0m2 0h0m1 0h0m3 0h0m13 0h0m1 0h0m9 0h0m6 0h0m6 0h0M101-145h0m3 0h0m1 0h0m9 0h0m1 0h0m2 0h0m2 0h0m1 0h0m1 0h0m3 0h0m2 0h0m7 0h0m5 0h0m2 0h0m2 0h0m1 0h0m5 0h0M100-146h0m5 0h0m2 0h0m16 0h0m2 0h0m3 0h0m10 0h0m3 0h0M105-147h0m2 0h0m8 0h0m1 0h0m3 0h0m2 0h0m2 0h0m3 0h0m6 0h0m6 0h0m2 0h0M111-148h0m6 0h0m2 0h0m17 0h0m7 0h0m3 0h0M100-149h0m10 0h0m2 0h0m14 0h0m2 0h0m4 0h0m1 0h0m1 0h0m1 0h0m2 0h0m2 0h0m3 0h0m1 0h0m1 0h0m2 0h0M167-150h0m1 0h0m9 0h0m2 0h0m4 0h0m2 0h0m1 0h0m1 0h0M151-151h0m8 0h0m1 0h0m2 0h0m4 0h0m5 0h0m5 0h0m11 0h0m4 0h0m3 0h0m1 0h0M151-152h0m7 0h0m10 0h0m4 0h0m3 0h0m8 0h0m4 0h0m1 0h0m7 0h0m3 0h0M152-153h0m5 0h0m4 0h0m5 0h0m2 0h0m5 0h0m4 0h0m7 0h0m9 0h0m1 0h0m1 0h0m3 0h0M151-154h0m1 0h0m3 0h0m3 0h0m10 0h0m9 0h0m2 0h0m6 0h0M157-155h0m7 0h0m9 0h0m1 0h0m11 0h0M152-156h0m7 0h0m1 0h0m9 0h0m1 0h0m12 0h0m11 0h0m4 0h0m1 0h0M153-157h0m1 0h0m3 0h0m2 0h0m9 0h0m2 0h0m7 0h0m2 0h0m2 0h0m3 0h0m1 0h0m2 0h0m1 0h0m4 0h0m7 0h0M164-158h0m5 0h0m2 0h0m4 0h0m1 0h0m2 0h0m3 0h0m1 0h0m2 0h0m4 0h0m7 0h0M151-159h0m4 0h0m3 0h0m3 0h0m7 0h0m4 0h0m3 0h0m5 0h0m10 0h0m3 0h0m3 0h0M152-160h0m11 0h0m4 0h0m2 0h0m2 0h0m3 0h0m8 0h0m2 0h0m3 0h0m4 0h0M152-161h0m1 0h0m2 0h0m10 0h0m3 0h0m9 0h0m4 0h0M153-162h0m4 0h0m3 0h0m13 0h0m2 0h0m10 0h0m2 0h0m4 0h0m3 0h0m2 0h0M152-163h0m6 0h0m2 0h0m13 0h0m3 0h0m13 0h0m1 0h0m7 0h0m2 0h0M154-164h0m7 0h0m2 0h0m3 0h0m3 0h0m3 0h0m5 0h0m9 0h0m6 0h0m4 0h0m2 0h0M150-165h0m11 0h0m7 0h0m1 0h0m7 0h0m5 0h0m1 0h0m5 0h0m3 0h0m2 0h0M152-166h0m17 0h0m7 0h0m4 0h0m7 0h0m7 0h0m1 0h0M150-167h0m3 0h0m5 0h0m5 0h0m2 0h0m1 0h0m7 0h0m5 0h0m2 0h0m9 0h0m8 0h0M150-168h0m7 0h0m13 0h0m2 0h0m3 0h0m8 0h0m8 0h0m7 0h0M168-169h0m2 0h0m2 0h0m3 0h0m11 0h0m1 0h0m8 0h0m3 0h0M159-170h0m1 0h0m1 0h0m4 0h0m4 0h0m6 0h0m15 0h0m2 0h0m3 0h0m3 0h0M151-171h0m2 0h0m1 0h0m3 0h0m3 0h0m1 0h0m3 0h0m3 0h0m7 0h0m1 0h0m14 0h0m1 0h0m3 0h0M164-172h0m7 0h0m3 0h0m4 0h0m2 0h0m2 0h0m5 0h0m10 0h0m2 0h0M154-173h0m4 0h0m8 0h0m1 0h0m3 0h0m14 0h0m4 0h0m9 0h0M153-174h0m2 0h0m2 0h0m2 0h0m12 0h0m5 0h0m1 0h0m4 0h0m4 0h0m10 0h0m3 0h0M165-175h0m14 0h0m4 0h0m1 0h0m5 0h0m1 0h0m4 0h0M156-176h0m2 0h0m2 0h0m5 0h0m6 0h0m3 0h0m4 0h0m1 0h0m2 0h0m4 0h0m11 0h0M151-177h0m1 0h0m1 0h0m1 0h0m1 0h0m1 0h0m2 0h0m5 0h0m2 0h0m2 0h0m2 0h0m3 0h0m5 0h0m5 0h0m2 0h0m6 0h0m1 0h0m8 0h0M151-178h0m11 0h0m2 0h0m8 0h0m7 0h0m4 0h0m1 0h0m1 0h0m3 0h0m1 0h0m6 0h0m1 0h0m1 0h0m1 0h0M150-179h0m5 0h0m2 0h0m6 0h0m6 0h0m2 0h0m3 0h0m3 0h0m14 0h0m4 0h0m4 0h0M151-180h0m1 0h0m4 0h0m7 0h0m1 0h0m21 0h0m7 0h0M150-181h0m1 0h0m4 0h0m8 0h0m11 0h0m4 0h0m11 0h0m2 0h0m2 0h0m6 0h0M150-182h0m3 0h0m7 0h0m8 0h0m7 0h0m1 0h0m1 0h0m13 0h0m1 0h0m1 0h0M152-183h0m2 0h0m7 0h0m14 0h0m4 0h0m7 0h0m2 0h0M156-184h0m1 0h0m1 0h0m6 0h0m7 0h0m3 0h0m1 0h0m8 0h0m14 0h0m2 0h0M152-185h0m2 0h0m1 0h0m1 0h0m5 0h0m2 0h0m5 0h0m4 0h0m8 0h0m2 0h0m1 0h0m4 0h0m1 0h0M150-186h0m10 0h0m3 0h0m3 0h0m3 0h0m1 0h0m5 0h0m6 0h0m7 0h0m1 0h0m1 0h0m4 0h0m1 0h0m3 0h0M150-187h0m6 0h0m4 0h0m10 0h0m6 0h0m5 0h0m1 0h0m3 0h0m4 0h0m2 0h0m4 0h0M152-188h0m1 0h0m1 0h0m1 0h0m3 0h0m8 0h0m6 0h0m1 0h0m1 0h0m2 0h0m1 0h0m14 0h0m3 0h0m1 0h0M150-189h0m1 0h0m10 0h0m9 0h0m2 0h0m2 0h0m4 0h0m6 0h0m2 0h0m2 0h0m1 0h0m3 0h0m1 0h0m2 0h0M151-190h0m2 0h0m9 0h0m6 0h0m1 0h0m6 0h0m1 0h0m6 0h0m2 0h0m10 0h0m2 0h0M150-191h0m4 0h0m1 0h0m3 0h0m2 0h0m18 0h0m11 0h0m1 0h0m3 0h0m1 0h0m5 0h0M151-192h0m1 0h0m1 0h0m3 0h0m6 0h0m4 0h0m1 0h0m3 0h0m5 0h0m14 0h0m5 0h0M151-193h0m7 0h0m2 0h0m8 0h0m1 0h0m1 0h0m8 0h0m3 0h0m5 0h0m4 0h0m1 0h0m7 0h0M152-194h0m6 0h0m3 0h0m3 0h0m7 0h0M153-195h0m9 0h0m5 0h0m8 0h0m6 0h0m5 0h0m9 0h0m2 0h0M155-196h0m2 0h0m3 0h0m1 0h0m5 0h0m5 0h0m18 0h0m2 0h0M154-197h0m2 0h0m12 0h0m8 0h0m5 0h0m1 0h0m3 0h0m1 0h0m8 0h0m4 0h0M154-198h0m1 0h0m3 0h0m9 0h0m7 0h0m8 0h0m4 0h0m6 0h0m4 0h0M150-199h0m4 0h0m1 0h0m5 0h0m7 0h0m2 0h0m1 0h0m1 0h0m1 0h0m1 0h0m6 0h0m2 0h0m2 0h0m9 0h0m6 0h0"/><path stroke="#333" d="M17 0h0m9 0h0m1 0h0m8 0h0m1 0h0m3 0h0M4-1h0m2 0h0m3 0h0m2 0h0m17 0h0m5 0h0m2 0h0m3 0h0m10 0h0M8-2h0m9 0h0m2 0h0m3 0h0m3 0h0m1 0h0m4 0h0m9 0h0m2 0h0M3-3h0m1 0h0m6 0h0m10 0h0m1 0h0m5 0h0m9 0h0m13 0h0m1 0h0M8-4h0m10 0h0m8 0h0m2 0h0m7 0h0m1 0h0m6 0h0M4-5h0m1 0h0m6 0h0m2 0h0m25 0h0M1-6h0m3 0h0m1 0h0m5 0h0m3 0h0m15 0h0m3 0h0m2 0h0m4 0h0m1 0h0m1 0h0m10 0h0M9-7h0m5 0h0m6 0h0m2 0h0m5 0h0m2 0h0m9 0h0m9 0h0m2 0h0M0-8h0m1 0h0m6 0h0m5 0h0m2 0h0m1 0h0m2 0h0m6 0h0m1 0h0m5 0h0m6 0h0m6 0h0m5 0h0M3-9h0m9 0h0m2 0h0m12 0h0m9 0h0m4 0h0m8 0h0M7-10h0m9 0h0m9 0h0m1 0h0m1 0h0m12 0h0m4 0h0M14-11h0m7 0h0m12 0h0m2 0h0m7 0h0M1-12h0m15 0h0m2 0h0m3 0h0m11 0h0m11 0h0M3-13h0m14 0h0m11 0h0m10 0h0m2 0h0m3 0h0m3 0h0m1 0h0m1 0h0M16-14h0m8 0h0m3 0h0m5 0h0m8 0h0m5 0h0m4 0h0M5-15h0m2 0h0m2 0h0m9 0h0m29 0h0M0-16h0m12 0h0m1 0h0m1 0h0m1 0h0m5 0h0m1 0h0m2 0h0m1 0h0m6 0h0m1 0h0m8 0h0m4 0h0m5 0h0M7-17h0m3 0h0m9 0h0m2 0h0m11 0h0m2 0h0m1 0h0m3 0h0m10 0h0m1 0h0M1-18h0m3 0h0m8 0h0m12 0h0m7 0h0m14 0h0M2-19h0m6 0h0m20 0h0m8 0h0m1 0h0m1 0h0m9 0h0M1-20h0m12 0h0m6 0h0m3 0h0m10 0h0m8 0h0M1-21h0m8 0h0m2 0h0m1 0h0m7 0h0m6 0h0m1 0h0m9 0h0m3 0h0m6 0h0m3 0h0m2 0h0M14-22h0m19 0h0m10 0h0m4 0h0M2-23h0m5 0h0m4 0h0m1 0h0m5 0h0m21 0h0m3 0h0m2 0h0m1 0h0m3 0h0m1 0h0M4-24h0m12 0h0m5 0h0m1 0h0m1 0h0m4 0h0m6 0h0m2 0h0m7 0h0M3-25h0m5 0h0m3 0h0m4 0h0m8 0h0m8 0h0m3 0h0m1 0h0m1 0h0m7 0h0m2 0h0m3 0h0M4-26h0m11 0h0m2 0h0m6 0h0m1 0h0m2 0h0m23 0h0M7-27h0m1 0h0m5 0h0m2 0h0m3 0h0m10 0h0m8 0h0m5 0h0m4 0h0M0-28h0m5 0h0m16 0h0m1 0h0m2 0h0m2 0h0m1 0h0m1 0h0m8 0h0m3 0h0M8-29h0m1 0h0m2 0h0m9 0h0m3 0h0m3 0h0m4 0h0m1 0h0M3-30h0m2 0h0m6 0h0m18 0h0m18 0h0M1-31h0m18 0h0m6 0h0m10 0h0m7 0h0m5 0h0m2 0h0M6-32h0m7 0h0m6 0h0m7 0h0m15 0h0m4 0h0m4 0h0M1-33h0m3 0h0m2 0h0m5 0h0m7 0h0m10 0h0m3 0h0m4 0h0m4 0h0M3-34h0m15 0h0m10 0h0M6-35h0m4 0h0m3 0h0m7 0h0m1 0h0m13 0h0m7 0h0m2 0h0m2 0h0M4-36h0m17 0h0m2 0h0m6 0h0M0-37h0m11 0h0m3 0h0m2 0h0m3 0h0m2 0h0m5 0h0m3 0h0m4 0h0m2 0h0m3 0h0m7 0h0M0-38h0m1 0h0m6 0h0m1 0h0m7 0h0m4 0h0m7 0h0m2 0h0m1 0h0m1 0h0m2 0h0m2 0h0m6 0h0m1 0h0m5 0h0M0-39h0m3 0h0m1 0h0m3 0h0m2 0h0m12 0h0m5 0h0m14 0h0m2 0h0M8-40h0m21 0h0m1 0h0m1 0h0m2 0h0m8 0h0M9-41h0m1 0h0m4 0h0m1 0h0m1 0h0m1 0h0m1 0h0m6 0h0m1 0h0m1 0h0m7 0h0m3 0h0m2 0h0m1 0h0m1 0h0M2-42h0m3 0h0m18 0h0m1 0h0m6 0h0m1 0h0m3 0h0m4 0h0m3 0h0M4-43h0m2 0h0m20 0h0m13 0h0m1 0h0M5-44h0m2 0h0m9 0h0m3 0h0m16 0h0m7 0h0m5 0h0m2 0h0M1-45h0m7 0h0m4 0h0m1 0h0m7 0h0m7 0h0m2 0h0M1-46h0m6 0h0m2 0h0m1 0h0m12 0h0m12 0h0m3 0h0m3 0h0M0-47h0m5 0h0m9 0h0m2 0h0m6 0h0m26 0h0M4-48h0m2 0h0m3 0h0m3 0h0m2 0h0m1 0h0m11 0h0m2 0h0m2 0h0m1 0h0m6 0h0m1 0h0m5 0h0m2 0h0M0-49h0m2 0h0m6 0h0m4 0h0m5 0h0m3 0h0m12 0h0m3 0h0m1 0h0m4 0h0m5 0h0m1 0h0m2 0h0M53-50h0m5 0h0m15 0h0m1 0h0m4 0h0m9 0h0m7 0h0M53-51h0m4 0h0m8 0h0m13 0h0m10 0h0m8 0h0M50-52h0m2 0h0m2 0h0m3 0h0m12 0h0m1 0h0m5 0h0m4 0h0m4 0h0m4 0h0m10 0h0m1 0h0M50-53h0m7 0h0m6 0h0m1 0h0m6 0h0m6 0h0m5 0h0m3 0h0m10 0h0M56-54h0m3 0h0m11 0h0m8 0h0m15 0h0m1 0h0m3 0h0M58-55h0m1 0h0m6 0h0m17 0h0m6 0h0m10 0h0m1 0h0M52-56h0m2 0h0m3 0h0m26 0h0m3 0h0m8 0h0M51-57h0m18 0h0m3 0h0m5 0h0m4 0h0m1 0h0M54-58h0m8 0h0m2 0h0m6 0h0m7 0h0m8 0h0m3 0h0M59-59h0m2 0h0m1 0h0m1 0h0m7 0h0m5 0h0m4 0h0m6 0h0m5 0h0M51-60h0m4 0h0m2 0h0m7 0h0m3 0h0m18 0h0m5 0h0M50-61h0m4 0h0m18 0h0m8 0h0m12 0h0m3 0h0M55-62h0m4 0h0m1 0h0m13 0h0m6 0h0m10 0h0M53-63h0m1 0h0m6 0h0m1 0h0m6 0h0m11 0h0m5 0h0m6 0h0m4 0h0m3 0h0M52-64h0m9 0h0m4 0h0m9 0h0m9 0h0m4 0h0m5 0h0m5 0h0M51-65h0m1 0h0m7 0h0m3 0h0m6 0h0m7 0h0m2 0h0m3 0h0m3 0h0m1 0h0m14 0h0M50-66h0m10 0h0m7 0h0m2 0h0m7 0h0m8 0h0m1 0h0m3 0h0m3 0h0m2 0h0M50-67h0m13 0h0m4 0h0m1 0h0m8 0h0m10 0h0m4 0h0M50-68h0m2 0h0m2 0h0m14 0h0m5 0h0m1 0h0m1 0h0m2 0h0m6 0h0m8 0h0m4 0h0M54-69h0m1 0h0m7 0h0m2 0h0m8 0h0m3 0h0m2 0h0m3 0h0m1 0h0m3 0h0m9 0h0m5 0h0M51-70h0m5 0h0m2 0h0m1 0h0m11 0h0m3 0h0m1 0h0m2 0h0m2 0h0m4 0h0m5 0h0m4 0h0M50-71h0m3 0h0m2 0h0m6 0h0m4 0h0m25 0h0m2 0h0m6 0h0M55-72h0m10 0h0m2 0h0m4 0h0m8 0h0m1 0h0m6 0h0m1 0h0m3 0h0m2 0h0m3 0h0m3 0h0M58-73h0m1 0h0m4 0h0m2 0h0m2 0h0m10 0h0m11 0h0m1 0h0m7 0h0M53-74h0m3 0h0m11 0h0m31 0h0M50-75h0m7 0h0m4 0h0m15 0h0m2 0h0m5 0h0m13 0h0m2 0h0M55-76h0m8 0h0m20 0h0m11 0h0m4 0h0M50-77h0m22 0h0m6 0h0m1 0h0m5 0h0m4 0h0m1 0h0M51-78h0m14 0h0m6 0h0m18 0h0m2 0h0m8 0h0M53-79h0m1 0h0m3 0h0m4 0h0m2 0h0m4 0h0m3 0h0m1 0h0m7 0h0m2 0h0m1 0h0m7 0h0m3 0h0m6 0h0m2 0h0M52-80h0m1 0h0m2 0h0m12 0h0m4 0h0m4 0h0m1 0h0m11 0h0m1 0h0m2 0h0m4 0h0M50-81h0m2 0h0m12 0h0m9 0h0m7 0h0m10 0h0m3 0h0m3 0h0m2 0h0M51-82h0m2 0h0m3 0h0m5 0h0m2 0h0m4 0h0m1 0h0m6 0h0m2 0h0m11 0h0m1 0h0m2 0h0m1 0h0m3 0h0M52-83h0m6 0h0m11 0h0m7 0h0m1 0h0m5 0h0m12 0h0M50-84h0m11 0h0m1 0h0m4 0h0m5 0h0m19 0h0m4 0h0m4 0h0M51-85h0m7 0h0m1 0h0m4 0h0m6 0h0m6 0h0m3 0h0m1 0h0m3 0h0m4 0h0M52-86h0m4 0h0m3 0h0m3 0h0m5 0h0m2 0h0m4 0h0m6 0h0m2 0h0m4 0h0m9 0h0M50-87h0m4 0h0m20 0h0m3 0h0m8 0h0m11 0h0m3 0h0M61-88h0m9 0h0m10 0h0m4 0h0m5 0h0m4 0h0m6 0h0M56-89h0m10 0h0m2 0h0m17 0h0m7 0h0m3 0h0M59-90h0m8 0h0m27 0h0M62-91h0m3 0h0m2 0h0m5 0h0m3 0h0M59-92h0m3 0h0m5 0h0m4 0h0m4 0h0m4 0h0m6 0h0m1 0h0m3 0h0M54-93h0m2 0h0m3 0h0m1 0h0m2 0h0m7 0h0m3 0h0m2 0h0m9 0h0m2 0h0m1 0h0m1 0h0m1 0h0m1 0h0m4 0h0m2 0h0m4 0h0M51-94h0m1 0h0m4 0h0M52-95h0m4 0h0m7 0h0m1 0h0m4 0h0m4 0h0m3 0h0m2 0h0m1 0h0m3 0h0M50-96h0m2 0h0m11 0h0m34 0h0m1 0h0M51-97h0m1 0h0m7 0h0m3 0h0m10 0h0m8 0h0m14 0h0M51-98h0m3 0h0m4 0h0m1 0h0m1 0h0m4 0h0m5 0h0m19 0h0m10 0h0M50-99h0m2 0h0m15 0h0m5 0h0m1 0h0m6 0h0m5 0h0m3 0h0m4 0h0m6 0h0M111-100h0m5 0h0m11 0h0m1 0h0m3 0h0m1 0h0m7 0h0M101-101h0m7 0h0m2 0h0m1 0h0m2 0h0m1 0h0m4 0h0m8 0h0m1 0h0m3 0h0m6 0h0m1 0h0m1 0h0m1 0h0m1 0h0m2 0h0m4 0h0m3 0h0M101-102h0m12 0h0m2 0h0m10 0h0m10 0h0m3 0h0m8 0h0m3 0h0M101-103h0m11 0h0m10 0h0m1 0h0m13 0h0m7 0h0m5 0h0M104-104h0m1 0h0m5 0h0m4 0h0m1 0h0m1 0h0m27 0h0m2 0h0m3 0h0M125-105h0m1 0h0m3 0h0m5 0h0M104-106h0m2 0h0m3 0h0m8 0h0m2 0h0m4 0h0m2 0h0m6 0h0m1 0h0m4 0h0m1 0h0M108-107h0m1 0h0m20 0h0m2 0h0m9 0h0m3 0h0m1 0h0m1 0h0M128-108h0m8 0h0m1 0h0m6 0h0m4 0h0m2 0h0M104-109h0m2 0h0m3 0h0m10 0h0m12 0h0m10 0h0m4 0h0m4 0h0M102-110h0m1 0h0m3 0h0m6 0h0m2 0h0m5 0h0m3 0h0m1 0h0m5 0h0m2 0h0m2 0h0m4 0h0m3 0h0M104-111h0m3 0h0m11 0h0m11 0h0M107-112h0m2 0h0m1 0h0m4 0h0m6 0h0m3 0h0m5 0h0m1 0h0m5 0h0m7 0h0M100-113h0m5 0h0m2 0h0m10 0h0m5 0h0m3 0h0m7 0h0m11 0h0m5 0h0M102-114h0m1 0h0m14 0h0m1 0h0m4 0h0m1 0h0m3 0h0m8 0h0m5 0h0M101-115h0m19 0h0m11 0h0m3 0h0m11 0h0m4 0h0M135-116h0m1 0h0m5 0h0M100-117h0m4 0h0m6 0h0m1 0h0m9 0h0m4 0h0m15 0h0M101-118h0m1 0h0m1 0h0m3 0h0m2 0h0m4 0h0m1 0h0m3 0h0m2 0h0m3 0h0m8 0h0m3 0h0m3 0h0m2 0h0M100-119h0m2 0h0m2 0h0m10 0h0m5 0h0m12 0h0m7 0h0M101-120h0m4 0h0m2 0h0m4 0h0m2 0h0m4 0h0m1 0h0m5 0h0m1 0h0m6 0h0m8 0h0m10 0h0M102-121h0m12 0h0m9 0h0m5 0h0m1 0h0m10 0h0m3 0h0m1 0h0m2 0h0M100-122h0m3 0h0m1 0h0m4 0h0m1 0h0m4 0h0m3 0h0m8 0h0m4 0h0m12 0h0m1 0h0m8 0h0M113-123h0m28 0h0m1 0h0m2 0h0M119-124h0m4 0h0m8 0h0m2 0h0m4 0h0m7 0h0M105-125h0m1 0h0m9 0h0m5 0h0m1 0h0m4 0h0m6 0h0m4 0h0m4 0h0m8 0h0M104-126h0m1 0h0m14 0h0m17 0h0m6 0h0m2 0h0M102-127h0m1 0h0m7 0h0m1 0h0m6 0h0m15 0h0m2 0h0m8 0h0m5 0h0m1 0h0M112-128h0m10 0h0m2 0h0m1 0h0m1 0h0m1 0h0m3 0h0m6 0h0m3 0h0m2 0h0m1 0h0m1 0h0M105-129h0m3 0h0m12 0h0m13 0h0m9 0h0m1 0h0m4 0h0m1 0h0M105-130h0m2 0h0m3 0h0m4 0h0m5 0h0m8 0h0m11 0h0m3 0h0m8 0h0M102-131h0m18 0h0m3 0h0m2 0h0m2 0h0m2 0h0m9 0h0m2 0h0m1 0h0m4 0h0m1 0h0M100-132h0m9 0h0m4 0h0m7 0h0m4 0h0m1 0h0m7 0h0m1 0h0m7 0h0m1 0h0m4 0h0M128-133h0m1 0h0M101-134h0m7 0h0m23 0h0m10 0h0M106-135h0m28 0h0m4 0h0m1 0h0m1 0h0m1 0h0m2 0h0m2 0h0m3 0h0M106-136h0m2 0h0m22 0h0m2 0h0m3 0h0m4 0h0m7 0h0M107-137h0m9 0h0m12 0h0m7 0h0m4 0h0m1 0h0m1 0h0m5 0h0m3 0h0M100-138h0m10 0h0m2 0h0m1 0h0m6 0h0m6 0h0m3 0h0m1 0h0m9 0h0m8 0h0M108-139h0m5 0h0m20 0h0m8 0h0M100-140h0m7 0h0m8 0h0m3 0h0m4 0h0m6 0h0m8 0h0M104-141h0m6 0h0m3 0h0m11 0h0m5 0h0m5 0h0m1 0h0M101-142h0m10 0h0m19 0h0m15 0h0M101-143h0m6 0h0m3 0h0m8 0h0m1 0h0m7 0h0m7 0h0M100-144h0m3 0h0m15 0h0m1 0h0m4 0h0m7 0h0m1 0h0m7 0h0M102-145h0m9 0h0m16 0h0m8 0h0m1 0h0m1 0h0M104-146h0m9 0h0m13 0h0m9 0h0m1 0h0M111-147h0m20 0h0m10 0h0m4 0h0m4 0h0M101-148h0m1 0h0m10 0h0m4 0h0m4 0h0m9 0h0m4 0h0m1 0h0m11 0h0m4 0h0M104-149h0m20 0h0M157-150h0m3 0h0m1 0h0m3 0h0m1 0h0m1 0h0m29 0h0m2 0h0m2 0h0M156-151h0m1 0h0m6 0h0m7 0h0m2 0h0m2 0h0m3 0h0m4 0h0m2 0h0m9 0h0m5 0h0M169-152h0m12 0h0m3 0h0m2 0h0m3 0h0m5 0h0m3 0h0M163-153h0m16 0h0m1 0h0m2 0h0m9 0h0m1 0h0m4 0h0m1 0h0M153-154h0m1 0h0m6 0h0m7 0h0m2 0h0m2 0h0m7 0h0m11 0h0M152-155h0m8 0h0m1 0h0m1 0h0m3 0h0m4 0h0m19 0h0m3 0h0m3 0h0M161-156h0m3 0h0m1 0h0m3 0h0m9 0h0m8 0h0m1 0h0m5 0h0m8 0h0M150-157h0m2 0h0m4 0h0m4 0h0m3 0h0m4 0h0m4 0h0m2 0h0m1 0h0m1 0h0m5 0h0m11 0h0m3 0h0m3 0h0M150-158h0m5 0h0m1 0h0m1 0h0m4 0h0m7 0h0m9 0h0m8 0h0M162-159h0m7 0h0m1 0h0m8 0h0m1 0h0m3 0h0m2 0h0m15 0h0M158-160h0m1 0h0m2 0h0m5 0h0m2 0h0m7 0h0m13 0h0m1 0h0M154-161h0m5 0h0m2 0h0m6 0h0m3 0h0m1 0h0m5 0h0m2 0h0m5 0h0m5 0h0m9 0h0M150-162h0m1 0h0m3 0h0m4 0h0m25 0h0m7 0h0m7 0h0M164-163h0m1 0h0m2 0h0m3 0h0m10 0h0m1 0h0m4 0h0m9 0h0M152-164h0m6 0h0m13 0h0m2 0h0m3 0h0m5 0h0m9 0h0M151-165h0m9 0h0m3 0h0m22 0h0m1 0h0m2 0h0m11 0h0M157-166h0m4 0h0m1 0h0m13 0h0m3 0h0m5 0h0m2 0h0m1 0h0m3 0h0m2 0h0m5 0h0m3 0h0M152-167h0m22 0h0m1 0h0m21 0h0M152-168h0m1 0h0m1 0h0m2 0h0m2 0h0m5 0h0m2 0h0m4 0h0m2 0h0m5 0h0m9 0h0m5 0h0m2 0h0m2 0h0M152-169h0m9 0h0m13 0h0m5 0h0m2 0h0m1 0h0m3 0h0M151-170h0m16 0h0m6 0h0m3 0h0m8 0h0m12 0h0M150-171h0m8 0h0m12 0h0m10 0h0m2 0h0m15 0h0M153-172h0m2 0h0m13 0h0m1 0h0m10 0h0m2 0h0m5 0h0m3 0h0m3 0h0m4 0h0M153-173h0m3 0h0m20 0h0m3 0h0m4 0h0m3 0h0M154-174h0m8 0h0m1 0h0m1 0h0m3 0h0m6 0h0m5 0h0m11 0h0m2 0h0m2 0h0m1 0h0m5 0h0M152-175h0m10 0h0m1 0h0m7 0h0m5 0h0m1 0h0m11 0h0m5 0h0m3 0h0m2 0h0m2 0h0M155-176h0m12 0h0m2 0h0m1 0h0m7 0h0m3 0h0m2 0h0m5 0h0m5 0h0m1 0h0m1 0h0M161-177h0m1 0h0m4 0h0m21 0h0m8 0h0m2 0h0M153-178h0m1 0h0m2 0h0m3 0h0m2 0h0m6 0h0m2 0h0m2 0h0m9 0h0m10 0h0m1 0h0M151-179h0m1 0h0m10 0h0m3 0h0m1 0h0m22 0h0m4 0h0M161-180h0m5 0h0m1 0h0m4 0h0m9 0h0m11 0h0m2 0h0m1 0h0m1 0h0M165-181h0m5 0h0m7 0h0m5 0h0m4 0h0m2 0h0M152-182h0m12 0h0m2 0h0m1 0h0m3 0h0m1 0h0m11 0h0m3 0h0m4 0h0M174-183h0m8 0h0m7 0h0m7 0h0m2 0h0m1 0h0M150-184h0m1 0h0m9 0h0m7 0h0m9 0h0m2 0h0m1 0h0m6 0h0m5 0h0M171-185h0m13 0h0m7 0h0m2 0h0m2 0h0m4 0h0M153-186h0m1 0h0m8 0h0m9 0h0m20 0h0m2 0h0M155-187h0m2 0h0m8 0h0m6 0h0m1 0h0m5 0h0m13 0h0m3 0h0m5 0h0M150-188h0m1 0h0m9 0h0m9 0h0m1 0h0m9 0h0m14 0h0M163-189h0m4 0h0m4 0h0m4 0h0m15 0h0m8 0h0m1 0h0M150-190h0m9 0h0m4 0h0m3 0h0m6 0h0m2 0h0m12 0h0m2 0h0m4 0h0m7 0h0M156-191h0m1 0h0m9 0h0m3 0h0m2 0h0m5 0h0m3 0h0m4 0h0m8 0h0m1 0h0m3 0h0m1 0h0M157-192h0m1 0h0m1 0h0m6 0h0m7 0h0m2 0h0m2 0h0m3 0h0m3 0h0m3 0h0m3 0h0m5 0h0m2 0h0m1 0h0m3 0h0M156-193h0m8 0h0m2 0h0m1 0h0m8 0h0m2 0h0m3 0h0m5 0h0M163-194h0m3 0h0m17 0h0m5 0h0m7 0h0M155-195h0m9 0h0m4 0h0m1 0h0m18 0h0m1 0h0m2 0h0m6 0h0m3 0h0M154-196h0m8 0h0m14 0h0m2 0h0m4 0h0m1 0h0m4 0h0M157-197h0m1 0h0m4 0h0m3 0h0m15 0h0m4 0h0m3 0h0m10 0h0M159-198h0m7 0h0m6 0h0M151-199h0m11 0h0m13 0h0m2 0h0m11 0h0m6 0h0m3 0h0m2 0h0"/><path stroke="#000" d="M2 0h0m3 0h0m2 0h0m1 0h0m1 0h0m1 0h0m1 0h0m7 0h0m4 0h0m15 0h0m6 0h0m3 0h0M2-1h0m8 0h0m7 0h0m1 0h0m1 0h0m1 0h0m1 0h0m3 0h0m1 0h0m1 0h0m5 0h0m3 0h0m3 0h0m4 0h0m1 0h0m1 0h0m3 0h0m1 0h0M0-2h0m3 0h0m2 0h0m2 0h0m3 0h0m6 0h0m5 0h0m2 0h0m1 0h0m5 0h0m8 0h0m3 0h0m2 0h0m4 0h0M0-3h0m1 0h0m4 0h0m2 0h0m4 0h0m3 0h0m2 0h0m3 0h0m3 0h0m2 0h0m1 0h0m3 0h0m2 0h0m8 0h0m6 0h0m3 0h0M7-4h0m3 0h0m3 0h0m2 0h0m1 0h0m1 0h0m2 0h0m12 0h0m2 0h0m1 0h0m3 0h0m9 0h0m3 0h0M3-5h0m4 0h0m1 0h0m2 0h0m4 0h0m4 0h0m4 0h0m2 0h0m6 0h0m6 0h0m4 0h0m1 0h0m1 0h0m2 0h0m5 0h0M7-6h0m2 0h0m3 0h0m2 0h0m3 0h0m1 0h0m3 0h0m1 0h0m4 0h0m4 0h0m2 0h0m2 0h0m1 0h0m5 0h0m2 0h0m2 0h0m2 0h0m2 0h0M0-7h0m4 0h0m3 0h0m1 0h0m4 0h0m9 0h0m4 0h0m3 0h0m8 0h0m4 0h0m6 0h0m2 0h0M4-8h0m4 0h0m2 0h0m6 0h0m3 0h0m1 0h0m10 0h0m2 0h0m1 0h0m3 0h0m1 0h0m2 0h0m6 0h0M2-9h0m3 0h0m5 0h0m1 0h0m4 0h0m2 0h0m8 0h0m3 0h0m1 0h0m1 0h0m1 0h0m1 0h0m1 0h0m3 0h0m2 0h0m6 0h0m4 0h0m1 0h0M0-10h0m2 0h0m2 0h0m5 0h0m1 0h0m2 0h0m7 0h0m9 0h0m4 0h0m14 0h0m1 0h0m2 0h0M4-11h0m1 0h0m3 0h0m2 0h0m1 0h0m2 0h0m4 0h0m12 0h0m9 0h0m1 0h0m1 0h0m3 0h0m5 0h0M0-12h0m2 0h0m12 0h0m3 0h0m3 0h0m3 0h0m1 0h0m3 0h0m3 0h0m4 0h0m1 0h0m1 0h0m1 0h0m1 0h0m1 0h0M0-13h0m7 0h0m1 0h0m2 0h0m1 0h0m2 0h0m1 0h0m6 0h0m11 0h0m3 0h0m1 0h0m2 0h0m2 0h0m2 0h0m3 0h0m5 0h0M2-14h0m2 0h0m1 0h0m1 0h0m1 0h0m3 0h0m5 0h0m5 0h0m3 0h0m5 0h0m9 0h0m1 0h0m1 0h0m3 0h0m1 0h0M1-15h0m1 0h0m6 0h0m2 0h0m4 0h0m10 0h0m1 0h0m4 0h0m3 0h0m1 0h0m1 0h0m2 0h0m6 0h0m1 0h0m1 0h0M3-16h0m1 0h0m1 0h0m5 0h0m6 0h0m2 0h0m4 0h0m3 0h0m3 0h0m4 0h0m4 0h0m13 0h0M3-17h0m1 0h0m1 0h0m3 0h0m1 0h0m2 0h0m2 0h0m3 0h0m1 0h0m1 0h0m7 0h0m1 0h0m2 0h0m3 0h0m6 0h0m2 0h0m3 0h0m2 0h0m2 0h0m1 0h0M2-18h0m1 0h0m4 0h0m1 0h0m1 0h0m1 0h0m1 0h0m10 0h0m1 0h0m1 0h0m7 0h0m5 0h0m1 0h0m1 0h0m3 0h0m3 0h0m6 0h0M0-19h0m1 0h0m3 0h0m1 0h0m1 0h0m1 0h0m4 0h0m1 0h0m2 0h0m12 0h0m5 0h0m1 0h0m3 0h0m5 0h0m2 0h0m4 0h0m2 0h0m1 0h0M0-20h0m2 0h0m2 0h0m3 0h0m1 0h0m1 0h0m1 0h0m7 0h0m3 0h0m6 0h0m1 0h0m2 0h0m2 0h0m2 0h0m1 0h0m3 0h0m11 0h0M6-21h0m1 0h0m1 0h0m2 0h0m3 0h0m2 0h0m1 0h0m1 0h0m1 0h0m4 0h0m12 0h0m5 0h0M3-22h0m1 0h0m2 0h0m4 0h0m1 0h0m2 0h0m2 0h0m3 0h0m1 0h0m4 0h0m5 0h0m1 0h0m1 0h0m1 0h0m10 0h0m4 0h0M0-23h0m3 0h0m2 0h0m1 0h0m2 0h0m6 0h0m2 0h0m4 0h0m1 0h0m4 0h0m2 0h0m1 0h0m2 0h0m1 0h0m2 0h0m4 0h0M2-24h0m5 0h0m2 0h0m1 0h0m2 0h0m3 0h0m3 0h0m12 0h0m1 0h0m8 0h0m4 0h0m1 0h0m1 0h0m1 0h0m1 0h0m2 0h0M7-25h0m7 0h0m3 0h0m2 0h0m6 0h0m15 0h0m9 0h0M8-26h0m2 0h0m2 0h0m6 0h0m4 0h0m3 0h0m6 0h0m6 0h0m1 0h0m2 0h0m1 0h0m2 0h0m1 0h0m1 0h0M1-27h0m1 0h0m2 0h0m1 0h0m1 0h0m3 0h0m1 0h0m1 0h0m6 0h0m2 0h0m6 0h0m1 0h0m7 0h0m5 0h0m5 0h0m1 0h0m3 0h0M3-28h0m11 0h0m2 0h0m13 0h0m1 0h0m7 0h0m3 0h0m1 0h0m8 0h0M4-29h0m6 0h0m4 0h0m3 0h0m7 0h0m1 0h0m2 0h0m1 0h0m9 0h0M2-30h0m6 0h0m5 0h0m1 0h0m1 0h0m1 0h0m1 0h0m6 0h0m8 0h0m2 0h0m6 0h0m3 0h0m3 0h0M5-31h0m1 0h0m3 0h0m7 0h0m5 0h0m8 0h0m1 0h0m2 0h0m9 0h0m2 0h0m2 0h0M0-32h0m7 0h0m9 0h0m1 0h0m6 0h0m7 0h0m5 0h0m3 0h0M0-33h0m2 0h0m7 0h0m1 0h0m2 0h0m2 0h0m5 0h0m1 0h0m3 0h0m4 0h0m2 0h0m1 0h0m3 0h0m1 0h0m6 0h0m3 0h0M0-34h0m5 0h0m2 0h0m5 0h0m2 0h0m3 0h0m3 0h0m3 0h0m2 0h0m14 0h0m4 0h0m2 0h0M0-35h0m2 0h0m10 0h0m4 0h0m3 0h0m4 0h0m1 0h0m7 0h0m16 0h0M5-36h0m3 0h0m1 0h0m6 0h0m3 0h0m2 0h0m4 0h0m4 0h0m7 0h0m8 0h0m3 0h0M6-37h0m3 0h0m6 0h0m13 0h0m11 0h0m1 0h0m1 0h0m3 0h0m2 0h0m2 0h0m1 0h0M2-38h0m1 0h0m2 0h0m4 0h0m3 0h0m10 0h0m1 0h0m4 0h0m11 0h0m6 0h0m4 0h0m1 0h0M2-39h0m3 0h0m6 0h0m3 0h0m4 0h0m2 0h0m3 0h0m7 0h0m4 0h0m1 0h0m1 0h0m3 0h0m2 0h0m4 0h0m1 0h0M1-40h0m1 0h0m2 0h0m1 0h0m2 0h0m4 0h0m1 0h0m3 0h0m2 0h0m10 0h0m10 0h0m1 0h0m1 0h0m8 0h0m2 0h0M1-41h0m3 0h0m1 0h0m17 0h0m5 0h0m2 0h0m12 0h0m2 0h0m5 0h0m1 0h0M3-42h0m4 0h0m3 0h0m2 0h0m7 0h0m1 0h0m12 0h0m3 0h0m2 0h0m2 0h0m9 0h0M0-43h0m7 0h0m4 0h0m1 0h0m4 0h0m3 0h0m3 0h0m9 0h0m2 0h0m2 0h0m2 0h0m7 0h0m2 0h0m1 0h0m1 0h0M0-44h0m1 0h0m2 0h0m1 0h0m2 0h0m3 0h0m1 0h0m1 0h0m2 0h0m1 0h0m3 0h0m1 0h0m9 0h0m1 0h0m1 0h0m1 0h0m2 0h0m2 0h0m7 0h0m5 0h0M0-45h0m4 0h0m3 0h0m3 0h0m1 0h0m4 0h0m1 0h0m5 0h0m1 0h0m2 0h0m4 0h0m3 0h0m3 0h0m3 0h0m1 0h0m1 0h0m1 0h0m1 0h0m5 0h0m2 0h0M3-46h0m1 0h0m4 0h0m5 0h0m2 0h0m1 0h0m2 0h0m3 0h0m4 0h0m4 0h0m6 0h0m3 0h0m3 0h0m5 0h0M1-47h0m3 0h0m3 0h0m3 0h0m1 0h0m7 0h0m6 0h0m6 0h0m2 0h0m2 0h0m1 0h0m1 0h0m2 0h0M0-48h0m11 0h0m5 0h0m8 0h0m10 0h0m10 0h0m2 0h0m3 0h0M3-49h0m1 0h0m2 0h0m1 0h0m6 0h0m2 0h0m1 0h0m2 0h0m1 0h0m4 0h0m4 0h0m1 0h0m1 0h0m9 0h0m4 0h0M50-50h0m1 0h0m13 0h0m2 0h0m1 0h0m1 0h0m4 0h0m3 0h0m4 0h0m1 0h0m1 0h0m1 0h0m1 0h0m3 0h0m2 0h0m1 0h0m6 0h0M51-51h0m7 0h0m2 0h0m4 0h0m3 0h0m7 0h0m2 0h0m1 0h0m2 0h0m1 0h0m3 0h0m3 0h0m3 0h0m2 0h0m8 0h0M51-52h0m4 0h0m4 0h0m4 0h0m4 0h0m1 0h0m4 0h0m5 0h0m1 0h0m4 0h0m2 0h0m7 0h0M56-53h0m2 0h0m4 0h0m3 0h0m7 0h0m2 0h0m6 0h0m6 0h0m2 0h0m1 0h0m7 0h0m2 0h0M51-54h0m1 0h0m1 0h0m1 0h0m1 0h0m5 0h0m1 0h0m1 0h0m11 0h0m4 0h0m8 0h0m4 0h0m2 0h0m4 0h0m1 0h0M52-55h0m3 0h0m1 0h0m1 0h0m6 0h0m3 0h0m1 0h0m6 0h0m1 0h0m6 0h0m4 0h0m1 0h0m4 0h0m1 0h0m1 0h0m2 0h0m3 0h0m1 0h0M50-56h0m1 0h0m2 0h0m2 0h0m4 0h0m1 0h0m1 0h0m2 0h0m4 0h0m3 0h0m2 0h0m1 0h0m2 0h0m1 0h0m3 0h0m1 0h0m2 0h0m11 0h0M55-57h0m7 0h0m8 0h0m5 0h0m3 0h0m1 0h0m12 0h0m8 0h0M51-58h0m2 0h0m6 0h0m1 0h0m16 0h0m2 0h0m1 0h0m1 0h0m6 0h0m3 0h0m1 0h0m3 0h0M50-59h0m4 0h0m4 0h0m10 0h0m5 0h0m3 0h0m4 0h0m2 0h0m4 0h0m1 0h0m1 0h0m7 0h0M50-60h0m2 0h0m2 0h0m5 0h0m2 0h0m4 0h0m1 0h0m2 0h0m1 0h0m2 0h0m1 0h0m3 0h0m1 0h0m5 0h0m6 0h0m8 0h0M53-61h0m2 0h0m1 0h0m1 0h0m6 0h0m4 0h0m6 0h0m1 0h0m1 0h0m3 0h0m7 0h0m5 0h0m9 0h0M50-62h0m1 0h0m5 0h0m1 0h0m5 0h0m2 0h0m2 0h0m3 0h0m2 0h0m9 0h0m1 0h0m1 0h0m2 0h0m6 0h0m3 0h0m2 0h0M52-63h0m4 0h0m2 0h0m1 0h0m3 0h0m2 0h0m2 0h0m6 0h0m1 0h0m4 0h0m3 0h0m2 0h0m6 0h0m6 0h0m1 0h0m4 0h0M51-64h0m7 0h0m9 0h0m1 0h0m4 0h0m3 0h0m4 0h0m2 0h0m10 0h0m2 0h0m1 0h0m1 0h0m4 0h0M54-65h0m7 0h0m4 0h0m1 0h0m5 0h0m3 0h0m8 0h0m3 0h0m1 0h0m3 0h0m5 0h0m1 0h0m4 0h0M53-66h0m2 0h0m16 0h0m18 0h0M56-67h0m13 0h0m2 0h0m4 0h0m7 0h0m11 0h0M56-68h0m2 0h0m2 0h0m1 0h0m9 0h0m1 0h0m1 0h0m4 0h0m4 0h0m1 0h0m5 0h0m1 0h0m1 0h0m6 0h0m2 0h0M52-69h0m6 0h0m7 0h0m3 0h0m3 0h0m7 0h0m8 0h0m4 0h0M50-70h0m5 0h0m5 0h0m1 0h0m1 0h0m1 0h0m1 0h0m2 0h0m5 0h0m9 0h0m5 0h0m5 0h0m7 0h0M54-71h0m5 0h0m5 0h0m3 0h0m3 0h0m5 0h0m2 0h0m1 0h0m5 0h0m1 0h0m2 0h0m1 0h0m1 0h0m1 0h0m2 0h0m3 0h0M52-72h0m1 0h0m7 0h0m4 0h0m6 0h0m5 0h0m7 0h0m1 0h0m1 0h0m10 0h0m5 0h0M56-73h0m8 0h0m2 0h0m8 0h0m4 0h0m3 0h0m1 0h0m3 0h0m5 0h0m1 0h0M55-74h0m2 0h0m2 0h0m2 0h0m1 0h0m10 0h0m3 0h0m3 0h0m1 0h0m2 0h0m2 0h0m1 0h0m2 0h0m13 0h0M54-75h0m1 0h0m1 0h0m3 0h0m13 0h0m10 0h0m4 0h0m2 0h0m4 0h0m7 0h0M50-76h0m1 0h0m11 0h0m8 0h0m2 0h0m4 0h0m3 0h0m1 0h0m6 0h0m1 0h0m2 0h0m1 0h0m9 0h0M55-77h0m3 0h0m1 0h0m2 0h0m7 0h0m1 0h0m2 0h0m5 0h0m1 0h0m8 0h0m2 0h0m3 0h0m1 0h0m1 0h0m3 0h0M56-78h0m1 0h0m6 0h0m1 0h0m8 0h0m1 0h0m3 0h0m6 0h0m1 0h0m1 0h0m1 0h0m12 0h0M60-79h0m5 0h0m1 0h0m7 0h0m2 0h0m1 0h0m9 0h0m1 0h0m1 0h0M51-80h0m3 0h0m2 0h0m1 0h0m1 0h0m3 0h0m2 0h0m6 0h0m3 0h0m5 0h0m2 0h0m2 0h0m5 0h0m3 0h0m4 0h0m2 0h0m2 0h0M56-81h0m12 0h0m4 0h0m4 0h0m1 0h0m6 0h0m6 0h0m6 0h0M50-82h0m5 0h0m2 0h0m2 0h0m10 0h0m2 0h0m2 0h0m5 0h0m5 0h0m9 0h0M54-83h0m2 0h0m6 0h0m4 0h0m6 0h0m7 0h0m2 0h0m6 0h0m5 0h0M52-84h0m11 0h0m2 0h0m8 0h0m2 0h0m4 0h0m12 0h0M50-85h0m7 0h0m3 0h0m5 0h0m15 0h0m5 0h0m6 0h0m1 0h0m1 0h0m6 0h0M57-86h0m4 0h0m5 0h0m5 0h0m1 0h0m4 0h0m1 0h0m5 0h0m1 0h0m1 0h0m3 0h0m9 0h0M57-87h0m8 0h0m22 0h0m3 0h0M50-88h0m6 0h0m1 0h0m7 0h0m3 0h0m4 0h0m3 0h0m1 0h0m2 0h0m1 0h0m1 0h0m2 0h0m9 0h0m4 0h0m2 0h0M52-89h0m1 0h0m2 0h0m5 0h0m1 0h0m2 0h0m4 0h0m6 0h0m6 0h0m3 0h0m1 0h0m1 0h0m4 0h0m1 0h0m2 0h0m2 0h0m1 0h0m2 0h0m2 0h0m1 0h0M56-90h0m19 0h0m4 0h0m12 0h0m7 0h0M51-91h0m2 0h0m6 0h0m1 0h0m4 0h0m2 0h0m5 0h0m3 0h0m6 0h0m1 0h0m3 0h0m3 0h0m5 0h0m3 0h0m4 0h0M55-92h0m5 0h0m3 0h0m3 0h0m2 0h0m2 0h0m2 0h0m2 0h0m4 0h0m4 0h0m2 0h0m4 0h0m2 0h0m1 0h0m1 0h0m2 0h0m5 0h0M51-93h0m2 0h0m11 0h0m4 0h0m3 0h0m9 0h0m14 0h0m3 0h0m1 0h0M54-94h0m3 0h0m1 0h0m5 0h0m5 0h0m1 0h0m1 0h0m3 0h0m1 0h0m4 0h0m4 0h0m1 0h0m3 0h0m2 0h0m8 0h0m1 0h0m1 0h0M53-95h0m23 0h0m3 0h0m4 0h0m1 0h0m1 0h0m4 0h0m2 0h0m1 0h0m6 0h0m1 0h0M51-96h0m4 0h0m1 0h0m2 0h0m1 0h0m1 0h0m1 0h0m10 0h0m4 0h0m6 0h0m2 0h0m3 0h0m2 0h0m2 0h0m1 0h0m3 0h0m1 0h0m4 0h0M50-97h0m5 0h0m1 0h0m2 0h0m7 0h0m9 0h0m2 0h0m1 0h0m5 0h0m1 0h0m2 0h0m1 0h0m3 0h0m4 0h0m5 0h0M57-98h0m13 0h0m1 0h0m3 0h0m2 0h0m1 0h0m9 0h0m4 0h0m1 0h0m4 0h0m2 0h0m2 0h0M51-99h0m5 0h0m3 0h0m2 0h0m5 0h0m2 0h0m2 0h0m1 0h0m3 0h0m2 0h0m5 0h0m5 0h0m3 0h0m1 0h0m3 0h0m2 0h0m4 0h0M102-100h0m2 0h0m2 0h0m1 0h0m3 0h0m2 0h0m9 0h0m5 0h0m7 0h0m7 0h0m3 0h0m3 0h0m1 0h0m1 0h0M112-101h0m7 0h0m10 0h0m2 0h0m2 0h0m8 0h0m3 0h0m3 0h0m1 0h0M103-102h0m4 0h0m7 0h0m4 0h0m3 0h0m6 0h0m1 0h0m1 0h0m2 0h0m1 0h0m4 0h0m1 0h0m2 0h0m4 0h0M106-103h0m3 0h0m4 0h0m15 0h0m3 0h0m3 0h0m13 0h0M101-104h0m1 0h0m5 0h0m1 0h0m3 0h0m10 0h0m2 0h0m2 0h0m3 0h0m1 0h0m2 0h0m6 0h0m9 0h0m3 0h0M108-105h0m2 0h0m2 0h0m1 0h0m4 0h0m1 0h0m1 0h0m1 0h0m1 0h0m2 0h0m13 0h0m1 0h0m4 0h0m4 0h0m2 0h0M100-106h0m1 0h0m13 0h0m1 0h0m9 0h0m2 0h0m1 0h0m6 0h0m6 0h0m1 0h0m2 0h0m2 0h0m1 0h0m2 0h0m1 0h0M100-107h0m3 0h0m2 0h0m2 0h0m3 0h0m6 0h0m3 0h0m3 0h0m2 0h0m1 0h0m3 0h0m5 0h0m1 0h0m2 0h0m1 0h0m11 0h0M100-108h0m3 0h0m1 0h0m6 0h0m3 0h0m1 0h0m1 0h0m3 0h0m2 0h0m1 0h0m2 0h0m1 0h0m2 0h0m3 0h0m1 0h0m8 0h0m2 0h0m1 0h0m1 0h0m2 0h0m2 0h0M102-109h0m5 0h0m4 0h0m1 0h0m3 0h0m2 0h0m3 0h0m10 0h0m2 0h0m1 0h0m1 0h0m2 0h0m2 0h0m1 0h0m3 0h0M105-110h0m2 0h0m1 0h0m1 0h0m6 0h0m1 0h0m5 0h0m3 0h0m3 0h0m2 0h0m8 0h0m1 0h0m4 0h0m1 0h0m1 0h0m3 0h0M100-111h0m3 0h0m3 0h0m3 0h0m1 0h0m1 0h0m1 0h0m1 0h0m1 0h0m1 0h0m1 0h0m5 0h0m9 0h0m4 0h0m2 0h0m3 0h0m1 0h0m1 0h0m1 0h0m1 0h0m3 0h0m3 0h0M105-112h0m1 0h0m2 0h0m3 0h0m1 0h0m4 0h0m8 0h0m12 0h0m11 0h0m2 0h0M101-113h0m5 0h0m2 0h0m2 0h0m1 0h0m2 0h0m1 0h0m6 0h0m7 0h0m1 0h0m5 0h0m2 0h0m3 0h0m1 0h0m5 0h0m5 0h0M105-114h0m3 0h0m1 0h0m1 0h0m5 0h0m6 0h0m3 0h0m1 0h0m2 0h0m2 0h0m6 0h0m1 0h0M100-115h0m9 0h0m3 0h0m2 0h0m2 0h0m2 0h0m8 0h0m2 0h0m2 0h0m3 0h0m2 0h0m2 0h0m1 0h0m1 0h0m5 0h0m2 0h0m2 0h0M103-116h0m3 0h0m3 0h0m1 0h0m3 0h0m2 0h0m2 0h0m2 0h0m1 0h0m2 0h0m8 0h0m4 0h0m3 0h0m3 0h0m4 0h0m1 0h0m2 0h0m1 0h0M101-117h0m12 0h0m6 0h0m4 0h0m2 0h0m2 0h0m1 0h0m2 0h0m5 0h0m8 0h0m3 0h0m2 0h0m1 0h0M100-118h0m4 0h0m3 0h0m8 0h0m4 0h0m3 0h0m2 0h0m10 0h0m10 0h0m2 0h0m3 0h0M108-119h0m10 0h0m3 0h0m3 0h0m5 0h0m3 0h0m5 0h0m2 0h0m1 0h0m2 0h0m7 0h0M100-120h0m2 0h0m1 0h0m9 0h0m4 0h0m3 0h0m7 0h0m1 0h0m9 0h0m7 0h0m2 0h0m2 0h0M106-121h0m1 0h0m3 0h0m2 0h0m1 0h0m6 0h0m1 0h0m7 0h0m4 0h0m16 0h0m1 0h0M102-122h0m18 0h0m2 0h0m1 0h0m3 0h0m3 0h0m2 0h0m1 0h0m2 0h0m3 0h0m5 0h0m5 0h0m1 0h0M101-123h0m1 0h0m6 0h0m4 0h0m2 0h0m5 0h0m2 0h0m1 0h0m4 0h0m2 0h0m11 0h0m1 0h0m8 0h0M104-124h0m4 0h0m2 0h0m3 0h0m7 0h0m7 0h0m7 0h0m1 0h0m1 0h0m9 0h0m2 0h0M102-125h0m1 0h0m1 0h0m3 0h0m4 0h0m3 0h0m8 0h0m6 0h0m1 0h0m3 0h0m1 0h0m1 0h0m2 0h0m1 0h0m1 0h0m2 0h0m4 0h0m5 0h0M100-126h0m2 0h0m13 0h0m2 0h0m1 0h0m2 0h0m7 0h0m10 0h0m11 0h0M101-127h0m7 0h0m4 0h0m9 0h0m1 0h0m1 0h0m1 0h0m2 0h0m1 0h0m2 0h0m2 0h0M100-128h0m3 0h0m8 0h0m2 0h0m1 0h0m2 0h0m1 0h0m4 0h0m13 0h0m12 0h0m1 0h0M100-129h0m1 0h0m1 0h0m9 0h0m1 0h0m5 0h0m1 0h0m1 0h0m4 0h0m3 0h0m1 0h0m3 0h0m2 0h0m3 0h0m1 0h0m2 0h0m3 0h0m3 0h0m2 0h0m3 0h0M100-130h0m1 0h0m5 0h0m2 0h0m5 0h0m2 0h0m2 0h0m4 0h0m1 0h0m8 0h0m2 0h0m5 0h0m6 0h0m2 0h0m2 0h0m1 0h0M100-131h0m1 0h0m6 0h0m5 0h0m4 0h0m1 0h0m2 0h0m2 0h0m10 0h0m5 0h0m8 0h0M102-132h0m5 0h0m1 0h0m2 0h0m12 0h0m7 0h0m18 0h0m1 0h0M103-133h0m6 0h0m1 0h0m1 0h0m1 0h0m2 0h0m4 0h0m3 0h0m1 0h0m11 0h0m5 0h0m2 0h0m4 0h0m1 0h0m1 0h0M100-134h0m2 0h0m5 0h0m2 0h0m2 0h0m1 0h0m1 0h0m3 0h0m8 0h0m6 0h0m3 0h0m5 0h0m2 0h0M101-135h0m1 0h0m6 0h0m2 0h0m5 0h0m3 0h0m3 0h0m7 0h0m2 0h0m1 0h0m2 0h0m4 0h0m7 0h0M102-136h0m3 0h0m7 0h0m1 0h0m1 0h0m2 0h0m2 0h0m2 0h0m2 0h0m3 0h0m6 0h0m3 0h0m3 0h0m4 0h0m2 0h0m2 0h0M101-137h0m3 0h0m2 0h0m3 0h0m2 0h0m1 0h0m7 0h0m2 0h0m2 0h0m1 0h0m2 0h0m1 0h0m11 0h0m6 0h0M104-138h0m1 0h0m1 0h0m1 0h0m10 0h0m1 0h0m9 0h0m7 0h0m10 0h0M100-139h0m1 0h0m1 0h0m1 0h0m1 0h0m6 0h0m6 0h0m1 0h0m2 0h0m3 0h0m2 0h0m18 0h0m3 0h0M105-140h0m4 0h0m1 0h0m3 0h0m3 0h0m4 0h0m4 0h0m1 0h0m10 0h0m4 0h0m6 0h0M102-141h0m10 0h0m4 0h0m1 0h0m2 0h0m2 0h0m4 0h0m6 0h0m1 0h0m5 0h0m1 0h0m1 0h0m5 0h0M100-142h0m2 0h0m2 0h0m9 0h0m4 0h0m4 0h0m2 0h0m2 0h0m3 0h0m1 0h0m4 0h0m5 0h0m3 0h0m2 0h0m3 0h0m1 0h0m1 0h0m1 0h0M102-143h0m3 0h0m6 0h0m1 0h0m1 0h0m1 0h0m6 0h0m2 0h0m8 0h0m1 0h0m3 0h0m5 0h0m1 0h0m2 0h0m3 0h0M104-144h0m8 0h0m1 0h0m1 0h0m3 0h0m4 0h0m1 0h0m10 0h0m1 0h0m4 0h0m4 0h0m4 0h0m2 0h0m1 0h0m1 0h0M100-145h0m7 0h0m2 0h0m3 0h0m1 0h0m5 0h0m7 0h0m3 0h0m3 0h0m1 0h0m2 0h0m7 0h0m3 0h0m1 0h0m2 0h0m2 0h0M101-146h0m1 0h0m4 0h0m4 0h0m9 0h0m2 0h0m3 0h0m3 0h0m4 0h0m1 0h0m2 0h0m3 0h0m2 0h0m3 0h0m3 0h0m1 0h0m1 0h0M102-147h0m6 0h0m2 0h0m8 0h0m4 0h0m2 0h0m3 0h0m2 0h0m1 0h0m3 0h0m1 0h0m3 0h0m2 0h0m4 0h0m1 0h0m2 0h0M100-148h0m6 0h0m7 0h0m9 0h0m6 0h0m3 0h0m1 0h0m3 0h0m6 0h0m7 0h0M101-149h0m5 0h0m1 0h0m1 0h0m1 0h0m5 0h0m1 0h0m1 0h0m2 0h0m2 0h0m3 0h0m4 0h0m2 0h0m1 0h0m6 0h0M150-150h0m4 0h0m1 0h0m1 0h0m3 0h0m3 0h0m1 0h0m8 0h0m9 0h0m1 0h0m3 0h0m7 0h0m1 0h0m1 0h0m5 0h0M150-151h0m2 0h0m1 0h0m1 0h0m1 0h0m3 0h0m3 0h0m4 0h0m2 0h0m2 0h0m4 0h0m2 0h0m3 0h0m1 0h0m1 0h0m2 0h0m4 0h0m3 0h0m4 0h0m3 0h0m3 0h0M150-152h0m5 0h0m4 0h0m7 0h0m1 0h0m3 0h0m3 0h0m1 0h0m3 0h0m13 0h0m1 0h0M151-153h0m4 0h0m4 0h0m3 0h0m2 0h0m3 0h0m4 0h0m1 0h0m4 0h0m2 0h0m7 0h0m4 0h0M156-154h0m1 0h0m5 0h0m3 0h0m1 0h0m6 0h0m8 0h0m4 0h0m2 0h0m6 0h0m3 0h0m4 0h0M156-155h0m11 0h0m1 0h0m2 0h0m2 0h0m3 0h0m4 0h0m3 0h0m1 0h0m4 0h0m5 0h0m3 0h0m1 0h0m2 0h0M154-156h0m1 0h0m1 0h0m2 0h0m8 0h0m7 0h0m5 0h0m1 0h0m4 0h0m1 0h0m4 0h0m1 0h0M151-157h0m4 0h0m3 0h0m3 0h0m3 0h0m1 0h0m1 0h0m3 0h0m7 0h0m6 0h0m11 0h0m2 0h0M159-158h0m6 0h0m1 0h0m1 0h0m3 0h0m2 0h0m2 0h0m13 0h0m2 0h0m1 0h0m2 0h0m6 0h0m1 0h0M157-159h0m2 0h0m7 0h0m5 0h0m3 0h0m3 0h0m11 0h0m1 0h0m3 0h0m2 0h0m1 0h0M150-160h0m1 0h0m2 0h0m1 0h0m1 0h0m1 0h0m1 0h0m3 0h0m4 0h0m1 0h0m5 0h0m2 0h0m1 0h0m5 0h0m2 0h0m10 0h0m4 0h0m1 0h0m3 0h0m1 0h0M157-161h0m3 0h0m2 0h0m1 0h0m6 0h0m5 0h0m10 0h0m5 0h0m1 0h0m3 0h0m1 0h0m1 0h0m1 0h0M152-162h0m3 0h0m8 0h0m7 0h0m4 0h0m2 0h0m2 0h0m4 0h0m6 0h0m4 0h0m1 0h0m5 0h0m1 0h0M153-163h0m2 0h0m2 0h0m2 0h0m2 0h0m2 0h0m3 0h0m2 0h0m1 0h0m2 0h0m1 0h0m10 0h0m13 0h0M151-164h0m4 0h0m2 0h0m18 0h0m4 0h0m6 0h0m3 0h0m5 0h0m4 0h0m2 0h0M155-165h0m2 0h0m1 0h0m9 0h0m3 0h0m1 0h0m2 0h0m1 0h0m5 0h0m4 0h0m1 0h0m7 0h0m2 0h0m1 0h0m1 0h0m3 0h0M153-166h0m1 0h0m1 0h0m1 0h0m2 0h0m6 0h0m2 0h0m1 0h0m1 0h0m3 0h0m3 0h0m3 0h0m11 0h0m2 0h0m7 0h0M160-167h0m9 0h0m8 0h0m15 0h0m7 0h0M155-168h0m4 0h0m1 0h0m7 0h0m7 0h0m3 0h0m3 0h0m4 0h0m4 0h0m1 0h0m7 0h0m1 0h0M150-169h0m1 0h0m2 0h0m1 0h0m2 0h0m2 0h0m2 0h0m2 0h0m1 0h0m3 0h0m12 0h0m5 0h0m6 0h0m2 0h0m2 0h0m4 0h0m2 0h0M152-170h0m1 0h0m4 0h0m1 0h0m6 0h0m2 0h0m4 0h0m1 0h0m7 0h0m8 0h0m1 0h0m1 0h0m1 0h0M162-171h0m6 0h0m1 0h0m7 0h0m2 0h0m1 0h0m6 0h0m1 0h0m1 0h0m5 0h0m7 0h0M150-172h0m1 0h0m5 0h0m2 0h0m1 0h0m3 0h0m3 0h0m2 0h0m3 0h0m2 0h0m1 0h0m3 0h0m7 0h0m2 0h0m3 0h0m2 0h0m1 0h0m2 0h0m1 0h0m1 0h0M150-173h0m1 0h0m4 0h0m4 0h0m6 0h0m4 0h0m2 0h0m1 0h0m2 0h0m3 0h0m3 0h0m1 0h0m4 0h0m2 0h0m3 0h0m1 0h0m2 0h0m1 0h0m4 0h0m1 0h0M150-174h0m2 0h0m6 0h0m2 0h0m8 0h0m2 0h0m2 0h0m2 0h0m9 0h0m1 0h0m2 0h0m10 0h0m1 0h0M153-175h0m1 0h0m3 0h0m3 0h0m1 0h0m3 0h0m2 0h0m2 0h0m1 0h0m2 0h0m10 0h0m1 0h0m3 0h0m8 0h0m5 0h0M151-176h0m1 0h0m1 0h0m1 0h0m3 0h0m2 0h0m3 0h0m1 0h0m5 0h0m7 0h0m1 0h0m10 0h0m2 0h0m9 0h0m2 0h0M150-177h0m7 0h0m7 0h0m4 0h0m2 0h0m1 0h0m3 0h0m1 0h0m5 0h0m1 0h0m4 0h0m1 0h0m6 0h0m1 0h0m1 0h0m4 0h0M150-178h0m2 0h0m3 0h0m3 0h0m7 0h0m1 0h0m4 0h0m3 0h0m1 0h0m1 0h0m1 0h0m1 0h0m1 0h0m4 0h0m4 0h0m1 0h0m5 0h0m1 0h0M153-179h0m5 0h0m1 0h0m11 0h0m3 0h0m2 0h0m1 0h0m5 0h0m1 0h0m3 0h0m4 0h0m1 0h0M150-180h0m10 0h0m12 0h0m6 0h0m1 0h0m2 0h0m1 0h0m1 0h0m1 0h0M154-181h0m2 0h0m2 0h0m3 0h0m6 0h0m4 0h0m1 0h0m1 0h0m2 0h0m1 0h0m3 0h0m1 0h0m1 0h0m6 0h0m3 0h0m2 0h0m3 0h0M154-182h0m3 0h0m1 0h0m1 0h0m3 0h0m1 0h0m2 0h0m7 0h0m1 0h0m1 0h0m4 0h0m1 0h0m4 0h0m3 0h0m2 0h0m7 0h0m1 0h0m2 0h0M150-183h0m3 0h0m3 0h0m2 0h0m1 0h0m4 0h0m1 0h0m1 0h0m1 0h0m2 0h0m3 0h0m1 0h0m1 0h0m5 0h0m2 0h0m4 0h0m1 0h0m6 0h0m2 0h0m2 0h0m2 0h0M152-184h0m1 0h0m6 0h0m2 0h0m1 0h0m3 0h0m12 0h0m3 0h0m6 0h0m1 0h0m2 0h0m2 0h0m3 0h0m1 0h0m1 0h0m2 0h0M150-185h0m1 0h0m8 0h0m1 0h0m5 0h0m2 0h0m2 0h0m9 0h0m7 0h0m4 0h0m1 0h0m2 0h0m4 0h0m1 0h0m1 0h0M152-186h0m3 0h0m3 0h0m1 0h0m2 0h0m4 0h0m2 0h0m1 0h0m6 0h0m2 0h0m1 0h0m8 0h0m1 0h0m6 0h0m5 0h0M151-187h0m1 0h0m1 0h0m1 0h0m7 0h0m1 0h0m4 0h0m1 0h0m2 0h0m4 0h0m2 0h0m4 0h0m1 0h0m3 0h0m1 0h0m3 0h0m1 0h0m8 0h0M159-188h0m2 0h0m1 0h0m1 0h0m2 0h0m6 0h0m9 0h0m1 0h0m1 0h0m1 0h0m1 0h0m2 0h0m3 0h0m8 0h0m1 0h0M154-189h0m1 0h0m13 0h0m8 0h0m3 0h0m3 0h0m5 0h0m4 0h0m3 0h0M152-190h0m2 0h0m1 0h0m1 0h0m1 0h0m1 0h0m2 0h0m5 0h0m8 0h0m4 0h0m1 0h0m2 0h0m1 0h0m6 0h0m3 0h0m1 0h0m2 0h0m2 0h0M152-191h0m7 0h0m4 0h0m1 0h0m8 0h0m1 0h0m2 0h0m5 0h0m5 0h0m1 0h0m12 0h0M150-192h0m10 0h0m3 0h0m1 0h0m9 0h0m4 0h0m4 0h0m3 0h0m2 0h0m4 0h0M154-193h0m3 0h0m5 0h0m3 0h0m9 0h0m2 0h0m12 0h0m1 0h0m3 0h0m3 0h0m1 0h0M150-194h0m1 0h0m2 0h0m4 0h0m8 0h0m2 0h0m2 0h0m1 0h0m3 0h0m4 0h0m1 0h0m3 0h0m4 0h0m1 0h0m4 0h0m1 0h0m6 0h0m1 0h0M151-195h0m1 0h0m2 0h0m2 0h0m2 0h0m2 0h0m1 0h0m2 0h0m2 0h0m1 0h0m4 0h0m1 0h0m1 0h0m1 0h0m7 0h0m2 0h0m1 0h0m1 0h0m1 0h0m7 0h0M150-196h0m1 0h0m2 0h0m5 0h0m1 0h0m4 0h0m1 0h0m1 0h0m2 0h0m1 0h0m1 0h0m4 0h0m4 0h0m2 0h0m5 0h0m2 0h0m9 0h0M153-197h0m2 0h0m5 0h0m1 0h0m3 0h0m3 0h0m4 0h0m2 0h0m5 0h0m11 0h0m1 0h0m6 0h0M151-198h0m1 0h0m9 0h0m1 0h0m3 0h0m5 0h0m3 0h0m2 0h0m1 0h0m1 0h0m1 0h0m2 0h0m7 0h0m2 0h0m1 0h0m1 0h0m7 0h0M152-199h0m5 0h0m1 0h0m1 0h0m4 0h0m17 0h0m5 0h0m1 0h0m4 0h0m3 0h0"/>
</g></g>
<rect x="762.6" y="878.5" width="502.7" height="503.2" fill="none" stroke="#000" stroke-width="2.8"/>
<path fill="none" stroke="#000" stroke-width="2.8" d="M785.3 1383.1v12M1243 1383.1v12M761.2 1359.2h-12M761.2 901.5h-12"/>
<g font-size="55">
<text x="785.3" y="1448.7" text-anchor="middle">0</text>
<text x="1242.6" y="1448.7" text-anchor="middle" font-style="oblique">N</text>
<text x="736" y="1378.1" text-anchor="end">0</text>
<text x="736.4" y="922.3" text-anchor="end" font-style="oblique">N</text>
</g>
<g font-size="73.5">
<text x="798.3" y="969.4">1 h</text>
<text x="1013.5" y="1479.4" text-anchor="middle" font-size="74">pre</text>
</g>
<rect x="1392.1" y="899.5" width="461.7" height="461.7" fill="#fbfbfb"/>
<clipPath id="cb2"><rect x="1391.9" y="899.3" width="462.1" height="462.1"/></clipPath>
<g clip-path="url(#cb2)" filter="url(#bl)" opacity="0.7"><g transform="translate(1394.1 1359.2) scale(2.3000)" fill="none" stroke-linecap="round" stroke-width="1.304">
<use href="#tb" x="0" y="0"/><use href="#tb" x="0" y="-50"/><use href="#tb" x="0" y="-100"/><use href="#tb" x="0" y="-150"/><use href="#tb" x="50" y="0"/><use href="#tb" x="50" y="-50"/><use href="#tb" x="50" y="-100"/><use href="#tb" x="50" y="-150"/><use href="#tb" x="100" y="0"/><use href="#tb" x="100" y="-50"/><use href="#tb" x="100" y="-100"/><use href="#tb" x="100" y="-150"/><use href="#tb" x="150" y="0"/><use href="#tb" x="150" y="-50"/><use href="#tb" x="150" y="-100"/><use href="#tb" x="150" y="-150"/>
</g></g>
<g filter="url(#bl)"><g transform="translate(1394.1 1359.2) scale(2.3000)" fill="none" stroke-linecap="round" stroke-width="1.391">
<path stroke="#ccc" d="M17 0h0m13 0h0m8 0h0m7 0h0M5-1h0m10 0h0m7 0h0m11 0h0m6 0h0m8 0h0M26-2h0m10 0h0m4 0h0m8 0h0M22-3h0m7 0h0m11 0h0M7-4h0m25 0h0m6 0h0m1 0h0m9 0h0M4-5h0m3 0h0m14 0h0m25 0h0M7-6h0m7 0h0m20 0h0M1-7h0m4 0h0m16 0h0m8 0h0m5 0h0m1 0h0m2 0h0m8 0h0m2 0h0M1-8h0m7 0h0m14 0h0m2 0h0m8 0h0m6 0h0m1 0h0m2 0h0M0-9h0m15 0h0m9 0h0m7 0h0m1 0h0m4 0h0M1-10h0m11 0h0m2 0h0m13 0h0M8-11h0m22 0h0m3 0h0M12-12h0m4 0h0m1 0h0m3 0h0m11 0h0M1-13h0m8 0h0m14 0h0m18 0h0m1 0h0m7 0h0M18-14h0m3 0h0m27 0h0M11-15h0m4 0h0m1 0h0m9 0h0m3 0h0m18 0h0M20-16h0m20 0h0M2-17h0m4 0h0m18 0h0m5 0h0m6 0h0m3 0h0m2 0h0M0-18h0m13 0h0m11 0h0m25 0h0M7-19h0m9 0h0m12 0h0m2 0h0m2 0h0m1 0h0m9 0h0m6 0h0M5-20h0m6 0h0m10 0h0m10 0h0m2 0h0m2 0h0M2-21h0m5 0h0m7 0h0m3 0h0m13 0h0M5-22h0m26 0h0m10 0h0M0-23h0m10 0h0m16 0h0m8 0h0m2 0h0m1 0h0m5 0h0m2 0h0m4 0h0M8-24h0m10 0h0m4 0h0m6 0h0m12 0h0M6-25h0m21 0h0m2 0h0m4 0h0m12 0h0M3-26h0m2 0h0m11 0h0m2 0h0m5 0h0m4 0h0m3 0h0m2 0h0m6 0h0m1 0h0m7 0h0m2 0h0M6-27h0m16 0h0m16 0h0m1 0h0m2 0h0m2 0h0M2-28h0m4 0h0m2 0h0m3 0h0m1 0h0m1 0h0m1 0h0m8 0h0m6 0h0m5 0h0m1 0h0m3 0h0m6 0h0M0-30h0m6 0h0m3 0h0m16 0h0m14 0h0m1 0h0m6 0h0M18-31h0m6 0h0M44-32h0M17-33h0m3 0h0M10-34h0m4 0h0m21 0h0m9 0h0M8-35h0m10 0h0m1 0h0m5 0h0m8 0h0m2 0h0M14-36h0m2 0h0M11-37h0m1 0h0m4 0h0m28 0h0m1 0h0M17-38h0m1 0h0m5 0h0m5 0h0m1 0h0m12 0h0M6-39h0m15 0h0m2 0h0m1 0h0m1 0h0m10 0h0m8 0h0m2 0h0M8-40h0m18 0h0m3 0h0m1 0h0M20-41h0m4 0h0m2 0h0m18 0h0M7-42h0m3 0h0m11 0h0m6 0h0m2 0h0m7 0h0m10 0h0M2-43h0m1 0h0m24 0h0m6 0h0m4 0h0m2 0h0M5-44h0m2 0h0m6 0h0m8 0h0m3 0h0m1 0h0m9 0h0m5 0h0m4 0h0M1-45h0m30 0h0M17-46h0m3 0h0m8 0h0m4 0h0m7 0h0m7 0h0M14-47h0M3-48h0m1 0h0m1 0h0m5 0h0m3 0h0m2 0h0m7 0h0m1 0h0m13 0h0m2 0h0M0-49h0m5 0h0m24 0h0m14 0h0M59-50h0m12 0h0m8 0h0m8 0h0m2 0h0m2 0h0M56-51h0m2 0h0m4 0h0m24 0h0m6 0h0m3 0h0m1 0h0M67-52h0m26 0h0M70-53h0m3 0h0m2 0h0m1 0h0m23 0h0M63-54h0m8 0h0m6 0h0m13 0h0M56-55h0m17 0h0m11 0h0m8 0h0M58-56h0m3 0h0m8 0h0m16 0h0m1 0h0m1 0h0m4 0h0m4 0h0m4 0h0M63-57h0m27 0h0M54-58h0m10 0h0m3 0h0m10 0h0m15 0h0m3 0h0M62-59h0m13 0h0m2 0h0m6 0h0M74-60h0m22 0h0M50-61h0m3 0h0m2 0h0m1 0h0m8 0h0m1 0h0m2 0h0m29 0h0M53-62h0m2 0h0m9 0h0m5 0h0m19 0h0m6 0h0m4 0h0m1 0h0M50-63h0m6 0h0m9 0h0m26 0h0m2 0h0m5 0h0M63-64h0m15 0h0m6 0h0m1 0h0M53-65h0m4 0h0m13 0h0m9 0h0m6 0h0m1 0h0M51-66h0m12 0h0M53-67h0m1 0h0m18 0h0m2 0h0m11 0h0m7 0h0m6 0h0M52-68h0m28 0h0m5 0h0m13 0h0M50-69h0m1 0h0m1 0h0m6 0h0m5 0h0m2 0h0m5 0h0m3 0h0m14 0h0M58-70h0m10 0h0m18 0h0m8 0h0M62-71h0m10 0h0m8 0h0m2 0h0m4 0h0m10 0h0M81-72h0m11 0h0m4 0h0M65-73h0m9 0h0m6 0h0M53-74h0m8 0h0m6 0h0m2 0h0m3 0h0m5 0h0m5 0h0m2 0h0m7 0h0m5 0h0M51-75h0m2 0h0M59-76h0m16 0h0m13 0h0M53-77h0m11 0h0M60-78h0m15 0h0m2 0h0m4 0h0m4 0h0m6 0h0M58-79h0m4 0h0m1 0h0m1 0h0m3 0h0m1 0h0m2 0h0m1 0h0m23 0h0M53-80h0m6 0h0m11 0h0M52-81h0m4 0h0m6 0h0m7 0h0m6 0h0m1 0h0m6 0h0m13 0h0M57-82h0m8 0h0m4 0h0m4 0h0m7 0h0m4 0h0M56-83h0m10 0h0m14 0h0m8 0h0M72-84h0m2 0h0m3 0h0m18 0h0M77-85h0m21 0h0M86-86h0m5 0h0m1 0h0M66-87h0m6 0h0m1 0h0m24 0h0m2 0h0M51-88h0m23 0h0m17 0h0m7 0h0M58-89h0m18 0h0m1 0h0m1 0h0m7 0h0m8 0h0M71-90h0m22 0h0M58-91h0m5 0h0m4 0h0m4 0h0m25 0h0M58-92h0m3 0h0m10 0h0m14 0h0M58-93h0m9 0h0m9 0h0m3 0h0m5 0h0m2 0h0m1 0h0m10 0h0M77-94h0M93-95h0M52-96h0m5 0h0m29 0h0M54-97h0m32 0h0m6 0h0M54-98h0m13 0h0m3 0h0m1 0h0m4 0h0M57-99h0m2 0h0m21 0h0m10 0h0M103-100h0m18 0h0M102-101h0m14 0h0m4 0h0m5 0h0m2 0h0m3 0h0M110-102h0m4 0h0m8 0h0m14 0h0M106-103h0m9 0h0m19 0h0m7 0h0m4 0h0m3 0h0M114-104h0m22 0h0m2 0h0m2 0h0m4 0h0m2 0h0M110-105h0m4 0h0m9 0h0M115-106h0m5 0h0m1 0h0m15 0h0m5 0h0M107-107h0m3 0h0m9 0h0m9 0h0m1 0h0m7 0h0m2 0h0m3 0h0m4 0h0M105-108h0m12 0h0m18 0h0m4 0h0m3 0h0M105-109h0m3 0h0m7 0h0m20 0h0M127-110h0m10 0h0M100-111h0m8 0h0m15 0h0m9 0h0M103-112h0m31 0h0M119-113h0m2 0h0m15 0h0m1 0h0m2 0h0m2 0h0M103-114h0m4 0h0m20 0h0m1 0h0M110-115h0m13 0h0m1 0h0m23 0h0M104-116h0m8 0h0m5 0h0m1 0h0m15 0h0m7 0h0m9 0h0M103-117h0m31 0h0M111-118h0m4 0h0m17 0h0m2 0h0m4 0h0M100-119h0m8 0h0m7 0h0m30 0h0M102-120h0m24 0h0m9 0h0m5 0h0M109-121h0M113-122h0m1 0h0m7 0h0m15 0h0m9 0h0M103-123h0m6 0h0m14 0h0m5 0h0m3 0h0m5 0h0m8 0h0m3 0h0M109-124h0m4 0h0m26 0h0M103-125h0m43 0h0M115-126h0m13 0h0m17 0h0M106-127h0m5 0h0m29 0h0m6 0h0M104-128h0m14 0h0m4 0h0m10 0h0m3 0h0m3 0h0m7 0h0m4 0h0M102-130h0m1 0h0m2 0h0m3 0h0m7 0h0m3 0h0m4 0h0m19 0h0m3 0h0M103-131h0m5 0h0m6 0h0m1 0h0m2 0h0m7 0h0m4 0h0M108-132h0m9 0h0M103-133h0m6 0h0m15 0h0m23 0h0M100-134h0m10 0h0m1 0h0m2 0h0m4 0h0m21 0h0M144-135h0M104-136h0m14 0h0m2 0h0m6 0h0m4 0h0M102-137h0m2 0h0m4 0h0m22 0h0M107-138h0m2 0h0M100-139h0m1 0h0m8 0h0m6 0h0m15 0h0m3 0h0m3 0h0m5 0h0m5 0h0M101-140h0m16 0h0m5 0h0m7 0h0m3 0h0m5 0h0m6 0h0M104-141h0m20 0h0M101-142h0m1 0h0m44 0h0m1 0h0M128-143h0m10 0h0m2 0h0M122-144h0m26 0h0M120-145h0m4 0h0m2 0h0m18 0h0M103-146h0m2 0h0m2 0h0m16 0h0m8 0h0m6 0h0m2 0h0M117-147h0m1 0h0m20 0h0m11 0h0M103-148h0m10 0h0m7 0h0m9 0h0m3 0h0m1 0h0m3 0h0m1 0h0M100-149h0m3 0h0m1 0h0m4 0h0m4 0h0m28 0h0m9 0h0M191-150h0m6 0h0m2 0h0M151-151h0m14 0h0m11 0h0m12 0h0m10 0h0M164-152h0m29 0h0M150-153h0m1 0h0m5 0h0m7 0h0m20 0h0m2 0h0m11 0h0m1 0h0M150-154h0m24 0h0m4 0h0m10 0h0m3 0h0M165-155h0M168-156h0m5 0h0m8 0h0m4 0h0m5 0h0M161-157h0m6 0h0m7 0h0m14 0h0M159-158h0m20 0h0m7 0h0M182-159h0m3 0h0m1 0h0M157-160h0m3 0h0m25 0h0m1 0h0m6 0h0m6 0h0M159-161h0m9 0h0m2 0h0m2 0h0m3 0h0m12 0h0M152-162h0m16 0h0m1 0h0m11 0h0m11 0h0m7 0h0M161-163h0m18 0h0m12 0h0M154-164h0m2 0h0m10 0h0m2 0h0m2 0h0m14 0h0m6 0h0m2 0h0M152-165h0m1 0h0m8 0h0m3 0h0m3 0h0m9 0h0M177-166h0m4 0h0m9 0h0M150-167h0m5 0h0m10 0h0m20 0h0M151-168h0m1 0h0m6 0h0m20 0h0m2 0h0m8 0h0m10 0h0M154-169h0m14 0h0m5 0h0m26 0h0M166-170h0m2 0h0m5 0h0m8 0h0m14 0h0M174-171h0m3 0h0m11 0h0m5 0h0M156-172h0m4 0h0m13 0h0m11 0h0m4 0h0M153-173h0m1 0h0m8 0h0m11 0h0m6 0h0m8 0h0m1 0h0M156-174h0m7 0h0m4 0h0m20 0h0m1 0h0m2 0h0M154-175h0m11 0h0m3 0h0M156-176h0m7 0h0m11 0h0M150-177h0m6 0h0m4 0h0m14 0h0m5 0h0m17 0h0M157-178h0m3 0h0m10 0h0m10 0h0m2 0h0M160-179h0m5 0h0m2 0h0m2 0h0m6 0h0m5 0h0M151-180h0m17 0h0m6 0h0M159-181h0m13 0h0m12 0h0m1 0h0m1 0h0m4 0h0M160-182h0m2 0h0m1 0h0m29 0h0m1 0h0m3 0h0M152-183h0m6 0h0m21 0h0m3 0h0m6 0h0M162-184h0m1 0h0m2 0h0m1 0h0m1 0h0m5 0h0m1 0h0m14 0h0m10 0h0M155-185h0m9 0h0m6 0h0m3 0h0m2 0h0m2 0h0m1 0h0m17 0h0M154-186h0m14 0h0m2 0h0m7 0h0m5 0h0M161-187h0m3 0h0m11 0h0m1 0h0m3 0h0M150-188h0m4 0h0m1 0h0m22 0h0m11 0h0m4 0h0m3 0h0m4 0h0M164-189h0m14 0h0m6 0h0m1 0h0M151-190h0m5 0h0m6 0h0m2 0h0m9 0h0m10 0h0M150-191h0m1 0h0m11 0h0m4 0h0m2 0h0m29 0h0M151-192h0m18 0h0m8 0h0M156-193h0m7 0h0m12 0h0m5 0h0m2 0h0m6 0h0M163-194h0m1 0h0M151-195h0m3 0h0m10 0h0m21 0h0M164-196h0m17 0h0m7 0h0m2 0h0m1 0h0M151-197h0m25 0h0m20 0h0M162-198h0m14 0h0M151-199h0m6 0h0m6 0h0m3 0h0m6 0h0m11 0h0m7 0h0m3 0h0m1 0h0m1 0h0"/><path stroke="#909090" d="M18 0h0m4 0h0M11-1h0m26 0h0m5 0h0M14-2h0m2 0h0m13 0h0m2 0h0m3 0h0m15 0h0M24-3h0m8 0h0m1 0h0m5 0h0m4 0h0M5-4h0m11 0h0m4 0h0m7 0h0M6-5h0m17 0h0m15 0h0m7 0h0m2 0h0M4-6h0m6 0h0m5 0h0m5 0h0m5 0h0m20 0h0m3 0h0M17-7h0m15 0h0m1 0h0m3 0h0m7 0h0M4-8h0m22 0h0m11 0h0M2-9h0m3 0h0m8 0h0m25 0h0M3-10h0m7 0h0m6 0h0m5 0h0m2 0h0m6 0h0m5 0h0m1 0h0m13 0h0M3-11h0m6 0h0M9-12h0m27 0h0M10-13h0m3 0h0m3 0h0m5 0h0m16 0h0M1-14h0m24 0h0m16 0h0M5-15h0m4 0h0m12 0h0m3 0h0m23 0h0M26-16h0m1 0h0m2 0h0m13 0h0m2 0h0m1 0h0M21-17h0m5 0h0m2 0h0m9 0h0m4 0h0M22-18h0m13 0h0m5 0h0M4-19h0m9 0h0m9 0h0m2 0h0M0-20h0m9 0h0m17 0h0m18 0h0m3 0h0M6-21h0m14 0h0m5 0h0m12 0h0M8-22h0m7 0h0m2 0h0m31 0h0M4-23h0m3 0h0m11 0h0m12 0h0M1-24h0m26 0h0m6 0h0m8 0h0m7 0h0M11-25h0m32 0h0m3 0h0M4-26h0m31 0h0m12 0h0M2-27h0m5 0h0m6 0h0m4 0h0m6 0h0m22 0h0M3-28h0m13 0h0m5 0h0m4 0h0m2 0h0m5 0h0m12 0h0m2 0h0M4-29h0m10 0h0m7 0h0M2-30h0m8 0h0m8 0h0m1 0h0m1 0h0M8-31h0m6 0h0m1 0h0m8 0h0m3 0h0m2 0h0m14 0h0M1-32h0m18 0h0m3 0h0m8 0h0m2 0h0m5 0h0m4 0h0m2 0h0m6 0h0M8-33h0m3 0h0m14 0h0M19-34h0m5 0h0m9 0h0m13 0h0M2-35h0m2 0h0m13 0h0m12 0h0M19-36h0m2 0h0m7 0h0m4 0h0m3 0h0m1 0h0M0-37h0m1 0h0m17 0h0m20 0h0M2-38h0m1 0h0m10 0h0m6 0h0m7 0h0m1 0h0m13 0h0m2 0h0m4 0h0m2 0h0M3-39h0m6 0h0m17 0h0m4 0h0m1 0h0m1 0h0m8 0h0m4 0h0M3-40h0m6 0h0m22 0h0m6 0h0m3 0h0M2-41h0m8 0h0m11 0h0m13 0h0m3 0h0M3-42h0m41 0h0M20-44h0m3 0h0m10 0h0M4-45h0m7 0h0m3 0h0m9 0h0m3 0h0m3 0h0m14 0h0m1 0h0M9-46h0m4 0h0m13 0h0m3 0h0m4 0h0m2 0h0m10 0h0M3-47h0m9 0h0m18 0h0m4 0h0m1 0h0m2 0h0m10 0h0M2-48h0m12 0h0m15 0h0m13 0h0m5 0h0M15-49h0m1 0h0m1 0h0m29 0h0M85-50h0m10 0h0M59-51h0m7 0h0m4 0h0m6 0h0m2 0h0M56-52h0m33 0h0M53-53h0m6 0h0m5 0h0m4 0h0m17 0h0m7 0h0M50-54h0m11 0h0m1 0h0m11 0h0m2 0h0m9 0h0m11 0h0M58-55h0m9 0h0m5 0h0m11 0h0m4 0h0m3 0h0M64-56h0m26 0h0m4 0h0m2 0h0m1 0h0M69-57h0m4 0h0M51-58h0m19 0h0m27 0h0M52-59h0m8 0h0m21 0h0m6 0h0M50-60h0m5 0h0m18 0h0m9 0h0m3 0h0M57-61h0m1 0h0m11 0h0m5 0h0m14 0h0m2 0h0M52-62h0m4 0h0m1 0h0m6 0h0m8 0h0m2 0h0m2 0h0m14 0h0m1 0h0m2 0h0m4 0h0M55-63h0m6 0h0m1 0h0m13 0h0m2 0h0m1 0h0m2 0h0m3 0h0m6 0h0M70-64h0m3 0h0m7 0h0m15 0h0M55-65h0m5 0h0m8 0h0m4 0h0m9 0h0M50-66h0m3 0h0m5 0h0m28 0h0m1 0h0M50-67h0m7 0h0m19 0h0m1 0h0m7 0h0M75-68h0m13 0h0m2 0h0m6 0h0M55-69h0m14 0h0m6 0h0m7 0h0m3 0h0m13 0h0M56-70h0m25 0h0m1 0h0m5 0h0m1 0h0M54-71h0m9 0h0m5 0h0m17 0h0m9 0h0M59-72h0m34 0h0m1 0h0M53-73h0m43 0h0M83-74h0m10 0h0M54-75h0m15 0h0m4 0h0m9 0h0m9 0h0m4 0h0M51-76h0M54-77h0m17 0h0m1 0h0m5 0h0m5 0h0m8 0h0m1 0h0m1 0h0m7 0h0M55-78h0m1 0h0m7 0h0m9 0h0m1 0h0m6 0h0m14 0h0m5 0h0M51-79h0m26 0h0m1 0h0m14 0h0M57-80h0m1 0h0m20 0h0m5 0h0m6 0h0M61-81h0m16 0h0m6 0h0m3 0h0M56-82h0m22 0h0M50-83h0m14 0h0m1 0h0m10 0h0m24 0h0M58-84h0M76-85h0m2 0h0M55-86h0m8 0h0m17 0h0m10 0h0M85-87h0M68-88h0m2 0h0m11 0h0m8 0h0M51-89h0m4 0h0m9 0h0m18 0h0m7 0h0M51-90h0m11 0h0m13 0h0m5 0h0m5 0h0m1 0h0M59-91h0m9 0h0m10 0h0m1 0h0m3 0h0m4 0h0M70-92h0m14 0h0m7 0h0M80-93h0M50-94h0m7 0h0m4 0h0m33 0h0m1 0h0m1 0h0m3 0h0M57-95h0m23 0h0m15 0h0M58-96h0m5 0h0m6 0h0m7 0h0m6 0h0m5 0h0M63-97h0m5 0h0m3 0h0m10 0h0m8 0h0M82-98h0M60-99h0m8 0h0m5 0h0m23 0h0M110-100h0m1 0h0m7 0h0m6 0h0m7 0h0m6 0h0m2 0h0m7 0h0M105-101h0m10 0h0m18 0h0M111-102h0m15 0h0M112-103h0m5 0h0m16 0h0m7 0h0M101-104h0m23 0h0m7 0h0m10 0h0M100-105h0m11 0h0m8 0h0m12 0h0m1 0h0m4 0h0M126-106h0m1 0h0m5 0h0m3 0h0M106-107h0m6 0h0m14 0h0m5 0h0m18 0h0M115-108h0m1 0h0M104-109h0m17 0h0m3 0h0m5 0h0m13 0h0M132-110h0m10 0h0m7 0h0M106-111h0m14 0h0M101-112h0m16 0h0m5 0h0m6 0h0m14 0h0M144-113h0M130-114h0m5 0h0m3 0h0m3 0h0m1 0h0m4 0h0M106-115h0m7 0h0m2 0h0m6 0h0m13 0h0M108-116h0m5 0h0m3 0h0m14 0h0m8 0h0m3 0h0M102-117h0m2 0h0m2 0h0m11 0h0m1 0h0m2 0h0m5 0h0m11 0h0m7 0h0M102-118h0m42 0h0M101-119h0m6 0h0m7 0h0m10 0h0m12 0h0m5 0h0M109-120h0m35 0h0M106-121h0m11 0h0m10 0h0m4 0h0m3 0h0m13 0h0m1 0h0M107-122h0m5 0h0m12 0h0m18 0h0M104-123h0m22 0h0m16 0h0m7 0h0M102-124h0m1 0h0m1 0h0m1 0h0m9 0h0M122-125h0m19 0h0M100-126h0m41 0h0M114-127h0m12 0h0m16 0h0M105-128h0m15 0h0m16 0h0m10 0h0m2 0h0M124-129h0m11 0h0m14 0h0M112-130h0m17 0h0m3 0h0m16 0h0M113-131h0m6 0h0m3 0h0m12 0h0m7 0h0m3 0h0m5 0h0M101-132h0m10 0h0m21 0h0M113-133h0m25 0h0m5 0h0m3 0h0M108-134h0m21 0h0M100-135h0m7 0h0m14 0h0m15 0h0m3 0h0m8 0h0M102-136h0m7 0h0m25 0h0m15 0h0M120-137h0M110-138h0m15 0h0M103-139h0m8 0h0M119-140h0m16 0h0m3 0h0M105-141h0m9 0h0m1 0h0M107-142h0m28 0h0M102-143h0m1 0h0m31 0h0m9 0h0m2 0h0M135-144h0m8 0h0M118-145h0m4 0h0m6 0h0m3 0h0m5 0h0M106-146h0m3 0h0m4 0h0m9 0h0m23 0h0M106-147h0m6 0h0m2 0h0m7 0h0m16 0h0m7 0h0M104-148h0m23 0h0m7 0h0M110-149h0m3 0h0m17 0h0m4 0h0m10 0h0m1 0h0M177-151h0m12 0h0m4 0h0M187-152h0m10 0h0M167-153h0m13 0h0M154-154h0m3 0h0m6 0h0m18 0h0M169-155h0m5 0h0m2 0h0m1 0h0m12 0h0M159-156h0m3 0h0m3 0h0m14 0h0M154-157h0m8 0h0m7 0h0m3 0h0m1 0h0m25 0h0M170-158h0m8 0h0M152-159h0m3 0h0m3 0h0m21 0h0m1 0h0m4 0h0m8 0h0m5 0h0M159-160h0m4 0h0m5 0h0m5 0h0m2 0h0m2 0h0m3 0h0m1 0h0m1 0h0m17 0h0M161-161h0m3 0h0m1 0h0m14 0h0m11 0h0M150-162h0m1 0h0m5 0h0m16 0h0m6 0h0m12 0h0M165-163h0m2 0h0m22 0h0m1 0h0m2 0h0m7 0h0M157-164h0m1 0h0m3 0h0m10 0h0m6 0h0m5 0h0m4 0h0m7 0h0m1 0h0m3 0h0M162-165h0m11 0h0m2 0h0m9 0h0m13 0h0M153-166h0m18 0h0M179-167h0m7 0h0m1 0h0m2 0h0M171-168h0m2 0h0M171-169h0m5 0h0m2 0h0M165-170h0m20 0h0M152-171h0m26 0h0m21 0h0M154-172h0m11 0h0m10 0h0M156-173h0m1 0h0m1 0h0m2 0h0m14 0h0m1 0h0m3 0h0m3 0h0m11 0h0M153-174h0m7 0h0m17 0h0m2 0h0m4 0h0m3 0h0m8 0h0m3 0h0M152-175h0m3 0h0M155-176h0m3 0h0m8 0h0m10 0h0m21 0h0M167-177h0m2 0h0m3 0h0m11 0h0m4 0h0M155-178h0m17 0h0m4 0h0m8 0h0m1 0h0m9 0h0m3 0h0M164-179h0m4 0h0m9 0h0m13 0h0m6 0h0m2 0h0M156-180h0m11 0h0m3 0h0m19 0h0M180-181h0M179-182h0m2 0h0m3 0h0m14 0h0M168-183h0m2 0h0m1 0h0m9 0h0M155-184h0m4 0h0m1 0h0m1 0h0M158-185h0m5 0h0m4 0h0m19 0h0m2 0h0m1 0h0M152-186h0m10 0h0m21 0h0m2 0h0m11 0h0m3 0h0M152-187h0m2 0h0m20 0h0m7 0h0m5 0h0m4 0h0M152-188h0M170-189h0m1 0h0m3 0h0m6 0h0m1 0h0m1 0h0m6 0h0m10 0h0M154-190h0m18 0h0M152-191h0m29 0h0m9 0h0m8 0h0M171-192h0m18 0h0m8 0h0M152-193h0m7 0h0m9 0h0m8 0h0m2 0h0m15 0h0M170-194h0m14 0h0m9 0h0m2 0h0M190-195h0M170-196h0m15 0h0m4 0h0m5 0h0m2 0h0M156-197h0m5 0h0m1 0h0m6 0h0m12 0h0m3 0h0m5 0h0M151-198h0m1 0h0M171-199h0m4 0h0m4 0h0"/><path stroke="#555" d="M0 0h0m4 0h0m25 0h0m13 0h0m2 0h0M29-1h0m11 0h0m1 0h0M23-2h0m1 0h0m15 0h0M14-3h0m11 0h0m9 0h0m7 0h0M41-4h0m3 0h0M1-5h0m4 0h0m7 0h0m4 0h0m11 0h0m4 0h0m4 0h0m1 0h0M8-6h0m8 0h0m14 0h0m2 0h0m3 0h0m6 0h0m3 0h0M10-7h0m28 0h0m6 0h0m2 0h0M10-8h0m3 0h0m23 0h0M11-9h0m3 0h0m23 0h0M2-10h0m20 0h0m4 0h0m13 0h0m7 0h0M0-11h0m5 0h0m7 0h0m10 0h0m10 0h0m14 0h0M0-12h0m15 0h0m6 0h0m2 0h0m1 0h0m2 0h0m1 0h0M15-13h0m3 0h0m11 0h0m6 0h0m11 0h0M13-14h0m10 0h0m13 0h0m3 0h0m8 0h0M10-15h0m2 0h0m5 0h0m6 0h0m10 0h0m15 0h0M4-16h0m10 0h0m2 0h0M23-17h0m7 0h0M12-18h0m14 0h0m5 0h0m12 0h0M17-19h0m1 0h0m16 0h0m10 0h0m3 0h0M37-20h0M8-21h0m13 0h0M9-23h0m31 0h0M3-24h0m1 0h0m6 0h0m6 0h0m29 0h0m2 0h0M10-25h0m2 0h0m20 0h0M20-26h0M12-27h0m2 0h0m2 0h0m3 0h0m18 0h0m12 0h0M4-28h0m6 0h0M5-29h0m30 0h0m8 0h0M27-30h0m9 0h0m13 0h0M12-31h0m15 0h0m8 0h0m9 0h0M2-32h0m7 0h0m4 0h0m2 0h0M1-33h0m5 0h0m22 0h0m3 0h0M6-34h0m10 0h0m10 0h0m1 0h0m7 0h0M1-35h0m6 0h0m14 0h0m4 0h0m11 0h0M0-36h0m27 0h0m10 0h0M2-37h0m18 0h0M20-38h0m5 0h0m9 0h0M8-39h0m2 0h0m29 0h0m7 0h0M2-40h0m26 0h0m7 0h0m1 0h0m2 0h0m6 0h0M15-41h0m1 0h0m15 0h0m2 0h0m13 0h0M5-42h0m3 0h0m37 0h0M4-43h0m8 0h0M2-44h0m6 0h0m28 0h0m2 0h0m2 0h0M7-45h0m8 0h0m13 0h0m11 0h0m10 0h0M3-46h0m11 0h0m11 0h0m9 0h0m6 0h0M0-47h0m9 0h0m1 0h0m3 0h0m5 0h0m1 0h0M24-48h0m9 0h0m6 0h0m2 0h0m3 0h0M10-49h0m17 0h0M51-50h0m15 0h0m18 0h0M50-51h0m1 0h0m17 0h0m12 0h0m5 0h0m2 0h0m7 0h0M69-52h0m14 0h0M66-53h0m3 0h0m2 0h0m8 0h0m14 0h0m2 0h0M70-54h0M64-55h0m22 0h0M50-56h0m17 0h0m6 0h0m3 0h0m3 0h0M54-57h0m3 0h0m1 0h0m3 0h0m4 0h0M79-58h0M53-59h0m21 0h0m17 0h0M57-60h0m22 0h0m12 0h0M54-61h0m16 0h0M58-62h0m7 0h0M74-63h0m23 0h0M57-64h0m25 0h0m1 0h0m4 0h0m3 0h0M51-65h0m27 0h0m9 0h0m9 0h0m1 0h0M78-66h0m1 0h0m5 0h0M59-67h0m31 0h0M84-68h0M77-69h0m13 0h0M63-70h0m30 0h0M55-71h0m4 0h0m1 0h0m1 0h0m20 0h0m14 0h0M50-72h0m11 0h0M74-74h0M62-75h0m1 0h0m18 0h0m2 0h0m2 0h0M58-76h0m4 0h0m2 0h0m17 0h0M59-77h0m4 0h0m7 0h0m6 0h0m11 0h0m8 0h0M51-78h0m7 0h0m4 0h0m3 0h0m19 0h0m2 0h0m6 0h0M73-79h0m1 0h0m6 0h0m9 0h0m7 0h0m1 0h0m2 0h0M52-80h0M72-81h0m27 0h0M55-82h0m24 0h0M53-83h0m5 0h0m5 0h0m6 0h0m4 0h0m1 0h0m2 0h0m10 0h0M52-84h0m5 0h0m19 0h0m8 0h0m14 0h0M59-85h0m28 0h0M50-86h0m14 0h0m4 0h0m1 0h0m10 0h0M55-87h0m24 0h0m11 0h0M67-88h0M87-89h0m1 0h0M72-90h0m7 0h0m9 0h0M75-91h0M53-92h0m33 0h0M53-93h0m28 0h0m12 0h0m1 0h0m2 0h0M70-94h0m16 0h0M53-95h0m14 0h0m4 0h0m6 0h0m5 0h0m2 0h0M62-96h0m22 0h0m1 0h0m12 0h0m2 0h0M53-97h0m11 0h0m21 0h0m8 0h0M74-98h0m5 0h0m10 0h0m9 0h0M54-99h0m9 0h0m23 0h0m11 0h0M126-100h0m1 0h0M135-101h0m7 0h0M107-102h0m9 0h0m33 0h0M103-103h0m6 0h0m2 0h0m16 0h0m22 0h0M105-104h0m14 0h0m11 0h0m2 0h0m3 0h0m8 0h0M120-105h0m29 0h0M125-106h0m4 0h0m17 0h0M132-107h0m2 0h0m10 0h0M112-108h0m2 0h0m11 0h0m5 0h0m15 0h0m1 0h0M134-109h0m12 0h0M104-110h0m15 0h0m10 0h0M114-111h0m30 0h0M118-112h0M105-113h0m13 0h0m7 0h0m8 0h0M105-114h0m3 0h0m4 0h0m1 0h0m12 0h0m6 0h0m2 0h0m11 0h0m3 0h0M103-115h0m11 0h0m2 0h0m19 0h0m4 0h0m10 0h0M101-116h0m6 0h0m15 0h0m2 0h0m5 0h0m16 0h0M122-117h0m17 0h0m3 0h0M116-118h0m1 0h0m31 0h0M125-119h0m7 0h0m3 0h0M137-120h0m6 0h0m2 0h0m2 0h0m2 0h0M104-121h0m33 0h0m7 0h0M106-122h0m26 0h0M106-123h0M124-124h0m6 0h0m8 0h0M100-125h0m16 0h0m12 0h0M104-126h0m2 0h0m2 0h0m11 0h0m13 0h0M121-129h0m7 0h0m15 0h0M110-130h0m13 0h0m10 0h0M102-131h0m5 0h0m13 0h0m12 0h0m8 0h0m2 0h0m3 0h0M106-132h0m18 0h0m21 0h0M101-133h0m4 0h0m7 0h0m2 0h0M130-134h0m4 0h0m10 0h0M110-136h0m1 0h0m28 0h0m7 0h0M101-137h0m37 0h0m3 0h0M145-138h0M126-139h0M113-140h0m1 0h0m17 0h0m5 0h0M106-141h0m7 0h0m7 0h0m5 0h0m13 0h0m6 0h0M111-142h0m7 0h0m20 0h0m5 0h0M119-143h0m12 0h0M109-144h0m12 0h0M121-145h0m6 0h0m11 0h0m9 0h0M101-146h0m9 0h0m1 0h0m1 0h0m9 0h0m4 0h0m3 0h0m21 0h0M101-147h0m7 0h0m2 0h0m3 0h0m21 0h0m7 0h0M101-148h0m16 0h0m8 0h0m3 0h0M106-149h0m35 0h0M169-150h0m8 0h0m3 0h0m8 0h0m2 0h0m2 0h0M153-151h0m46 0h0M151-152h0m20 0h0m8 0h0m2 0h0m8 0h0m3 0h0M159-153h0m16 0h0m15 0h0M151-154h0m5 0h0m15 0h0m2 0h0m13 0h0m8 0h0M160-155h0m3 0h0m7 0h0m23 0h0m3 0h0M154-156h0m6 0h0m9 0h0M158-157h0m18 0h0m15 0h0m5 0h0M156-158h0m5 0h0m12 0h0M151-159h0m24 0h0m12 0h0M150-160h0m1 0h0m3 0h0m1 0h0m11 0h0m25 0h0M158-161h0m41 0h0M154-162h0m1 0h0m5 0h0m6 0h0m30 0h0M181-163h0m15 0h0M183-164h0m5 0h0m10 0h0M165-165h0m3 0h0m4 0h0m7 0h0M152-166h0m2 0h0m2 0h0m5 0h0m18 0h0m3 0h0m13 0h0M163-167h0m13 0h0m12 0h0m6 0h0M150-168h0m20 0h0m12 0h0m5 0h0m4 0h0m3 0h0m3 0h0M170-169h0m20 0h0M176-170h0M161-171h0m2 0h0m10 0h0m13 0h0m9 0h0M162-172h0m9 0h0m11 0h0M167-173h0m15 0h0m9 0h0m6 0h0M152-174h0m19 0h0m4 0h0m21 0h0M173-175h0m17 0h0M185-176h0M164-177h0m1 0h0m3 0h0m7 0h0m5 0h0m6 0h0m6 0h0m1 0h0m5 0h0M153-178h0m20 0h0M158-179h0m33 0h0M155-180h0m6 0h0m4 0h0m15 0h0M175-181h0M171-182h0m15 0h0m3 0h0M166-183h0m10 0h0m1 0h0m8 0h0m4 0h0M168-184h0m1 0h0m5 0h0m3 0h0m9 0h0M168-185h0m6 0h0M191-186h0m1 0h0M182-187h0m6 0h0M153-188h0m4 0h0m16 0h0m3 0h0m3 0h0m1 0h0m5 0h0M150-189h0m4 0h0m5 0h0m20 0h0M155-190h0m40 0h0M170-191h0m2 0h0m2 0h0m20 0h0M185-192h0m8 0h0m3 0h0m2 0h0M173-193h0m17 0h0m4 0h0M172-194h0m10 0h0m9 0h0m6 0h0M161-195h0M156-196h0m4 0h0m5 0h0m32 0h0M166-197h0m5 0h0M166-198h0m16 0h0m5 0h0m7 0h0m3 0h0M189-199h0"/><path stroke="#111" d="M10 0h0m17 0h0m22 0h0M45-1h0M13-2h0m14 0h0m15 0h0m2 0h0m1 0h0m1 0h0M4-3h0m1 0h0m18 0h0m8 0h0m15 0h0M3-4h0m9 0h0m7 0h0m9 0h0m1 0h0m6 0h0m12 0h0M8-5h0m25 0h0m6 0h0M5-6h0M7-7h0m41 0h0m1 0h0M12-8h0m11 0h0m20 0h0M20-9h0m3 0h0m6 0h0m16 0h0m4 0h0M5-10h0m1 0h0m1 0h0m1 0h0m7 0h0m23 0h0m2 0h0M21-11h0M7-12h0m6 0h0m29 0h0M7-13h0m27 0h0m9 0h0M11-14h0m1 0h0m2 0h0m3 0h0m5 0h0M2-15h0m27 0h0m1 0h0m14 0h0M1-16h0m16 0h0m11 0h0m11 0h0m10 0h0M18-17h0m2 0h0m14 0h0m12 0h0m1 0h0M25-18h0m14 0h0M10-19h0m4 0h0m11 0h0m4 0h0m11 0h0M3-20h0m5 0h0m14 0h0m2 0h0m1 0h0m4 0h0m13 0h0m6 0h0M24-21h0m8 0h0M9-22h0m29 0h0m1 0h0M1-23h0m15 0h0m9 0h0m14 0h0m8 0h0M25-24h0m12 0h0M24-25h0m12 0h0m3 0h0m1 0h0m1 0h0M2-26h0m5 0h0m7 0h0m1 0h0m9 0h0m7 0h0m2 0h0m3 0h0m7 0h0m1 0h0M10-27h0m5 0h0m16 0h0m2 0h0m9 0h0M0-28h0m19 0h0m10 0h0m9 0h0m4 0h0M6-29h0m3 0h0m32 0h0m6 0h0M13-30h0m2 0h0m1 0h0m1 0h0m16 0h0m9 0h0m1 0h0M0-31h0m13 0h0m12 0h0m16 0h0m8 0h0M29-32h0m6 0h0M5-33h0m21 0h0m7 0h0m1 0h0m2 0h0m8 0h0M5-34h0m17 0h0m6 0h0m14 0h0M0-35h0m6 0h0m5 0h0m1 0h0m11 0h0m10 0h0m9 0h0M30-36h0m10 0h0m8 0h0M3-37h0m11 0h0m15 0h0m2 0h0M8-38h0m13 0h0m1 0h0m15 0h0m2 0h0M11-39h0m4 0h0m22 0h0M21-40h0M18-41h0m1 0h0m23 0h0m1 0h0M17-42h0m2 0h0m24 0h0m4 0h0M0-43h0m5 0h0m13 0h0m2 0h0m2 0h0m22 0h0m4 0h0m1 0h0M14-44h0m23 0h0M3-45h0m3 0h0m3 0h0m11 0h0m2 0h0m10 0h0m3 0h0M7-46h0m31 0h0m9 0h0m1 0h0M5-47h0m6 0h0m34 0h0m1 0h0M1-48h0m18 0h0m29 0h0M1-49h0m23 0h0m13 0h0m1 0h0m2 0h0m5 0h0M60-50h0m17 0h0m21 0h0M53-51h0m12 0h0m4 0h0m29 0h0M58-52h0m13 0h0m9 0h0m17 0h0M50-53h0m39 0h0m9 0h0M76-54h0m23 0h0M71-55h0m8 0h0m10 0h0m9 0h0M59-56h0m19 0h0m5 0h0M66-57h0m1 0h0m11 0h0m5 0h0M78-58h0m4 0h0m7 0h0M56-59h0m15 0h0m13 0h0m5 0h0M56-60h0m5 0h0m11 0h0M68-61h0m14 0h0m2 0h0m13 0h0M76-62h0m3 0h0m6 0h0m1 0h0m7 0h0M73-63h0m8 0h0m6 0h0M65-64h0m3 0h0m11 0h0M69-65h0m2 0h0m21 0h0m6 0h0m1 0h0M66-66h0m3 0h0m2 0h0m11 0h0m10 0h0M52-67h0m21 0h0m5 0h0m2 0h0m3 0h0M63-68h0m4 0h0m19 0h0m3 0h0M56-69h0m5 0h0m30 0h0m6 0h0M62-70h0m5 0h0m6 0h0m2 0h0m2 0h0m13 0h0M52-71h0m39 0h0M52-72h0m17 0h0m14 0h0m8 0h0m4 0h0m2 0h0M56-73h0m10 0h0m25 0h0M51-74h0m1 0h0m7 0h0M55-75h0m5 0h0m6 0h0m2 0h0m10 0h0m14 0h0M83-76h0m11 0h0m4 0h0M58-77h0m7 0h0m3 0h0m18 0h0m12 0h0M64-78h0m7 0h0m9 0h0m7 0h0m8 0h0m2 0h0M50-79h0m2 0h0m13 0h0m1 0h0m3 0h0M55-80h0m7 0h0m7 0h0m5 0h0m17 0h0M54-81h0m3 0h0m31 0h0m1 0h0M53-82h0m13 0h0m21 0h0m9 0h0M52-83h0m35 0h0m7 0h0M54-84h0m12 0h0m16 0h0M71-85h0M52-86h0m1 0h0m6 0h0m35 0h0M50-87h0M52-88h0m3 0h0m4 0h0M80-89h0M58-90h0m29 0h0m3 0h0m1 0h0M55-91h0m36 0h0M60-92h0m2 0h0m1 0h0m2 0h0m2 0h0m8 0h0m24 0h0M54-93h0m2 0h0m14 0h0m5 0h0m23 0h0M79-94h0m4 0h0m4 0h0M68-95h0m15 0h0m8 0h0m5 0h0m2 0h0m1 0h0M56-96h0m21 0h0m13 0h0m3 0h0m2 0h0M70-97h0m4 0h0m6 0h0m2 0h0M50-98h0m10 0h0m1 0h0m33 0h0M78-99h0m5 0h0M100-100h0m2 0h0m2 0h0m1 0h0m3 0h0m28 0h0m4 0h0m2 0h0M113-101h0m13 0h0m5 0h0M102-102h0m17 0h0m2 0h0m16 0h0m1 0h0m4 0h0M104-103h0m3 0h0m13 0h0m18 0h0m5 0h0m4 0h0M142-104h0M105-105h0m2 0h0m14 0h0m17 0h0m4 0h0m5 0h0M100-106h0m1 0h0m3 0h0m1 0h0m5 0h0m1 0h0m12 0h0m7 0h0M137-107h0M138-108h0M100-109h0m25 0h0m6 0h0m13 0h0M102-110h0m28 0h0m18 0h0M103-111h0m7 0h0m6 0h0m9 0h0m2 0h0m1 0h0m14 0h0m1 0h0m6 0h0M105-112h0m3 0h0m4 0h0m7 0h0m5 0h0m9 0h0m11 0h0m3 0h0M100-113h0m12 0h0m12 0h0m19 0h0M120-114h0m16 0h0m4 0h0M100-115h0m20 0h0m26 0h0M110-116h0m9 0h0m8 0h0m7 0h0M115-117h0m26 0h0m8 0h0M107-118h0m17 0h0m7 0h0m2 0h0m6 0h0m6 0h0m4 0h0M105-119h0m11 0h0m1 0h0m29 0h0M105-120h0m8 0h0m1 0h0m22 0h0M112-121h0m4 0h0m8 0h0m9 0h0m10 0h0m2 0h0M117-122h0m2 0h0m6 0h0m2 0h0m2 0h0m9 0h0m5 0h0m5 0h0m1 0h0M111-123h0m5 0h0m5 0h0m6 0h0M116-124h0m26 0h0m5 0h0m1 0h0M104-125h0m3 0h0m4 0h0m6 0h0m3 0h0m7 0h0m2 0h0m9 0h0m10 0h0m1 0h0M116-126h0m13 0h0m1 0h0m5 0h0m3 0h0m8 0h0M108-127h0m23 0h0m3 0h0m11 0h0m3 0h0m1 0h0M100-128h0m12 0h0m13 0h0m18 0h0M146-129h0M106-130h0m19 0h0m2 0h0m3 0h0M104-131h0m7 0h0m28 0h0M122-132h0m9 0h0M133-133h0m12 0h0M101-134h0m15 0h0m3 0h0m22 0h0m7 0h0M111-135h0m9 0h0m6 0h0m4 0h0m8 0h0m2 0h0m9 0h0M124-136h0m14 0h0m6 0h0M123-137h0m9 0h0m7 0h0M104-138h0m11 0h0m6 0h0m1 0h0m2 0h0m3 0h0m2 0h0m9 0h0M106-139h0m11 0h0m1 0h0m5 0h0m9 0h0m2 0h0m11 0h0m2 0h0M121-140h0m4 0h0m9 0h0M116-141h0m2 0h0M121-142h0m6 0h0m6 0h0M111-143h0m25 0h0M106-144h0m4 0h0m3 0h0m4 0h0m3 0h0m8 0h0M115-145h0m4 0h0m10 0h0m11 0h0M114-146h0m3 0h0m9 0h0m7 0h0m5 0h0m3 0h0m2 0h0M104-147h0m3 0h0m20 0h0m3 0h0m9 0h0M130-148h0M118-149h0m4 0h0m9 0h0m5 0h0m1 0h0M151-150h0m7 0h0m3 0h0m10 0h0m1 0h0m3 0h0m6 0h0m2 0h0m1 0h0m9 0h0M150-151h0m45 0h0M182-152h0m14 0h0M154-153h0m7 0h0m17 0h0M180-154h0m5 0h0m2 0h0m6 0h0M157-155h0m15 0h0m1 0h0m19 0h0M150-156h0m13 0h0m9 0h0m15 0h0m1 0h0M170-157h0m13 0h0m7 0h0m9 0h0M150-158h0m3 0h0m1 0h0m8 0h0m7 0h0m5 0h0m2 0h0m6 0h0M154-159h0m12 0h0M172-160h0m22 0h0m3 0h0M178-161h0m6 0h0m1 0h0M158-162h0m6 0h0m7 0h0m2 0h0m1 0h0m1 0h0m1 0h0M155-163h0m8 0h0m12 0h0m3 0h0m17 0h0M155-164h0m14 0h0m3 0h0m7 0h0m1 0h0m16 0h0m3 0h0M169-165h0m26 0h0M159-166h0M151-167h0m6 0h0m7 0h0m10 0h0M163-168h0m9 0h0m13 0h0M159-169h0m24 0h0m4 0h0m9 0h0M150-170h0m4 0h0m4 0h0m11 0h0m20 0h0M160-171h0m8 0h0m3 0h0M158-172h0m14 0h0m4 0h0m22 0h0M155-173h0m15 0h0m6 0h0m8 0h0m1 0h0M168-174h0m4 0h0m9 0h0M153-175h0m4 0h0m9 0h0m9 0h0m8 0h0m1 0h0m4 0h0m10 0h0M170-176h0m21 0h0m1 0h0m4 0h0M176-177h0m5 0h0m18 0h0M154-178h0m23 0h0m14 0h0m5 0h0M155-179h0m4 0h0m14 0h0m9 0h0m4 0h0m6 0h0m1 0h0m2 0h0m2 0h0M160-180h0m9 0h0m3 0h0m6 0h0m9 0h0m8 0h0m4 0h0M161-181h0m1 0h0m6 0h0m5 0h0m4 0h0m20 0h0m1 0h0M155-182h0m10 0h0m12 0h0m6 0h0M153-183h0m34 0h0m10 0h0M176-184h0m2 0h0m5 0h0m15 0h0M169-185h0m22 0h0m1 0h0m2 0h0M153-186h0m2 0h0m11 0h0m1 0h0m2 0h0m3 0h0M178-187h0m17 0h0m3 0h0M165-188h0m1 0h0m16 0h0M167-189h0m9 0h0m20 0h0M166-190h0m3 0h0M171-191h0m15 0h0m3 0h0m3 0h0m7 0h0M156-192h0m7 0h0m36 0h0M151-193h0m3 0h0m18 0h0m9 0h0m5 0h0m9 0h0M150-194h0m27 0h0m2 0h0M155-195h0m15 0h0m5 0h0m20 0h0m3 0h0M153-196h0M184-197h0m9 0h0M164-198h0m1 0h0m14 0h0m20 0h0M159-199h0m1 0h0m9 0h0"/>
</g></g>
<rect x="1371.4" y="878.5" width="502.7" height="503.2" fill="none" stroke="#000" stroke-width="2.8"/>
<path fill="none" stroke="#000" stroke-width="2.8" d="M1394.1 1383.1v12M1851.8 1383.1v12M1370 1359.2h-12M1370 901.5h-12"/>
<g font-size="55">
<text x="1394.1" y="1448.7" text-anchor="middle">0</text>
<text x="1851.4" y="1448.7" text-anchor="middle" font-style="oblique">N</text>
<text x="1344.8" y="1378.1" text-anchor="end">0</text>
<text x="1345.2" y="922.3" text-anchor="end" font-style="oblique">N</text>
</g>
<g font-size="73.5">
<text x="1407.1" y="969.4">2 h</text>
<text x="1622.3" y="1479.4" text-anchor="middle" font-size="74">pre</text>
</g>
<rect x="2000.9" y="899.5" width="461.7" height="461.7" fill="#fbfbfb"/>
<clipPath id="cb3"><rect x="2000.7" y="899.3" width="462.1" height="462.1"/></clipPath>
<g clip-path="url(#cb3)" filter="url(#bl)" opacity="0.75"><g transform="translate(2002.9 1359.2) scale(2.3000)" fill="none" stroke-linecap="round" stroke-width="1.304">
<use href="#tb" x="0" y="0"/><use href="#tb" x="0" y="-50"/><use href="#tb" x="0" y="-100"/><use href="#tb" x="0" y="-150"/><use href="#tb" x="50" y="0"/><use href="#tb" x="50" y="-50"/><use href="#tb" x="50" y="-100"/><use href="#tb" x="50" y="-150"/><use href="#tb" x="100" y="0"/><use href="#tb" x="100" y="-50"/><use href="#tb" x="100" y="-100"/><use href="#tb" x="100" y="-150"/><use href="#tb" x="150" y="0"/><use href="#tb" x="150" y="-50"/><use href="#tb" x="150" y="-100"/><use href="#tb" x="150" y="-150"/>
</g></g>
<g filter="url(#bl)"><g transform="translate(2002.9 1359.2) scale(2.3000)" fill="none" stroke-linecap="round" stroke-width="1.478">
<path stroke="#ccc" d="M7 0h0m42 0h0M0-1h0m44 0h0M37-2h0M25-3h0M9-4h0m1 0h0m3 0h0m29 0h0m1 0h0m5 0h0M0-5h0m3 0h0m20 0h0m1 0h0m12 0h0m9 0h0M12-6h0M1-8h0m8 0h0m6 0h0m9 0h0m11 0h0M29-9h0m8 0h0m12 0h0M29-10h0M12-11h0m3 0h0m9 0h0m4 0h0m14 0h0M28-12h0M48-15h0M6-16h0m4 0h0m25 0h0m10 0h0M4-17h0m22 0h0m18 0h0M48-18h0M26-19h0m1 0h0m9 0h0m7 0h0M29-20h0M10-21h0m24 0h0m2 0h0M30-22h0M9-23h0m19 0h0M6-24h0m12 0h0m7 0h0M23-25h0M33-26h0M6-27h0m15 0h0m7 0h0m16 0h0M29-28h0m13 0h0M5-29h0M16-30h0M7-31h0m6 0h0m10 0h0m9 0h0M20-32h0m12 0h0m2 0h0M6-33h0m37 0h0M5-35h0m10 0h0m4 0h0m19 0h0M7-36h0m4 0h0m14 0h0m8 0h0M14-37h0m5 0h0M1-38h0m18 0h0m26 0h0M1-39h0m28 0h0M31-40h0M3-41h0m39 0h0M6-42h0m5 0h0M26-43h0M6-45h0m4 0h0m31 0h0M5-46h0m32 0h0m2 0h0M1-47h0m6 0h0m13 0h0M5-48h0m25 0h0m14 0h0M20-49h0m15 0h0m2 0h0m10 0h0m1 0h0M73-50h0m2 0h0m10 0h0M56-51h0m13 0h0m2 0h0M59-52h0m11 0h0M51-53h0m13 0h0m5 0h0m12 0h0M63-54h0m6 0h0m18 0h0M53-55h0m13 0h0m11 0h0m11 0h0m2 0h0M56-57h0m11 0h0m9 0h0m2 0h0M57-58h0m3 0h0m11 0h0m6 0h0m1 0h0m4 0h0m3 0h0M65-59h0m3 0h0m17 0h0m1 0h0M76-60h0m4 0h0m2 0h0m3 0h0M57-61h0m40 0h0M62-62h0m8 0h0M77-63h0m8 0h0M59-64h0m20 0h0m10 0h0m2 0h0M76-65h0m9 0h0M87-66h0M50-67h0m13 0h0m9 0h0M59-68h0m1 0h0m31 0h0M50-69h0m10 0h0M53-70h0m6 0h0m35 0h0M61-71h0m17 0h0m12 0h0M78-72h0m2 0h0m4 0h0m12 0h0M50-73h0m19 0h0m6 0h0M53-74h0m27 0h0m5 0h0m14 0h0M51-75h0m2 0h0m2 0h0m11 0h0m7 0h0M60-76h0m9 0h0m1 0h0m21 0h0M55-77h0m6 0h0m1 0h0m14 0h0m12 0h0M52-79h0m45 0h0M54-81h0m14 0h0m25 0h0M51-82h0m11 0h0m2 0h0m8 0h0m1 0h0m13 0h0M72-83h0M81-84h0m10 0h0m1 0h0M94-85h0M59-86h0m1 0h0m5 0h0m9 0h0m3 0h0M63-87h0m17 0h0m6 0h0m3 0h0m10 0h0M50-88h0m4 0h0m8 0h0m29 0h0m3 0h0M81-89h0M65-90h0m22 0h0m11 0h0M54-91h0m7 0h0m6 0h0M84-92h0m12 0h0m3 0h0M70-93h0M57-94h0m16 0h0m2 0h0M80-95h0M63-96h0m34 0h0M50-97h0m26 0h0M58-98h0m12 0h0m18 0h0m1 0h0M71-99h0M148-100h0M113-101h0M111-102h0m1 0h0M135-103h0m2 0h0M104-105h0m15 0h0M109-106h0m13 0h0M107-107h0m13 0h0m4 0h0m9 0h0m4 0h0m11 0h0M121-108h0m10 0h0M117-109h0m5 0h0M102-110h0m9 0h0M103-111h0m23 0h0m4 0h0m17 0h0m1 0h0m1 0h0M111-112h0m22 0h0M113-113h0m4 0h0m8 0h0m11 0h0M101-114h0M100-115h0m1 0h0m9 0h0m1 0h0M124-116h0M130-117h0M112-118h0m8 0h0m14 0h0m15 0h0M115-119h0m26 0h0M145-120h0M104-122h0M120-123h0m14 0h0M124-124h0m13 0h0M104-125h0m12 0h0m6 0h0M126-127h0M124-129h0M139-130h0M125-131h0m8 0h0M116-132h0m9 0h0M102-133h0m43 0h0M122-135h0m4 0h0M121-136h0M106-137h0m1 0h0M108-138h0m6 0h0m3 0h0m11 0h0M114-139h0m3 0h0M129-141h0M116-142h0M125-143h0m24 0h0M107-144h0m1 0h0m36 0h0m4 0h0M101-145h0m4 0h0m39 0h0M112-146h0m14 0h0m6 0h0m11 0h0M113-147h0m2 0h0m14 0h0m8 0h0m2 0h0M124-148h0m19 0h0M106-149h0m25 0h0M177-151h0M157-152h0m6 0h0m6 0h0m19 0h0M161-153h0m7 0h0m12 0h0m6 0h0M151-155h0m46 0h0M152-156h0M174-157h0m6 0h0M165-158h0m33 0h0M157-159h0m7 0h0m3 0h0m8 0h0M154-161h0m21 0h0M191-162h0m6 0h0M165-163h0m13 0h0m19 0h0M161-164h0m24 0h0M179-165h0m14 0h0M156-166h0m3 0h0m2 0h0m7 0h0m16 0h0m7 0h0M155-167h0m17 0h0M163-168h0m12 0h0m10 0h0m8 0h0M157-170h0m38 0h0M175-171h0M154-172h0m8 0h0m31 0h0M168-173h0M172-174h0M160-175h0m14 0h0m19 0h0M152-177h0m13 0h0m2 0h0m11 0h0m21 0h0M171-178h0m27 0h0M151-179h0m16 0h0m11 0h0m8 0h0M193-180h0M174-181h0M161-182h0M163-183h0m10 0h0M184-184h0M159-185h0m33 0h0m4 0h0M184-186h0M160-187h0m3 0h0m9 0h0m21 0h0M160-188h0m30 0h0M153-189h0m29 0h0m5 0h0m9 0h0M175-190h0m6 0h0M178-191h0M157-195h0M160-196h0M172-197h0M158-198h0m14 0h0m14 0h0m1 0h0m12 0h0M157-199h0m11 0h0"/><path stroke="#909090" d="M37 0h0M22-1h0M19-2h0m1 0h0m6 0h0m10 0h0M2-3h0m6 0h0m31 0h0M27-4h0m1 0h0M33-5h0m1 0h0M6-6h0m17 0h0M14-7h0m15 0h0m20 0h0M7-8h0m24 0h0M0-9h0M43-10h0M19-11h0m7 0h0M8-12h0m29 0h0M44-14h0M4-15h0m2 0h0m5 0h0m34 0h0M33-16h0m6 0h0M14-17h0M21-18h0m25 0h0M9-19h0m25 0h0M23-20h0m8 0h0m10 0h0M11-21h0M6-22h0M41-23h0M2-24h0m34 0h0M22-26h0M8-27h0m18 0h0m19 0h0M17-29h0m1 0h0m5 0h0M33-31h0m1 0h0m8 0h0M40-32h0M26-33h0m4 0h0m10 0h0M9-34h0m31 0h0M44-35h0m5 0h0M3-36h0m14 0h0M5-37h0m16 0h0m2 0h0M10-38h0m21 0h0M38-39h0m6 0h0m3 0h0M20-40h0m3 0h0m2 0h0m4 0h0M9-41h0m3 0h0M28-42h0M1-43h0M34-46h0M8-47h0M4-48h0M58-51h0M53-54h0m24 0h0m1 0h0M94-55h0m1 0h0M73-56h0M60-57h0m26 0h0M56-58h0M73-59h0m8 0h0M82-61h0m4 0h0M73-62h0m5 0h0M76-63h0m19 0h0M78-66h0M93-67h0m5 0h0M53-68h0M52-69h0m6 0h0m26 0h0M63-70h0m1 0h0m35 0h0M80-71h0M56-72h0M74-73h0M57-74h0m6 0h0m14 0h0m9 0h0M87-75h0m6 0h0M58-76h0M50-77h0m19 0h0m10 0h0M92-79h0M60-80h0m25 0h0m8 0h0M77-81h0m3 0h0m3 0h0M97-82h0M60-83h0m31 0h0M55-84h0M88-85h0m3 0h0M76-86h0m23 0h0M73-87h0m11 0h0M88-88h0M62-89h0M73-90h0M57-92h0m36 0h0M50-95h0M60-98h0M50-99h0m13 0h0m35 0h0m1 0h0M129-100h0M102-101h0m7 0h0m15 0h0m6 0h0m4 0h0M109-102h0m1 0h0m5 0h0m18 0h0M101-103h0m13 0h0M100-104h0m26 0h0m6 0h0M130-105h0m19 0h0M121-106h0m18 0h0m10 0h0M102-107h0M146-108h0M118-109h0m9 0h0M140-110h0M101-112h0m13 0h0m15 0h0m15 0h0m4 0h0M115-113h0M106-114h0M124-115h0M127-116h0M138-117h0M118-118h0m30 0h0M120-119h0m2 0h0m23 0h0M113-120h0M113-121h0m6 0h0m8 0h0M138-122h0m6 0h0M109-123h0m2 0h0m6 0h0m26 0h0M104-124h0m24 0h0M130-126h0m4 0h0m3 0h0m6 0h0M124-127h0m9 0h0M109-128h0m9 0h0m1 0h0m9 0h0M104-129h0m43 0h0M107-131h0m24 0h0M112-132h0m12 0h0M104-133h0m19 0h0m21 0h0M108-134h0m10 0h0M116-135h0m1 0h0m3 0h0M117-136h0M118-137h0m7 0h0M101-138h0m1 0h0m10 0h0m34 0h0M118-139h0m8 0h0m16 0h0m7 0h0M117-140h0m3 0h0m19 0h0M108-142h0M116-144h0M111-145h0m36 0h0M140-146h0M111-147h0M127-148h0M105-149h0m25 0h0M199-150h0M187-151h0M178-152h0m1 0h0m13 0h0M163-153h0m31 0h0M174-154h0m20 0h0M183-156h0M172-157h0M158-159h0m13 0h0m25 0h0m1 0h0M176-161h0M151-162h0m24 0h0M188-163h0M178-164h0M169-166h0M161-167h0m18 0h0m7 0h0m5 0h0M156-168h0m25 0h0m7 0h0M162-169h0m15 0h0M160-170h0M193-171h0M164-172h0m19 0h0M165-173h0m17 0h0M183-174h0m3 0h0M187-176h0M189-177h0m7 0h0M154-179h0m23 0h0m13 0h0M182-180h0m17 0h0M150-181h0m11 0h0m23 0h0M177-182h0m9 0h0M165-183h0M172-184h0m21 0h0M160-185h0m5 0h0M173-187h0m1 0h0m1 0h0m6 0h0m10 0h0M197-188h0M168-189h0M183-190h0m15 0h0M158-191h0m41 0h0M162-192h0m3 0h0M152-195h0m38 0h0M167-198h0m24 0h0M152-199h0m1 0h0m7 0h0"/><path stroke="#555" d="M23-1h0M30-3h0M29-8h0m18 0h0m1 0h0M24-9h0M18-10h0M5-11h0M15-12h0M39-15h0m1 0h0M8-18h0M11-19h0M17-21h0M7-24h0m42 0h0M19-27h0M21-29h0m20 0h0M17-30h0M11-31h0m16 0h0m2 0h0M46-33h0M27-34h0M10-37h0m37 0h0M29-38h0M32-40h0M15-44h0m14 0h0m11 0h0M11-45h0m1 0h0m2 0h0M14-46h0M12-47h0M16-49h0M78-50h0M54-51h0m34 0h0M97-53h0M66-54h0m2 0h0m6 0h0m5 0h0M58-56h0m16 0h0m22 0h0M65-57h0m14 0h0m1 0h0m7 0h0M72-59h0M63-60h0m33 0h0M56-62h0m38 0h0M81-64h0M60-65h0M52-67h0m42 0h0M53-69h0M58-70h0m8 0h0m24 0h0M73-71h0m12 0h0M67-72h0M51-73h0M65-75h0m24 0h0M67-77h0m7 0h0M98-78h0M71-79h0M61-80h0M67-81h0M73-83h0m2 0h0M52-84h0m24 0h0M55-87h0m21 0h0M57-88h0m33 0h0m3 0h0M56-89h0m9 0h0m14 0h0m10 0h0M60-90h0M89-91h0M88-92h0M61-93h0m21 0h0m13 0h0M52-94h0m24 0h0m5 0h0M82-95h0m14 0h0M66-96h0m11 0h0M75-98h0m9 0h0m11 0h0M85-99h0M121-100h0m6 0h0M110-101h0m18 0h0M113-103h0m8 0h0m12 0h0M112-105h0m9 0h0M134-106h0M121-107h0m10 0h0M115-108h0m2 0h0M138-109h0M119-110h0M138-111h0M132-114h0M116-115h0M120-116h0m6 0h0M123-118h0m2 0h0m12 0h0m5 0h0M125-119h0M111-122h0m11 0h0m10 0h0m13 0h0M118-124h0M114-125h0M146-127h0M127-128h0M141-130h0M108-131h0m35 0h0M100-134h0m7 0h0m37 0h0M113-135h0M108-137h0m34 0h0M103-139h0m31 0h0M137-140h0M119-144h0m10 0h0M104-145h0M125-146h0m16 0h0M126-148h0m4 0h0M123-149h0m19 0h0m5 0h0M150-150h0M152-151h0M173-152h0M190-153h0M150-154h0m42 0h0M158-155h0M168-156h0M179-157h0m9 0h0M169-159h0M164-161h0m30 0h0m4 0h0M155-162h0m37 0h0M151-163h0m15 0h0M153-164h0m28 0h0M155-165h0M176-166h0M168-167h0M161-168h0m16 0h0m3 0h0M180-169h0M154-171h0m43 0h0M155-172h0m16 0h0M179-173h0m1 0h0M195-174h0M158-175h0m25 0h0M155-178h0m31 0h0M174-179h0m13 0h0M162-181h0m9 0h0m7 0h0m8 0h0m13 0h0M157-183h0m23 0h0M153-184h0m32 0h0M168-185h0M198-186h0M153-187h0m9 0h0M152-188h0m3 0h0m17 0h0m16 0h0M152-190h0m7 0h0m1 0h0M150-191h0m1 0h0m1 0h0M177-192h0m11 0h0M150-193h0M172-194h0M161-197h0M183-199h0m7 0h0m4 0h0"/><path stroke="#111" d="M1 0h0M17-1h0m19 0h0m5 0h0m5 0h0M8-2h0m20 0h0m20 0h0M36-3h0M21-4h0M14-5h0m12 0h0M41-6h0M1-7h0M34-8h0m6 0h0M17-10h0M7-11h0m6 0h0m10 0h0m2 0h0m19 0h0M22-12h0M42-13h0M26-14h0m6 0h0m8 0h0M28-15h0M4-16h0m13 0h0m29 0h0M42-17h0m7 0h0M1-19h0m1 0h0m42 0h0m3 0h0M2-20h0m5 0h0m28 0h0M18-21h0m7 0h0m7 0h0m8 0h0m5 0h0M20-22h0m25 0h0M13-23h0m1 0h0M48-24h0M8-25h0m29 0h0M14-26h0m33 0h0m2 0h0M17-27h0m6 0h0m4 0h0m10 0h0M32-29h0M26-30h0M42-33h0M36-35h0M13-36h0m26 0h0M4-37h0M12-38h0m2 0h0m1 0h0M7-40h0m27 0h0M35-41h0M33-42h0M29-43h0m1 0h0m19 0h0M0-44h0m21 0h0M34-45h0M6-46h0M20-48h0m18 0h0M51-50h0m2 0h0M50-51h0M51-52h0m25 0h0M66-53h0m2 0h0M95-54h0M59-55h0M71-57h0m12 0h0M74-58h0M93-59h0M79-60h0M64-61h0M81-62h0M73-63h0m2 0h0M60-64h0m22 0h0m1 0h0M51-65h0m22 0h0M56-66h0m5 0h0M84-67h0M55-70h0m14 0h0m7 0h0m6 0h0M77-71h0m14 0h0M68-72h0m2 0h0m4 0h0m18 0h0M62-73h0M97-74h0M99-75h0M50-76h0m16 0h0m22 0h0m2 0h0M71-77h0m11 0h0m16 0h0M75-79h0m1 0h0M50-80h0m4 0h0m14 0h0m26 0h0m3 0h0M79-81h0M91-82h0M66-83h0m18 0h0M65-84h0m34 0h0M68-86h0M68-87h0M69-88h0M88-89h0m10 0h0M55-92h0m3 0h0m31 0h0M96-93h0M80-94h0M89-95h0M85-96h0m10 0h0M69-98h0M83-99h0m14 0h0M101-100h0m8 0h0M132-101h0m11 0h0m4 0h0M146-102h0M142-103h0M133-104h0M120-105h0m26 0h0M130-107h0M102-108h0m24 0h0M106-109h0m17 0h0m7 0h0m19 0h0M132-111h0m5 0h0M102-112h0m6 0h0m30 0h0M129-113h0m3 0h0m2 0h0M114-115h0m6 0h0M118-116h0m28 0h0M117-117h0M108-119h0m28 0h0m11 0h0M132-120h0m2 0h0M136-121h0M129-123h0m3 0h0M123-124h0M105-125h0m42 0h0M135-127h0M114-128h0m6 0h0m21 0h0M126-129h0m13 0h0M111-130h0m35 0h0M100-132h0m33 0h0M106-133h0m9 0h0m33 0h0M112-134h0m17 0h0M100-135h0M105-136h0m18 0h0M125-140h0m6 0h0M121-141h0m7 0h0m10 0h0M146-142h0M101-143h0m16 0h0m7 0h0M134-144h0M111-146h0M119-147h0M131-148h0m1 0h0M110-149h0m7 0h0m8 0h0M180-151h0M153-153h0m4 0h0m25 0h0M152-158h0M155-159h0m29 0h0m6 0h0M151-160h0m13 0h0m21 0h0m2 0h0M157-161h0M172-162h0m26 0h0M156-163h0M166-165h0m18 0h0m6 0h0M151-166h0m23 0h0m21 0h0M160-168h0M172-169h0m16 0h0M152-170h0m36 0h0M162-171h0m6 0h0m5 0h0M158-172h0m41 0h0M183-173h0M187-174h0M174-177h0m10 0h0m1 0h0M165-178h0m12 0h0m6 0h0m1 0h0M150-179h0m25 0h0m6 0h0m18 0h0M155-181h0m9 0h0M155-182h0M181-183h0M166-185h0m3 0h0M153-186h0m9 0h0m33 0h0M183-187h0M154-189h0M157-190h0m25 0h0m5 0h0M172-191h0m16 0h0M151-192h0m19 0h0m24 0h0M174-193h0m23 0h0M192-195h0M163-196h0m11 0h0m16 0h0M179-197h0M180-199h0"/>
</g></g>
<rect x="1980.2" y="878.5" width="502.7" height="503.2" fill="none" stroke="#000" stroke-width="2.8"/>
<path fill="none" stroke="#000" stroke-width="2.8" d="M2002.9 1383.1v12M2460.6 1383.1v12M1978.8 1359.2h-12M1978.8 901.5h-12"/>
<g font-size="55">
<text x="2002.9" y="1448.7" text-anchor="middle">0</text>
<text x="2460.2" y="1448.7" text-anchor="middle" font-style="oblique">N</text>
<text x="1953.6" y="1378.1" text-anchor="end">0</text>
<text x="1954" y="922.3" text-anchor="end" font-style="oblique">N</text>
</g>
<g font-size="73.5">
<text x="2015.9" y="969.4">3 h</text>
<text x="2231.1" y="1479.4" text-anchor="middle" font-size="74">pre</text>
</g>
</svg></body></html>
